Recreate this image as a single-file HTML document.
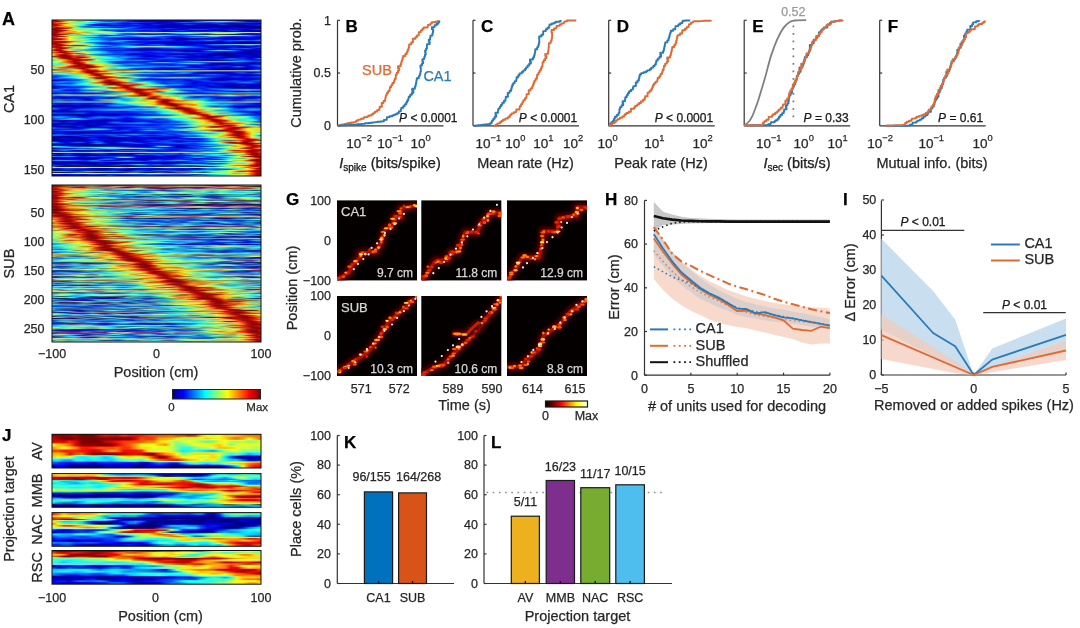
<!DOCTYPE html>
<html><head><meta charset="utf-8"><style>
html,body{margin:0;padding:0;background:#fff;width:1080px;height:628px;overflow:hidden}
body{filter:blur(0.4px)}
svg{position:absolute;left:0;top:0;font-family:"Liberation Sans",sans-serif}
text{stroke:currentColor;stroke-width:0.25px}
.hm{position:absolute;display:flex;flex-direction:column;overflow:hidden}
.hm i{display:block;flex:1 1 0;min-height:0}
</style></head><body>
<div class="hm" style="left:52px;top:20px;width:209px;height:156px"><i style="background:linear-gradient(90deg,#af0000,#d30f0f,#ff9e45,#ffd52b,#daf82b,#bce651,#9dd57b,#79bc7b,#4da65f,#129095,#008fcf,#007de8,#107afb,#106efb,#0466ee,#076ff2,#146ffe,#114afc,#051df0,#060cee,#0506e1,#0303d6,#0101d3,#0101d0,#0303c4,#0303c3,#0101c6,#0202e9,#0202d7,#0303c1,#0404db,#0610f1,#001be3,#0032d9,#003cc8,#002da8,#002f8a,#002e8c,#003d99,#00319c,#002a86,#001e87,#001396,#0008a7,#0000c7,#0303d6,#0811f2,#164cff)"></i><i style="background:linear-gradient(90deg,#bd0b0b,#be0000,#b52a00,#dd9c00,#e3ff34,#bae44f,#8cc46a,#8bcf8d,#a8ffba,#6fecf1,#31dcff,#1494ff,#0069ea,#005ce9,#0b6df6,#0871f3,#0056e5,#0032e4,#021aed,#0004e6,#0001dc,#0202d5,#0303d5,#0303d2,#0101c2,#0101c0,#0303c7,#0202e9,#0202d8,#0101be,#0000d7,#000aea,#1032fa,#1d62ff,#318fff,#4bb4ff,#5dcbff,#69ccff,#64ceff,#5dc9ff,#50baff,#4092fb,#2e65e8,#1b37d6,#090dd4,#0101d4,#0007e8,#002adf)"></i><i style="background:linear-gradient(90deg,#bd0707,#ff4514,#ff7e2d,#ffd74b,#b9e752,#86f77f,#85fe8e,#6bfea6,#32f9d5,#06d9ef,#17bbff,#2ea7ff,#369eff,#2890ff,#1976ff,#1956ff,#1735f8,#142ef3,#1b43ff,#193bff,#1225e8,#1020e3,#1123ea,#0b16e8,#0202d7,#0101d9,#0002dc,#0406eb,#1226ee,#2350f6,#275cfd,#214aef,#224ce7,#285aea,#295dec,#224ef8,#1549ff,#1b64ff,#3072ff,#285af2,#1b3be7,#1f45e8,#2451ed,#1d40ec,#1833de,#172fd3,#1222cf,#152ad2)"></i><i style="background:linear-gradient(90deg,#b90303,#e72d00,#d23700,#bb7300,#b9e752,#8dfe86,#7df686,#64f69f,#33fad6,#16e9ff,#00a3e9,#005bcd,#0041c4,#004fd2,#0053e0,#002fdd,#000ed1,#000cd1,#0015d8,#0011d7,#0008cb,#0006c9,#0008cf,#0005d7,#0202d7,#0404dc,#0608e3,#0103e8,#000ad2,#0013b9,#0016b8,#0010b5,#000fab,#0013a2,#0014a2,#0013bd,#002ae0,#003bdc,#001db9,#0014ab,#000cb8,#000eb2,#0011ad,#000eba,#0009b4,#0006aa,#0003b0,#0005ad)"></i><i style="background:linear-gradient(90deg,#a10000,#b50b0a,#ff5915,#fad80f,#ddeb2a,#bdff69,#7bffa2,#25fbec,#088cf2,#002ae5,#000bea,#0304e8,#0c1aed,#142deb,#1b3ce4,#1732e4,#0d1cf2,#0317ee,#0d26f8,#1634fc,#0620f0,#0003e1,#0303d6,#1023e9,#0e1de5,#0404d3,#0101c4,#0000c3,#0303ba,#0404cb,#142bdf,#1a3bf1,#0c18e7,#0303ca,#0404b2,#0404af,#0404aa,#0606ba,#1831d8,#1730d3,#0707b4,#030390,#03038e,#0606a8,#0a11dd,#0306ed,#020deb,#0424ed)"></i><i style="background:linear-gradient(90deg,#c21515,#a90000,#e84100,#fcda12,#e2f02f,#a3eb4f,#69f18f,#1bf2e2,#0b8ff5,#0f40fa,#0712f1,#0202e7,#0007db,#000bc9,#000db5,#000bbc,#0009de,#0317ee,#0013e5,#000fd7,#011beb,#0609e8,#0101d4,#0008cf,#0006cf,#0000d0,#0303c6,#0404c6,#0101b8,#0000c6,#0008bc,#000fc5,#0006d4,#0101c7,#0000ad,#0000ab,#0000a6,#0000b3,#0008af,#0007aa,#0000aa,#00008d,#00008c,#0000a0,#0003ce,#0104eb,#040eed,#0424ed)"></i><i style="background:linear-gradient(90deg,#900000,#e83d22,#ff8436,#ff821f,#ffb939,#b6e25e,#1dc8bc,#0083e1,#0059de,#0374ed,#118bfc,#1478ff,#085af2,#0544ee,#1036f9,#1532fc,#072cf1,#002add,#0033dc,#0032ea,#081bf3,#070be2,#090ed6,#0a11d1,#0404b0,#0303a2,#0101a9,#0101a8,#0000ae,#0000bd,#0000b6,#00009e,#01019c,#0303b0,#0303b6,#0000b3,#0000b3,#0000aa,#020299,#020296,#00009d,#0000ac,#0000a0,#02028b,#02028b,#02028b,#02038a,#03038a)"></i><i style="background:linear-gradient(90deg,#dc4c2c,#b20700,#c92d00,#e25b00,#cb6400,#abd753,#4af5e9,#1ca9ff,#1c81ff,#0e7ff8,#0079ea,#005fe5,#0558f0,#0646f0,#001ee2,#0010da,#0126ec,#1850ff,#1a5bff,#0a3df5,#0011e9,#0002d9,#0001c9,#0001c1,#0000ac,#00009f,#0202ab,#0202aa,#0303b1,#0606c6,#0606bf,#0303a1,#02029d,#0000ac,#0000b3,#0505ba,#0505b9,#0404ae,#010198,#010195,#0404a2,#0505b3,#0404a5,#01018a,#01018a,#010189,#000188,#000187)"></i><i style="background:linear-gradient(90deg,#870705,#8a0000,#a60000,#a92200,#a98010,#aaff7b,#68faa1,#65f49b,#7af488,#6ff697,#2bf7de,#2ce4ff,#42daff,#38ddff,#23cdff,#24b2ff,#229bff,#1570ff,#0543ef,#0027e4,#001ddd,#001ee3,#0020e8,#001de5,#0011e4,#0a18f2,#1633ec,#132be2,#080fdd,#0303e1,#0202e8,#0009df,#000dd1,#000dcf,#000dcf,#000ada,#050def,#0c1aea,#0406e4,#0002e3,#0006e8,#080ee8,#0a13de,#080fdf,#0404cc,#0001c1,#0008af,#0008a8)"></i><i style="background:linear-gradient(90deg,#830302,#950909,#d1251b,#ff8e40,#f5cd5c,#91ed61,#69fba2,#6ffea5,#82fc90,#73f99b,#2af5dd,#00b6d7,#0088bf,#009aca,#009cdd,#007dda,#0067d9,#0054e4,#0644f1,#103dfb,#1742ff,#0f35f9,#092af2,#0b2cf4,#0b21f4,#0009e3,#000ec7,#000ac2,#0003d1,#0202e0,#0202e7,#0f21f7,#1734f9,#1734f6,#1835f7,#1124f4,#0109eb,#0008d8,#0102e1,#0507e8,#070ff0,#0005de,#0004cf,#0004d4,#0000c9,#0b12d2,#1831d8,#1a35d5)"></i><i style="background:linear-gradient(90deg,#b50606,#870000,#a30000,#aa2000,#eb9c06,#ffe639,#d9f62b,#90ff87,#6dfda2,#6ef18a,#58e78d,#38a47c,#0b7089,#005fb3,#004ed5,#0135eb,#012eec,#003ee7,#0047e9,#0030e8,#0014e4,#000fe4,#001ceb,#0527f0,#051cf0,#0303e8,#0609e0,#0d1be3,#122aec,#1738f9,#122dfc,#0006dd,#0009ca,#0009d0,#0006d0,#0007d1,#000ad1,#000ab3,#0005c3,#0303ca,#1023e4,#1b3fe8,#1329dc,#0303cf,#0000be,#0001ae,#0305a2,#0305a2)"></i><i style="background:linear-gradient(90deg,#b30303,#930909,#c21514,#ff7a35,#ffb31c,#d0ad00,#e3ff34,#84f57b,#68f89d,#80ff9d,#7dffb2,#8af6cd,#78ddf6,#4bccff,#2589ff,#093df4,#0835f3,#0e50f9,#0d55f8,#0d40f7,#0e29f9,#0d23f8,#0724f2,#0325ee,#0118ec,#0202e7,#0002d9,#0007cf,#000cce,#0012d2,#0010df,#0810e7,#0e20e0,#0c1ce3,#0913dd,#0c19e3,#132af0,#1a38e1,#0f1edc,#0101c8,#0009c9,#0011ba,#0009bc,#0101cc,#0404c2,#0303b0,#00029f,#00029f)"></i><i style="background:linear-gradient(90deg,#9d0505,#a60000,#f15107,#ff861d,#ff7e24,#ffa827,#ffc11f,#d9b601,#9bbb53,#91dc83,#a2ff86,#abff81,#b1ff6f,#9cff83,#7fffa4,#83f1be,#7ddfe4,#71d9f9,#80e0e6,#a1e4cd,#bddad3,#c3dbcf,#bad7b9,#afc8ae,#b9d3b8,#c0d5d4,#abd7d7,#8fdfd2,#6de6d2,#5cedca,#6bf6b5,#91fe99,#90da8e,#9fe19e,#afe9b6,#b5e3b4,#95ed93,#a7fb72,#a7f15f,#a6ed5b,#9ff46f,#90fd94,#abe9b1,#b7d5d5,#d1d4c4,#cdc0bb,#d4d5bd,#c4d3c2)"></i><i style="background:linear-gradient(90deg,#9b0303,#b50c0c,#f8570d,#e56400,#dc4a00,#de7500,#e9a000,#ffe631,#b4d46c,#84cf77,#84e268,#8aeb61,#9df25b,#88f170,#66eb8b,#48b783,#1f8085,#086f8f,#1c7c82,#367862,#2d4a44,#324a3e,#496648,#546c52,#4a6348,#2b4040,#285354,#2f7f72,#31aa96,#3ccca9,#54de9d,#70dc78,#78c277,#68a966,#4f8955,#507e4f,#75cc73,#99ed64,#acf664,#aff664,#9aef6a,#73e177,#518f57,#2a4847,#292c1c,#322521,#2b2c14,#1d2d1c)"></i><i style="background:linear-gradient(90deg,#850000,#9a0000,#8a1000,#963a00,#86b870,#95dc7a,#8dbc69,#96ce80,#a0ffaf,#63f5dd,#3beaff,#31aeff,#46acff,#6cd2ff,#50d6ff,#1a89ff,#0058e3,#005fd5,#0042bb,#004eac,#004898,#003586,#002c7d,#003585,#004a97,#004da8,#0048ba,#0042c8,#0042d8,#0042e9,#004bdc,#0048c7,#0048ae,#00488d,#05406c,#163750,#2b4b45,#3c5a4c,#3c5046,#303f3a,#1a2f41,#013049,#002c58,#002a76,#002492,#0019aa,#0011cf,#0935f1)"></i><i style="background:linear-gradient(90deg,#8e0808,#b21010,#e46b35,#ffb663,#96c87f,#8ed673,#9dcb79,#86be70,#59ba68,#29bca3,#00acc8,#0063cc,#0038ae,#004290,#005eae,#0065e1,#1676ff,#269bff,#40b2ff,#51c3ff,#65c6ff,#76c2ff,#7dc0ff,#77c2ff,#66c7ff,#55c4ff,#41baff,#3196ff,#1f73ff,#0e52f8,#1c75ff,#339fff,#4ebfff,#70c8ff,#92cdf9,#afd0e9,#bcdbd5,#b5d4c5,#bacfc5,#c6d5d0,#b7cddf,#9bcbe3,#7fc4f0,#5fbcff,#449fff,#306fff,#1d42ff,#002ce8)"></i><i style="background:linear-gradient(90deg,#d52216,#a80200,#802a00,#c95200,#ddec26,#b6ff60,#75f992,#3afadf,#58ebe9,#55dfff,#31bdff,#1271fc,#1892ff,#2fbcff,#3dc6ff,#36b9ff,#248dff,#1767ff,#1a66ff,#2b82ff,#42a8ff,#3bbbff,#2da4ff,#2984ff,#1e6aff,#0853ef,#0032e9,#0921f3,#122af3,#1432f6,#1244fc,#0451ef,#0056e4,#0057df,#085ee3,#2181f7,#45b2ff,#4fb1ff,#3a73ff,#2b48ee,#2235ef,#182bf3,#122ff3,#1631f8,#1b41f5,#1638fe,#0b1af5,#1126dc)"></i><i style="background:linear-gradient(90deg,#b30000,#db3520,#ffb650,#ffa83a,#e7f630,#acf656,#78fc96,#29e9ce,#1baeac,#018bad,#006dcc,#005ce7,#0073e2,#0071ce,#0068c1,#005ec6,#0056d7,#0045e0,#003fde,#003ccd,#003ab5,#0060c2,#0066cf,#0049d0,#0041d9,#0853ef,#0b3ff6,#0016e9,#000dd6,#0011d5,#002be3,#0855f3,#1570fd,#1a74fc,#166df2,#0363da,#0052b7,#003ba9,#0023b1,#0013b8,#000ec8,#0013da,#001ce0,#000fd6,#0014c8,#0014da,#000ae6,#0009bf)"></i><i style="background:linear-gradient(90deg,#9f0000,#b91411,#e22216,#fc7111,#e4ff30,#a6f050,#8be571,#68ec87,#2bf3db,#1cd8ff,#089af3,#0374ee,#0957f4,#0341ed,#002dea,#0015eb,#000ae8,#0009e2,#0305de,#0203de,#0202e2,#0306db,#0408ca,#0305ce,#091bf3,#0a3df5,#0011e0,#0007b1,#0000ae,#0000ac,#0304ad,#060aaa,#060dac,#000ebe,#0011bc,#000ccb,#000ad6,#000cd5,#0009da,#0304e6,#0303d6,#0101be,#0001b6,#0101d2,#0408eb,#0205ed,#0005db,#000db5)"></i><i style="background:linear-gradient(90deg,#b00c0c,#a00000,#c20300,#ef6405,#def92a,#bcff66,#99f37f,#83ffa2,#2df5dd,#00b8e6,#0c9df6,#0d7df7,#0452ee,#0847f3,#0a38f5,#071cf2,#0611ee,#0711e9,#0204dd,#0203dd,#0303e2,#0104d8,#0004c6,#0104cd,#0011e9,#0033ea,#0f28f6,#1225cf,#0606b7,#0404b1,#0103ab,#0003a2,#0005a4,#0717c7,#0e28d3,#0a1ad9,#0c1be8,#152ff8,#1022f3,#0102e4,#0101d3,#0304c0,#0405ba,#0303d3,#0104e8,#0205ed,#0a13e9,#1d3fe7)"></i><i style="background:linear-gradient(90deg,#bb0a0a,#dd5c2c,#ea7836,#ffa545,#ffd358,#ded968,#b2dd69,#8dee64,#45f1b3,#19eee4,#0be3f5,#0bb7f6,#0784f1,#0062e6,#0074e1,#0599ef,#1ea5ff,#2d8dff,#2565ff,#1a44f7,#112cf5,#0826f2,#0d33f5,#173ef6,#1535eb,#132eea,#122bef,#0b1af2,#0004e1,#0002d9,#060ee7,#112ef4,#103af7,#1032fb,#1841fc,#286cff,#2769fd,#1839e7,#0d1ee6,#0c37f6,#0e51f6,#1a4dff,#2460f2,#2868ea,#1f4de3,#1d48e6,#2868f2,#2f79ee)"></i><i style="background:linear-gradient(90deg,#af0000,#931300,#8e1c00,#902f00,#ad5e00,#9f9928,#a0cb56,#a8ff7e,#56ffc5,#23f9ee,#10e8fb,#0bb7f6,#0b88f5,#147bfe,#1b99ff,#0fa3fa,#007cdf,#0042cc,#0027c9,#0019cc,#0011db,#001eea,#0021e4,#0018d0,#0012c8,#000fcc,#000fd2,#000ae2,#070dea,#0608e0,#0006e0,#0013da,#0022df,#001ae3,#0018d3,#0028bf,#0026ba,#0012c0,#0009d1,#0028e6,#0041e6,#0023d9,#0022b4,#0023a6,#0018af,#0017b5,#0024ae,#00279c)"></i><i style="background:linear-gradient(90deg,#b30e0e,#ab0505,#ba0400,#a21e00,#d47d00,#dbea24,#92eb64,#4df3af,#14b8c5,#0089d8,#0066eb,#1252fd,#183ffd,#1636f1,#1a40f6,#1c4fff,#1158fb,#0041eb,#0024d9,#001cd8,#001de7,#0410ef,#0304e2,#0001d4,#0002cd,#0000d0,#0000c8,#0101c3,#0102c1,#0202c9,#0101c8,#0000b9,#0001bd,#0304d4,#0303cc,#00009f,#00009c,#00009a,#00009a,#0305b7,#070ace,#0404c0,#010198,#010190,#000091,#000098,#0000a6,#0000a8)"></i><i style="background:linear-gradient(90deg,#9f0000,#a90303,#e32c1a,#ff8d41,#ffc532,#e9f832,#a7ff79,#5affbc,#3fe2f0,#27beff,#0f74fa,#0038e4,#0017d5,#0012cd,#0015cb,#0021d9,#0042e6,#0b4cf6,#1a4eff,#1945ff,#0b2bf5,#020dec,#0203e2,#0507da,#080ed9,#0506d6,#0404cb,#0303c5,#0304c3,#0203c9,#0202c9,#0404be,#0405c0,#0101d2,#0101ca,#0303a2,#03039f,#04049e,#04049f,#0002b4,#0001c5,#0000bc,#02029a,#020291,#030393,#04049d,#0505ae,#0d17bf)"></i><i style="background:linear-gradient(90deg,#c00500,#a00000,#ae0f0c,#fe5626,#ffdb5d,#a8cdae,#bfce9e,#dbcf8a,#cfdc68,#65f094,#05cbe0,#008cdb,#0067d7,#0048d9,#0031de,#0049e6,#006de9,#0064e4,#0046df,#0028de,#0018df,#001de2,#0740f1,#125efd,#0354ee,#0030dd,#000cdd,#000ad5,#0007cf,#0003c8,#0004c3,#0006c2,#0007e6,#0b1cef,#0a19e7,#1642fc,#176dfd,#1983ff,#238aff,#38acff,#52b4ff,#69b9fb,#7bbbed,#81bfe0,#77c8d4,#70c7db,#70baf9,#60bbfd)"></i><i style="background:linear-gradient(90deg,#e62c1a,#b60f0f,#9e0000,#c31b00,#824b00,#335839,#485827,#645813,#9fac38,#76ffa6,#24eaff,#24bfff,#249eff,#1c73ff,#154ffd,#115ffc,#117ffc,#167fff,#196aff,#174cff,#1337fe,#1136fb,#043dee,#0047e5,#0a5af4,#1957ff,#132bfc,#1226f2,#0f1ee6,#0a12d7,#0c17d6,#0f1fdb,#0913f2,#000ddf,#000ad9,#001fd9,#004bdc,#0060dc,#0054d3,#004dbf,#0049a4,#004d8f,#0a4a7d,#185777,#267783,#20778c,#024d8b,#004687)"></i><i style="background:linear-gradient(90deg,#cc0f00,#a30000,#d01a12,#ffb944,#caaf66,#abc843,#b4cf32,#99d140,#5cda86,#2fa599,#0089bd,#0059d3,#0046df,#0057e7,#0671f1,#1b90ff,#25bcff,#27e1fa,#3be8dc,#5be1d0,#7cd7cc,#92d4c7,#9dd1c3,#99d4bd,#90dcbf,#7fe0c6,#65d9cf,#4ad6df,#2dd1f3,#15c0ff,#0c99f6,#0474ef,#0050e9,#003ce8,#001ee4,#0006da,#0207d2,#0409c2,#0306b6,#0303bc,#060ff0,#001aea,#0005e6,#0406d0,#050bd8,#0012d3,#000dde,#0040e5)"></i><i style="background:linear-gradient(90deg,#ea2d16,#ab0808,#b70100,#a44a00,#957a31,#bfdc57,#d2ed51,#c6fd6d,#83ffad,#6be1d5,#43ceff,#289aff,#1869ff,#126dfd,#0973f4,#006ae0,#0086da,#0ac4dd,#2ad7cb,#35bba9,#379287,#3b7c70,#3f7365,#45806a,#449174,#3e9f85,#35a89f,#24b0b9,#10b3d5,#01adec,#0795f2,#0c7bf6,#0e60f9,#0c4af6,#0c2ef5,#0b16e9,#0308d3,#0106c0,#0104b4,#0101ba,#0007e8,#0722f2,#060bec,#0103cd,#0006d3,#0c23e5,#122bfb,#0d4ff4)"></i><i style="background:linear-gradient(90deg,#ffc328,#d71a12,#a90000,#a82500,#abb946,#a4ee78,#aae67e,#a3ff9f,#54f2ea,#24b1f8,#117af2,#0a53f4,#073ff2,#0032ea,#0030e8,#0037ea,#053aef,#0a2bf4,#0f21ec,#0d1cd6,#0a13c4,#0810d0,#080ed4,#0911d0,#0b15de,#132ce8,#1533eb,#183cec,#1a43f1,#1635eb,#0e1eee,#041bef,#081cf3,#0e1ee0,#1124d3,#1127d4,#0a19e8,#000be2,#000ddc,#0815ec,#112ce3,#183ee1,#1942dd,#1e51da,#1f55e2,#112ceb,#020ad3,#0012ab)"></i><i style="background:linear-gradient(90deg,#df9000,#bf0100,#b90c0c,#ff9b45,#c2d05d,#91db65,#8ac55e,#6acb66,#1bb9b1,#0795db,#0871ea,#034ced,#033bee,#0a3cf5,#0d40f8,#0b42f5,#053af0,#0020e9,#0009d5,#0007c0,#0005b5,#0003c3,#0003c9,#0004c3,#0003cd,#000dca,#0010c8,#0013c3,#0017c5,#0010c6,#0009d9,#0319ed,#0013e9,#0008ca,#0008b7,#000bb8,#000ad9,#0d1ff6,#122af9,#000ce3,#0010c8,#0016b9,#0018b3,#001ea8,#0020ae,#0011cf,#030ad4,#0f2ac4)"></i><i style="background:linear-gradient(90deg,#a53f00,#8c0600,#ab0404,#ef6a32,#f9d370,#9ec6af,#70c79f,#4ac484,#24b0a6,#10a5b8,#0095c3,#0074ce,#0048d5,#0020dc,#001ad2,#001ad4,#001bdf,#001cdc,#0012d4,#000ecc,#000bc7,#0008c8,#0009cf,#000ed1,#0014d6,#0011dc,#0009d7,#000abf,#000ab8,#0004c4,#0000c4,#0306b2,#0304ba,#0404cc,#0f2adf,#1f61f7,#309aff,#4cb5ff,#5bbaff,#4eafff,#32a3ff,#216bff,#1032f0,#0202d9,#0101b8,#0000af,#0203bf,#070cbb)"></i><i style="background:linear-gradient(90deg,#ffa357,#d6512b,#ac0505,#9c1700,#855f00,#537b64,#65bc94,#83fdbd,#5feae0,#4be0f3,#3fd5ff,#30c1ff,#2482ff,#1846ff,#153bf3,#153df7,#143bff,#1843ff,#1d43ff,#1a3af7,#152eeb,#1124e5,#1125ec,#1836f9,#183cfd,#112cf7,#1024f1,#1630e4,#1731df,#0d19d8,#0404c8,#0003af,#0102b7,#0000c8,#0013c9,#002ec4,#0049c3,#0052b0,#0052a2,#004fad,#004ec1,#0034cd,#001ad7,#0202da,#0303ba,#0404b3,#0202bf,#0001b0)"></i><i style="background:linear-gradient(90deg,#d46b00,#d83100,#990e00,#b90101,#f45b23,#e6af5c,#f4c069,#ffde50,#c2f441,#5ffaaa,#2ef8ec,#1ce6ff,#10affb,#006beb,#0044e8,#003fea,#084cf2,#124efd,#1740ff,#163dfc,#1132fb,#0513f0,#000fe5,#091cf4,#1435f5,#1334f3,#1332ed,#173eed,#1a4bf7,#1b4cec,#153ce7,#1745e2,#163ddc,#0b1fe5,#0c21ea,#102ce7,#0b1adf,#0505c9,#0506b7,#0505b8,#080bcb,#0d1cd4,#0202ca,#0000aa,#0000a5,#0000b1,#0303cd,#0101cd)"></i><i style="background:linear-gradient(90deg,#ffa32f,#ff6925,#e95e2f,#c00909,#bf2600,#a66f1c,#915d07,#b79103,#ccfe4b,#60fbab,#1be5d9,#00c8e8,#05a3ef,#107bfa,#0e55f9,#0b4bf6,#0448ee,#0034e3,#001cdb,#001bda,#0019e2,#010eeb,#0717ed,#0010e8,#0016d6,#0016d4,#0014ce,#0018c8,#0020cc,#0020c0,#001ac4,#001ebc,#001ab9,#000fd5,#0010d9,#0014cf,#000acf,#0000c3,#0000b0,#0000b1,#0000bf,#0008c0,#0101c9,#0404ae,#0404aa,#0303b4,#0101cb,#0303d0)"></i><i style="background:linear-gradient(90deg,#c4fd54,#f6540b,#b22215,#a50c0c,#e63d19,#ffb344,#a8a384,#888e89,#679b68,#199eb5,#0094e5,#0073e9,#0056e2,#0046da,#0030d3,#0042df,#003ae7,#0011e1,#0009cd,#0008c3,#0006ca,#0203df,#0509eb,#070fed,#0421ec,#0325ea,#000ee2,#0008c7,#000bba,#000cb1,#0006ba,#0101ca,#0710da,#091bf0,#0406e8,#0202b4,#0101ac,#0000b6,#0000aa,#000092,#010191,#0202b2,#0404d5,#0101d7,#0000ba,#0101a4,#0404ae,#0003de)"></i><i style="background:linear-gradient(90deg,#b9f248,#f35209,#930200,#960000,#c11800,#c06f00,#7b7657,#767c78,#9cd09e,#4dd2e9,#1ab4ff,#1286fc,#1775ff,#1e75ff,#246bff,#1866ff,#0e4cf9,#102bfb,#1226ea,#1124df,#0c18dc,#0305e1,#0003e5,#0008e5,#0320eb,#0528ed,#0a1bf0,#1125e4,#1732e1,#1b3be0,#1021d5,#0303cb,#0008d2,#000fe5,#0104e6,#0101b3,#0202ae,#0505bd,#0505b0,#030394,#020292,#0101b1,#0101d2,#0303d9,#0709c3,#0202a5,#0000aa,#0509e4)"></i><i style="background:linear-gradient(90deg,#794900,#b32500,#c10000,#830000,#a00404,#f42609,#d62018,#e04122,#ff8823,#e0dc1a,#9ef76d,#6cea93,#44e2ac,#11c4cf,#009ae4,#007eea,#0087e9,#0076e9,#015fec,#014aec,#001fe6,#0007d1,#0005cd,#0006d6,#0009d8,#000ee8,#0027e4,#002ee4,#0019e8,#0612e0,#070ce3,#0507da,#0404da,#0303d3,#0101c0,#0000c7,#0202e4,#0a1ae9,#0811de,#0404c4,#0202ae,#0000b3,#0002c2,#0007c8,#0103de,#0202c6,#0101b1,#0304af)"></i><i style="background:linear-gradient(90deg,#deae4b,#f76a2b,#cf0c0c,#880606,#a00404,#f02306,#b10000,#a90b00,#de5800,#f2ef2c,#9ef76d,#77f59d,#5cfac4,#36e9f4,#1cbcff,#1291fd,#149dff,#138bfd,#0d6cf8,#0b53f5,#0c30f7,#0c19e3,#0c17df,#0c18e8,#0711e0,#0919f3,#103dfa,#1044fb,#0a25f5,#000bd9,#0003da,#0002d5,#0101d7,#0101d2,#0202c1,#0404cc,#0303e5,#000ddc,#0007d3,#0000c0,#0101ad,#0303b6,#090fcf,#0f1edf,#0406e1,#0202c6,#0202b2,#0102ad)"></i><i style="background:linear-gradient(90deg,#79ffa6,#bcd548,#b04d00,#9e1400,#a60000,#b21310,#c72e17,#e29132,#c2b875,#accbac,#73e886,#30f7d3,#2af6f4,#2defff,#18ddff,#03b6ee,#048def,#0554f0,#002de9,#0022e2,#0019dc,#0010e8,#0215ed,#021bec,#0d3ff7,#1341fd,#184afc,#1b52f8,#194df7,#1542f4,#0e29e6,#060dd9,#0712dd,#0a1de5,#0918e3,#0812df,#0710e9,#0317eb,#0018e4,#002de2,#0556e7,#0854ee,#0031e7,#0020e1,#0009dd,#0002dc,#1340e9,#2a8feb)"></i><i style="background:linear-gradient(90deg,#64ef91,#c1da4d,#ffa650,#f86e35,#b60c0c,#9b0000,#a50c00,#924100,#5e5411,#517051,#84f997,#36fcd8,#12dfdd,#05c7d8,#01c6eb,#14c7ff,#0f97f9,#0756f2,#0b3af5,#123cfc,#1134f7,#091cf4,#0417ef,#051ef0,#0030e8,#0026e1,#0023d5,#0025cc,#0025ce,#0022d3,#0015d2,#0005d2,#0008d4,#000fd7,#000cd7,#0007d5,#0008e1,#0316eb,#071fec,#0a37ec,#0858e9,#0551eb,#0d42f8,#133cfd,#0d1df1,#0609e2,#0022cb,#0048a5)"></i><i style="background:linear-gradient(90deg,#4dcc8c,#95f66c,#d2e838,#f57d0a,#f13413,#9c0202,#a50000,#bd2800,#936714,#a2a741,#aaff71,#5dfdb2,#34f0e0,#3cd6fd,#3acbff,#34adff,#2786ff,#1e6eff,#206cff,#2578ff,#2476fd,#1d5ff5,#1747ef,#1132ec,#0b1de9,#0813e7,#0818ea,#0623ec,#0029e4,#002cda,#0035cf,#003fc4,#002ab2,#002190,#001f8b,#002182,#001c70,#001e62,#00236e,#002a8b,#0038a9,#0054c2,#006ed7,#0072e5,#0055e8,#013aec,#0134e7,#002ed3)"></i><i style="background:linear-gradient(90deg,#7bfabb,#a0ff77,#d4ea39,#f8800d,#da1c00,#a00606,#bc1010,#ff7631,#dfb35f,#c3c862,#9bf061,#57f7ad,#26e2d2,#049ec5,#0074c5,#0055c7,#0046d2,#003ed9,#0038d5,#003bc6,#003ac1,#002fc6,#0023cb,#0018d1,#000dd8,#0009dd,#000de0,#011ee7,#0b36f1,#174ffd,#226dff,#2e8eff,#4198ff,#5699ff,#669cff,#71a0ff,#799ff4,#78a1e5,#72a0ec,#649fff,#51a0ff,#3aabff,#25a6ff,#168dff,#1066fa,#0942f4,#083bee,#1651f5)"></i><i style="background:linear-gradient(90deg,#69ffae,#a9ff78,#a2d269,#c3840e,#e34200,#b20404,#9b0909,#fa2f18,#f3d82a,#6cf492,#88f579,#86f57a,#42eeb7,#00b5e7,#0061e8,#0030e4,#0037e8,#002bdd,#0043e0,#003ade,#002bd9,#002adc,#1261f6,#299cff,#4ca4ed,#55a4ea,#3ba3ff,#1f87ff,#025cec,#0070db,#0077c3,#087ab4,#077dbb,#0079ce,#085bdb,#1d44df,#2d3be0,#2f3dca,#2d3cbb,#283bb7,#2139c5,#123bd6,#0d34dc,#0f24cf,#0d1cb8,#0a12ad,#0a11b7,#0f1cd6)"></i><i style="background:linear-gradient(90deg,#5cf3a0,#94f163,#9fcf66,#f6b742,#fe5d17,#b20505,#900000,#d80d00,#e0c517,#79ff9e,#93ff83,#91ff85,#51fdc7,#1bd3ff,#1276fc,#1047fb,#0e48f8,#1850ff,#1662ff,#1456fa,#154bf9,#1143f5,#004ade,#005bc8,#025aa3,#0a5a9f,#0061be,#0058da,#0c67f7,#21a1ff,#3bbaff,#4bbdf8,#44baf8,#2fafff,#1e71f1,#0c33ce,#000cb1,#000a97,#000a89,#000b87,#000e9b,#0023be,#0022ca,#000bb6,#0006a2,#00029d,#0002a7,#0003bd)"></i><i style="background:linear-gradient(90deg,#49f8d9,#46f9c2,#49f0ac,#83ee79,#f3c043,#e03c16,#950606,#a30000,#c83019,#fd6231,#fac922,#daf334,#ade25e,#8be78a,#6bdcb2,#1dc8f5,#0c8af7,#1470ff,#217aff,#2380ff,#186eff,#0b52f6,#003ae6,#002ee3,#002ce3,#0029e1,#001fe7,#011fec,#0238ed,#013fe6,#1144d4,#263cdd,#263dea,#1f49ff,#1329e5,#0912c6,#0202b0,#0001c0,#0005b8,#0007bc,#0004d6,#060ad7,#070bbd,#0303c0,#0001dc,#001ed5,#0027cf,#0014c2)"></i><i style="background:linear-gradient(90deg,#2eddbe,#47fac3,#5effc0,#92fd88,#c28f13,#c11d00,#900202,#ab0808,#a20900,#c42900,#e6b60f,#d9f233,#abe05c,#7fdb7d,#53c59b,#0db8e5,#0582f0,#0056e5,#0046d8,#0048d6,#004ce0,#0148ec,#104ffb,#1044f9,#0e3ef5,#1142fa,#0c2ff7,#0724f1,#083ef2,#0a48ef,#0538c8,#000fb0,#000dba,#0017d0,#0009c6,#0004b8,#0202b0,#080ccb,#101fd2,#1225da,#0911e3,#0003d0,#0002b3,#0101be,#0506e1,#0f34eb,#184df4,#2454ff)"></i><i style="background:linear-gradient(90deg,#c3b61e,#f1cf3a,#ffc03b,#ff8123,#de1b00,#ab0100,#b10000,#c60c0c,#8a0505,#9f0000,#c43400,#d47a00,#dad420,#a4e26d,#6acd99,#46c08d,#1eacad,#03a4c7,#009bd7,#0092e3,#0696f1,#0b92f6,#108dfb,#1380fd,#166cff,#1d63ff,#2178ff,#2280ff,#2482ff,#2174ff,#134ffe,#061af0,#0202da,#0202d3,#081eea,#0829e9,#061be9,#0a20f0,#0d24ec,#0a15e6,#0915e5,#1242e8,#1a64e5,#113cd9,#0606d3,#0912e2,#112df8,#2168fb)"></i><i style="background:linear-gradient(90deg,#eadc45,#ceac17,#ca7b00,#de5200,#ed290e,#cc2216,#c71310,#b80000,#870202,#a70808,#dc4d14,#ffab30,#ebe531,#9cda65,#6dd19c,#7af4c1,#57e5e6,#3bdcff,#2ad4ff,#1cb6ff,#0d9df8,#078ef2,#017eec,#006ae8,#004ce2,#0036d7,#0043cc,#0049cc,#0049ce,#003fd7,#0034e2,#0115eb,#0202da,#0202d3,#0014e0,#0021e2,#0116e4,#0012e2,#0010d8,#0006d7,#0009d9,#0027cd,#003cbd,#0022be,#0000cc,#0005d6,#0013de,#0031c4)"></i><i style="background:linear-gradient(90deg,#72e0ff,#bdd297,#af8c65,#a5855b,#9ca450,#b4801c,#a82900,#9e0000,#cd3012,#ff9a26,#ffbc37,#e1f52e,#96ff84,#65e8c0,#41d0e3,#4ddeef,#3fd6ff,#29acff,#1064f9,#033edd,#022fde,#002ee3,#0024e3,#0814e5,#050ae7,#0005e2,#0101d9,#0303be,#0404d7,#0b22e3,#1443e6,#1753ea,#1756e5,#154cde,#0e33ee,#051aef,#0405da,#0404b2,#0303a8,#0303b1,#0303a7,#0202a9,#0000b2,#0000a7,#0000b8,#0007dc,#0017dd,#0026df)"></i><i style="background:linear-gradient(90deg,#02708e,#6c8147,#9c7952,#a6865c,#b5bd69,#e8b550,#ff8d46,#c12217,#b51900,#d46500,#cf8100,#dff32c,#87f175,#46c8a1,#1fadc1,#14a6b6,#0097c2,#007ed5,#0053e8,#0743e1,#0734e4,#0f42f7,#0a2fed,#000bdb,#0005e1,#0810ed,#0303db,#0101bb,#0000d3,#0013d3,#0024c8,#0030c7,#0032c1,#002bbe,#001fda,#0217ed,#0001d6,#0000ae,#0000a4,#0000ae,#0000a4,#0202a9,#0404b6,#0404ab,#0303bb,#0c18ed,#1437fd,#0d37f0)"></i><i style="background:linear-gradient(90deg,#9d831e,#b89419,#ca992c,#d08d31,#da983a,#efc22b,#ffdb25,#fb3613,#a90909,#ab0d0d,#d31b15,#ff9435,#e88438,#c49c25,#b4a21d,#b38a14,#b67917,#b28713,#9e9b32,#88b75e,#7fcf7e,#82d591,#84cc82,#79a878,#7fab7d,#7dc088,#69ba8e,#5eb78f,#5db29c,#71af98,#8daa80,#8ba07e,#86ac8a,#7da69c,#96a4a0,#a1a69f,#90a2a6,#85a0a0,#8fa28a,#94a28d,#8ca09a,#89a19d,#85a1ab,#80a0ae,#84a1aa,#92acac,#95b7b8,#8ab0c1)"></i><i style="background:linear-gradient(90deg,#e7cd68,#edc84e,#d9a83a,#d28f33,#c98629,#ddb019,#e4b803,#e52100,#a00000,#9a0000,#b30000,#b43e00,#c96619,#e1ba42,#ead753,#f2c853,#edb04e,#f2c753,#d4d168,#a9d87f,#89d888,#75c884,#84cc83,#8cbb8b,#86b184,#7dbf88,#76c79b,#6ac39c,#5db29c,#619f88,#769369,#788d6c,#6b916f,#567f75,#5b6865,#61655f,#536569,#456060,#4b5d45,#4f5d48,#4b5f59,#465e5a,#425e68,#3e5f6c,#415e67,#466060,#416464,#3d6375)"></i><i style="background:linear-gradient(90deg,#53a68d,#6dbf76,#70c372,#7ecc74,#bbc44f,#ffd41c,#f7a40c,#e06100,#a40700,#a20000,#c53914,#e39b2a,#d6b557,#e0cb73,#9ee589,#78ba7a,#618369,#67916c,#56927b,#348c9a,#137db4,#0065c1,#006ad2,#006fe0,#004ddc,#0048d8,#004ad5,#0047e3,#0068eb,#0581f0,#0a89f4,#0d6ef8,#0827f3,#0512d2,#0009ca,#0009c9,#0007c3,#0002d0,#0102d8,#0303d3,#0303db,#0718e2,#0c3ff0,#0741ec,#0016e1,#000ad6,#0023d3,#0043d2)"></i><i style="background:linear-gradient(90deg,#76cab1,#90e299,#96e897,#94e28a,#b8c04c,#eebd05,#faa70f,#ff8b21,#da3d21,#b10c0c,#a91e00,#a35b00,#836205,#8f7922,#7ec56a,#8cce8d,#99baa1,#97c19c,#88c4ac,#68bfcd,#4bb5ec,#3ca3ff,#2aa0ff,#1c96ff,#1c78ff,#176af9,#1364ee,#125ffb,#0f78fa,#0c88f7,#0887f3,#0263ec,#001fea,#010ece,#0712d3,#0916d6,#0811cd,#0508d6,#0303d9,#0102d1,#0101d9,#0012db,#0032e2,#033de8,#0922ed,#1226f3,#1e55ff,#2782ff)"></i><i style="background:linear-gradient(90deg,#388ae7,#4ca1e9,#56c8ef,#5be4e5,#61dec0,#68e79f,#87ea7f,#b1e54b,#f3b109,#d11000,#950000,#c80c06,#de9d07,#cfb506,#adde4a,#71f9a2,#4efddb,#40dadb,#38a8d7,#2c77db,#2259e2,#1f52ee,#1e4fff,#1d47ff,#1747ff,#0c46f7,#0b3df6,#0f30f9,#122cf2,#102ae2,#0d25de,#0c19e8,#0b1be4,#0d2fe9,#1349f0,#165af6,#165bf3,#124ef4,#093af0,#0322e5,#0306e2,#0202d3,#0204cd,#050ac3,#060cb7,#0a15b3,#1128c7,#1636da)"></i><i style="background:linear-gradient(90deg,#1466c3,#1469b1,#1284ab,#1fa8a8,#46c3a5,#69e8a1,#8bee83,#c0f45a,#ffbc14,#fd3c1d,#9c0808,#c60a04,#e9a813,#ffe939,#c0f15e,#68f099,#2ddcba,#29c3c4,#2999c7,#206bcf,#1249d1,#0133d0,#0025d7,#0016d7,#0023dd,#0038e9,#0030e9,#001ae2,#0010d5,#0011ca,#0011ca,#0007d6,#000cd4,#001dd7,#002ed5,#0039d5,#003ad2,#0034da,#0031e7,#0523e7,#0205e1,#0202d4,#0204cd,#0006be,#0005b1,#0006a4,#000baa,#0012b5)"></i><i style="background:linear-gradient(90deg,#1144fc,#0040ea,#0071e5,#00a3e8,#07d8f1,#1df6e4,#65f59a,#b6f951,#d0de3a,#feb242,#d24918,#ba0606,#b32714,#eb4920,#ff7c30,#e2dd69,#c5d373,#cbc877,#7cce8c,#3ab692,#1f93a1,#0086bf,#0062db,#0045d0,#0042be,#004aac,#084799,#11538c,#134f84,#125789,#0a5594,#0053a0,#005cb0,#0054c5,#0048d2,#0045e0,#053ee8,#0a2eec,#091be8,#060ae3,#0616e5,#0c36f0,#0b30f4,#0512ee,#0011e4,#0628e6,#0e3de3,#1148e5)"></i><i style="background:linear-gradient(90deg,#002ce3,#0b4bf6,#178eff,#18bdff,#13e4fe,#24fceb,#70ffa5,#bbfe57,#d1df3a,#c27606,#b02800,#b70303,#950800,#ba1800,#d04c01,#827d0a,#6b7818,#878333,#7bcd8b,#74f0cc,#61d5e3,#41c7ff,#2092ff,#2989ff,#3b97ff,#4f9eff,#63a3f4,#72b3ed,#79b5eb,#75baec,#6ab5f3,#59b0fd,#43b1ff,#2d9eff,#1f78ff,#115af5,#053de8,#0022e0,#000fdc,#0002db,#000fdf,#0027e1,#0023e7,#010eea,#071aec,#0225e3,#002bd1,#002fcc)"></i><i style="background:linear-gradient(90deg,#1352ea,#1b62f4,#2167ff,#2163ff,#247fff,#34a1ff,#51e2ff,#86f5c4,#96f48e,#adb93a,#823914,#682100,#d20a00,#ef7e21,#ec9e3f,#90a236,#60a642,#4ab080,#3bb5b1,#3898cb,#3368e0,#2c52f5,#183bf7,#1a41f8,#284ef5,#3754f3,#4462f9,#4760ef,#435ce6,#3e5ce2,#3f59f0,#3761fa,#2166fa,#125afd,#0d36e7,#0a1fd7,#050cd1,#0101c4,#0101b0,#0404c5,#0404c5,#0303cc,#0202d4,#0202da,#070cda,#070ace,#0814c8,#0e40cc)"></i><i style="background:linear-gradient(90deg,#0036ce,#0037c9,#0032cb,#002dd5,#0045d4,#005ec8,#008fb1,#42b180,#7bd973,#ceda5b,#d38b65,#c78058,#f42c18,#c15100,#c07213,#c1d367,#aef390,#82e8b9,#52cdc8,#3394c7,#194ec6,#001fc1,#0012cf,#0015cc,#0012b9,#0011b1,#001bb2,#0720af,#1029b3,#1331b6,#0620b7,#0027bf,#0042d6,#0041e4,#0024d4,#0011ca,#0006cb,#0303c5,#0202b1,#0000c1,#0000c1,#0101ca,#0202d5,#0202da,#0003d1,#0000c3,#000abe,#002cb9)"></i><i style="background:linear-gradient(90deg,#000da6,#000ebd,#001dc8,#0029ce,#0041de,#0059dc,#0075e3,#0cc5f7,#49eccc,#95fe7c,#ccd22b,#f49b32,#d41d11,#9f0303,#e74916,#ff862b,#ffd725,#99f86d,#22e3dc,#0094e7,#006ad3,#006ccd,#006bdb,#0053e4,#0036de,#002bdf,#002de8,#0039eb,#043eef,#0736f1,#0017ea,#000edd,#0a1ae8,#0e27f9,#0d41f7,#0335ed,#000cd4,#000bba,#000bc6,#0011ce,#002cd7,#0244e4,#0031e4,#0017dc,#0021d7,#0140d8,#0e53db,#0e4dd3)"></i><i style="background:linear-gradient(90deg,#1b3bd4,#1b3ceb,#2760ff,#296fff,#1967ff,#1e85ff,#1996ff,#0cc5f6,#3bdebe,#90f877,#dfe63f,#d1790f,#bd0700,#a20505,#cb2d00,#cd4500,#e5b000,#9ffe73,#2aebe4,#17afff,#29a1ff,#30b2ff,#219cff,#156eff,#124ef6,#0d3bf0,#0c3bf6,#0a43f5,#063ff1,#0332ed,#0820f3,#0717e6,#000cdb,#0012e4,#0032e8,#073af2,#1228f1,#152edd,#152fea,#1431ee,#0e3ee9,#094cec,#0f45f7,#1539fe,#133ff5,#0a49e0,#0043cb,#003cc1)"></i><i style="background:linear-gradient(90deg,#124bfc,#1570ff,#1c76ff,#1962ff,#0f57f9,#0b83f5,#02b5ed,#20ddd0,#77eb85,#acc952,#d18924,#b23e00,#960700,#900202,#860505,#b30303,#c03a00,#a67223,#8e9679,#98d396,#93f899,#5ffdb2,#14e6e4,#009ee8,#0065ea,#0334ee,#0948f4,#0856f2,#0551f0,#0549f0,#0e3cf9,#0a1ded,#0305db,#0007d2,#000cea,#0814f3,#0d1ce8,#0f20ef,#1232ef,#1231e9,#0e1fe1,#0f2ce1,#1754ed,#1b70fe,#1c7aff,#1765f0,#0b31db,#0413dc)"></i><i style="background:linear-gradient(90deg,#0033e4,#0054e4,#004bdc,#003cde,#0046e8,#067ef1,#14c7ff,#36f4e7,#85f893,#b6d35c,#e09933,#f58135,#c0311b,#940606,#820202,#b60606,#d65013,#c18d3e,#899173,#6faa6d,#70d576,#57f6ab,#23f4f2,#17b8ff,#1075fa,#0637f1,#0241ed,#0553f0,#0753f2,#074bf1,#0029e6,#000fdf,#0203da,#0b17e3,#0613f1,#0009e8,#0008d4,#0008d8,#0016d3,#0015cd,#0009cb,#0014c9,#0031ca,#0046d4,#0050d6,#0044cf,#0024ce,#0211da)"></i><i style="background:linear-gradient(90deg,#0523f0,#0e5ff9,#1289fd,#0f8efa,#0786f2,#0faef9,#1ee1ff,#34eff8,#32fcdf,#5afbb1,#97fd78,#d5e43c,#b3501b,#762205,#9e1500,#a40400,#cd341a,#e55a3c,#cf434a,#b53d2b,#9d7031,#9fd35d,#7afa8f,#54e9a4,#2ed0b4,#00aadb,#007dea,#1186fc,#1a8dff,#146fff,#0931f1,#0518e3,#010ceb,#0215e7,#040ee1,#040deb,#0727e6,#000de2,#0004c6,#0000cb,#0101c1,#0101b9,#0000c5,#0005d2,#0002d8,#0202cc,#0303c4,#0404c1)"></i><i style="background:linear-gradient(90deg,#0321ed,#0050e9,#0075e9,#0281ed,#0b8af5,#06a5f1,#00bde5,#0dc8d1,#29f3d6,#59f9b0,#94f975,#cfdf36,#e4804c,#ca7658,#f76e35,#bf1f12,#a50c00,#a11600,#ab1f26,#d15947,#d0a364,#acdf69,#7cfc91,#65fab5,#53f5d9,#27dcff,#128ffc,#0075ea,#006ae1,#0055e5,#0027e7,#0113de,#0510ef,#0416e9,#020bdf,#010ae8,#0020df,#0919ee,#0912d4,#0404ce,#0202c2,#0202b9,#0404c8,#0a14e1,#0406dc,#0202cc,#0101c2,#0000bd)"></i><i style="background:linear-gradient(90deg,#050ac8,#000ecf,#0013d5,#001ce5,#0b36f6,#0f46f9,#0740f2,#0047e2,#0379e2,#2aa3c7,#3ec5bc,#4ddcaf,#6aeb9f,#9bdba8,#c0db7e,#ff6115,#b80404,#a30707,#ef470f,#b4c64e,#6bf89a,#5fda95,#51b999,#48909a,#2d71ad,#0171dd,#0040db,#002be9,#0121ec,#0113ec,#0006e1,#0005d4,#000adc,#0428ef,#0027eb,#000de4,#0003d2,#060dd6,#050cd2,#0101c9,#0101ba,#0101b9,#0202ba,#080fbc,#0305b6,#0101c2,#0000cf,#0101bc)"></i><i style="background:linear-gradient(90deg,#0004c3,#0614d6,#0b23e4,#0723eb,#0028e8,#0033e6,#033cee,#125ef9,#1a91f9,#39b2d7,#48cfc7,#58e8ba,#6aeb9e,#4e8e5a,#647e22,#ea4c00,#b90505,#9e0101,#e23a02,#b9cb53,#71fd9f,#73eea9,#6cd4b4,#67afb9,#468ac6,#1383ef,#0f53ee,#0b38f6,#0727f1,#0618f0,#0a14ef,#0912e1,#0610e2,#0429ef,#082ff3,#0a1bf2,#070cdb,#0006cf,#0007cd,#0303cb,#0202bc,#0303bc,#0202b9,#0004b1,#0002b3,#0303c4,#0404d3,#0303bf)"></i><i style="background:linear-gradient(90deg,#0018be,#0029c7,#004ee4,#125bfc,#104ef4,#1049f6,#1269fd,#1dbcff,#52eee1,#85f7aa,#94fb96,#79ffab,#75ee93,#a9a20e,#b25c00,#d36f00,#cc5d00,#ce0000,#ad0c0c,#bc4523,#e6643b,#ff8036,#f36432,#da592c,#a36d1a,#946c3c,#957d3d,#72c26b,#16a5d3,#0581ef,#097ff4,#0780f1,#006de9,#0038e4,#0022ea,#0b39f5,#0752f2,#0052e7,#004ede,#0048d2,#003ebc,#0031ac,#002d9d,#002a93,#002691,#001b99,#0018a2,#0019a6)"></i><i style="background:linear-gradient(90deg,#275dff,#2b73ff,#1469ff,#0044e5,#0039df,#0033e1,#0052e6,#0097e3,#24c0b4,#5ed083,#73db76,#5fe490,#76ef94,#efe955,#ffb136,#ffb631,#ff9a2a,#e2130f,#9f0000,#800900,#941200,#a62700,#9f0f00,#9e1d00,#be8835,#b78f5f,#c6ae6d,#9ded96,#2ebdea,#0d89f7,#077df2,#0a84f5,#1180fc,#1251fc,#092cf4,#002de9,#054fef,#1166fb,#1b77ff,#2788ff,#3690ff,#478aff,#558bfb,#5d8bf4,#5f88f4,#5a7dfa,#4f76ff,#4174ff)"></i><i style="background:linear-gradient(90deg,#0c5aee,#136cfe,#0452ef,#0016d9,#0019d6,#0017dd,#0033e1,#0065de,#0181ce,#1787bb,#2f99a5,#48aab4,#73a4c2,#88cbb5,#d6e172,#ffbf32,#ff891e,#ef4704,#c61d04,#960202,#a50000,#c93500,#d47a04,#f5560f,#ff7e2e,#ffc134,#b3f853,#5ff39e,#34c9a0,#177ea5,#0048c9,#0032d6,#003cea,#065af1,#003de3,#0031d7,#002adb,#0032d2,#0246df,#1159f8,#2562ff,#3b60ff,#4663f1,#4e77f7,#4d8cf9,#456cf7,#3d62ed,#2f61f6)"></i><i style="background:linear-gradient(90deg,#014fe4,#0054e5,#0856f3,#1b43ff,#1841fd,#1233f9,#1451ff,#1d8fff,#30b1fe,#44b4e8,#5dc7d3,#4eafb9,#356685,#2b6f59,#7d8819,#d37700,#e46500,#fa520f,#cb2209,#990505,#af0909,#e85418,#e38813,#eb4c05,#ca3700,#d28e01,#baff5a,#6cffab,#67fcd3,#5bc2e9,#3089ff,#1959fd,#0b47f6,#075bf2,#1458fe,#2065ff,#1a54ff,#124cec,#094ee6,#0042e2,#002cd0,#0015b4,#0012a1,#0024a4,#0141ad,#0028b2,#001da8,#0024b9)"></i><i style="background:linear-gradient(90deg,#1836f1,#1335e1,#0c3edc,#0941dd,#0f32f1,#0f22e9,#1530dc,#224ff2,#3862f8,#4967f0,#5a71e0,#5567d2,#3d56c0,#1b77b4,#2394b3,#3ea7ae,#3bc0ab,#5aba81,#c39900,#cb0f00,#9a0505,#c21d11,#ef3812,#cf9116,#41a07c,#36aeb3,#55eed9,#4cdce7,#65b7e2,#5592ef,#2f75ff,#1c53ff,#103bfa,#0c30f1,#163bfe,#1e53ff,#1e62ff,#1f76ff,#208cff,#1d95fb,#1697f2,#2185d4,#2d84c1,#3785c0,#4091be,#3e94c0,#338ec8,#2691dc)"></i><i style="background:linear-gradient(90deg,#000dc9,#0016c2,#0030ce,#0138d5,#001cdb,#000ad0,#000cb8,#0014b6,#0016ac,#001ca5,#182f9d,#2639a4,#324bb6,#2c87c5,#3aacca,#54bdc4,#5adfca,#86e5ac,#ffe539,#ed3118,#970202,#ab0600,#db2400,#ecae33,#82e2be,#50c8cd,#2dc6b1,#1cacb8,#1d6f9a,#0b48a6,#0033c8,#0026d9,#0024e4,#0020e1,#0018db,#0020d5,#0032d4,#0046d3,#005bd0,#006dd2,#007cd7,#1378c7,#2279b6,#2a79b3,#2879a6,#2479a6,#1d78b3,#0f7ac5)"></i><i style="background:linear-gradient(90deg,#3487b2,#458dbb,#5fa7ad,#6eb29a,#5e9d91,#458ca3,#3b8ca1,#538f85,#718f6c,#6f9680,#59aba1,#4ba8a1,#40a991,#4cba84,#6bc16d,#95c676,#c7dd69,#fdd648,#ffc53a,#ef711d,#ad0505,#9d0707,#d91800,#ffa61c,#f4bd3a,#b4c83a,#7fdf71,#57d197,#4bb29e,#47ab8f,#4e9f8a,#5d988e,#6f9e89,#6ba08c,#4b93a7,#4588ae,#768781,#776770,#6e7d64,#5a9665,#5e9b51,#5f7a49,#636056,#6f6161,#6c8a69,#3d849e,#3b84a2,#368c9a)"></i><i style="background:linear-gradient(90deg,#4295c1,#438bba,#549ba2,#69ad95,#71afa3,#5ca3ba,#57a9bd,#75b1a7,#90af8c,#81a893,#62b5aa,#61beb8,#73dcc5,#83f0bb,#9bf09c,#90c271,#9fb541,#bf980a,#bf7300,#ca4b00,#ad0404,#980101,#f33214,#e98800,#cc9512,#cfe355,#99f98b,#70eab1,#66cdb9,#75d9bd,#79cbb6,#74afa5,#79a893,#76ab97,#59a1b6,#5093b8,#7b8c86,#877780,#94a28a,#93ce9d,#a7e49a,#abc695,#9d9a8f,#908283,#83a180,#4a90aa,#4791ae,#56acba)"></i><i style="background:linear-gradient(90deg,#104aee,#091aeb,#0d1be5,#1329f2,#1630ef,#1228e6,#152de9,#1837fa,#143dff,#0d3df7,#0e52f9,#166aff,#2786ff,#4788ff,#6586dd,#4f7ac6,#40b0b7,#87ab52,#9a8e24,#8a8f21,#989316,#c57c00,#f33d15,#c6130d,#dd3400,#f6c612,#c6bf36,#b1df41,#79d76a,#42ebba,#21d2fd,#1075fb,#0d3df7,#0635f0,#003fe9,#0043e9,#0534ef,#0e33f6,#1a4af9,#245fff,#2b6cff,#2e65ff,#214eff,#1631f2,#1125ed,#0b17e9,#0a19ef,#1530fe)"></i><i style="background:linear-gradient(90deg,#0035d9,#000ede,#0006d0,#000ad3,#000ccb,#000ac8,#000bc6,#0010d2,#001ddf,#002de8,#0042e8,#004be2,#0045d2,#003bb2,#1d3e95,#3560ad,#4bbbc2,#b4d87f,#d5c960,#cdd264,#ddd85a,#feb529,#d92300,#b60300,#f14812,#f7c713,#d2cb42,#caf95a,#a0fe91,#4ef8c7,#05b5e1,#0063e9,#002de8,#0434ef,#0d4ef8,#0d51f8,#0534ef,#001ee2,#001fcf,#0022c5,#0021c2,#001ac4,#0014cb,#000ccd,#0008d0,#0007da,#000ae0,#000edd)"></i><i style="background:linear-gradient(90deg,#0019c7,#0027ca,#001dc4,#0010ca,#001bd1,#0024d6,#0010d3,#0008c4,#0407d5,#0519e6,#003fe3,#004dc7,#023da2,#0c3b98,#0a5fab,#0088d0,#0ca7f7,#12c7fd,#17ecf1,#39fad0,#84fe8d,#c1a13b,#821e04,#731b00,#bd4a0e,#e96c34,#ff7b3d,#ffb635,#edf330,#85f780,#47b3a8,#10a6d1,#008ee1,#009ce8,#02a4ed,#0285ec,#004dea,#0025de,#0013cf,#0018ce,#001bda,#0013e6,#0008e2,#000ed3,#001dc7,#001bc8,#002ad2,#005cdb)"></i><i style="background:linear-gradient(90deg,#2050ff,#2362ff,#2257fe,#1d41fc,#1843fa,#1443f5,#122def,#0e1fdb,#0104d2,#0115e1,#135afe,#338eff,#5893f9,#6291ee,#52a7f3,#2fbbff,#08a3f3,#05baf0,#15eaef,#38f9d0,#7ef887,#caab44,#c76349,#bd653e,#b13e02,#971a00,#aa2600,#cd6c00,#dde31f,#8bfe86,#5bc7bc,#31c6f1,#1db5ff,#17b5ff,#13b5fd,#1093fb,#0d5bf8,#1342fb,#193cf8,#1a42f8,#1033f2,#071bee,#0a17f0,#132ef3,#1e50f9,#2052ff,#1d59ff,#1e89ff)"></i><i style="background:linear-gradient(90deg,#0f5fcf,#1c7dc7,#237bbb,#1d5ab6,#1453b8,#0b5eb9,#0755bb,#0341ba,#002bb2,#0035b5,#1b5eb9,#428cb3,#679c99,#73b293,#60d7a6,#36f0ca,#14beca,#21b3c8,#36dbc1,#8cf16a,#b1cd42,#b8c43f,#d8e42f,#f6e331,#ff3c19,#a10707,#a40000,#dd2000,#f06606,#d69133,#a59133,#97b546,#a2c53a,#7cd362,#28d8bc,#1993bf,#075dba,#0964bc,#1166be,#1458ba,#163c9e,#1b1f95,#21279b,#2547a0,#2a66a5,#286caf,#2a5fa4,#335bad)"></i><i style="background:linear-gradient(90deg,#2877e8,#3797e1,#439bdb,#4581de,#4281e7,#4296f1,#408ef4,#3f7df6,#467cff,#437cfc,#4284e0,#4c97bd,#699e9a,#71b090,#60d7a6,#3ef8d2,#3ae5f1,#3acce2,#46ecd1,#a1ff7f,#c7e358,#c9d651,#dce834,#dac815,#e11a00,#9a0101,#ac0808,#ff491d,#fb7110,#d08b2d,#d1be60,#c2e071,#cff368,#a8fe8d,#4bfce0,#42bce8,#4297f4,#409af3,#3e93eb,#4084e7,#5b81e4,#6265dc,#5c63d7,#5a7cd5,#5894d3,#4e92d5,#588ed3,#4e75c8)"></i><i style="background:linear-gradient(90deg,#3a7acb,#5078d7,#5f79d5,#6078d3,#5877dc,#4f77f3,#4c7cfa,#4c73fa,#4873e8,#4876e2,#567ce0,#6480dc,#6e7ddc,#6e8de5,#5fc2ea,#4df4ed,#5af9cb,#6cffab,#9aff7f,#b6ff66,#c2ff5b,#ddfa3b,#efdd19,#f0c10f,#ed2f03,#af0101,#a40707,#de4624,#ff9231,#ffa623,#ffc123,#f4d52d,#e2f736,#9dfd72,#6bffac,#4affd5,#38e3e4,#37c4e4,#41b0e7,#41a9e1,#59a7d6,#5f8bce,#6185cf,#698fd7,#7496e2,#6e8aea,#777ae6,#6a58cd)"></i><i style="background:linear-gradient(90deg,#004091,#032b8a,#09227e,#07207b,#022186,#0128a5,#002eac,#001fa6,#002095,#002a96,#0d3397,#1a3692,#172684,#15338c,#1679a0,#19c0b9,#3ddcae,#5ff49e,#8df572,#a6f456,#b2f44b,#d1ee30,#f2df1c,#fbcc1a,#f8390d,#b70808,#9f0202,#a40b00,#c44500,#e17900,#e49800,#dcbe15,#d7ec2b,#9af96e,#5ef49f,#33e8be,#21cdcd,#1eabcb,#1886be,#1e86be,#2876a6,#2e5a9d,#2c519b,#244b93,#193b87,#102c8c,#121480,#1d0b80)"></i><i style="background:linear-gradient(90deg,#1733d9,#0f1ecf,#0b16c2,#0a13ba,#0a13c7,#0c19e0,#0b17e1,#070dcb,#080ebf,#0c1aca,#1126d8,#102fe7,#0730f1,#0052e6,#0075e4,#008be8,#0aa1f5,#1cc3ff,#34e2ff,#4bf5db,#69fca4,#9bf96d,#d1fc3d,#e1c510,#c96b00,#c43c00,#b60700,#860404,#980808,#ea2e00,#da8d01,#ea7b02,#f38a0e,#dcea35,#66fba6,#3ee3dc,#31ddf8,#1ed1ff,#0fadfa,#18b9ff,#1b96ff,#1862ff,#134bf7,#1142ed,#0c30e2,#0820de,#0511e1,#050be8)"></i><i style="background:linear-gradient(90deg,#000bb0,#0006b6,#0003b0,#0003aa,#0004b7,#0006cd,#0006d0,#0003c1,#0003b5,#0007b6,#000bbc,#0016ce,#022ced,#1268fc,#1793ff,#15a3ff,#0aa1f5,#00a4e4,#05b2cf,#2bd5bc,#66f9a1,#9ffd71,#d0fc3d,#fadf29,#ffa83a,#ff8831,#d72816,#850303,#900000,#fc3f11,#ffb72c,#ff9219,#f68d11,#d7e430,#64f9a4,#2acfc7,#0bb7d2,#00ade4,#05a3f0,#009fe8,#0071e1,#003fdf,#0030db,#002ad5,#0020d2,#0016d4,#000cdc,#0107e4)"></i><i style="background:linear-gradient(90deg,#000bb3,#0005b5,#0003b6,#0004bb,#0002c2,#0002c0,#0002c0,#0002b6,#0004b9,#0007c8,#0009d3,#0015d4,#001ed7,#0b3ae6,#1651f4,#1c5efe,#195fff,#0d55f6,#0043dd,#0b5ada,#2f82d5,#5589ba,#658bb1,#64a5b2,#76fb94,#fff022,#fe7c13,#bd5102,#bf0a06,#ce3b20,#ff9240,#ffbe2f,#f1f337,#a7f760,#5cf29e,#1eb7b1,#1a6a9e,#1b59a3,#176fbd,#035ed1,#002adb,#000cc8,#0005c4,#0001c8,#0004b9,#0007a8,#0008ae,#0009bd)"></i><i style="background:linear-gradient(90deg,#1631d9,#0e1dcd,#0b14c6,#0a13ca,#070ccc,#0508c6,#0406c5,#0509bd,#080fc4,#0b17d8,#0d1de7,#0a22e1,#0726de,#002cd8,#002ed1,#0031d1,#0039db,#0046e8,#125cf5,#1e6ded,#2779cc,#4477a9,#4b7198,#4f909c,#76fb94,#ebd608,#ee6c04,#cb5e10,#be0905,#9a0700,#b03e00,#d67d00,#d5d71a,#abfb65,#6cffae,#54ede7,#60b0e4,#5997e1,#4098e6,#2984f7,#174eff,#1025e1,#0811d0,#0507cf,#0d19ce,#1226c7,#1022c9,#0f22d6)"></i><i style="background:linear-gradient(90deg,#1672ff,#0c58f7,#0b21f3,#0b16db,#040fde,#0011da,#0024dd,#003be1,#0040e6,#0045e9,#0050e7,#0055e4,#005ae0,#0062da,#0063d4,#0067d1,#0078d5,#0391e1,#0eabf5,#29b0f1,#44b5e7,#45c3da,#4ac9cc,#52d6bf,#6ef5a9,#86d16c,#b38f06,#ac3a00,#7a0c00,#8a0200,#920404,#ce160f,#ff731e,#ffe73e,#a4f181,#93fc7a,#a5ff76,#afff7f,#80fcab,#2de9f4,#10adfb,#0062eb,#0043e0,#004bdd,#0072e2,#007fe3,#0071e2,#006ee9)"></i><i style="background:linear-gradient(90deg,#0053e2,#004beb,#0012e4,#0006cb,#010ddc,#0d23ed,#1748ff,#165bff,#1055fb,#0e55f8,#1164fb,#1571ff,#197eff,#208cff,#2893ff,#2b9aff,#28a5ff,#1eacfc,#0aa8f2,#0e95d7,#198abb,#28a6bd,#37b6b9,#46cab3,#5fe79b,#9de883,#ffdd54,#ff9135,#bd4e27,#a51d12,#910303,#bb0300,#e14b00,#ccb30a,#88d565,#91fa78,#96f367,#8cdd5b,#5ed989,#11cdd8,#04a0ef,#0e6ff9,#1765ff,#1b73ff,#1a95ff,#1aa0ff,#1992ff,#1282fc)"></i><i style="background:linear-gradient(90deg,#070acb,#0607c5,#0404b8,#0404c3,#0910bf,#1630cb,#1d45e9,#173beb,#1631ee,#1939f0,#1f4ef0,#2561ff,#2a76ff,#317aff,#3683ff,#3c80ff,#4078ff,#387aff,#2b86ff,#208cff,#1b86ff,#29a2ff,#42acff,#4bbff0,#46dce3,#3dfddd,#68ffb2,#b2fd65,#ead117,#e85000,#bc0100,#a60404,#e30b0b,#f07709,#d2bb3c,#b5f574,#58f1af,#29beba,#1eb2c3,#11b3da,#0799f2,#126bfd,#1b5bff,#194bff,#2062ff,#2a74ff,#2b64ff,#184ff1)"></i><i style="background:linear-gradient(90deg,#0001c3,#0000be,#0000b3,#0000be,#0002b1,#000aa5,#0012b7,#0015c5,#000dca,#000fc6,#0019bb,#0022c3,#002ecd,#002fc5,#0037c2,#002dbc,#001cb3,#0027bf,#0043ce,#005bda,#0060df,#0060d2,#0063bb,#1084b5,#21b7bd,#2bebcb,#58f2a2,#a7f25a,#f4db21,#ff6a17,#c90e0c,#a80505,#d80000,#f67d0f,#cab335,#96d655,#59f2b1,#4adfdb,#40d4e5,#28caf1,#0c9ef7,#0055e6,#0030db,#0022d9,#002ccb,#002bc0,#0019c0,#0029cb)"></i><i style="background:linear-gradient(90deg,#0048c8,#0031c6,#0027c5,#0028c5,#0027c5,#002ec9,#003fe0,#033ee5,#0217e5,#0303e3,#060bec,#0813f0,#0a15ed,#0d1bf0,#0e1ef2,#091ceb,#0118df,#081af0,#0e27ec,#1231fb,#0a4bf5,#0159eb,#0054e7,#096df3,#11aefc,#17f1f2,#4af8bc,#69faa1,#8aff89,#ddcf0f,#de3a00,#cc0503,#9e0404,#d90c0b,#f07412,#d4bd3c,#b7ed5a,#88f793,#79c8a3,#54c7b4,#26c0cf,#049bce,#007cd7,#0053d5,#0031cd,#0014d0,#0004d4,#0f23e4)"></i><i style="background:linear-gradient(90deg,#115fdf,#0d42d7,#0b36d3,#0c37d3,#0b34d3,#0b3cd6,#0b4aeb,#0843eb,#051be8,#0101e1,#0004e5,#0009e6,#0006de,#0008dc,#000ade,#0010df,#051ce3,#0011e6,#0012d6,#0015df,#0142ec,#0d65f7,#1169fc,#066bf1,#04a1ee,#14eff0,#4efbbf,#69faa1,#82f781,#fdef2e,#ff6620,#d10a08,#9e0404,#ce0100,#e26604,#cbb433,#b1e753,#76e682,#62b18b,#50c3b1,#35cedd,#32c8fc,#27b6ff,#2288ff,#1a59f6,#1231ec,#0911e1,#000bcc)"></i><i style="background:linear-gradient(90deg,#0009a5,#0005ce,#0015d7,#000bd8,#0006af,#00059d,#0002a8,#0202ae,#0202af,#0202b6,#0005c6,#0006bf,#0004c2,#0303c5,#0202c1,#0002d0,#0008d8,#0006df,#0014da,#0015da,#001cd8,#032ad8,#083de2,#0847f0,#0d5ff7,#1a87ff,#279fff,#2cbcef,#4ce3c8,#79ff9a,#a1db57,#a38f18,#977e00,#ae2300,#ac0202,#e82b18,#ffce27,#b9dd7c,#95d8a2,#9bc9a2,#6abdb4,#39b3e5,#188ff0,#0f53da,#0349cd,#003ace,#001fdd,#000cde)"></i><i style="background:linear-gradient(90deg,#0d1eba,#0b16df,#0d28ea,#0b1ae8,#0b17c0,#0b16ae,#0508ad,#0101ad,#0101ad,#0101b6,#060ccd,#0710c9,#0407c6,#0101c4,#0101c1,#060ad7,#0a17e7,#0a14ed,#081de3,#0920e5,#0824e0,#052cda,#0238dc,#0342ec,#0053eb,#0063e1,#0076d6,#12a2d5,#3ed4ba,#71f692,#b3ec68,#eeda63,#fbe353,#f1672a,#b00606,#c40700,#d89d00,#7fa342,#569964,#618f68,#4ea198,#1b95c7,#0c83e4,#1e62e9,#175de1,#0a45d9,#0a2ce9,#0c1def)"></i><i style="background:linear-gradient(90deg,#086ef3,#0082e7,#0086e4,#006aea,#014eec,#0037e5,#0019e1,#000ae0,#0014d9,#0028d9,#0047e3,#005be6,#004be3,#003ad6,#0036d0,#003ae6,#0536f0,#0b31f5,#0d53f8,#0376ed,#0096e7,#0aaddd,#29bac2,#49c5ac,#60c497,#72c988,#7cd97e,#86f57d,#a2fc6b,#b6ff5f,#acfc61,#94f17c,#bce874,#ffb619,#e81e01,#a40303,#a70606,#b00c00,#bd3000,#cdb40a,#95fd7b,#82f378,#93f368,#7ef989,#2efadc,#0bb4f6,#0969f4,#0558f0)"></i><i style="background:linear-gradient(90deg,#076df1,#169dff,#19a6ff,#107bfb,#0b58f6,#104dfb,#1233fc,#0917ed,#0c25ea,#1548f9,#1564ff,#1372fd,#1567ff,#1b63ff,#1c62fd,#104ffb,#0435ef,#0024e8,#0044e9,#0e80f8,#18b1ff,#25c9f8,#41d1da,#59d5bc,#6fd2a5,#7fd594,#8ae88c,#8dfd85,#a1fb6a,#adf757,#abfb60,#8eea76,#94c04c,#eda003,#f42a0d,#a60505,#a40303,#d8341a,#ff792e,#ffe63c,#90f976,#93ff89,#a4ff78,#82fd8d,#2cf9db,#0bb3f5,#0565f0,#085bf2)"></i><i style="background:linear-gradient(90deg,#073bf2,#0a63f3,#0377e4,#0378d1,#2099d5,#35cae8,#1fb3e8,#0073e5,#0153e7,#1051f5,#184efa,#143df2,#1226ed,#1937f2,#1a4efc,#0f33f7,#080fe4,#0205e8,#0209ec,#1136fb,#1c55ff,#196bff,#187dff,#1966ff,#1655ff,#1467fe,#1996ff,#17dbff,#17f9f3,#2efbdd,#6affaa,#b0dc49,#cd8f00,#bd5e00,#c83700,#aa0800,#b70909,#f9562a,#ffa832,#e4e74e,#96f377,#85ff90,#5effc3,#38ffdd,#2cf6d5,#1dcccd,#008ce6,#0f45f9)"></i><i style="background:linear-gradient(90deg,#0337ed,#045ded,#0e82ef,#2195ef,#27a0db,#17acc9,#10a4da,#1287f8,#0c5ef2,#003bdf,#0027d3,#001ed3,#0009cf,#000dc8,#0023d1,#001de1,#0004da,#0205e8,#040bee,#001de2,#0028d9,#0045de,#005ce2,#0042de,#0035e0,#004de4,#0076e3,#02c6ed,#15f6f0,#2bf8da,#60f5a0,#c1ee5b,#ffdb3b,#ffa843,#ff7036,#d5331c,#ae0000,#b41100,#c05b00,#bbbd25,#94f174,#7af586,#46ecab,#2cf3d1,#33fddd,#38e7e8,#17a7ff,#0032e6)"></i><i style="background:linear-gradient(90deg,#0013bc,#0009b8,#0003b0,#0002b4,#0005d7,#0005e1,#0102db,#0202d9,#0202d3,#0202c6,#0202ba,#0101ad,#0000b5,#0003c0,#0009ca,#0009dc,#0003e0,#0202c4,#0408cb,#0921d4,#0013e3,#0010e7,#0816f0,#0c2cf5,#0c43f2,#0b48f2,#0d4bf8,#1b78ff,#2dadff,#2cd6ff,#38f6f0,#5effc8,#87ff98,#c0fa4a,#e0dc2c,#f48709,#b50700,#9a0101,#c10300,#db1800,#fba315,#b8f64a,#47ecac,#2eefce,#55f0c1,#55e9d7,#25c1ff,#0536f0)"></i><i style="background:linear-gradient(90deg,#071cc5,#0a18c8,#060bb8,#0507ba,#0912e4,#0911ed,#0405de,#0202d9,#0202d3,#0202c6,#0202ba,#0202ae,#0404ba,#0d17d4,#1329e9,#0f21f4,#0508e4,#0101c3,#0104c7,#0015c8,#081ceb,#0a1ef5,#000ce5,#001ce4,#0036e5,#003de7,#003be8,#004fdd,#0065cd,#009fd5,#16d5ce,#41e6ab,#72f184,#c3fe4d,#dfdc2b,#fa8e10,#da2b18,#a00707,#ce100c,#f02d12,#f1990b,#c3ff54,#5dffc2,#3afad9,#46e1b2,#2ec3b1,#008cda,#0535ef)"></i><i style="background:linear-gradient(90deg,#1733f3,#1832d0,#0c16bd,#090ec7,#1122d3,#101fcd,#0303c7,#0101bb,#0101c1,#0103c7,#0202c3,#0202c1,#0203dc,#0f35ef,#1b67fa,#1369f4,#0045e2,#0044d8,#0050e2,#0066e8,#0374ee,#0369ed,#003ee5,#0024e0,#001edc,#0026da,#0040ea,#015fec,#0055d7,#0080dc,#24b1cd,#43e2bb,#65f599,#a3f65f,#ffec16,#f8ba0e,#e79e00,#c82300,#b10404,#d45920,#fd9137,#f99c3e,#f6a531,#e4d041,#aef86b,#6edb9f,#679473,#53675d)"></i><i style="background:linear-gradient(90deg,#000dcd,#0009a7,#0002aa,#0001bb,#0006b7,#0005b3,#0101c4,#0303bd,#0303c3,#0304c8,#0202c3,#0202c2,#0203db,#001fd9,#003ed0,#0050dc,#0f58f5,#1765f9,#176fff,#127afc,#0d7ef8,#0c72f7,#1155fc,#0f3af6,#0f34f2,#1343f6,#0c4df7,#0d6bf8,#1e83ff,#22a5ff,#35c2de,#4ceac4,#71ffa5,#adff69,#f7e30c,#fbbc10,#ffc220,#e94519,#b20505,#a22800,#ac3f00,#c4680a,#d3820e,#c6b324,#a1ea5d,#68d499,#90bd9c,#a3b7ae)"></i><i style="background:linear-gradient(90deg,#0404db,#0000bc,#000bbe,#0015bc,#000fbd,#0003c5,#0005d3,#0006c6,#0404bd,#0608c8,#0303ce,#0001ce,#0006cf,#0005c8,#0003c4,#0009d2,#0012db,#0017e1,#001ae3,#001ce8,#0323e9,#0527e4,#041de1,#0015e6,#0124eb,#003fea,#0049e8,#0046e4,#0041db,#0045c5,#0972c0,#18ccd1,#67f496,#b5f368,#c7f15d,#b6e361,#cfe25e,#c86a04,#c32200,#dc3b20,#d44523,#fb5b1e,#ffd320,#a7f35e,#44d3a1,#05a6ba,#0081c7,#0070e6)"></i><i style="background:linear-gradient(90deg,#0000d7,#0505c2,#0918cb,#0c27ce,#0b1ecc,#070ccf,#0810de,#0409c9,#0000b8,#0000c0,#0202cd,#080cd9,#0d1be3,#0e1bde,#0a11d3,#0b1ae3,#0d25ee,#0f2cf6,#0f31fa,#0b29f5,#0525ea,#0223e0,#031bdf,#071ded,#072bf2,#0c4cf7,#0f5af9,#135ffd,#1d6eff,#3484ff,#3ea7f5,#34e8ed,#74ffa3,#a3e156,#add743,#a8d554,#abbd39,#f89a33,#dc3c14,#a80800,#9a0b00,#d03000,#e9bd0a,#aefa65,#66f5c4,#49e9fe,#39c4ff,#158aff)"></i><i style="background:linear-gradient(90deg,#0021b6,#0009c9,#0007b9,#0008aa,#0006ac,#0105bd,#0e1fd5,#0a17d9,#0003c1,#0005bb,#0007ca,#0416e2,#132ddb,#1733dc,#0e1edf,#0d1ceb,#0d1df0,#1024f3,#1537f6,#1440ff,#114afc,#0c4bf7,#0444ef,#0943f4,#0940f3,#0d57f8,#084df3,#094df3,#1d80ff,#51a5ff,#6da5eb,#64ace1,#86c7b9,#6ec387,#c4bf1b,#f67a0c,#b52e00,#951800,#bd0b00,#ba1d00,#d70b04,#d74324,#f39248,#b38b67,#b38669,#c5bd4e,#c7ca47,#9e8953)"></i><i style="background:linear-gradient(90deg,#1f55ea,#1125e5,#0c1bcc,#0c1abc,#0812b8,#0307be,#0009be,#0007c9,#060bc9,#0b16cc,#0c1add,#0214e0,#000fbd,#000cb4,#0007c8,#0008d6,#0008db,#000cda,#0016d4,#0021e0,#0032e4,#003de9,#0746f1,#013bec,#0139ec,#0049e9,#0348ee,#0347ed,#0054dc,#004cab,#11488f,#1d659a,#4a8a7c,#7fd498,#eee946,#f77a0c,#c33c0e,#bb3d1e,#f64524,#e94c1f,#da0e08,#9b0700,#802000,#714925,#96694c,#b9b141,#c1c441,#ae9a64)"></i><i style="background:linear-gradient(90deg,#235ff2,#1544dd,#1040d8,#0e41d9,#072fd2,#0019ce,#0011d6,#0022de,#0056db,#0090dc,#1397c3,#0f84bd,#006dd3,#003ed3,#0018db,#0103e3,#0009e6,#0013e5,#0320ee,#0f2cf9,#1041f9,#0d5cf8,#106bf7,#0e59f5,#0b3ee5,#0b32f5,#025bed,#007de1,#0086d8,#008ac6,#17afbd,#35f0d0,#8af484,#daf23a,#faf028,#edee45,#d6e861,#e0f054,#ffcd2c,#eb3111,#ad0303,#9e0000,#cc0b00,#e87d08,#ece712,#cbea3a,#e5ea2a,#f8c90d)"></i><i style="background:linear-gradient(90deg,#0024b7,#0022bb,#0029c1,#002ec6,#012acd,#0a27dc,#0e26ec,#1646ff,#1f84ff,#23c2ff,#3ec2ed,#43b8f1,#2aa9ff,#1c69fe,#0e2cef,#0407e6,#0a17f5,#0c24f7,#0422ef,#0016e3,#002be3,#004eea,#025de9,#0049e4,#0033d9,#0025e9,#0b64f6,#1ca2ff,#26bfff,#3ac9ff,#46deec,#38f3d3,#87f080,#d2ea32,#e4da12,#c5c71e,#a7ba32,#afbe23,#c89000,#d61d00,#b10606,#ae0d0c,#ec2b17,#fb901b,#fbf621,#d1f141,#e2e727,#fdcf12)"></i><i style="background:linear-gradient(90deg,#0d25ec,#1333fc,#1c48f8,#2351ef,#2453f0,#2657fd,#2658fe,#2656f0,#2450e9,#1f46ed,#1939f5,#122ff7,#0b24f0,#031de6,#002de6,#0028e5,#0e43f4,#1048f6,#0c18f2,#0715f2,#1849ff,#2e7eff,#3b99ff,#3092ff,#1e74ff,#0e57f9,#0e4ff8,#1962ff,#2e9cff,#5fb8fd,#8fc7d6,#7cc3c0,#6edab2,#74d28c,#95b348,#bd8900,#c04a00,#b41f01,#860b00,#990400,#cc0000,#bd1311,#dd6231,#ff9249,#ffde22,#e0fb31,#d7de25,#c7d43a)"></i><i style="background:linear-gradient(90deg,#0011d8,#0015df,#0018c8,#0013b1,#0013b1,#0015bb,#0015bb,#0014ae,#0011aa,#0010b7,#000eca,#0013db,#0016e2,#041fe8,#0936ef,#0931ee,#0032e3,#0031e0,#0007e0,#000de9,#0022dc,#002fc9,#0039be,#0041ca,#0046da,#0047e8,#003fe8,#003cde,#004fcc,#01599e,#2a6371,#418886,#54c098,#7bda93,#bfdd72,#ffdc4a,#ff953e,#ea5537,#bf4436,#d03b21,#df100f,#a40000,#890d00,#b42d00,#e9bf02,#dcf72d,#e7ee35,#d0dd43)"></i><i style="background:linear-gradient(90deg,#0918d4,#061bd8,#0417e5,#0103e6,#0202d3,#0202b9,#0103aa,#0005a0,#0004a6,#0004b5,#0004c5,#0005ce,#0006c2,#0007a9,#0007b0,#0006b3,#0008bd,#000bbe,#000dc1,#0019cb,#0429d5,#0829de,#051de3,#0011e6,#0018e9,#0630f0,#0b46f6,#0447ef,#0034df,#003de1,#0453ef,#137bfd,#189dff,#1db8ff,#33cdf1,#52d5dd,#5ae0d5,#45f7d0,#76f991,#cddc36,#df4000,#b20000,#8e0101,#d40909,#ff8c1b,#d8f42f,#aae54d,#7fcd55)"></i><i style="background:linear-gradient(90deg,#000cc8,#0014d1,#0215e2,#0406e9,#0303d4,#0202b9,#0305ac,#0811ac,#0c18ba,#0c17c8,#0b14d5,#0a13dd,#0a15d1,#0915b7,#0711ba,#0812bf,#0b19ce,#1025d8,#132ce0,#0e2ddf,#0429d5,#0020d5,#0219df,#0718ee,#0922f4,#032eee,#003aea,#084af2,#1756ff,#165cff,#0857f3,#0066e7,#007ee4,#019ce3,#11abcf,#26aab1,#30b6ab,#37e9c3,#7afd95,#d4e33d,#ff6c20,#c20c0c,#920606,#cc0202,#e76d00,#defb36,#bef961,#b5ff8b)"></i><i style="background:linear-gradient(90deg,#0048e3,#0260e4,#045be3,#0036da,#0026cf,#0028d3,#002be5,#0d33f8,#143dec,#1437f9,#0e3bf9,#0f38fa,#133efe,#0c54f6,#0452ef,#0a3ef5,#134bf0,#2267ff,#2a88ff,#278bff,#2067ff,#1745ef,#1338ed,#153bfd,#1547ff,#0e5cf9,#0648f0,#002be8,#0632f1,#1b6aff,#209eff,#158fff,#24afff,#30dcff,#48f8d5,#5cf9af,#67f69b,#83f682,#d2f848,#ffa817,#d7420c,#a60e03,#950707,#db0803,#ec7102,#dbec28,#78ffb1,#84c8d5)"></i><i style="background:linear-gradient(90deg,#1564ff,#0c6aee,#0961e9,#104cef,#1241ea,#1448f3,#0f3ff9,#0022e6,#001ecd,#0017d9,#0027e5,#0023e4,#0021e1,#0048eb,#0855f3,#0034eb,#002ed3,#002ed0,#0043cf,#004dd3,#0032d6,#0021ca,#001ace,#001adc,#0026df,#004ce9,#0648f0,#0c3af7,#032fee,#0041dc,#0070dc,#0076e6,#007ada,#00abd2,#32e2bf,#5af8ad,#6ffea3,#88fc87,#c4ea3a,#ee9404,#cf3a04,#aa1207,#900101,#e00e09,#ff8516,#e4f531,#58e692,#2c707d)"></i><i style="background:linear-gradient(90deg,#0b12c5,#0202a5,#0000a0,#00019a,#00009d,#0303bb,#080ccf,#162ccc,#1732d8,#0a22d1,#0816d1,#0910cc,#080bcb,#0c16d0,#1732d6,#224ce0,#2758ea,#1d40e5,#0912e7,#070ce8,#1228f0,#1734f4,#1227f4,#1123e8,#1328e5,#0e1ee5,#0a14dc,#0c18dc,#0b15eb,#0027e2,#0047dc,#0065cf,#0064b8,#108bc1,#32b2b5,#66e59b,#aef75e,#e7f52d,#dbc01a,#dfc121,#ffaa39,#e24816,#b00505,#c40202,#f6600b,#eefb2d,#66f79e,#2fddbd)"></i><i style="background:linear-gradient(90deg,#0001b4,#0101a5,#0404a4,#04059e,#0303a0,#0101b9,#0001c3,#0007a7,#000ab0,#0014c2,#000bc6,#0002be,#0000c0,#0003bc,#0009ae,#0010a5,#0013a5,#000eb3,#0005da,#0004e0,#000ad2,#000ece,#000ad8,#0008ce,#0009c6,#0007cd,#0004cc,#0005c9,#0005db,#0931ec,#1c72ff,#2da9ff,#45afff,#3fbaf0,#4ecfd1,#6eeda3,#aef75e,#e0ee26,#efd42e,#e8ca2a,#ca6e00,#c62c00,#b00404,#ca0808,#f45e0a,#e0ed1f,#6cfda4,#4bf9d9)"></i><i style="background:linear-gradient(90deg,#000094,#0303aa,#070abf,#070cda,#0404d3,#0202a6,#000097,#0000a7,#0204e4,#132ffd,#0b1bef,#0000cd,#0007b6,#0000b8,#0000a4,#0000b5,#0101c3,#0101c7,#0202ca,#0303cf,#0303dd,#0105eb,#000bd8,#0005cc,#0002c6,#0003ca,#0004d1,#0012c3,#0017c3,#0015c7,#000fe3,#000de3,#0517d9,#0618ea,#0846f3,#0d83f8,#0ecaf8,#35f8cf,#79f093,#97e77d,#cbe950,#f6b20b,#c94e00,#c01500,#cf0d0d,#f37b3b,#e7966e,#acd369)"></i><i style="background:linear-gradient(90deg,#030397,#0000a8,#0000b5,#0002d0,#0000cf,#0101a4,#030399,#0303aa,#0306e6,#0011df,#000bdf,#0506d4,#0b18c7,#0606c0,#0404a8,#0303b7,#0303c6,#0304ca,#0202ca,#0202ce,#0101db,#0408ef,#0c1dea,#0b15dd,#060ace,#0509d0,#0a13e0,#1330e1,#1438e3,#1334e5,#0d22f6,#0613e9,#0113d5,#0012e3,#0341ee,#0379ee,#0ac7f5,#39fbd3,#77ee91,#8cdd72,#bad940,#fcb912,#ff9b32,#ea3f1c,#c00000,#8d1600,#8c3a12,#8fb64c)"></i><i style="background:linear-gradient(90deg,#000b87,#00089e,#0002bf,#0101be,#0002b7,#0003b9,#0005b2,#0004b4,#0101db,#001ae1,#0031df,#0012df,#0001c5,#0000ba,#0101c2,#0003c6,#0009d6,#000dd4,#0007ba,#0303c5,#0404d2,#0c17dc,#0e27df,#0b2aec,#0223ed,#0030e8,#0441ef,#0a2cf5,#0916e0,#0c1ae7,#0e2cf6,#113cf6,#1135f2,#092ff0,#0e41f9,#1876ff,#29bcff,#6ee5c6,#81bb82,#69766b,#64696e,#787f61,#d76700,#eb0d0a,#a20606,#be0200,#ac4900,#2c5d2c)"></i><i style="background:linear-gradient(90deg,#172ea9,#0d1db3,#0508c4,#0303c0,#0406bb,#0911c7,#0b17c3,#0810bf,#0404dd,#1031f9,#1754ff,#102af7,#0404c9,#0404bd,#0303c5,#0508cb,#0915e3,#0b1ce3,#0813c6,#0101c4,#0000ce,#0005ca,#0012ca,#001bdd,#0628f1,#0d40f8,#0744f1,#0020e9,#000bd4,#0008d5,#0018e1,#0023dd,#001cd8,#0025e7,#002ee6,#0053e0,#0083d6,#40b798,#83be84,#96a297,#878c91,#9da487,#ffa62c,#e30502,#9e0202,#d61b12,#ffaf45,#a6d8a7)"></i><i style="background:linear-gradient(90deg,#48b2ff,#2473ff,#0325e6,#0205e4,#0910eb,#1438f6,#224cf4,#1935d8,#0505d0,#0017d8,#005ee0,#0365e5,#0014e1,#0202bd,#0303c9,#0a1af0,#204bff,#2a63ff,#1353fb,#0027d8,#001dd4,#000be0,#0f25f8,#1a41ff,#1541ff,#0b42f6,#0d53f8,#0a57f4,#0038e5,#002bdf,#044def,#1561ff,#0c4cf6,#187fff,#1198fb,#0fc4fa,#23f4f7,#78ffa9,#cce133,#c85600,#ac1100,#ab1501,#be2e0f,#910503,#960909,#d14627,#deaa5d,#d4aa5d)"></i><i style="background:linear-gradient(90deg,#0048aa,#0038ca,#0527e7,#0306e4,#0005df,#0018d6,#0011b9,#000aad,#0000cb,#0e2bec,#1171f3,#0c6eef,#0a21ee,#0101bc,#0101c8,#000de3,#0013cc,#0019c3,#0037e0,#174cfd,#143cf3,#0815eb,#000fe1,#0016d9,#0020df,#0035ea,#0045e9,#0350ed,#114efb,#164eff,#0850f2,#0043e2,#0040ea,#005ee2,#0289ec,#08bcf2,#0fdfe3,#61e791,#d8ed3f,#ff9439,#e74b2d,#bd2712,#ad1d00,#930604,#8c0000,#8f0400,#653000,#7e5407)"></i><i style="background:linear-gradient(90deg,#000991,#000a91,#000996,#0005b1,#0001ba,#0000b6,#0000ad,#0000a6,#000099,#010198,#0101a4,#0101ab,#0101b4,#0101c1,#0202bb,#0202bb,#0303cb,#0303d4,#0202d3,#0101cb,#0202d7,#0303d1,#0b15e4,#021ded,#001bd7,#0617d0,#0018d2,#0310dd,#0a12d6,#0d18cf,#0e1fd5,#102be6,#1036fb,#0441ee,#0055e0,#006cd9,#0083e4,#0fabf9,#23e0ff,#46ede2,#6fefbd,#94ff99,#d7d325,#cc4600,#c10100,#b20606,#e23c21,#ffa54a)"></i><i style="background:linear-gradient(90deg,#142ab1,#1229b0,#0f22af,#0d19c5,#090ec7,#0505bc,#0404b3,#0404ab,#03039c,#020299,#0202a5,#0303ad,#0202b5,#0303c3,#0101ba,#0101ba,#0101c9,#0101d3,#0202d3,#0303cd,#0303d8,#0101d0,#0005d4,#0621f0,#1d42fe,#1e2fe7,#112be4,#0310dd,#0003c7,#0003bb,#0008be,#0012cd,#001ee3,#0745f2,#1978ff,#23a1ff,#1aa3ff,#06a2f0,#00bde0,#24cbc0,#4aca98,#71de76,#e6e133,#ff8d34,#e52518,#af0303,#ad0800,#b63300)"></i><i style="background:linear-gradient(90deg,#34cbff,#29d7ff,#18c4fe,#019eea,#0071d5,#004bc2,#0047ac,#004b8d,#004878,#00496a,#004a63,#004e6b,#005072,#00517f,#004e8b,#003f90,#002f96,#00209f,#0012af,#000db9,#0009bd,#0008b7,#0009bc,#1146f5,#54afff,#84baf9,#55aaff,#193deb,#0104af,#0304bb,#070ce2,#0d2df8,#083ef3,#0037e5,#002ed3,#0046c6,#007ab2,#38a490,#56c788,#73f289,#d4ff3f,#d8a902,#ecbc01,#face45,#ff642e,#b90707,#bd0800,#d72f00)"></i><i style="background:linear-gradient(90deg,#007ec3,#009ad3,#00abe5,#13b1fc,#28afff,#36a6ff,#38a9ff,#4cbcfe,#5ebceb,#6dc4e5,#74cce5,#74d3f1,#6cdafb,#60d8ff,#53ceff,#4caeff,#448bf3,#3a69e9,#2f49e5,#283ae6,#2130e3,#1a29d9,#1328da,#002edd,#003fa7,#043a79,#0030a5,#0013c1,#0205b0,#0102b9,#0003d9,#001be6,#0238ed,#104cfb,#2368ff,#349eff,#4ecdff,#74e0cc,#7ff0b1,#81ff97,#cef93a,#ffd831,#ffd91e,#c0950b,#c41900,#b50303,#d11b0f,#ff5c26)"></i><i style="background:linear-gradient(90deg,#0017b3,#001ac2,#001ec4,#0022cb,#0030d6,#0045d5,#005ed1,#006ad6,#0057d5,#0074e3,#0c91f3,#26a5ff,#3ac3ff,#51ceff,#68cffa,#80c6f4,#93baf4,#99bae8,#97b9e7,#8bb6fa,#71c0ff,#58c0ff,#3ebeff,#26a8ff,#187eff,#0f51f9,#042def,#091ef4,#0a1af5,#001ce4,#001dda,#001fda,#002dde,#0044e2,#005de4,#0171ec,#0681f0,#0388ed,#06aadc,#2be7cc,#77f098,#adef6c,#ddbd1e,#a75200,#a12600,#cf0606,#f66a34,#ffad60)"></i><i style="background:linear-gradient(90deg,#1942dd,#1a45ed,#1e50f6,#2059ff,#2065ff,#227cff,#269aff,#24a1ff,#2591ff,#1994ff,#078cef,#006acf,#0068bc,#0074a9,#066d98,#0a507e,#093069,#092a58,#062856,#002a6e,#004c8d,#0058a5,#005fbf,#006dd6,#005ce1,#0040e8,#052eef,#0012e8,#000ce7,#0e30f9,#1844ff,#1a49ff,#1751ff,#1561ff,#1579ff,#0f7ef9,#0b87f6,#1095fa,#26cafc,#3cf7dc,#72eb92,#9ddf5c,#e9ca2a,#ffbf52,#f47832,#ce0505,#9f1300,#964100)"></i><i style="background:linear-gradient(90deg,#0606af,#1321b1,#2555c3,#2d6dd4,#1e44cb,#0309b1,#0008a0,#000ba5,#0813aa,#090db9,#0109bc,#000ba8,#00049f,#0005a6,#0621d5,#1740e1,#2248d1,#254dcf,#2141de,#1942e0,#194adf,#1030d6,#050ac8,#040dc8,#0b20d5,#112ad6,#0d1fd7,#0210cc,#0525cc,#0931d0,#1341da,#1c4fe3,#245fea,#2268e9,#136bd9,#046fcc,#0f88db,#26c4f0,#5effbc,#cde43a,#e08300,#d22e00,#d02500,#fa4e10,#cb0909,#990404,#b90505,#a20500)"></i><i style="background:linear-gradient(90deg,#2525ce,#1827b6,#01319f,#00389f,#092fb7,#1c22ca,#1722ba,#131fb8,#1521b7,#1f23cf,#2831e4,#293bd8,#2127c2,#2025c6,#1f3bee,#153edf,#0c32bc,#0a32b3,#0e2ecb,#163fdc,#1849de,#1f40e5,#1f24e2,#1a23de,#1428dd,#122bd7,#172ae1,#2634f1,#2949f0,#264eec,#1d4ae3,#1447db,#0e49d4,#1056d7,#227ae8,#319bf8,#239bee,#11afdb,#4dedab,#d1e73e,#ffb426,#ff6d29,#ff5d24,#ee4103,#c40101,#990404,#b90404,#de4124)"></i><i style="background:linear-gradient(90deg,#c1c7b0,#c0c4b8,#a5bedc,#9abef7,#a2c5ec,#9abaf9,#7eb6fd,#76b5fb,#91b9f8,#adcbe2,#aad1de,#95ccec,#93c3f6,#9bbbf2,#a7bed6,#b7c1d2,#c0c3d1,#bfb9cf,#b9acca,#b4aac2,#b4b0b7,#bbbfd5,#9cd0e4,#8ac7f4,#8cc3f7,#90ceec,#97d0e6,#a2d6da,#afd1d1,#b4b8d7,#a3d2c6,#94c5b7,#83aca6,#85b0a4,#95d4b8,#9ceac7,#8befc9,#91ecc8,#a0d8be,#92beac,#7ac88a,#989027,#b77600,#cf8700,#df1600,#a90404,#b60b0b,#f84623)"></i><i style="background:linear-gradient(90deg,#181e07,#12160a,#021b3a,#062a63,#11355c,#001f5d,#002168,#002268,#001f5e,#1b3850,#214955,#134a6a,#08376a,#001e55,#021a32,#0f192a,#171a28,#1a152b,#1f1230,#241a32,#252228,#1f243a,#1c5064,#0a4774,#073e71,#13506f,#1a5369,#265b5f,#2f5252,#262b49,#3c6b5f,#4b7c6e,#5b837e,#5d887c,#4b8a6e,#3d8c68,#3ca07a,#3d9774,#447c62,#56816f,#7cca8c,#dfd66e,#ffd54f,#ffd438,#fb3316,#aa0505,#a80000,#c10f00)"></i><i style="background:linear-gradient(90deg,#1543eb,#030fcf,#0009bd,#0e2fcf,#0c2de8,#0003c7,#00039e,#02039b,#0306ae,#0208b0,#0308ba,#0f22ca,#0e20c9,#0308be,#0206be,#030ad2,#0816db,#0206d4,#0305cf,#1e41e1,#306ef4,#2553ef,#1c3dec,#204dff,#0d58f6,#063cf1,#204afb,#2149e7,#1834e4,#142ee4,#1d4bff,#1f69ff,#3bb9ff,#4fb8ff,#23b1ff,#0cbbf7,#09dcf3,#17f6fb,#2de9fb,#4fd4ff,#71e0e0,#99f3b7,#8ef991,#acb748,#b04e00,#b50100,#960404,#e40806)"></i><i style="background:linear-gradient(90deg,#0022c9,#020ece,#040dc1,#001aba,#001cd7,#080fd4,#0306a1,#01029a,#0003ab,#0207b0,#0105b7,#0009b1,#000ab3,#0106bc,#0206bd,#0108d0,#000cd1,#0307d6,#0205ce,#000dae,#00189e,#0012ae,#000ebd,#0016d2,#004be9,#0439ee,#0012c3,#000fad,#000bbb,#000ec4,#001ace,#0037d7,#0055c1,#0042ad,#007eda,#0ab9f5,#11e4fc,#0cebf0,#09c5d7,#0186b1,#229292,#4fa96d,#79e37b,#bfca5a,#ffb649,#d11c13,#960404,#e50906)"></i><i style="background:linear-gradient(90deg,#3d8cf3,#2c61e0,#316de5,#3b88f4,#377ffa,#2555fc,#1022e7,#080ee2,#1126f2,#1e43f8,#1938ea,#1023ee,#1430fa,#193be2,#093df4,#0079d0,#247580,#166f8c,#0057d4,#0207eb,#0002dc,#0202d3,#0404c3,#0303ca,#0303d1,#0406e2,#0405cc,#0202cc,#0002e2,#0c1ef7,#1537ff,#0c56f7,#0072e6,#006dd6,#006ce3,#0e65f9,#1b65ff,#287dff,#32b5ff,#39d3ff,#3cf5e8,#76fe9c,#d3ff4b,#b86a00,#752e00,#8c1900,#950000,#820000)"></i><i style="background:linear-gradient(90deg,#001d84,#001392,#00168e,#001d89,#001c96,#0014bb,#0007cd,#0003d7,#000ad6,#0010c5,#000cbe,#0009d4,#0010da,#0011b8,#0135eb,#2ec2ff,#81d2dd,#74ceeb,#2795ff,#0409ed,#0406e0,#0202d2,#0000be,#0101c8,#0101d0,#0002de,#0001c9,#0202cc,#0406e6,#000ce5,#0016de,#004aea,#168cff,#25a5ff,#178aff,#0056ea,#003bdc,#003ad0,#0062ca,#008bc7,#1ed7ca,#6ef795,#c2f23a,#ffcf4d,#fbb456,#f3803c,#b11813,#8a0707)"></i><i style="background:linear-gradient(90deg,#00049c,#0002bc,#0003b9,#0005cf,#0006e2,#0004d3,#0000b8,#0000ae,#0001a6,#0003ad,#0004c1,#001bc8,#003fda,#004ae5,#002cea,#070bdb,#060bc3,#050dc7,#0509cd,#0303cb,#0202ba,#0202b9,#0001bf,#0003cd,#000bd3,#0008e3,#0614e8,#0009e5,#0018e1,#0025e7,#0c38f6,#0b3ff6,#0219ec,#000ed4,#0015d0,#002ae5,#1847f4,#2664fd,#2a92ff,#19cbf6,#36e9bc,#6de982,#6ad26f,#62bd67,#b9db5b,#ff9f43,#de5a31,#b60a0a)"></i><i style="background:linear-gradient(90deg,#060ca4,#0e19d3,#0f1cd2,#0912dc,#0710eb,#0a13e2,#0c13cb,#080bbb,#0609ae,#0910ba,#0e1cd8,#1f50fc,#1c6bff,#1261fc,#0934f2,#0002d1,#0003bb,#0007c2,#0004c8,#0202ca,#0101b9,#0202b9,#0609c7,#0b14de,#1025ed,#0a17f2,#000de2,#0b19f5,#1234fd,#0d36f8,#0029e8,#0033e9,#051cf0,#112af0,#193ffa,#0f3ffa,#0026d2,#002dc7,#0057d1,#0cbfea,#4dffd3,#88ff9e,#9affa0,#a1fda6,#aed050,#b82e00,#8a0600,#aa0000)"></i><i style="background:linear-gradient(90deg,#2b64ff,#377df6,#3d8bf5,#3d8cf4,#3982f0,#2f6bfc,#204fff,#1034f7,#0e38f5,#1d7dff,#1375fa,#003ce4,#0014d6,#0013d5,#001aca,#001fc6,#0047e2,#0b64f2,#0049e7,#0029d5,#001bcf,#0011cb,#0b3ff4,#227fff,#1561fe,#0c3bf5,#1856ff,#1e72ff,#338dff,#3e96ff,#2e86ff,#1265fc,#003fe2,#003be0,#0867f3,#26b0ff,#53ccff,#67d6fe,#65dafa,#73e3e9,#9bffb1,#9ed55f,#d1d120,#edb607,#d34f00,#990e00,#900000,#8f0000)"></i><i style="background:linear-gradient(90deg,#0018b9,#001b93,#001d87,#001d85,#001b89,#0018a9,#0019d0,#001cdf,#0026e2,#0052d9,#005de3,#0e4ef5,#1537f8,#1434f6,#1d4afa,#2258ff,#115df8,#035deb,#0d56f5,#1e59ff,#1d4cff,#1533ed,#0033e8,#0049d5,#0043e1,#002de6,#0031db,#0042d5,#0035c3,#0029b9,#0037ca,#004fe6,#155dff,#165cff,#0665f1,#0077d7,#0065ac,#037199,#077d9c,#1a8a90,#57bd6d,#aae06b,#ebec3a,#ffcb1c,#ff8e2e,#eb6030,#a10c0c,#9e0b0b)"></i><i style="background:linear-gradient(90deg,#0204ae,#0101a6,#0000b3,#0000bf,#0000bd,#0000ae,#00009c,#01019a,#0101a0,#01019f,#0101a0,#0004be,#0000ca,#0303a7,#02039f,#000297,#0002a5,#0001c3,#0004b5,#0005ad,#0004b1,#0003c1,#0005d8,#0003d3,#0105c4,#0103be,#0002b0,#0000ae,#0002c3,#000ed1,#0019e9,#1033ed,#1948f3,#1543ff,#1249fc,#2771ff,#3eacff,#4bc5ff,#40caff,#2fddff,#2cfde3,#70fc9d,#7fff9e,#7affb1,#99ff7f,#ffba1b,#e20c0c,#a10606)"></i><i style="background:linear-gradient(90deg,#0103ad,#0202a7,#0606bc,#0707c9,#0708c7,#0708b8,#0405a2,#02029b,#0202a1,#0202a0,#0202a1,#0d18d3,#0606d2,#0101a5,#01029f,#03059a,#0509ac,#070acd,#060cbd,#0810b9,#0810bd,#070cc9,#0a13e5,#0508d8,#0307c6,#0305bf,#0406b4,#070ab7,#0c15d6,#1430f3,#0923f3,#001bd6,#0020cb,#0022df,#0030e3,#0030d0,#003fbc,#0051b2,#0066bd,#009ed2,#25f6dc,#6df99a,#6df18b,#59e790,#8df473,#eca102,#d60000,#9c0202)"></i><i style="background:linear-gradient(90deg,#0728f1,#0011db,#0008d1,#0303dc,#0911e2,#0f1fee,#0918f1,#0007db,#0003da,#0303dc,#0202cf,#0202ca,#0202e0,#050cec,#031eeb,#0d38f6,#204cff,#2049ff,#347aff,#40b1ff,#37b6ff,#2183ff,#0835f1,#1551ff,#1960ff,#0736f2,#0b38f5,#1249fd,#1f7bff,#2ba9ff,#3ac8ff,#4bc8ff,#43cfff,#2bd2ff,#12bdfc,#009edf,#0085c4,#05a9c4,#26c3b0,#59e28a,#b8e355,#ffdb3b,#ffd036,#ffc954,#ffb64b,#f1381e,#af0606,#920202)"></i><i style="background:linear-gradient(90deg,#0122ec,#1431fb,#0c1ae3,#0101da,#0003d5,#0008d7,#000be4,#0a15e9,#060ae1,#0202db,#0202cf,#0202cb,#0303e1,#0108e8,#041fec,#0026e4,#0015d2,#0012c9,#001fbe,#0041b8,#0059c2,#0050d6,#022feb,#0031df,#003bdd,#0230ec,#002ce9,#0030e3,#004ad9,#0064d1,#0068c4,#0054b2,#006bbc,#0092d5,#05b0ef,#21caff,#3cd4ff,#3fe3fe,#56f3e0,#7fffb1,#b6e153,#cc9700,#d08000,#b16d00,#b33800,#c20900,#ac0303,#960606)"></i><i style="background:linear-gradient(90deg,#33977c,#0c2d40,#032815,#062813,#142605,#252100,#2a1d00,#232400,#10281c,#092d47,#042d3f,#002b31,#052921,#10260a,#172503,#242300,#321813,#351618,#202508,#002d3c,#00315b,#003369,#00336b,#002f51,#202927,#2b2527,#213539,#12445a,#194956,#294641,#234345,#184655,#244748,#313330,#2b2525,#092f4b,#004c79,#277a6d,#52b46c,#77eb76,#b8ee49,#ddeb3e,#ecf824,#ffd523,#ff9128,#c91f00,#a61400,#da1813)"></i><i style="background:linear-gradient(90deg,#89ecd1,#b3d4e7,#b3d8c6,#b8dac5,#cbddbc,#dad5ae,#d5c7aa,#dddeb5,#c0d9cc,#add2eb,#a9d2e4,#a8d3d9,#b2d5cd,#c4d9bd,#cddcba,#dbdab5,#ccb2ad,#c8aaac,#d5dbbd,#9ad1e1,#7ccdf6,#74cbff,#7acbff,#9dd0f2,#cfd7d6,#d4ced0,#c6dade,#a6d8ed,#aadae7,#bfddd8,#bbdbdd,#abd8e7,#b8dbdc,#cfd1ce,#d5cfcf,#b1d7f2,#86d7ff,#95e9dc,#9bfeb5,#95ff94,#c3f954,#cddc2e,#e9f521,#e6b403,#da5b00,#ff652c,#f76530,#bf0000)"></i><i style="background:linear-gradient(90deg,#1a35d0,#0d18e0,#091df2,#0d41f6,#0e41f8,#0c32f7,#1530fc,#1731e5,#101fe0,#0303d9,#0000b4,#0000af,#0000b6,#0203d1,#0c1bea,#132bf7,#1226e8,#090fd3,#0404cb,#0405d1,#0004e9,#0008de,#0202db,#0405c3,#0406ce,#0d1bdd,#1229eb,#1025f0,#0b17ec,#0a14ec,#0c1af0,#0710e6,#0204ce,#0104db,#0c43f6,#157fff,#1d83ff,#1d7eff,#259eff,#34adff,#35c4ff,#29ecfd,#46f7c0,#83f783,#d1fb41,#dc7900,#c60500,#840606)"></i><i style="background:linear-gradient(90deg,#0007a2,#0004cc,#0011e6,#0031e6,#002ee5,#0021e7,#000dd9,#000bbf,#0006c6,#0101d6,#0404b9,#0404b4,#0303b9,#0202d0,#0008d7,#000bd7,#0008ca,#0000c4,#0000c6,#0002cd,#060aef,#0c19f0,#0202db,#0001bf,#0002ca,#0008ca,#000ccd,#000bd6,#0007dd,#0006df,#0008de,#0006dc,#0305ce,#0306dd,#0036e9,#0065e5,#0058dd,#0053dc,#0064d6,#0059c8,#0074c9,#07cbdc,#48fac3,#88fc88,#ccf73c,#ffaf28,#e82717,#7f0101)"></i><i style="background:linear-gradient(90deg,#002286,#00248b,#00258f,#002295,#001dad,#0017cd,#001ddb,#0038d7,#002ebb,#002a96,#002495,#00249e,#0023ac,#0031cc,#004ddc,#001bcc,#000fba,#0009bd,#0013d4,#0050e6,#004ae7,#001dda,#001fde,#0a42f5,#1f61ff,#215fff,#124efc,#004aea,#0040d9,#002bd3,#0039d6,#005fea,#0091e7,#00a5ea,#12b6fc,#16d3ff,#04cee0,#1db7ab,#36e3b4,#78f587,#d2f630,#ffe82c,#ffa83b,#ff8c39,#ff6216,#eb321c,#a00808,#9b0c0c)"></i><i style="background:linear-gradient(90deg,#3f94f8,#3f96fe,#3f96ff,#3b8cfe,#3072ff,#2251ff,#1945ff,#206cff,#3e9cff,#44a5ff,#3e93ff,#3b8eff,#3786ff,#2b7aff,#1c77ff,#275eff,#1d42ed,#162ee2,#1c42ff,#1266fc,#105dfa,#1947ff,#1641ff,#0039eb,#002ed7,#0028d5,#0036e4,#0d57f7,#1e6fff,#2365ff,#216eff,#0f6ef9,#17acff,#16bdff,#04a8ee,#02bfed,#25f0ff,#5bf4e8,#54ffd2,#84ff93,#deff3c,#deb200,#c74d00,#c63200,#e84900,#c00700,#970000,#8b0000)"></i><i style="background:linear-gradient(90deg,#191f0f,#201e0e,#0f221f,#00263a,#00284e,#195054,#336b4d,#396440,#365737,#243932,#122431,#0e253b,#082431,#002743,#002a58,#00284e,#123140,#2c523e,#477245,#447242,#1a4649,#002744,#012532,#1b2f32,#40563f,#4a4848,#3b1a3a,#391437,#4d394c,#584e57,#51554f,#4b7049,#45864e,#376b47,#2b5541,#3c784c,#67bf66,#97e75c,#a9f455,#9efb6c,#b8f343,#c8db5f,#bfd768,#bce157,#ffda24,#f74f0d,#c50909,#9c0707)"></i><i style="background:linear-gradient(90deg,#dbe1d0,#e0dece,#ccdedc,#abd9ed,#a8d7fd,#ade4e8,#b6eed0,#c3efca,#cbedcd,#cee4dd,#cbddea,#c4dbf1,#bfdbe9,#afd8f5,#a2d6ff,#aed8fd,#bfdeed,#c4ead6,#bee9bd,#c1f0c0,#b7e3e6,#add9f5,#b8dce9,#cde1e4,#c2d8c1,#b6b5b5,#c2a1c0,#c49fc2,#b29db0,#a79da6,#b0b4af,#bae0b8,#b7f7c0,#bcf0cc,#c0ead7,#b8f4c8,#a2faa1,#afff74,#b7ff63,#a0fc6d,#caff55,#a9bc40,#a0b848,#b2d74d,#e6b100,#f14906,#bd0101,#960101)"></i><i style="background:linear-gradient(90deg,#0707bf,#0b10ce,#090ed7,#0404d6,#070be2,#1022f2,#0a14ef,#0709d9,#0f1dda,#1832e4,#1832e3,#1223dd,#001de9,#0037d0,#002ce8,#1329ef,#142cf8,#152ff7,#183aff,#0a36f5,#0039eb,#0d57f8,#1c6dff,#1b5eff,#1f54ff,#2251ff,#1b56ff,#0a53f5,#034aed,#1151fb,#1757ff,#0049e9,#0042cb,#0053c4,#0075d9,#059ef0,#03c7ee,#08e6ef,#1df6f9,#3ef8c7,#82f074,#aff24a,#bcf747,#c4ef3d,#ffbe1d,#e33b00,#b90101,#910202)"></i><i style="background:linear-gradient(90deg,#0000b5,#0000be,#0001ca,#0000d2,#0002d9,#0009d9,#0006e1,#0000d0,#0004c1,#0009bb,#0009bb,#0005bf,#0a29f4,#2778ff,#0c3bf7,#0009cf,#000bd8,#000cd4,#0012db,#002bea,#0a43f5,#0048e9,#0041db,#0033db,#0020d6,#0016d2,#002bda,#024bec,#0950f4,#003be5,#0034df,#0d57f8,#2e90ff,#38b2ff,#24aaff,#0fa9fa,#16daff,#17f5fe,#0de7ea,#41fbca,#97ff89,#c3ff5e,#c6ff51,#d0fb49,#eba100,#ff5d1a,#c00808,#940505)"></i></div><div class="hm" style="left:52px;top:185px;width:209px;height:157px"><i style="background:linear-gradient(90deg,#8b0505,#a20808,#ac3315,#af6320,#975638,#925c4d,#bf7b61,#c27f66,#bba96c,#c4bb74,#c3a673,#b56e65,#963b4f,#7d363c,#7d4430,#894730,#853f33,#8d3540,#a44553,#b87a69,#bd966f,#b87868,#b8725a,#b96953,#b55a4a,#ac5b47,#a96a4f,#a46049,#a66f48,#a98f4a,#9b9059,#9a9457,#936e46,#8a5f3c,#835442,#792a22,#701018,#8f0a29,#9f2238,#8a2c28,#792f19,#782d12,#8e3b20,#b56c67,#bd978b,#bd9383,#a47075,#a77d7a)"></i><i style="background:linear-gradient(90deg,#8f0909,#a30909,#992002,#984c09,#a16042,#935d4e,#8e4a30,#88452c,#8d7b3e,#8a8039,#856835,#8b443a,#903549,#a0595f,#c08672,#ce8c74,#c07a6e,#a74f5b,#8f313e,#884b39,#855d37,#8a4a3a,#9a533b,#9b4b35,#9c4031,#a85743,#af6f55,#b47059,#b37c55,#b59b56,#a49962,#a09a5d,#ac865f,#b78b69,#ba8a78,#d4847c,#c3636b,#b73251,#a72a40,#b65854,#cd836e,#d58a6f,#be6a50,#853c36,#5b3429,#572d1c,#541f24,#4e2421)"></i><i style="background:linear-gradient(90deg,#ae0706,#d0110d,#e65a15,#de6d0b,#bd5812,#9c2f00,#942100,#a11c00,#b96817,#9d9a55,#6f917f,#698e86,#729483,#889884,#81a391,#5a6469,#362f50,#3a2136,#4f4f36,#518c4f,#438d62,#504e6c,#4c1f71,#462074,#5c398b,#70599f,#745096,#683280,#58316f,#593768,#4c2f5e,#413263,#4f2271,#4d1d73,#581c68,#554a64,#646d74,#848594,#95898e,#a98b7b,#d99070,#d48a64,#c17154,#b3624d,#b66b54,#b48d57,#98a651,#89a045)"></i><i style="background:linear-gradient(90deg,#b30c0b,#cc0d09,#e0530f,#fa8826,#f08b45,#fb8e57,#fd8a4c,#fb7643,#dc8b3a,#a4a05c,#759785,#6d928a,#749785,#7d8d79,#739482,#969fa5,#9e96b7,#af95aa,#b7b79d,#abe5a9,#95dfb4,#7f7d9b,#66398b,#563083,#411e70,#2f195e,#472369,#67317f,#7b5392,#8e6b9d,#9578a7,#7f70a1,#6a3c8c,#623188,#894d98,#968ba5,#8b949a,#696a79,#5f5358,#6a4c3c,#894020,#9b522b,#a25234,#92402b,#8d412a,#966f39,#a4b25e,#b2c96e)"></i><i style="background:linear-gradient(90deg,#990303,#961000,#c7220e,#d6711e,#d9a72e,#dcd339,#dfd62a,#b2c744,#99f694,#7ae3a8,#6bedb8,#5abda9,#4c819d,#5085a9,#68bbc2,#4ebfe5,#40bdf6,#63c4eb,#71c3ea,#57c0ff,#3cc0ff,#40b3ff,#4ca9f0,#63a6db,#6579bf,#5a4cac,#6b7cc3,#559fdd,#41afdd,#44b7cd,#5ecab9,#7bdda4,#73d49e,#60cea1,#71da93,#8ad585,#87c489,#6dd29c,#76f09a,#88f492,#61e0b2,#3fb1c9,#58a9c5,#629ab5,#77b9c7,#60b7ed,#5dbbfe,#55ccfb)"></i><i style="background:linear-gradient(90deg,#a20d0d,#c43f23,#c31e0a,#c05b08,#d7a52d,#dbd137,#ebe337,#cfe360,#7fdb7a,#66cf94,#58daa5,#60c3af,#6297b3,#548aae,#42959c,#1d8eb4,#0b88c1,#16779d,#15668e,#0066a7,#006ec1,#0068bc,#0c69b0,#22669a,#384c91,#3c2e8e,#314289,#1f6aa7,#2492bf,#37aac0,#50bdab,#6acc93,#6fd09a,#6cdbad,#7de69f,#8ad585,#82bf84,#71d7a1,#79f39d,#82ee8c,#5cdbad,#3aadc5,#3c8da9,#48809b,#397c8a,#11699e,#005b9f,#067dac)"></i><i style="background:linear-gradient(90deg,#810000,#9b0303,#e93710,#ebb313,#c3da41,#9ee876,#83f398,#79fdaa,#65fbb8,#45f6db,#50e7d8,#7cf6c6,#7afebb,#7de3a2,#62c7a1,#42d5c4,#47f6d9,#5df6b6,#47e4b8,#1bbfdd,#149bed,#1789f0,#21b5fa,#49e5d0,#60e99a,#4eca8d,#2aa897,#0f90a1,#1d8f90,#44bb8b,#56d094,#52cba0,#54cba5,#68d698,#61f9b9,#24e2f8,#1fbaf8,#2cdddb,#4ff2bc,#3cedcf,#2ad7e3,#15d9ed,#28f0f4,#4af5e4,#59fecd,#65f2c3,#61ebdb,#49e5ff)"></i><i style="background:linear-gradient(90deg,#900e0e,#a50d0d,#e7360f,#fec625,#d4eb53,#9ee876,#7beb90,#6aef9b,#5bf1ad,#34e5ca,#34cbbc,#48c392,#56da98,#6dd393,#6acfa9,#47daca,#36e4c8,#5df6b6,#58f4c9,#2aceec,#1097e9,#097ae2,#069adf,#3ed9c4,#7affb3,#83fec2,#74f2e0,#64e6f7,#77e9ea,#84fbca,#7cf7ba,#6de6bb,#67ddb8,#77e5a7,#5af2b1,#12cfe5,#0aa5e3,#30e1df,#56f9c3,#40f1d4,#26d4e0,#1de1f5,#19e2e5,#2ad5c4,#45eab9,#4ddaaa,#2fbaaa,#04a0ba)"></i><i style="background:linear-gradient(90deg,#a30707,#c30909,#bf0d00,#c74000,#cf7e11,#d1ca2e,#c9df48,#b8ff6e,#9bff8f,#8dffa6,#86feb8,#95f4c6,#6fc6ae,#4993a2,#3d8197,#4eb0a8,#6de9dc,#53d0ff,#73d2f7,#79bccf,#70bcb6,#83d1a2,#8cc9a3,#9fd1c2,#a7e8ce,#96efd5,#83d0cf,#7fa7cc,#90afcc,#acccd3,#9dc8db,#7bd4e4,#52e0c8,#5ec7ab,#53c6c8,#6bcde3,#8dc7c4,#98cdbb,#97eddc,#80ebdd,#76eee2,#74e6d7,#64e7cf,#51f3e0,#64d4e6,#82c3dc,#628abb,#4b64a3)"></i><i style="background:linear-gradient(90deg,#a50909,#c60c0b,#d52317,#f16926,#f7a639,#e6df43,#cde34c,#aaf160,#87ee7b,#6ee086,#58d08b,#46a577,#5ab199,#60aaba,#6aaec4,#5fc0b8,#2da99c,#006dac,#026186,#327588,#4f9b95,#68b688,#65a37d,#407363,#35765b,#348e73,#368381,#30587d,#2a4a67,#224248,#164154,#207888,#44d1ba,#5fc8ac,#3fb1b4,#218398,#306a67,#376d5a,#2c8271,#2b9688,#279f93,#32a495,#3dbfa7,#2dcfbc,#1e8ea0,#25667f,#406899,#536cab)"></i><i style="background:linear-gradient(90deg,#7d0404,#a20303,#c42d00,#c5ae2d,#cce053,#c3e76e,#b7dd71,#99f39a,#6de8cb,#6bcdc9,#62b9cf,#3fbbd1,#1ab8ed,#148bed,#107fe9,#1b8ff4,#1e84f7,#2196f4,#2e9cf4,#4c98f5,#649aef,#5fa1f4,#4ea5f9,#22a9f2,#0e90e6,#319fff,#5199fa,#4581e6,#3780ee,#3b80e8,#4b7dd9,#587dd4,#4b8cc5,#3592c1,#2983f3,#2362e6,#194dd3,#1f5dd8,#317bf4,#3e95d7,#45a2d0,#4ab0dd,#36aee1,#16a7dd,#16b9e2,#26d0f9,#2fb7fd,#2b8dff)"></i><i style="background:linear-gradient(90deg,#830909,#ad0e0e,#ff7c3a,#e2ca4a,#c0d447,#a4c84f,#9fc559,#78d279,#41bd9f,#3da09c,#338aa1,#34b0c6,#16b4e9,#0d83e6,#0f7ee8,#067adf,#0066d9,#067bda,#0774cc,#024eab,#063b91,#054799,#0158ac,#0c93dd,#179aef,#0061c8,#0042a3,#0340a5,#0042b0,#003ca4,#00328e,#082d84,#2b6ca5,#3390bf,#035dcd,#0030b4,#002eb4,#0033ae,#0046bf,#257dbf,#2f8cbb,#2389b6,#1f98cb,#25b6eb,#23c6ef,#0cb7e0,#038bd1,#0055cb)"></i><i style="background:linear-gradient(90deg,#860606,#8c0707,#cd130b,#d34909,#cb4200,#b81e00,#b21b00,#d53c03,#f1a721,#efef54,#cdf262,#b7f26c,#a5e56f,#81d681,#55d4a7,#4299a9,#446baa,#4169a8,#357c9c,#24548a,#28658d,#3b8aa1,#4589a8,#558496,#4b8e87,#26958c,#24808e,#2a6991,#305197,#4382a9,#59bb99,#5ec578,#5acf89,#3dcea6,#187e83,#15446d,#2f3388,#302ea5,#3d61b2,#4fa0b6,#63cfbf,#8cdbb1,#b9e07d,#c1ec53,#a2f36a,#78f293,#61e699,#5dc276)"></i><i style="background:linear-gradient(90deg,#880808,#8d0707,#cc130b,#e45b1a,#f16724,#f1572c,#ed552c,#f1581f,#eba11b,#c0c126,#b4d949,#aae55f,#a5e56f,#8fe58f,#68e8ba,#5ab1c1,#4f76b6,#5179b8,#64abcb,#70a1d7,#6fabd4,#60afc7,#589cbb,#6a99ab,#7ec1ba,#7cebe3,#75d1e0,#6dadd4,#6182c8,#5594bb,#72d4b2,#99ffb3,#88fdb7,#68f9d2,#82e8ee,#7eadd6,#5c5fb5,#3533aa,#3357a8,#4b9bb2,#4ab6a6,#59a87e,#93b956,#c4ef56,#adfd75,#82fb9c,#7affb2,#9bffb3)"></i><i style="background:linear-gradient(90deg,#950606,#c40b07,#dc550a,#ba6300,#9b4b0b,#9d682f,#b4b95d,#9fc46f,#a3bb6a,#93ac6c,#74a585,#628d8d,#476980,#306c78,#3a7d6f,#45725d,#595848,#5b5755,#44646d,#436287,#5d6b9a,#7482ab,#878495,#91878c,#868c97,#8392a3,#9d979e,#ba9f91,#b3ac8e,#b1b49b,#a99b9d,#789595,#619d8d,#4aa18c,#4a9d90,#5991a2,#688ba7,#60839f,#597698,#6888a2,#798e91,#758f8c,#7686a3,#9f9397,#b7c098,#b3b996,#9f93a6,#6b9ca3)"></i><i style="background:linear-gradient(90deg,#990909,#cc130e,#ed661b,#ffb54d,#f7a667,#d39f65,#afb457,#9ec36e,#a1b969,#97b070,#7cac8d,#6f9a9a,#688aa1,#67a3b0,#71b4a7,#88b59f,#b1b1a1,#aaa7a4,#8babb4,#6887ac,#556393,#3c4a72,#3b3848,#463c41,#393f49,#304050,#49444b,#6e5345,#746d4f,#686b52,#615255,#466364,#538f7f,#57ae99,#51a497,#397182,#40627e,#527590,#516e90,#40607a,#4c6163,#506a67,#344461,#4b3f43,#555d35,#535936,#4d4255,#47787f)"></i><i style="background:linear-gradient(90deg,#9a0505,#ad0200,#b93d00,#bba71e,#a9e76f,#a9fc9a,#73f7b8,#68fbb6,#57fbc6,#57f8c8,#53ebc5,#4cdac9,#58e1d3,#52d7e0,#46aee8,#4b9fec,#5bb0de,#4d9ebb,#5595ac,#4378b5,#3f72b9,#5183c8,#465bc2,#4673c1,#4d91c9,#3fb3df,#26c4cb,#38b0a1,#218195,#2e5c9a,#393b8d,#504e8e,#6fa0a7,#89dcb6,#a1fdbf,#ace2ca,#aed3d2,#b9e6de,#92e9de,#79dde5,#64a0c1,#5473af,#4069a9,#306daf,#2d759a,#337c70,#397662,#3d6989)"></i><i style="background:linear-gradient(90deg,#9f0b0b,#d0241c,#ff933f,#f2df56,#a4e36b,#78cb69,#5ade9e,#5df0ab,#4cf0bb,#49ebba,#4ae2bc,#42d0bf,#37c0b3,#28adb6,#177fb9,#0e62b0,#2175a4,#4697b4,#5494ac,#457ab7,#3769b0,#25579c,#293ea5,#2e5ba9,#2a6ea6,#2297c3,#3edce4,#69e1d2,#6dcee2,#507ebc,#5658aa,#6462a2,#5a8a92,#54a882,#4fab6d,#3c725a,#305453,#235149,#1f766a,#20838b,#3e7a9b,#4968a4,#3f68a7,#3673b5,#4e96bb,#7cc5b9,#89c5b1,#6894b3)"></i><i style="background:linear-gradient(90deg,#910202,#980a0a,#c72218,#f14424,#ed781f,#d8a212,#bba528,#ab9023,#94862a,#889b4d,#81b165,#859758,#806946,#68554a,#595768,#5d7688,#68999c,#69acaa,#708ba4,#7263a4,#726fad,#6f7ab8,#706abb,#7570bd,#8585c1,#949cd6,#95afdb,#91bad5,#849ac8,#695caa,#6451a0,#8a84ba,#a7a7d9,#95a5d2,#929bd0,#7459b3,#632998,#5a2793,#624a93,#7b54a0,#835e9e,#8e71a9,#8766a3,#764b98,#7b519c,#9577aa,#a9a3c3,#8291d3)"></i><i style="background:linear-gradient(90deg,#9d0d0d,#920505,#ac0700,#cc1f00,#e16d13,#f7c132,#e1cb4e,#e4c95c,#dbcd71,#b9cd7e,#a3d386,#acbe7f,#bca582,#b09e92,#9592a3,#7790a2,#66989a,#5a9d9b,#59758e,#514383,#4a4684,#3d4987,#342f7f,#2c2775,#282965,#1d255f,#1f3965,#29516d,#334876,#453786,#53408f,#3d376d,#19194b,#0a1a47,#121a4f,#290d68,#37006c,#400e7a,#432b74,#2f0854,#2d0847,#280b44,#2b0a47,#310754,#310752,#2a0c3f,#1d1737,#0e1d5f)"></i><i style="background:linear-gradient(90deg,#890707,#a30c0c,#da3819,#ea731e,#bb7b1e,#a87719,#a27b13,#957b34,#8a794b,#6b7d50,#586f60,#684a6c,#81527a,#8a6085,#946081,#91677d,#895b7e,#795c78,#845d70,#6f565c,#674653,#602656,#53135b,#45064e,#380e35,#451045,#6e225e,#782a61,#7a425f,#6e4153,#613238,#601e25,#521d15,#391b06,#3f1410,#440f22,#5b1544,#50255f,#4e175e,#550e4e,#4a1a41,#583949,#6f4a5b,#6a3657,#602f44,#5e3347,#692a56,#790e5a)"></i><i style="background:linear-gradient(90deg,#880606,#9b0404,#c32102,#d65f09,#d7973a,#cf9d40,#d7af48,#b39952,#99885a,#96a77b,#839a8b,#705174,#6e4067,#61375c,#764162,#7c5369,#6f4264,#6b4e6a,#896376,#a1888d,#a78794,#935989,#76367e,#7e3f86,#956a91,#956095,#914580,#8c3e75,#8f5774,#9e7184,#b88990,#ca898f,#d39e97,#d6b7a2,#c79d98,#b37f91,#9c5584,#6c417b,#632b73,#873f80,#a7779e,#ac8d9d,#9f7a8b,#a06c8d,#ab7a8f,#aa7e92,#945682,#861b66)"></i><i style="background:linear-gradient(90deg,#9b0202,#880808,#cc120d,#f15518,#ffac2d,#ffb92c,#ffc92c,#d9dd4c,#99e86d,#51eabb,#31d6ec,#36b7f8,#50d2e1,#34c8ea,#279bd6,#2b94c1,#2b99ad,#3bb8b2,#44c7ba,#3bb4b9,#2794b7,#169fbe,#1cc1c1,#2ad7cc,#19c1e0,#0c9ee5,#1dbbf6,#34c1ff,#51abff,#60aeff,#70bbfe,#89b9f6,#98b9e0,#95bde0,#82c5d7,#72c4dd,#62bdf3,#53b2ff,#479aff,#4495ff,#63abef,#6da7bc,#5e96c5,#4584f7,#2e68fa,#1953d7,#1e68dd,#538af1)"></i><i style="background:linear-gradient(90deg,#a70e0e,#850505,#c60d08,#e5490c,#dd8404,#e19508,#e5a90c,#c7cc3a,#a8f87d,#55efc0,#1cc1d7,#0787c9,#25a6b6,#1bafd1,#299ed8,#40a9d5,#57c6da,#56d4ce,#50d3c6,#4dc7cc,#4bb8db,#47d0ef,#49eeee,#40ede3,#27cfee,#1bacf4,#0ca9e5,#0086cb,#0046a7,#003e91,#00488c,#002c69,#001d44,#052d50,#135669,#0f627a,#00598e,#004199,#00259a,#0026a3,#01498d,#316b80,#2c6494,#003bae,#0021b3,#0034b8,#0043b7,#01389f)"></i><i style="background:linear-gradient(90deg,#760404,#730505,#880808,#b01c0b,#bb4110,#c15d17,#b66413,#b45f15,#c38330,#c5df6b,#a3ca78,#9fdf7c,#7abd78,#5ba990,#52a398,#46a6aa,#30aac6,#16b1dd,#1dbef6,#34d9ff,#42d9ff,#30ccf8,#12a4ea,#1696ed,#339cfe,#349aff,#2484fd,#2991ff,#40aeff,#44a8ff,#2e81ff,#036ed5,#0a72d3,#22aafa,#3bd5ff,#3bc8ee,#279efa,#1f80f7,#2483fd,#3bbdff,#67c5e0,#6fa2c6,#5691d4,#1a71eb,#0047d2,#0d63df,#356ae1,#5460b1)"></i><i style="background:linear-gradient(90deg,#7a0808,#750606,#860606,#b01b0a,#b73d0c,#b5500a,#b56312,#c77228,#d69643,#a5bf4b,#94bb69,#95d572,#96d993,#78c6ad,#6fc0b4,#5bbbbf,#3eb8d4,#27c2ee,#0daee6,#009cd0,#0198c2,#0ca8d4,#16a8ee,#0f90e6,#0065c7,#0051c3,#0057d1,#005ece,#0055b9,#004ab4,#003fc4,#1c87ee,#248bed,#038bdc,#039cc8,#14a1c7,#0178d4,#0060d7,#0057d1,#006bc1,#22809a,#35688c,#1a5597,#0158d2,#1a63ee,#0d63df,#073cb4,#2b3888)"></i><i style="background:linear-gradient(90deg,#8d0a0a,#920d0d,#c7301d,#ff7337,#ff9e2c,#e5a210,#d9b11d,#dff237,#9fec69,#8ce67f,#8af285,#7ef089,#5af0ae,#5bd2b7,#54daa8,#6dcd7b,#54bf90,#37cdc3,#4ec7e9,#6ed0de,#79d6dd,#68d4e7,#3ad7f6,#21c7f4,#18b0de,#19b3e2,#37b2e6,#59a8e0,#57abd4,#3dabcf,#12a1db,#0098d0,#008bc1,#00a1d8,#1aa1dc,#2c9dd6,#359bd2,#43a2d0,#34a3d7,#1e96de,#1487d7,#2e97c4,#3997cb,#598ccd,#708acb,#6a8ec1,#4f93bf,#4692c7)"></i><i style="background:linear-gradient(90deg,#860404,#850101,#a30b00,#be2700,#db7503,#febb29,#f3cc37,#e3f63b,#adfb78,#94ee87,#90f78b,#8cfe97,#65fbb9,#54cab0,#67edbb,#96f5a3,#7de7b8,#49ded4,#1a93b5,#268896,#28858b,#1d899c,#10aecc,#11b7e4,#25bdeb,#22bbea,#1a95c9,#1d6ca4,#2c80a8,#33a1c4,#25b4ef,#2cc7ff,#3ecdff,#2bcdff,#24aae6,#2697d1,#2d93ca,#3090bd,#2998cc,#1e97df,#2497e7,#38a1ce,#2b88bd,#154889,#173172,#214577,#256895,#2975aa)"></i><i style="background:linear-gradient(90deg,#ac0f00,#a70202,#9f0808,#c31111,#ec331f,#ff8633,#ffcb4e,#fce352,#ece741,#d4f245,#9fe672,#89f18c,#62f2b5,#43f3d7,#39d9e4,#30bae9,#16a3d8,#1376b4,#0d60cb,#2c65ea,#3c7efa,#408eea,#4cafd9,#5bc9d9,#66d1dc,#6bbadb,#64a2e1,#5394eb,#4d99fe,#4998ff,#4297fb,#509afb,#5792fa,#4688f8,#3259e3,#1d38d5,#0b4cbb,#1f85d0,#74b9e0,#96c4cb,#98cfcf,#76c5e2,#4abafe,#398cf7,#306ded,#3360e1,#3661da,#4079f1)"></i><i style="background:linear-gradient(90deg,#d0331e,#b51010,#a00808,#b30202,#c91000,#ce4900,#be7f02,#bfa615,#d5d02a,#d4f245,#a1e975,#88f08b,#5cedb0,#38e8cc,#25c5d0,#19a2d2,#2ab6eb,#4aadea,#2b7ee9,#073fc5,#003bb7,#0e5cb8,#288bb4,#2c9aaa,#29949f,#257495,#1a5997,#084aa1,#0044a9,#0044ad,#0051b5,#0046a7,#003198,#00309f,#0025ae,#0f2ac7,#2a6ad9,#2288d3,#1f638a,#2c5b62,#255d5d,#10607d,#0066aa,#0053bd,#0442c2,#0029aa,#00239c,#00279f)"></i><i style="background:linear-gradient(90deg,#9f1400,#9d0a06,#8e0000,#940909,#bf2a1c,#ff7138,#e58251,#ea924b,#f9a64c,#eab851,#daab59,#d2ac59,#c7b36a,#bdbc7a,#ad9569,#b18262,#b17675,#ae6f79,#b15b64,#a6885e,#afc187,#d3d37b,#d7cf76,#a79b54,#977b3d,#a6854c,#996a40,#844e26,#824d28,#84472e,#873a2f,#893338,#8a3e40,#913c34,#734b19,#5a5c28,#5b6535,#756635,#8d6028,#965e36,#8f672b,#837129,#7a7338,#7b8547,#738446,#767645,#73523a,#501d1a)"></i><i style="background:linear-gradient(90deg,#b72b16,#a20f0b,#9d0f0f,#910606,#9c0700,#b12300,#ae4b1a,#b86119,#b9670d,#b88720,#ae7e2d,#af8935,#9e8a41,#888745,#927a4e,#926343,#723736,#692934,#862f38,#8f7147,#6d7f44,#85852d,#948c34,#b4a861,#c8ac6e,#b9985f,#c29268,#d6a078,#d49f7a,#d0927a,#cc7f74,#b76166,#a65a5c,#c26d65,#dab280,#d1d4a0,#cbd4a5,#cabb8a,#cea068,#c48d64,#cda568,#c6b46c,#beb77c,#c1cb8d,#c2d395,#c0c08f,#c6a58d,#d5a3a0)"></i><i style="background:linear-gradient(90deg,#df6b07,#d53f00,#c8220d,#990707,#9f0201,#a33004,#c6460f,#e68f25,#c9c73a,#b0ea5e,#77d87f,#77df8c,#85e498,#7edeb1,#6ed9c9,#64c3d2,#4e95e7,#375ee4,#4d80f6,#66b0f9,#5cbbff,#6ebaff,#6ea9ff,#598cfd,#5d91ff,#7a98ee,#7099f6,#4a84f3,#2f6bdb,#3373df,#3770e2,#2c60c7,#2365c5,#2a83d3,#298cda,#2b94e5,#3980f9,#364edf,#404cc9,#475bce,#4765de,#3874ed,#2e86ed,#2871e8,#1f52da,#1d5eca,#2b7fd2,#40b0e5)"></i><i style="background:linear-gradient(90deg,#fd8925,#ff6b28,#c7210c,#990808,#ad100f,#b44115,#c84810,#e28b21,#d8d649,#b8f266,#93f59b,#85ed9b,#78d78b,#5bbc8e,#40aa9a,#3291a0,#1259ab,#092fb5,#002fa5,#004790,#005ba0,#00448c,#002484,#001f91,#00208e,#001b72,#00207c,#013aaa,#1955c5,#1655c1,#124bbc,#1c50b7,#296bca,#2882d1,#2285d3,#167fd0,#0043bb,#000fa1,#000c8a,#001083,#001b94,#0542bb,#0b63ca,#0c55cc,#0b3fc7,#1354c0,#0f63b6,#0272a7)"></i><i style="background:linear-gradient(90deg,#c08400,#df5806,#d52c0e,#ac0808,#a40a0a,#d61a0e,#9f1f00,#972500,#be5900,#e0cc28,#c7f251,#c5fa63,#bef86c,#92ff9c,#57f6d7,#49e5f7,#46c8ff,#31a3fb,#227df3,#1879f0,#248efd,#2691ff,#218bf9,#207ff9,#247cfc,#198cf1,#0f87d8,#2465dd,#2a72e0,#226ddf,#195dd9,#1141cb,#1441c9,#1c72e6,#34a5f7,#3ea2f0,#2d82dc,#217ed9,#1d6dd6,#115bdd,#1861ea,#277deb,#2f8cf3,#339ef4,#38bcff,#55daf7,#70e1db,#82e0c9)"></i><i style="background:linear-gradient(90deg,#ffcd47,#fb7422,#d52b0d,#ad0909,#9f0606,#d1160a,#fd7e40,#ff9953,#ffa447,#ebd734,#c7f251,#b4e952,#abe558,#7aeb83,#37d6b8,#10acbe,#007fba,#006bc4,#035ed4,#0668de,#0065d3,#0062d1,#0069d7,#005bd5,#0050d0,#087be1,#259cee,#1455ce,#1159c8,#0c57c9,#0c51cd,#1a4ad3,#1e4bd3,#065cd0,#005daf,#005aa7,#0a5fb9,#0e6bc6,#0f5fc8,#0750d3,#0048d2,#004ab8,#0049b0,#0057ac,#0075c3,#007e9c,#0b7c77,#1f7d66)"></i><i style="background:linear-gradient(90deg,#f1cc4d,#da5d08,#b31300,#920200,#9c0404,#cf1e0e,#fd743b,#f9ab52,#c6bc62,#abca5f,#aaed56,#9ee66e,#83e595,#68deb7,#5acac3,#55b2ae,#429ab5,#4790b6,#4fb0bf,#3b98b4,#1d6b9f,#175ea7,#0d47b1,#0248bd,#004acb,#024dd9,#1952d8,#195ccb,#195cc1,#1d50d4,#1752db,#2d9eec,#48dbfb,#3ed4ff,#33a4ff,#3f9eff,#54abff,#48c0ff,#26b2ce,#0f83a7,#0367c2,#0a6acb,#044fb7,#0f5eb5,#2c9acb,#2eaae9,#3181fa,#2e56d7)"></i><i style="background:linear-gradient(90deg,#ab8606,#f27621,#ee4d2b,#b22319,#a30c0c,#ca190a,#a81f00,#a45600,#a99f45,#b1d065,#c2ff6e,#a7ef77,#7cde8e,#55cba4,#45b5ae,#58b6b2,#4da5c0,#448db4,#45a6b5,#4eabc7,#5eace0,#539ae3,#447de7,#377df2,#287bfc,#1660ec,#114acf,#2668d7,#276ad0,#1144c8,#0f49d2,#1182cf,#0a9dbd,#0090c4,#005ec6,#003ea9,#002e93,#0061b4,#37c3df,#5bcef3,#389cf7,#1777d9,#2873da,#2878ce,#1684b5,#007bba,#004bc4,#1037b8)"></i><i style="background:linear-gradient(90deg,#967e30,#cc8911,#cb2a00,#ac0700,#8c0300,#960707,#cf1110,#f66c24,#ffd939,#d1e25b,#c5e670,#cce663,#c7ec59,#b0ec75,#90e98e,#6ee7a7,#47d2bd,#36aeb4,#25aec4,#288fcf,#2772cf,#1b56c5,#224bcf,#2e6ddf,#33a6e7,#31ade6,#2691db,#217ed6,#1a70c4,#2c96cf,#1dc6d8,#20acd5,#2386d9,#1d76d2,#0555ba,#00209c,#001d8c,#002099,#1244bb,#4171eb,#457eed,#3258dc,#2542d7,#2671d7,#2c9bdd,#268edb,#125ec8,#0343b9)"></i><i style="background:linear-gradient(90deg,#cab264,#eeab33,#f65425,#cb261a,#9d1410,#970808,#c30504,#d44901,#d9ab0b,#b7c741,#a2c34d,#b0ca47,#bde24f,#9fdb64,#81da7f,#65dd9e,#4dd8c3,#52cad1,#41cae1,#2f95d5,#2974d1,#2f6ad9,#214bce,#1553c5,#1789cb,#1a97d0,#218dd7,#2481d9,#368ce0,#309ad3,#31daeb,#2fbbe4,#2284d7,#277fdc,#3d8ef2,#5084ff,#5285f4,#4979f1,#2e60d7,#0536af,#0036a4,#082db2,#1532c8,#206bd1,#2190d2,#2189d6,#2e79e3,#3b7af0)"></i><i style="background:linear-gradient(90deg,#c57a23,#ca8127,#eb7c2e,#ea451f,#be1911,#940c0c,#b71311,#e3531f,#f05530,#ff773f,#f7812d,#d49b43,#9da96b,#90846b,#867e65,#7f8a6f,#739089,#7b9c98,#788e96,#777e95,#8692a4,#a99da0,#c7a88f,#b7bb92,#9ea9a3,#7f6d9d,#855590,#9b959a,#89b09f,#81aaa0,#a3baaf,#bfafb4,#aa8b9f,#936894,#884489,#824881,#8f598e,#9b699a,#9a789c,#9b8b9c,#9a9098,#8c7390,#7a5186,#744e7e,#76457d,#905b91,#94a292,#6eb269)"></i><i style="background:linear-gradient(90deg,#bc721a,#c57b22,#b34400,#c92400,#b10c03,#8a0202,#a80401,#c53400,#ac1100,#a11900,#c44f00,#c48b33,#9da96b,#968a71,#7c745c,#657155,#4e6a64,#456662,#445a62,#424a60,#344052,#4b3e42,#64452c,#4e5229,#39443d,#352353,#562660,#645e63,#658c7b,#638c82,#536a5f,#46363b,#432338,#471c48,#662266,#733971,#663065,#5b295a,#573559,#5d4d5e,#655b63,#624966,#60366b,#6b4575,#6d3c74,#5f2a60,#707e6e,#a5e9a0)"></i><i style="background:linear-gradient(90deg,#d88a16,#bf880d,#e97710,#f54a20,#c91411,#970807,#9d0706,#d5150f,#db3907,#f3661c,#fab84b,#fadb67,#e2d676,#e1e26a,#ddea67,#b6ca5d,#8bd56f,#80d88a,#68b77d,#518d75,#4ba194,#5cc7b1,#64cbad,#5fcaa7,#56b5af,#4f92a9,#5a8991,#719483,#84a178,#7a9576,#638a8c,#5990b1,#6b96c0,#6196b5,#65a09b,#74cd8e,#91da7a,#73d391,#78bc96,#86bb8d,#87be89,#84cb8c,#84d585,#88da8c,#75c59e,#438a9c,#2e6779,#51824c)"></i><i style="background:linear-gradient(90deg,#f3a531,#fec74d,#f5831c,#d52900,#bb0503,#980908,#a10b0a,#cd0d07,#ef4c1a,#e05309,#b16f02,#9e7e0b,#958929,#a5a72f,#abb835,#b3c75a,#a3ee88,#86de90,#90dea4,#92ceb6,#73cabc,#59c4ae,#5ec5a7,#65d0ac,#57b7b1,#589bb2,#709fa7,#81a493,#8eac83,#8faa8b,#769e9f,#4c83a4,#37638c,#437998,#67a29d,#80d899,#96df80,#7cdd9b,#73b791,#7cb183,#81b883,#80c789,#8bdb8b,#83d587,#6cbc95,#66adbe,#80b8cb,#aedfa9)"></i><i style="background:linear-gradient(90deg,#8bd0a1,#cfda80,#b68f40,#82732a,#b36b34,#ef5e21,#cf1f17,#940707,#b10909,#f0572a,#ff8239,#f7841e,#b78237,#afb05d,#8cdc83,#4cc691,#3fbd9a,#3ec9a7,#17d2dd,#1bb3f3,#1098e4,#088dd3,#1294ca,#1ba1d5,#0bace1,#06b5d5,#36e7cb,#45dfb2,#1d9899,#056086,#00588f,#003990,#004093,#0058a9,#0061a6,#0060a9,#006499,#006888,#0a738f,#28b9ab,#44daae,#3db492,#2d9284,#0f8a9c,#007bb3,#03a3dc,#37e3f6,#54f2e7)"></i><i style="background:linear-gradient(90deg,#69ae7f,#8c983e,#c7a051,#c0b168,#b76f38,#cf3e01,#b70700,#960808,#af0808,#ba2100,#b43600,#e6730e,#ce994e,#adaf5c,#8ddd85,#7ef8c3,#73f1cd,#67f2cf,#2ee9f4,#0ea6e7,#1aa2ee,#2cb1f7,#37b9ef,#2cb3e7,#22c4f9,#33e2ff,#44f5da,#5ef8cb,#6febeb,#7ad5fb,#6fcbff,#69bdff,#5ec0ff,#49b4ff,#48bfff,#54ccff,#62d2ff,#70d9f9,#74def9,#61f1e3,#61f7cb,#7bf2cf,#84e9db,#6ae5f6,#4bd7ff,#27c6ff,#13bed1,#24c2b8)"></i><i style="background:linear-gradient(90deg,#a8e064,#d3f53f,#d0fd52,#b8e754,#d6c228,#dc5e03,#d61d08,#ca2512,#a20707,#840000,#9b0a00,#d3550c,#c5a13f,#b6b770,#cbcc8a,#adeb8c,#87f58b,#67f4a9,#55f4be,#46e8c6,#38d3c9,#34c6d4,#28bde6,#159fe6,#0870d8,#0b64cc,#1d67be,#206bcf,#0c90dd,#0da2cf,#199fcb,#178cde,#0f75e8,#0060d1,#006bb0,#06a1bd,#2eaea0,#52b481,#6cc474,#60a064,#417d51,#33816f,#2d7a96,#2379c5,#1a70e4,#135bec,#013acf,#014ec9)"></i><i style="background:linear-gradient(90deg,#b0e86c,#dbfe48,#c8f549,#c2f15f,#ead63c,#ff8227,#e02712,#bd1805,#a50909,#930e0e,#b42316,#df6018,#ad8926,#888942,#7e7e3d,#84c364,#8bf98e,#6af8ac,#53f3bd,#49ebc9,#42ddd3,#34c6d4,#1eb2db,#19a3ea,#2089f0,#1d76de,#2872c8,#2773d7,#21a5f2,#34c9f7,#38bfea,#1e93e5,#0f75e8,#268eff,#4cbfff,#49e3ff,#6aeadc,#8cefbb,#9cf3a4,#a8e9ac,#a3e0b3,#84d2c1,#61adca,#368cd8,#1166db,#054dde,#134be1,#1765df)"></i><i style="background:linear-gradient(90deg,#9de46d,#acee58,#dae148,#ecb84c,#ff894d,#fa834a,#ff8339,#e62413,#9a0808,#9d0a0a,#cf2510,#eb5b1e,#ffe04f,#fdbe60,#ffb451,#ffda33,#cef46b,#84f0ad,#60d8c8,#63bdc1,#88ccc3,#b6c9bc,#bebcb4,#adb9b8,#8cacba,#7ba1a8,#66c1b1,#5ee3c5,#5fe4d8,#5fc8ed,#65d3fd,#78d0f0,#65cff5,#57c3ff,#60b9ff,#4faaf4,#389be2,#24a5cc,#0874b0,#0c49a8,#233ecb,#356fd6,#4d75cb,#4672cb,#328bc4,#3aa8d6,#56b3ef,#6fbad4)"></i><i style="background:linear-gradient(90deg,#a7ee77,#c0ff6c,#ccd33a,#be8a1e,#ad3300,#951f00,#c43700,#d91706,#9a0808,#9a0606,#c81d08,#d24205,#b98100,#a8690b,#b66200,#e0b70f,#a9cf46,#62ce8b,#42baa9,#439da1,#3b7f77,#435549,#4c4a41,#485553,#466673,#597f86,#56b1a1,#47ccae,#33b8ab,#157da2,#016f99,#116a89,#0c769c,#0067a7,#00559b,#0762ac,#1b7dc4,#37b8df,#4eb9f6,#3f7cdb,#203cc9,#124cb3,#224ba1,#2a56af,#3790c9,#2493c1,#0764a0,#06506a)"></i><i style="background:linear-gradient(90deg,#87e37d,#9ff87b,#ccde49,#e37f13,#d23f06,#d44300,#f1781a,#e31c14,#930909,#7d0707,#ab0b0b,#e2501e,#ca8544,#e4a646,#ff943f,#ff8f40,#f49833,#cbae3a,#92ba58,#61a969,#388365,#22757b,#2085a6,#2d75b4,#2a52b0,#365fbd,#4c8bd2,#4b7ed1,#4460ca,#3648b9,#2a37b6,#3536bb,#344dba,#1f44a4,#1c3999,#2959ae,#2c6eb2,#4273c8,#5575d1,#5582d0,#5b84db,#6887e6,#6991dd,#6790da,#668ada,#6880dd,#5a7ddb,#4766cf)"></i><i style="background:linear-gradient(90deg,#96f38c,#9cf578,#cbdc48,#f38f24,#e8541c,#fa6925,#e66e10,#d20b03,#8f0505,#7c0606,#a60606,#c53401,#a05b1a,#a56707,#a83d00,#a53400,#c46703,#d3b642,#b8e07d,#a2eaaa,#96e2c4,#83d6dc,#5cc1e2,#488fce,#456dcb,#3861bf,#2867ae,#2659ac,#2844af,#3446b7,#323fbe,#3233b8,#3851be,#4f74d4,#5b78d8,#4979ce,#498bcf,#2f60b5,#183894,#1b4997,#143d93,#042282,#103884,#1d4590,#163a8a,#001774,#001876,#00167f)"></i><i style="background:linear-gradient(90deg,#99ee85,#a2ef7a,#c2da6d,#a9ac4f,#9fa233,#b3680f,#a95908,#aa4509,#9b1006,#890909,#8b0404,#c40d03,#c74b15,#c39252,#c2bf79,#a48b68,#a78268,#ba9777,#bda779,#a9c37b,#7fc593,#74c097,#56ba9f,#3ab3ba,#3ab1bb,#3499ac,#3f7e99,#4c7aa5,#45639f,#3c4690,#3c3b8c,#41349b,#3f2c99,#2c3a7a,#145599,#11589e,#11478a,#031f78,#0f2b77,#24376d,#284780,#24557b,#224879,#234b7d,#1b5486,#0b4377,#0c3b5f,#0f2257)"></i><i style="background:linear-gradient(90deg,#8ee47b,#9ae772,#a2bb4e,#bdc063,#d7da6b,#f7ac53,#d78736,#b65115,#a1150c,#850505,#900a0a,#d31c13,#c44912,#a27131,#87853e,#917855,#936d54,#8a6847,#8a7547,#8fa961,#78be8c,#73bf96,#6acfb4,#4dc6cd,#4bc1cc,#58bdd0,#67a6c1,#5785b1,#5a78b4,#5f69b3,#5d5dae,#5547ae,#5643b0,#6f7ebd,#5293d7,#4d94da,#5b91d4,#6784dd,#6a87d2,#798dc2,#7796cf,#7fb0d6,#7fa4d6,#7ea6d8,#77afe1,#83bbef,#93c3e6,#92a6db)"></i><i style="background:linear-gradient(90deg,#58d2a9,#83e495,#d4e556,#ffc944,#ff9236,#ffa02f,#ffb22f,#e13a08,#aa0f00,#970705,#aa1111,#dc4b2e,#f39359,#ddbb76,#c8c95b,#bad95b,#a5e359,#7ee17a,#57dba2,#47c8a8,#26b2ab,#27a4a9,#2fb8b4,#33c5bb,#24cbcb,#1bcbcd,#14c4cd,#098ebb,#0976b8,#0160b4,#004eb3,#005dc3,#0050c5,#004ccc,#0457dc,#0d54e6,#0b33e3,#001bc4,#0015ba,#0028cd,#0751e0,#1555ee,#2367f2,#2057f0,#1545ee,#005ed4,#1278ba,#2879ac)"></i><i style="background:linear-gradient(90deg,#65dfb6,#7cdd8e,#becf3f,#c87a00,#cd5000,#d76f00,#db8503,#f14a19,#c82d1a,#9c0c0a,#980000,#990800,#852500,#85641e,#b3b446,#b7d758,#bdfb71,#9afe96,#6ef1b9,#65e5c5,#5eebe4,#5edbe0,#56dfda,#4fe1d7,#40e7e7,#3eeef0,#3decf6,#47cdfa,#46b3f5,#46a4f9,#449dff,#369fff,#3196ff,#2880ff,#166aef,#0a50e3,#062edf,#1f48f1,#2854f8,#2054f9,#115bea,#0140d9,#0037c1,#002bc3,#002dd6,#2081f7,#3ba1e3,#4697c9)"></i><i style="background:linear-gradient(90deg,#5eedb7,#61de9f,#8bd86d,#b9c44c,#ccc044,#dfdd3d,#ecea2e,#e4b617,#e57a0c,#ea3711,#b20707,#890404,#8b0707,#be110f,#e34622,#ff7835,#fa622a,#db5715,#d2a20f,#d5e93a,#c7fe5d,#acf26c,#a4ed68,#98f173,#61e098,#21b8b7,#0099cc,#0ca1e5,#16a0ee,#0f96e7,#14a3ed,#32b8e8,#4cafe2,#489ee5,#2d8df4,#0b57da,#0940de,#2770fe,#369bff,#3ca9ff,#3ba7ff,#3290ff,#2a70fc,#1e44ed,#0914e0,#0428d8,#0e44e0,#2152f3)"></i><i style="background:linear-gradient(90deg,#59e8b3,#71eeb0,#a6f388,#c4cf57,#cbbe43,#d8d636,#ebe82c,#facc2d,#fa8f22,#e6330d,#b50b0b,#8f0a0a,#8a0707,#b30704,#bc1f00,#be3300,#cb3300,#e96523,#ffd13e,#def244,#bbf252,#abf16b,#aef772,#a4fe7f,#7af9b1,#53eae9,#37d3ff,#1bb0f4,#109ae8,#169eef,#12a1eb,#1aa0d0,#1d7fb3,#095fa6,#004fb6,#0d59dd,#0b42e0,#0039c7,#004dbd,#0051b5,#0054bd,#0048c2,#0033bf,#0019c1,#020dd9,#0c30e0,#063cd8,#0022c4)"></i><i style="background:linear-gradient(90deg,#1b8ce8,#14b1ec,#15c7e0,#35d2bb,#70f5a0,#a4fb7a,#c5ff60,#b9e24f,#cbcd3a,#ff9e33,#e02c1d,#950a0a,#850000,#9b0800,#962000,#ca6900,#dbdb33,#bfff66,#95fd8d,#64fdbc,#4df0e3,#3cd1f7,#26aefe,#1a8df3,#106de9,#0f5ce8,#1a61f3,#256cfa,#3aa3ff,#49aaff,#3270fc,#101edc,#050bd5,#081cd4,#1645e6,#0e36da,#0012cf,#000ac4,#040cc8,#2350df,#2f7aff,#2890ff,#3175fd,#2b5dec,#2d5eea,#407be1,#4c7dde,#2581e1)"></i><i style="background:linear-gradient(90deg,#1385e0,#16b3ee,#29dbf3,#52efd8,#74f8a3,#9df473,#b9f354,#c7f15d,#d9db48,#d36600,#bf0b00,#900404,#960f0f,#d23f27,#fd8746,#ffa73c,#e3e33b,#b2f259,#89f181,#56efae,#2acdbf,#0da2c9,#0088d8,#0679df,#0c68e4,#0955e2,#0044d6,#003ac8,#004eb3,#003c9e,#0021ad,#0008c6,#050cd5,#0419d0,#002ccd,#032bcf,#1228e5,#1325df,#050dc9,#001caa,#0034c2,#005ecf,#002bb3,#0019a8,#0015a2,#00248a,#002788,#0057b7)"></i><i style="background:linear-gradient(90deg,#30d9e0,#56f0d1,#65efbb,#58f1b2,#79f395,#a2f269,#c7ea5f,#e9e063,#f1d34f,#fca62a,#ec8217,#d61d0e,#9a0c0c,#a60a0a,#c53105,#fa822a,#f97e26,#da7815,#b8a04c,#b0d96a,#a7f870,#a8f36d,#99f77d,#6af5ab,#42eddb,#3edde0,#2fdfd2,#37d0ba,#3ec1c9,#42a5da,#41a6e0,#40a1de,#40b1cf,#48b799,#5aa49d,#75acab,#8ad197,#83dd83,#85aa4e,#93b144,#87d16d,#69d491,#57c198,#55b298,#56a6a6,#3bafcb,#11abde,#009bd6)"></i><i style="background:linear-gradient(90deg,#2ad3da,#3ed8b8,#55e0ab,#61faba,#7ffa9c,#affe75,#b5d84e,#aca326,#b1930f,#d98306,#ea8015,#d1190a,#910303,#a20606,#da4619,#cf5600,#dc6009,#f18f2c,#bda651,#a7d061,#a7f870,#a9f46e,#99f67d,#68f3a9,#33dfcc,#2ac8cc,#3bebde,#52ebd6,#3ec2ca,#2486bc,#1c81bc,#1d7fbb,#34a5c3,#72e2c3,#68b1ab,#58908f,#76bd82,#8fea8f,#c0e589,#ccea7d,#a5ef8b,#7feaa7,#74deb5,#6ecbb1,#5dadad,#39adc8,#25c0f2,#2ccaff)"></i><i style="background:linear-gradient(90deg,#369cbd,#28b2da,#3fcbd6,#50f4cd,#71fcb1,#a3f679,#cbdb46,#c7d43f,#c2d133,#fba024,#c02807,#a00200,#8c0202,#a91411,#dc6834,#d96f22,#ce4a07,#c56000,#aa8e45,#b1a967,#a9bb69,#a1b765,#a3be66,#aae078,#b3fe98,#99f1c1,#6ee8ec,#4ee4fb,#3dd6ed,#30aed7,#118de0,#1b81e6,#32a2f6,#42b6fb,#4fbbfa,#53caf9,#4ed8ef,#4be2e3,#4dddd6,#44cada,#24b3f1,#23a7fa,#30a6ff,#4face8,#4bbfd5,#3edbd9,#44e7e4,#4de3f0)"></i><i style="background:linear-gradient(90deg,#45abcc,#2ab4dc,#32bdc8,#43e6bf,#62eea3,#9df073,#cfdf4a,#d6e24d,#e0ef51,#e58a0d,#cd3514,#b31412,#980d0d,#960200,#8f1c00,#b94f01,#e25e1b,#ffad41,#c2a65d,#a19957,#a3b462,#a7be6b,#a7c16a,#99d067,#7bc65f,#4ba373,#1c9699,#0ba1b9,#1ab3ca,#2baad3,#1c97ea,#1278dd,#0676ca,#0277bc,#0470af,#087fae,#16a0b7,#27bebe,#34c4bd,#2db3c2,#109fdd,#0387da,#006fca,#1572af,#2fa2b9,#31cfcd,#27cbc7,#18aebb)"></i><i style="background:linear-gradient(90deg,#2798b2,#0094c4,#0087bf,#15b9c4,#43dcab,#88e0a4,#a6e19e,#baeb74,#f4e63d,#f68e1e,#bc5710,#9a1b01,#8b0202,#780303,#920909,#b8180e,#f2651b,#f7bd36,#eee476,#c1e490,#bcd78d,#a3e07a,#71f096,#3be8cb,#1accd4,#0898cd,#077acc,#0e8bd4,#18a9e0,#25a2de,#2c9adc,#3cb6df,#47c9e1,#43c7e9,#2493de,#2273d1,#3478e0,#4798ee,#4597ea,#3a6fea,#2465e3,#0f64e6,#0e60e1,#1861e7,#3484fa,#4397ff,#458dff,#3a79ee)"></i><i style="background:linear-gradient(90deg,#52c3dd,#3fd3ff,#43d8ff,#45eaf4,#65fecd,#69c185,#6eaa67,#9fcf58,#d8cb21,#e98111,#bd5811,#ae2f15,#950c0c,#7e0909,#8e0505,#b01006,#e2550b,#d79d16,#8b8112,#5a7d28,#728c42,#97d46e,#7ffda4,#45f2d5,#37e9f1,#35c5fa,#30a3f5,#2aa6ef,#22b2e9,#229edb,#2190d2,#239dc6,#24a7be,#1b9ec1,#1e8dd8,#2173d0,#1559c1,#0b5db2,#0f61b4,#083db8,#0344c2,#0b60e2,#1062e3,#0049cf,#0035ac,#00339b,#002196,#001a8e)"></i><i style="background:linear-gradient(90deg,#3cb9ff,#34a9f8,#29abe4,#36bbd9,#4cd5df,#70e2d1,#91eda2,#ade486,#b6c386,#9ab59e,#8fb59e,#9bae79,#e19d25,#be5900,#ab0b00,#8c0707,#a71910,#f1431b,#c05a04,#af8319,#c9e545,#a3fb80,#81fca7,#59f9cc,#3aecea,#3adbff,#39e9f8,#1ecfdb,#0cc0d8,#0fb4de,#0ea1d9,#007fbf,#0093c8,#149bc3,#1484bf,#0056cb,#003fcc,#0d57df,#1342e3,#072bd0,#0040cd,#015dd2,#0057cc,#004fb9,#0041aa,#002da4,#003ec2,#105ed8)"></i><i style="background:linear-gradient(90deg,#0072b9,#0072c1,#1c9dd7,#2cb1ce,#29b1bb,#38aa9a,#6dc97f,#89c062,#808d50,#536e57,#5e846d,#8a9d68,#e6a22a,#f59031,#c42417,#8c0707,#980901,#da2c04,#fc9640,#f2c65b,#d2ee4e,#96ee73,#6ce692,#45e4b8,#21d4d2,#02a3cb,#11c1d1,#2fe0ec,#30e4fc,#28cdf7,#29bcf4,#41cbff,#3bd7ff,#40c7ef,#40b0eb,#2881f6,#2162ef,#125de5,#0938d8,#1438dc,#2162ef,#237ff5,#2680f5,#3293fd,#43a4ff,#458eff,#307cff,#1260da)"></i><i style="background:linear-gradient(90deg,#c39729,#d6a43b,#d3be50,#d3db64,#b9e98b,#9adf9f,#9cc479,#97ae51,#aab737,#d0d32a,#ffda26,#da9e1b,#d09109,#c67005,#d62004,#9e0707,#850707,#910303,#b80a00,#f2681a,#ffb04a,#ff9a3b,#e47d11,#d39317,#c5e346,#81f793,#89f08b,#c3f26f,#c8bd55,#b1c361,#9def87,#8cd79b,#a0c79f,#b4b899,#b2ba96,#abc597,#9ed09d,#89e193,#86eca8,#80d1aa,#7dd2ac,#6cdcc5,#52ccd2,#51e4e4,#53e1dc,#5baaa3,#659d8d,#73b69c)"></i><i style="background:linear-gradient(90deg,#e2b648,#cf9d34,#b9a336,#a3ab35,#7faf51,#6db273,#93bb70,#bcd376,#dbe868,#ecef46,#efca16,#f2b533,#f2b22a,#e79226,#eb3418,#a00909,#840606,#9b0c0c,#d82a1c,#e65c0d,#ae4600,#c05b00,#f68f22,#f4b438,#d1ef51,#81f794,#89f18b,#a5d451,#b7ac45,#adc05d,#8cdd76,#71bd81,#699068,#6a6e50,#6e7653,#718a5c,#6c9e6b,#7dd587,#68ce8a,#5dae88,#56ab85,#3ead96,#33adb2,#23b6b6,#2ebcb7,#63b3ab,#78b1a0,#6bae94)"></i><i style="background:linear-gradient(90deg,#8bbf65,#97a380,#769d8c,#639d8f,#6684a3,#5982b3,#668fbb,#7bb3bb,#89c6b6,#91dd9d,#b9d46b,#deab27,#e09808,#e0ba11,#dc9719,#bc2100,#a10101,#900909,#b42617,#e1240b,#ed6614,#ffb235,#ffa031,#e09f25,#cac850,#9ad89a,#7bc6a7,#7eb79c,#88a388,#7daf91,#70b3ac,#6095ba,#446b9e,#30798a,#34726f,#40606a,#45637d,#4e7f99,#4f8ca9,#46799a,#577b7f,#6a9178,#759f83,#83a17e,#8db466,#96ca51,#9ec84b,#acb343)"></i><i style="background:linear-gradient(90deg,#aade84,#85906d,#749b8a,#6ea899,#547392,#386092,#345d89,#3c757c,#4f8c7c,#70bc7c,#a4bf56,#e6b32f,#ffbd2d,#ffdc33,#f2ad2f,#f2572a,#af0f0f,#8b0505,#9b0d00,#e82b11,#ed6714,#d57900,#d67203,#e6a52b,#bfbd45,#72af72,#61ad8d,#6ba489,#7c987d,#75a88a,#599c95,#44799e,#5d83b7,#78c1d2,#94d2d0,#96b6c0,#819fb9,#6697b1,#5693b0,#6195b5,#799ea2,#85ac93,#80ab8f,#86a581,#a6cd80,#c2f67d,#c8f275,#cbd363)"></i><i style="background:linear-gradient(90deg,#006bce,#0d7be6,#2196fa,#26c2ff,#23ccfb,#1dc9f0,#30b0c4,#48bea3,#52b1ac,#88b2ac,#9ba76c,#ab9143,#c0cb4b,#c2e557,#cc9708,#c62b00,#ae0200,#920505,#a91010,#cb1915,#f13d1a,#ffbd2e,#e9dd38,#bfde5f,#b0ec6c,#a7f974,#7af99f,#5af5c6,#39f0e3,#1dceea,#0da7dd,#048ed4,#0182da,#137ee5,#1985e3,#217dd4,#137eb6,#1780b4,#1a86d8,#126aeb,#1448e7,#1058dd,#1570e6,#1972f2,#1d5af1,#102ede,#051fbe,#0313af)"></i><i style="background:linear-gradient(90deg,#2ba0ff,#1381eb,#0074d8,#039edb,#09b3e2,#16c2e9,#41c2d5,#68dec3,#5ab9b4,#57807a,#8c975c,#c3a95b,#c6d152,#bde153,#ffd142,#ff672f,#c71b17,#970a0a,#980000,#b50300,#da2704,#df9506,#dcd02b,#b3d153,#a9e564,#a3f670,#75f49a,#4be6b7,#2be1d5,#1ecfeb,#25bff5,#2bb5fb,#22a3fb,#147fe6,#1782e1,#2682d9,#49b5ec,#4cb5e9,#2491e2,#0961e2,#0438d7,#0d55da,#0f6ae0,#025bdb,#0039d1,#0a29d8,#1631d0,#1626c3)"></i><i style="background:linear-gradient(90deg,#51a4aa,#4baaa1,#5dbf84,#84d671,#9cec6f,#9bf87c,#93f681,#92f17d,#8eeb7b,#98ec72,#b3eb6f,#e7ee4b,#cda427,#9a6b2a,#b86b28,#e56511,#c81f04,#9a0303,#830606,#8a0808,#ac100a,#c43308,#b62b00,#bb7011,#e8b71f,#ffec36,#cceb51,#b0eb69,#aaf363,#9ceb74,#6fbb7c,#65c290,#69e5aa,#60ce9b,#6cdb9a,#88cc72,#9fd75f,#a1eb6c,#8ad973,#6da362,#697d66,#776974,#7d5b79,#835d7d,#8d5d89,#956e90,#959391,#73a98f)"></i><i style="background:linear-gradient(90deg,#57aab0,#66c5bc,#8aecb1,#a1f38e,#a7f77a,#9af77c,#95f883,#98f784,#9af787,#a4f87d,#a5dc60,#cbd22f,#e7bd40,#cd9f5e,#ce803d,#e96916,#db3317,#a40d0d,#840707,#880606,#aa0e08,#d03f15,#ff8741,#f6ab4c,#f2c028,#e0c913,#c5e34a,#abe665,#b5fe6e,#a1f079,#91dd9e,#7ddba8,#66e2a7,#73e0ad,#75e5a4,#9ee388,#b5ec74,#a9f274,#a0ee88,#aae09f,#9eb19a,#897b85,#7f5e7c,#785172,#6c3d69,#653e61,#6e6c6a,#78ae94)"></i><i style="background:linear-gradient(90deg,#49b1f9,#58c5ff,#6dbeff,#64bbff,#51b4ff,#4fc8ff,#71d7f3,#93dbdb,#94d5cc,#9cd3bc,#a6d7b7,#89e2d1,#8feac7,#78ca99,#99d871,#bcfb6d,#afcd4f,#b36c01,#aa2800,#9d0a00,#9a0404,#a90c0c,#d01307,#ca5400,#c1a824,#bce555,#9df179,#85ee88,#8efc91,#96ff9b,#8beaa2,#86e8b7,#83f2ce,#94edc9,#7beecc,#43ebeb,#39e1fb,#49c7ff,#317af3,#2059dc,#2261d8,#53bafe,#7bbae4,#57a4f8,#3458e0,#3a65d7,#62a0ed,#6fb5f2)"></i><i style="background:linear-gradient(90deg,#0068af,#00569f,#004588,#004696,#0054aa,#006baf,#107591,#297171,#397971,#4a826a,#508160,#368f7e,#439e7b,#73c594,#a0df79,#aae85b,#c3e163,#ffbf54,#ff8741,#d9462a,#a10c0c,#a10404,#d91d10,#ff9d3a,#ecd24e,#c0e959,#9df178,#8cf58f,#84f288,#7ae67f,#6dcc84,#56b887,#3ead88,#419a76,#40b391,#20c8c8,#0cb3ce,#0076b7,#0049c3,#164fd1,#1b5ad2,#0065a9,#1a5883,#014ea2,#0227af,#00299b,#002c78,#003674)"></i><i style="background:linear-gradient(90deg,#4b444f,#354383,#3f3d92,#3c4696,#42639c,#3f8599,#416f92,#252f88,#0b2a85,#023c7c,#154886,#22537d,#306052,#5a6925,#747b2e,#88843b,#8d822c,#cc7d22,#ff7132,#bb2118,#8d0d0d,#960a0a,#af1a08,#bd7804,#978804,#918317,#8f7d1f,#858118,#638934,#388e6b,#539884,#5eb184,#56ae8c,#4c96a0,#5379ad,#5460ad,#5155b1,#2f5296,#0b556c,#184e4e,#0d3850,#131b65,#151989,#3b41a2,#5a73be,#4774b8,#2f53a8,#0c1e86)"></i><i style="background:linear-gradient(90deg,#97909b,#6774b4,#5957ac,#5f68b8,#5d7eb7,#68aec2,#6b9abd,#606ac3,#4b6ac4,#5a94d3,#578ac8,#6a9ac4,#99c9ba,#bece8a,#b7be71,#b2ae65,#baaf59,#dc8d32,#c23100,#9f0400,#810101,#900404,#b5200e,#e19c28,#e7d854,#d1c356,#c6b456,#cfcb63,#b3d985,#79d0ad,#83c8b4,#86d9ad,#7ed7b4,#63adb7,#4e74a8,#4854a2,#3b3f9b,#5376ba,#75bfd6,#90c5c6,#89b4cc,#6870ba,#464aba,#4147a8,#2c4490,#1c4a8d,#284ca2,#4759c0)"></i><i style="background:linear-gradient(90deg,#2bb7e8,#3a99ff,#4594ff,#48a0ff,#2faaff,#22bbfb,#14baed,#0aa7e3,#14b0ed,#38dff1,#54f1d4,#51f8c6,#5cf6b8,#88ee88,#e4df2c,#ea8c11,#df5d07,#e16508,#ef7216,#df471b,#a30d0d,#810808,#8a0707,#ce240c,#f29f1a,#f3dd2c,#ece23a,#d4dc47,#bee057,#97e970,#67f3a6,#50f8c7,#44f0e3,#2be0ff,#1dbdf5,#14a3ed,#1ba4f4,#3dc2ff,#5cdbff,#79d1f3,#7acdfa,#5acfff,#30a6ff,#1f71f8,#1d6ef6,#3882ff,#467cff,#3379ff)"></i><i style="background:linear-gradient(90deg,#1aa7d7,#004cbd,#0037ab,#004aaf,#0073cc,#069fdf,#17bef0,#1fbcf8,#15b0ed,#17bed0,#3ad7ba,#4bf3c1,#5af5b7,#8cf28c,#ebe633,#f89a1f,#fb7822,#fb7f22,#ec6f14,#c62e02,#990303,#7f0505,#890707,#cf250d,#f19e19,#ead322,#dbd029,#cdd43f,#bddf56,#a6f87f,#6df9ac,#4af2c2,#2ad5c8,#09bedd,#0daee6,#12a0eb,#0a93e3,#0084c3,#00769d,#005678,#00507d,#006aa5,#0066c9,#004dd4,#004ed6,#003bba,#001da5,#002abd)"></i><i style="background:linear-gradient(90deg,#074f8a,#324d7e,#45558e,#56608b,#56707f,#619389,#7db199,#7ba3a3,#76a9a0,#6bbe9d,#79d09d,#9ece9f,#c0d58b,#e7e165,#f2d346,#f1cc26,#dbb107,#d3af21,#d79005,#c94100,#ad0b00,#990202,#a10d0d,#d62f1d,#ff702d,#e87110,#cd8d12,#c8881c,#cf7d1b,#d99729,#d8db56,#9ed784,#78bb8b,#65a48d,#5a8283,#52757a,#517480,#546f79,#506277,#4f4c77,#554984,#3e5490,#476599,#454f92,#3a207c,#36045c,#470464,#5e3f7e)"></i><i style="background:linear-gradient(90deg,#72b9f5,#7c97c8,#51619a,#606b95,#809aa9,#7aaca3,#6da089,#5f8787,#63968d,#6dbf9e,#6fc793,#699a6b,#7f944a,#aaa428,#caab1e,#edc822,#ffe339,#efcc3d,#ffc236,#ff7c30,#de3c25,#a60e0e,#980303,#b20c00,#c83a00,#f47d1b,#faba3f,#edae42,#ec9a37,#e09f31,#bcbf3a,#8ac370,#7fc292,#79b8a2,#7fa6a7,#87aaaf,#7ea1ad,#829da7,#8496ab,#817ea9,#6d629c,#5066a2,#5573a7,#6069ac,#654aa7,#69378f,#763393,#6d4e8c)"></i><i style="background:linear-gradient(90deg,#82dff4,#79d1ff,#87d5fd,#8fd6ef,#84d1e5,#72cfd7,#84ccc2,#a5dcae,#bdfba8,#9dedae,#a8efb4,#8dcdb9,#74d9b4,#95f18c,#baeb7d,#e1e46e,#e7dd5a,#cac844,#c37b31,#c95211,#c22804,#ae0d07,#950000,#990200,#ba2000,#ea8a1e,#e4d95d,#e8e357,#fccf50,#ffcf28,#e7c10f,#c9b51a,#cdd02f,#d0d745,#d4df5d,#ddef74,#dad673,#d1b35e,#c6aa53,#d2d95f,#c0f495,#8eebcc,#67e8f2,#7ce0f0,#b8e2d9,#aaa6b6,#967ea2,#925d9e)"></i><i style="background:linear-gradient(90deg,#0f6b80,#004e85,#004d74,#0d546d,#166376,#25818a,#3e867c,#5b9164,#66a451,#5fb071,#589f64,#4d8e7a,#57bd98,#88e47f,#95c657,#a2a62f,#b6ab29,#cdcb47,#d28a41,#e26b2a,#d63c18,#b4130d,#a71111,#ad1613,#d9401d,#e98a1d,#a1961a,#9c960b,#b58809,#eab812,#ffdf2d,#f9e54a,#e6e948,#cfd644,#b4bf3d,#9daf34,#999532,#aa8c37,#b69a43,#b2b93f,#7baf4f,#3e9b7c,#10919a,#086c7c,#224d43,#464252,#563f63,#541f60)"></i><i style="background:linear-gradient(90deg,#001ab4,#0244bb,#0054b8,#0048b1,#0035af,#002bb7,#093cc5,#1866d5,#2288e4,#1085d1,#006abe,#1799d5,#27c0cc,#31c7b5,#3bbd9f,#3cbf99,#69d891,#9feb71,#bff55e,#c0de4c,#d2cb2c,#f17818,#c90b0b,#8e0808,#8c0202,#ae1309,#d5511b,#f27e28,#fd9c27,#fcca25,#d1e83e,#8ef17b,#59d89a,#34c8b1,#1ac2c6,#10b6c9,#0cafdc,#26a6d8,#2695da,#1367e0,#0b34d1,#0924cc,#0e3dd0,#0b3fd1,#0022c7,#004ac7,#0069c4,#0c61d3)"></i><i style="background:linear-gradient(90deg,#2e49e4,#3476ed,#3a8ef2,#3f8ef6,#3e7df7,#3665f2,#2a5de6,#206edd,#157bd8,#2ca0ec,#3da7fb,#2bade9,#3cd5e1,#57eddb,#6defd2,#75f7d1,#80efa8,#a4f076,#b9ef59,#c9e655,#e8e142,#ec7413,#c70909,#8b0606,#960d0d,#af140a,#bf3b04,#c95500,#df7e09,#edbc16,#daf046,#9bfe88,#76f5b8,#5befd8,#44ecf0,#40e5f8,#28cbf8,#29a9db,#2392d8,#1568e1,#1b45e2,#1e39e1,#1d4cdf,#1b4fe1,#224aef,#2d83ff,#37aeff,#2278ea)"></i><i style="background:linear-gradient(90deg,#456a9a,#59719b,#63769b,#6499b1,#5ea2ab,#649c8f,#75b29a,#8addaf,#83c6bb,#7fa0b0,#7fbba5,#65ce90,#4cc7a0,#44dbb7,#63f3ab,#9afa82,#bbe855,#e6dc1f,#f8ce43,#edc43b,#c1a013,#be920a,#b82a00,#ad0700,#a60808,#a80e0e,#d82816,#ed5b14,#ff9a28,#edb315,#f1c528,#e8e948,#a8de65,#97d67d,#a0ec7c,#97f77f,#6ff3a2,#3fe2c0,#38b3b3,#458ea6,#508fa6,#5a969f,#567c8f,#507598,#4778ac,#4974b9,#5089bb,#4890b1)"></i><i style="background:linear-gradient(90deg,#486d9d,#4f6691,#5a6d92,#4f859c,#589ba4,#76ada0,#6daa92,#5cae81,#4a8c82,#4f7080,#629d87,#7fe7aa,#6de8c1,#58eeca,#69f9b0,#94f57d,#c1ee5b,#faef32,#cca217,#d3ab22,#fddc4f,#ffd951,#ff8741,#db3523,#a70909,#9d0303,#c51503,#eb5912,#e07907,#fcc223,#eabe21,#cdce2d,#aee56b,#93d278,#98e474,#97f87f,#72f6a4,#50f3d1,#55d0cf,#5ba4bc,#5b99b0,#639fa8,#6f95a8,#6084a7,#5081b5,#406bb0,#417aac,#4f96b7)"></i><i style="background:linear-gradient(90deg,#81aed4,#96c0e9,#7ec4de,#86c3dd,#91c9dc,#a1e4d2,#8ffbb4,#89f1a6,#7dbbae,#7fb3b0,#79a7a4,#92ddc2,#75c7db,#6ccfd7,#6dd4cc,#79e8b5,#7bf2a9,#7ef59f,#93fc8c,#91c962,#989228,#c39315,#e5b021,#ea9511,#c11a00,#9b0202,#b00e0c,#e5381b,#ca3512,#dd7826,#fbe660,#bad88c,#90db80,#76db85,#6ce7a9,#6fe9c0,#62decd,#5dd2d9,#75d4d9,#97e1cc,#94dec7,#97c8c9,#97a2c2,#99a3c4,#8fb3d4,#87b4d2,#94cdc1,#ace89f)"></i><i style="background:linear-gradient(90deg,#29577c,#143e66,#236982,#23607a,#255d6f,#347765,#5cc881,#6ad287,#579588,#538784,#5f8e8a,#469176,#27798d,#2e9199,#3ba29a,#59c995,#69df96,#74eb96,#8af382,#afe680,#e5df75,#f8c74a,#edb729,#faa521,#e64020,#a70e0e,#aa0906,#c91d00,#c22c0a,#b75200,#947f00,#809f52,#91dc81,#8cf19c,#67e2a4,#4ec89e,#3db9a8,#2ea2a9,#2c8c90,#3b8570,#408a73,#3a6c6c,#3a4565,#384263,#294d6e,#2c5a77,#447d70,#6fab62)"></i><i style="background:linear-gradient(90deg,#263453,#103d61,#1a637c,#31817f,#428475,#487767,#3b655a,#28545e,#1f5567,#24555d,#408368,#44a178,#48a778,#52a87b,#58c585,#6de3a6,#86e59d,#98e48a,#b1e376,#cfe062,#ffdb57,#ffb636,#f4951c,#ea7111,#c51e03,#900d00,#9b0c0c,#cf3c20,#db8232,#daa332,#e2cd4f,#ceda6a,#abe462,#9bd160,#79c764,#3aa887,#15939e,#1c9eb0,#49b687,#62aa66,#63a374,#6cc47e,#51be7e,#1d6d73,#04486c,#012e63,#0a3d6e,#0066a0)"></i><i style="background:linear-gradient(90deg,#a5b3d2,#9ccaed,#85cee7,#86d5d3,#90d3c4,#9dccbd,#a9d3c9,#a3cfd9,#99cfe1,#a4d5dd,#9fe3c8,#93f0c7,#94f2c4,#91e7ba,#8bf8b8,#6ae0a2,#73d28a,#87d378,#9bcd61,#b0c142,#b68804,#d57c00,#ed8d14,#f27819,#da3318,#a72515,#930303,#a71400,#bf6716,#d8a130,#c0ab2c,#a5b141,#b3ec6a,#b2e877,#aefc99,#85f3d2,#68e5f1,#55d7e9,#86f4c4,#a8f0ab,#96d6a7,#91e9a3,#92ffbf,#90e0e7,#8acef2,#94c1f6,#8cc0f0,#5ac0fb)"></i><i style="background:linear-gradient(90deg,#75606f,#c0c279,#d2de7f,#d3f19b,#b7e9b5,#a4eaab,#b0ee9d,#d5eb8d,#cfca81,#c2ba84,#b3ac82,#baaa77,#c49c61,#c39c65,#aeba84,#acc17f,#a8be77,#9dba71,#83a063,#75824d,#86904d,#b9cf4f,#b9ce60,#d9d150,#eaa516,#ff742a,#c72219,#8a0c0c,#8a0909,#b72613,#c64c0d,#c6983d,#b49853,#e5c353,#bef275,#b2ec8a,#c4e98d,#c2ea90,#b8ee95,#c6e88a,#b2e695,#9ce6b8,#b1e6ad,#949d8a,#95a695,#aae3ba,#a7e9c0,#ace4ad)"></i><i style="background:linear-gradient(90deg,#6e5a69,#75772e,#778223,#64822d,#51824f,#61a768,#72af5e,#819739,#87823a,#807842,#797248,#847441,#9b7338,#9e7841,#838e59,#8ba05d,#94aa63,#9ab76e,#a7c587,#bbc892,#bcc683,#c3d859,#afc456,#c0b938,#f8b324,#d54600,#aa0400,#800202,#860505,#a61502,#cd5214,#a6781d,#8e732d,#b99727,#9ed356,#87c15f,#81a64a,#7ea54c,#7ab157,#84a649,#79ad5c,#529c6e,#5e9359,#78816f,#6e7f6e,#4e885f,#498a62,#589058)"></i><i style="background:linear-gradient(90deg,#26498b,#1a5586,#0e4d7c,#1f4589,#4e66a7,#6aaec4,#7dd0d7,#79c4d2,#70adca,#6fbac8,#73dcd0,#77e4d1,#7cc9c7,#69a2c3,#649abd,#62a5bc,#73a79d,#7e9b74,#6f9259,#959b3b,#d7cd24,#ffc936,#ff9535,#ef6920,#d24308,#b50c00,#990100,#870000,#800303,#910707,#b5190a,#d44f0e,#d4771f,#dc7c1f,#e58b20,#eea225,#e8b02f,#e5b93c,#d3c145,#a8da56,#7fec97,#63e6b3,#65bba2,#639a95,#457f93,#3d739b,#5676b0,#7b8794)"></i><i style="background:linear-gradient(90deg,#597cbe,#5a96c6,#5d9ccb,#597fc3,#5068a9,#3d8196,#2d8087,#307b8a,#36738f,#3a8694,#369f93,#37a490,#3d8a88,#3c7495,#41779a,#45889f,#679a91,#92af88,#accf96,#d1d778,#f2e93f,#d9a411,#cf6304,#df5910,#e4561a,#d72e1d,#c32b1f,#9f1714,#880b0b,#910808,#b5190b,#e35e1d,#e3862e,#df7e22,#e2881d,#e5991d,#dea524,#d2a628,#c9b73b,#bef06c,#7be893,#5cdeac,#67bda4,#6fa5a0,#6ea8bb,#5e93bb,#4a69a3,#697582)"></i><i style="background:linear-gradient(90deg,#16b1e9,#0960c3,#185eac,#2995cf,#42aed5,#59c7d4,#72d4be,#8dc6b2,#93b4a5,#6faf9b,#339ec7,#1970bd,#2780bb,#247cb2,#44adbe,#3ebfd7,#24aad9,#31b6ce,#3fc7c8,#45e2d3,#71fcae,#b0d853,#ccc223,#cbcd27,#aec735,#f1a11f,#eb441c,#c6231b,#a81211,#aa0a0a,#bd2705,#df760e,#de890c,#de891f,#cd872c,#bca63c,#a0e06c,#97e49c,#8ab99d,#74aea1,#69caab,#5cddd3,#52c7c4,#55abae,#4a97a4,#33879b,#2397c6,#24bbf2)"></i><i style="background:linear-gradient(90deg,#19b3ec,#3389ed,#488edc,#2d99d2,#2996bd,#309eab,#48aa95,#508975,#5f8070,#6cad98,#3aa6ce,#3e95e2,#429ad6,#4ca3da,#46aec0,#2eafc7,#29afde,#37bdd5,#40c8c9,#39d7c8,#66f0a2,#c1e964,#f1e748,#eef14b,#dff866,#ec9c1a,#d22b03,#a20000,#960000,#a70707,#cd3715,#f0861e,#f7a225,#d78218,#cd872c,#d0ba50,#a7e774,#72c077,#6a997c,#649e91,#5fc0a1,#37b8ad,#44b9b6,#56adb0,#5facb9,#67bbcf,#3bafde,#10a7de)"></i><i style="background:linear-gradient(90deg,#054799,#005c89,#186778,#1f747a,#193f72,#193672,#0a3e6c,#004074,#00438c,#005fa9,#0374a6,#228487,#409b78,#3ca687,#1d98a1,#0079b4,#0075c1,#007dc3,#1d89ba,#38a5a8,#56dda5,#a0e783,#e4eb59,#cfb635,#b8a629,#9b9f3f,#a6922a,#c47320,#bf2a04,#a50707,#aa2016,#e4532e,#fa6924,#eab117,#e7db27,#edf046,#bfeb62,#86e77b,#4fdea2,#2baca9,#1fb0c3,#20c1d1,#33cbb7,#55cd99,#60c3a8,#4ab4a3,#329a8e,#366f67)"></i><i style="background:linear-gradient(90deg,#5fa1f4,#76d2fe,#88d7e8,#89dfe4,#87ade0,#86a3e0,#8cc1ef,#7cbcf1,#6bb4fd,#52b6ff,#5acafd,#7fe1e3,#92edca,#84edce,#65e1ea,#4dcfff,#3dc5ff,#3bb8fe,#46b2e3,#5fccce,#6bf1ba,#8fd672,#bac12f,#dac240,#e6d557,#cdd171,#ddc961,#db8a37,#d33e18,#a70909,#8f0600,#a41300,#d84601,#f9c026,#f0e430,#d0d32a,#b3df56,#9afa8e,#6ffec2,#60e1dd,#44d5e8,#37d8e8,#55edd9,#76eeb9,#62c4aa,#65d0bf,#7ae2d6,#9dd6ce)"></i><i style="background:linear-gradient(90deg,#47d4a9,#41b396,#14a3b3,#0080af,#0b84a1,#2db6a9,#56c58f,#55a27d,#38876c,#2e8877,#40847a,#5ba688,#57c08d,#4fc08a,#33b49b,#0c92ab,#0087b0,#1d9fa9,#53cfa8,#71f2b2,#6af5b6,#92fa9c,#c6fc72,#d4d042,#ba8b24,#aa640f,#895b00,#955a00,#bb7a08,#c12f04,#a10505,#830505,#930505,#b30500,#ab2000,#b03915,#d06637,#dac143,#cbf555,#b4fa68,#a6ef73,#99e591,#81dfa6,#61c9ba,#59aaa6,#5b9584,#718d6e,#5e7271)"></i><i style="background:linear-gradient(90deg,#66f3c8,#75e6ca,#54e3f3,#53d6ff,#63dcf8,#62ebdd,#7feeb8,#8ddab5,#9ae9ce,#8ae4d3,#8acfc4,#81ccae,#81eab7,#84f5c0,#71f2d8,#5adff9,#52d9ff,#5ee0ea,#65e2ba,#5fe0a0,#5be6a7,#77df81,#a3da50,#d0cb3e,#e5b650,#efa853,#ffd163,#ebb052,#e1a02e,#d54319,#a80c0c,#860808,#980a0a,#d02219,#e55a2c,#be4623,#bc5224,#ccb234,#c3ed4d,#b0f664,#a2ea6f,#7fcc77,#67c58c,#4fb7a8,#5fb1ad,#81bbaa,#97b495,#90a3a2)"></i><i style="background:linear-gradient(90deg,#8ea145,#7c7d4f,#9f816d,#bfbe89,#b1db94,#7fbc95,#609d7f,#6d905a,#83795d,#8e7069,#876e62,#797054,#7c9c72,#95b66d,#908148,#725f3f,#5f734a,#597b5e,#627659,#706150,#705353,#776150,#7a9148,#87b054,#99c453,#99c356,#92a646,#917c19,#b86300,#cc2b07,#b80c0c,#910606,#a41111,#cd3624,#cb321d,#ca5a29,#b66226,#b36d26,#bd752e,#caa73b,#cad650,#b6ec70,#a2e487,#a0aa68,#544b3d,#443e3f,#50361d,#953209)"></i><i style="background:linear-gradient(90deg,#c8da7f,#b4b588,#927461,#7d7c47,#78a25b,#73b08a,#88c4a7,#afd29c,#a59a7f,#957770,#9d8477,#aea589,#95b58b,#9fc077,#beb076,#b29f7f,#a8bc93,#94b699,#9fb497,#ab9c8b,#a08383,#b09988,#c3da90,#bae387,#bee978,#bbe578,#c7db7b,#e3ce6c,#fba73b,#db3a16,#b30606,#940909,#910000,#9c0500,#a70e00,#af3f0e,#c16d31,#d18b44,#d58e47,#d1ae41,#c3cf48,#a4d95d,#89cb6e,#a0ab69,#a09789,#9b9495,#bea48c,#f39067)"></i><i style="background:linear-gradient(90deg,#aad7c1,#b1d7c3,#ade4ba,#a4e7c2,#a2dbdb,#9dddcf,#9bdddd,#89e3db,#68e2e6,#51b2cf,#5082ac,#4e76a8,#69bbc3,#85e6d6,#8ce9d7,#7ee7dc,#80e5c9,#68c8b7,#55c7af,#60f1c2,#56eac5,#64e8ad,#8fe891,#b7eb7d,#cde970,#dfeb60,#cfdc56,#d1c35a,#c6b055,#c08b43,#e26419,#b91f07,#a20808,#b2120f,#e35222,#f7a43a,#ffd645,#ffcb46,#ffcf52,#fdd651,#cedb45,#aee667,#91cc79,#78c06d,#62cd87,#5ff3b3,#68e5bd,#619fb5)"></i><i style="background:linear-gradient(90deg,#416e58,#3f6550,#4f865c,#478a65,#286161,#1f5f50,#236566,#2b857e,#219b9f,#3394b1,#5082ac,#537aac,#41929b,#329383,#318e7c,#2c968a,#41a68a,#51b1a0,#5bcdb5,#4ddfb0,#4adeb9,#63e7ac,#80d982,#95c95b,#a2be45,#b2bf34,#bcc943,#b2a43b,#b59f44,#c28d45,#e4661a,#c32a11,#a20808,#a70603,#be2d00,#ce7b10,#cba311,#c78c06,#b97600,#be9611,#cfdd47,#aee666,#95d07d,#a2ea97,#89f4ae,#5ff3b3,#51cea5,#4c8a9f)"></i><i style="background:linear-gradient(90deg,#4b8997,#4b8c71,#52af6f,#4fc084,#3ebf98,#12a1ae,#007bb8,#0087bf,#1bb2b3,#2db5a1,#208887,#1d5e75,#1f5869,#1b505b,#185967,#24707d,#2f8589,#36997f,#44ce9e,#38c9aa,#32b5bd,#30a8b2,#3d8e96,#4baaa5,#71b88f,#91e385,#abe874,#b9e76a,#c3dd6c,#dad36a,#f8cf55,#d97f20,#cb1207,#980202,#830707,#a50e0a,#cf3c24,#e85833,#ff6a2c,#f0a930,#dbde5d,#b7d473,#98d477,#76c970,#50c488,#2cb0ae,#1187a4,#0e798b)"></i><i style="background:linear-gradient(90deg,#64a2b0,#91d2b7,#a0febd,#8bfcc0,#76f7d0,#5ae9f5,#47c3ff,#43cfff,#56edef,#6af3de,#80e8e6,#8acbe2,#98d1e2,#a6dbe6,#9bdcea,#85d2df,#7cd2d5,#8beed4,#72fccb,#63f5d6,#4acdd5,#54ccd6,#6dbfc7,#62c1bc,#7ac299,#8ddf81,#9fdc68,#a9d75a,#a5be4d,#8a8319,#936a00,#c06607,#d31b10,#a30e0e,#830707,#a20a07,#9e0b00,#9e0e00,#d03500,#db951b,#b3b635,#9cb957,#99d477,#a1f39b,#87fbbf,#5bdfdd,#5fd5f2,#79e3f6)"></i><i style="background:linear-gradient(90deg,#1bc6f2,#76dcef,#a1e3d7,#89dde5,#40d0fa,#18b1ed,#17c5f0,#37e5f5,#6ae4f1,#8ae2f0,#8ae4eb,#85e8dc,#95eadb,#a0e4d6,#9fcfcb,#91bfd1,#80aad6,#6ea7c3,#6ac6bc,#6ed7cd,#65ccdb,#68bde7,#64b5e2,#63e3db,#6cffbe,#81f997,#b0f066,#d7b440,#ca6d1a,#c15d00,#cb5a00,#e48411,#e1400f,#ca0c09,#9d0707,#950808,#be0b09,#dd590f,#f7ac1e,#fad129,#e5d229,#d8f85a,#bffd78,#96f78d,#64f3a9,#41e7ce,#4be0e3,#6ce7ec)"></i><i style="background:linear-gradient(90deg,#13bfeb,#147a8d,#296a5f,#1f737b,#099ac4,#14aeea,#15c3ee,#14c2d2,#158f9c,#106876,#1a747b,#2b8e82,#2c8172,#307465,#376863,#2f5d6e,#214a76,#3c7591,#4ba79d,#3ba499,#2a909f,#186d98,#1c6d9a,#2eaea6,#55eaa7,#7df594,#b0f067,#cca935,#de812e,#f38e2d,#ff9537,#f1911e,#e24111,#cd0f0c,#9f0909,#930606,#c10e0b,#e56117,#efa416,#eac019,#ecd82f,#bbdb3d,#9cd954,#88e87e,#6af9af,#40e6ce,#26bbbe,#1b969b)"></i><i style="background:linear-gradient(90deg,#5d99d3,#7fb2da,#74ccf3,#79b9e6,#91cbe9,#67c6f8,#3354d2,#2328bb,#202db0,#1817b0,#2314b5,#211bb3,#2019b9,#1a0cb3,#1d02a9,#2f2db5,#3c61c8,#51b3de,#47a1d4,#3980c6,#4384d0,#4f6ddc,#3f63d6,#4286d9,#4592cc,#44abcf,#68e8c9,#bfec7b,#d1b140,#cf7f2c,#d58c0b,#d37210,#c14501,#ab0606,#8d0606,#910c0c,#9d1111,#ea3d24,#ff822e,#f5b71c,#d4c450,#718f73,#5e8278,#76ac96,#91dac4,#80d6e8,#6cb2f4,#6da7e4)"></i><i style="background:linear-gradient(90deg,#134f89,#003058,#003b62,#003664,#154f6e,#016093,#092aa8,#1d23b5,#2d3abc,#2928c1,#1c0cad,#110ca4,#110aab,#1608ae,#260ab2,#2f2eb6,#2b50b8,#2385af,#2a84b7,#347bc1,#296ab6,#1634a3,#1135a7,#0d50a3,#1d6aa4,#1d84a7,#2dad8e,#80ad3d,#bf9f2e,#d38430,#f5ac2b,#f69532,#e16521,#b10b0b,#8e0808,#870202,#8a0000,#bd1100,#d34f00,#f3b61b,#beae39,#8aa88c,#81a59b,#70a58f,#3e8671,#045b6c,#003477,#0f4885)"></i><i style="background:linear-gradient(90deg,#53adde,#2684d6,#135bb7,#053da6,#1726ac,#2419ba,#1927b9,#1c22bc,#2229bd,#315fd0,#2e9fdb,#1aabbc,#29a0b9,#3496c3,#4694d4,#3c9ae2,#2a94cf,#2982be,#2c85d2,#4c9eef,#498cef,#1e66c4,#2371a0,#3f9baa,#43a5ba,#3facc4,#3cbabf,#31c9b5,#5ecb8a,#97d062,#a7c54d,#8d731c,#804906,#853e01,#8f4300,#ae1300,#910000,#8c0707,#c91010,#e1561a,#aa4007,#9d4809,#a64a14,#ba5e2d,#c19354,#b5a771,#af9563,#a8b86e)"></i><i style="background:linear-gradient(90deg,#217cac,#1977c9,#2169c5,#2c63cd,#2f3ec3,#160bac,#101eb0,#1319b3,#141bb0,#0735a6,#1a8bc7,#3dcede,#3cb3cc,#2c8ebb,#216faf,#1a78c0,#309ad5,#3f98d4,#2982cf,#0b5dae,#074aad,#347cd9,#56a5d4,#4da9b8,#3c9fb3,#319eb6,#39b7bc,#48e0cc,#7de9a9,#b0e97b,#c4e26a,#edd37c,#e2ab68,#db9456,#ffb54f,#e34828,#a21111,#8c0707,#bc0403,#cf4408,#ba4f16,#b45f20,#b65a24,#b95c2b,#986a2b,#7c6d37,#927846,#9dad63)"></i><i style="background:linear-gradient(90deg,#3a5270,#7294b1,#9b87b2,#8185b2,#978ab1,#bca8bb,#b3c1c2,#8acfb6,#74bda7,#6497ac,#608ea4,#7e8ca2,#8788bc,#77acd0,#79cbca,#81b6b9,#7985bc,#567dc5,#347dae,#25789e,#2f6ba8,#3760b1,#425eb2,#4d6dad,#3c899d,#3c9c9b,#609a8d,#8bb075,#a6c962,#afc453,#bebc3e,#d2ae23,#d7a917,#d6aa1b,#efa01b,#cf4703,#a50300,#810303,#890808,#c5160e,#af1800,#8e2200,#9d3100,#b46900,#adb64c,#90c87a,#7ac48f,#88c587)"></i><i style="background:linear-gradient(90deg,#859cba,#4c6e8b,#331f4b,#272a57,#3b2f56,#3f2b3e,#3e4c4d,#52977d,#60a993,#508398,#366379,#36445a,#353569,#2e6487,#3b8e8d,#497f82,#28346c,#0d347d,#2b73a4,#3c8fb5,#2d6aa7,#214a9a,#2b479a,#4464a4,#5daabe,#57b7b6,#659e91,#95bb7f,#aed16a,#bdd361,#d2d052,#edc83d,#f9cb39,#f4c739,#f0a21d,#ee6621,#b91713,#890a0a,#870606,#be0f07,#de4624,#e57a3b,#dd712f,#f9ae3b,#c3cb61,#93cc7e,#7dc792,#85c184)"></i><i style="background:linear-gradient(90deg,#089fd5,#117bb8,#1f5ba0,#31598f,#194ca4,#003fc3,#0d5cbe,#3d779d,#43659c,#2e4a88,#1d2d7f,#1d3383,#2a3b84,#515aab,#667cc0,#5482ae,#366e90,#20568b,#234a84,#376d91,#4ca2a6,#539ead,#4f82a9,#577eb1,#64b3be,#6fdcb3,#81df9f,#90e384,#9ded65,#bff24f,#dbf639,#f4ec38,#ffe63b,#ffd444,#ff9647,#e05120,#bf0e0a,#9b0606,#9a0402,#af2702,#ce4111,#e1511b,#d3600a,#f28f19,#e9d247,#bdd168,#b6cf69,#98c170)"></i><i style="background:linear-gradient(90deg,#2dc4fb,#46b0ed,#5490d5,#5880b6,#4779d2,#2e73f7,#3987ea,#609ac1,#5e80b7,#718cca,#7585d7,#7389d9,#7283cc,#4a53a4,#374d91,#4e7ca8,#6ea6c8,#71a7db,#759cd7,#6da3c7,#5fb5b8,#56a1b0,#5588af,#4970a3,#45949f,#59c79e,#6fce8e,#8ee081,#b2ff7b,#cafd5a,#e2fd40,#dfd723,#d9c015,#cb9e0e,#ba5001,#bd2e00,#be0d09,#9f0a0a,#a8110f,#c53d18,#cb3e0d,#cc3c05,#e5721d,#ef8c16,#cab328,#a6bb52,#a5be58,#9dc675)"></i><i style="background:linear-gradient(90deg,#286cdb,#256ced,#1166e8,#1c70eb,#3084f4,#3782ef,#368bea,#3391fd,#1e79f7,#0446dd,#0034d8,#0a4bda,#1262e2,#0f6cde,#136ede,#2374f1,#298fff,#38abff,#52b4e9,#59b0e4,#4da5ea,#49abf1,#33abeb,#0b79ca,#005fc4,#0065ba,#005b98,#1c6b85,#3b8e7e,#419880,#6fc181,#a4e176,#c3df64,#cddd57,#d9d949,#fd9229,#d01108,#900302,#930504,#b30b06,#bc3500,#d37c07,#add059,#adea73,#a0ec80,#77edad,#48dcd9,#3caae0)"></i><i style="background:linear-gradient(90deg,#0145b4,#0041c3,#0b61e3,#075bd6,#0050c1,#004bb8,#065aba,#0059c4,#0058d6,#1254eb,#1449ec,#1455e4,#1161e1,#1976e7,#1973e3,#0253d0,#005acd,#0070c4,#1678ad,#1a72a5,#116aaf,#0b6db3,#148ccc,#32a0f1,#35a6ff,#42beff,#65c1fe,#7ccbe5,#89ddcc,#88dfc7,#8cde9e,#9cd96e,#adc94e,#bbcc46,#c9ca39,#d96f05,#d7180f,#9c0f0e,#9a0b0b,#bb130e,#db551f,#ffab36,#b8dc65,#a1de67,#93df72,#63d999,#31c5c2,#1f8ec4)"></i><i style="background:linear-gradient(90deg,#61c0d3,#4eaadc,#4792c7,#5886c2,#6281b0,#456c9c,#235196,#1e388b,#293f93,#305193,#3665a2,#416aa9,#5187b0,#62a3ba,#60adc6,#3a9ab8,#2485a8,#448ec0,#82afd3,#89a9c3,#82a2a7,#79889e,#6f8696,#66979d,#3f9abb,#4bb1c6,#51c6d0,#33dccb,#46e2cf,#51e4e8,#57e9d8,#80f1a6,#93e57b,#a2b03d,#af9a24,#c8b53d,#e6690d,#d30d0a,#9a0700,#a00202,#b61600,#c0691c,#d5a848,#c1a840,#9fab3f,#81ae5f,#79c883,#91eea5)"></i><i style="background:linear-gradient(90deg,#3090a2,#1d79ab,#2e79ae,#34629e,#41608f,#416898,#3765ab,#4862b5,#4459ae,#3f60a2,#3d6ca9,#426ba9,#3c729b,#36778e,#3b88a1,#4aa9c7,#59bbdd,#3e87b9,#2a577b,#3b5a75,#5a7b7f,#5f6e84,#687f8f,#64959b,#47a1c2,#3ea3b8,#36aab4,#42ebda,#3edbc7,#21b5b8,#33c5b4,#6bdc91,#98ea80,#d3e06d,#e9d45e,#d1bf47,#f5781c,#d6100c,#ad1a12,#ad0f0f,#df3f21,#da8437,#c19434,#cbb24a,#cdda6d,#add98b,#8bda95,#6ac77e)"></i><i style="background:linear-gradient(90deg,#45cbf0,#2270d8,#2455bc,#1f3fbc,#223ac0,#2f35d5,#333fd6,#436de1,#3e7de2,#2b6bcf,#3175d5,#2a78d1,#137eb8,#147d97,#0f8098,#0775a5,#1272b5,#346ab7,#4c67ad,#2d7cc1,#3ea4e2,#68ddf2,#6ae9e6,#4cd6db,#2aafc2,#16a0c0,#14a8c7,#34c8cc,#52e5d1,#4af2cc,#66f0aa,#a6f26f,#c3ea57,#cbe95f,#d2de60,#c7bf54,#bca244,#d69723,#c06300,#b31700,#9e0100,#990c0c,#bd3222,#e58f4c,#e0aa61,#d4a969,#f4a354,#d2cb3d)"></i><i style="background:linear-gradient(90deg,#1499be,#1f6dd5,#2757bf,#294ac6,#273fc5,#1319ba,#0713aa,#0630a3,#1453b8,#2766cb,#2166c6,#2775ce,#46b1eb,#69d3ec,#65d5ed,#54c2f2,#44a4e7,#4177c4,#4a65ac,#3b8ace,#1b81bf,#13889d,#23a19e,#2db8bc,#44c8dc,#43cded,#3bcfee,#3aced2,#39ccb8,#44ecc6,#68f1ab,#a7f370,#bde551,#b3d046,#b1bc3e,#b9b046,#c6ac4e,#e5a633,#ffb245,#ea4e29,#ad1010,#8f0303,#8c0100,#6c1600,#592300,#512500,#8d3c00,#d5ce40)"></i><i style="background:linear-gradient(90deg,#584bbc,#6d82d0,#85a8ea,#729fe8,#6a9ac9,#456199,#302976,#2e2d70,#3a5c86,#537377,#644e52,#6a3437,#7d4353,#8d646e,#8a6a6c,#734e53,#5b4c56,#515b7e,#4472a9,#5e84c2,#7088d4,#6b7fd0,#5f7ec3,#4e68b2,#3d50a1,#255295,#0c5d8e,#117293,#228999,#369299,#3c949b,#319795,#499063,#768d2a,#a79115,#baa02a,#b99326,#bf8606,#b84c00,#c41200,#c3100b,#ac1010,#970d0d,#ce1414,#fb652b,#fd9e24,#d2a431,#c2a84a)"></i><i style="background:linear-gradient(90deg,#322596,#243987,#0f3273,#06337c,#2b5b8a,#607cb5,#7a73c0,#6f6eb2,#6182ad,#7b9a9e,#998388,#a77073,#945a6a,#875d68,#8c6c6e,#a37e83,#9b8c96,#7a84a7,#5280b6,#375d9c,#223a86,#26398a,#345399,#455fa9,#5468b9,#5582c6,#4e9ecf,#4dadce,#55bbcc,#61bec4,#64bcc3,#6cd1d0,#95dcaf,#cbe27f,#f1db5f,#e3c953,#e5be52,#f8be3f,#f88d34,#e02e1a,#c10f09,#9d0101,#8c0202,#b90000,#c83200,#e4850c,#daad3a,#c0a648)"></i><i style="background:linear-gradient(90deg,#82ca69,#79db87,#36c7ba,#05aed2,#055c92,#013376,#003a95,#003ba9,#045ba9,#0b85a2,#036693,#003991,#00329b,#1067c0,#1c8ab0,#176477,#0c2a6a,#173c79,#215e87,#1d6082,#085681,#0064a1,#0f81a5,#2f9983,#5b9a5f,#54a565,#29b4a5,#1ac8cb,#33e2cb,#5fe8ab,#88e884,#8ec674,#88ce6d,#88e687,#92ff95,#8ee989,#7fab5c,#a2870a,#c76700,#cb5207,#b41c01,#9a0505,#970503,#a62300,#c03500,#974e00,#916c00,#b09514)"></i><i style="background:linear-gradient(90deg,#a8f08f,#8aec98,#51e2d5,#29d3f6,#63bbf0,#84b6f8,#62a3ff,#488bf9,#51a9f7,#62dcf8,#6cd0fd,#5f9af2,#4477e0,#2b81da,#4dbbe1,#85d2e5,#86a4e4,#7da1df,#77b4dc,#7dc0e2,#7eccf7,#5dc5ff,#5dcef3,#87f1db,#adecb1,#a8f9b9,#66f1e2,#40eff1,#44f2db,#66f0b2,#8fef8b,#9ad280,#a4ea89,#8cea8b,#80ef84,#89e484,#b1dd8e,#fbe063,#ffaa40,#f27a2f,#ca3217,#a00b0b,#a2100e,#ca471f,#ff7733,#ffca5d,#ffe35c,#fadf5e)"></i><i style="background:linear-gradient(90deg,#7575b7,#6a7fbd,#4f7496,#44628d,#516c92,#6a9da4,#67a1b4,#6490a1,#466a85,#486e8c,#5d90a4,#60a4b6,#4994cf,#408cd9,#498ddf,#5e90dc,#7da0dc,#8098cf,#8491d3,#7f9ad8,#78a89c,#9e9768,#979769,#6cb6a3,#66bbac,#61bdb1,#4cb7be,#4cbac6,#63b3bc,#5ab5b0,#5fc3a9,#5e9796,#547a7d,#61988b,#7ddeaf,#97e296,#a9dc79,#daef57,#e6df3e,#d7b042,#dd742a,#d13112,#ae0808,#980c0c,#c01212,#e12f0e,#f88320,#ffc12d)"></i><i style="background:linear-gradient(90deg,#2b2b6d,#384d8b,#587c9f,#5b79a4,#546f94,#44777e,#316a7d,#426e7f,#5f839f,#6087a4,#4e8295,#3a7e90,#145f99,#004390,#003f91,#093b86,#1d407c,#2a4279,#243073,#213b79,#619286,#8f885a,#99996b,#64ae9b,#5bb0a1,#57b2a6,#48b3b9,#3facb9,#4897a0,#56b1ac,#61c5aa,#6da6a6,#85aaad,#7ab1a4,#5dbe8f,#77c276,#90c360,#b9ce36,#d4cc2b,#c59e30,#cb6319,#c72808,#af0909,#8f0303,#af0201,#e2300f,#e46f0c,#e2a10d)"></i><i style="background:linear-gradient(90deg,#91c1f8,#9eb9e7,#8794cd,#6a67c3,#6045ba,#6a51be,#6972c2,#4666a5,#1c4b88,#22538e,#5d73b7,#85a3d0,#91c5d8,#85c0d8,#6099ba,#3a798a,#186d6d,#014e73,#122b85,#2b2b8f,#393497,#36499a,#3b6389,#4d6e8d,#4a6daa,#3c65aa,#2d60a0,#36689e,#4475a1,#4d82a6,#5799a2,#6a977d,#789057,#6f8045,#5c6130,#393a15,#3a3400,#5d2f00,#871d00,#a50100,#8f0101,#b91710,#a10601,#930101,#830101,#bb0505,#e62c0f,#d76a00)"></i><i style="background:linear-gradient(90deg,#002158,#001c4a,#1f2c65,#2d2b87,#280e82,#260d79,#323b8c,#4e6ead,#5b8ac8,#5788c3,#41569a,#294774,#25596c,#28637b,#447d9e,#6aa9ba,#72c7c8,#67b5d9,#526bc5,#5656ba,#5550b3,#4f62b3,#658db3,#6a8aaa,#486ba8,#3760a5,#3c6faf,#4d7fb5,#588ab5,#588db1,#60a2ab,#89b69c,#a7be86,#b5c68c,#c3c897,#c6c8a2,#d5ce98,#ffd67b,#ff9a50,#d33022,#9c0e0e,#ac0a03,#b11611,#a00e0e,#8f0d0d,#c30e0e,#e42b0e,#ff9a2f)"></i><i style="background:linear-gradient(90deg,#3381ee,#3f94de,#42a8c8,#47b1c4,#45aecd,#34a4df,#239ce8,#1d87e3,#1161d9,#003dc7,#003fc8,#005ad1,#0a80e3,#1c9ef4,#1a9bf2,#0879e0,#0053d6,#0a42e2,#2260fb,#238dfc,#288be9,#1582d7,#0165d9,#0e57e7,#197df2,#19aff2,#20c5f3,#24c2fd,#1db9f6,#1cb7f5,#179ff0,#18aff1,#3ce4f2,#4bebe3,#51eed6,#6cf4a5,#6fde99,#89c773,#bbce49,#e3cb2e,#cfad12,#c65b00,#c81300,#a70a08,#9f0b0b,#cf100e,#d73b02,#ba630d)"></i><i style="background:linear-gradient(90deg,#0047b4,#196db7,#359cbc,#40aabd,#369fbd,#2090cb,#158eda,#1780dc,#1b6be3,#2567f1,#2877ff,#2587fe,#178df0,#088ae0,#0a8be3,#198af1,#1e74f7,#0b44e4,#0031cc,#0065d4,#1073d1,#2492e6,#1d81f6,#0952e2,#0468dd,#0fa5e8,#11b6e5,#05a4de,#0ca8e4,#0da8e6,#0e96e7,#10a8e9,#17bfcd,#28c9c1,#37d5bd,#6ef6a7,#77e6a1,#9cda86,#cadd58,#e4cb2f,#f6d439,#ff9934,#df2b18,#a80b09,#980404,#c70807,#f55920,#f7a049)"></i><i style="background:linear-gradient(90deg,#0234d8,#2c7efc,#46b1ff,#4bafde,#6fa9a1,#618591,#3a69a7,#4c6db7,#3d90b6,#32859f,#30728a,#35528f,#3a4694,#2f4c86,#24739d,#0f91c2,#24a7af,#42a999,#479c9b,#4e92a7,#568aaf,#579cb1,#58acb2,#5eb0b7,#63aca9,#6ea291,#77b59a,#6bd6b6,#55ebd4,#49ead4,#3fdec9,#36d4c6,#2dcfcb,#2ee3d2,#54f7c1,#83eb8a,#a3c546,#dec914,#dcaa05,#853800,#542b00,#8d2d00,#d75a00,#cf2705,#a90606,#910606,#b00808,#e03511)"></i><i style="background:linear-gradient(90deg,#1143e7,#0040be,#004ba8,#1a7eac,#5b958d,#698d98,#5382c0,#3e60aa,#489ac1,#5baec8,#77b9d1,#6a87c4,#616ebb,#6f8cc6,#61b0db,#3fc2f3,#58dbe3,#6fd7c7,#6abfbe,#5a9fb4,#4e82a8,#5096aa,#53a7ac,#4d9fa6,#5ca6a2,#74a897,#6ead91,#55c0a0,#39cfb8,#39dbc4,#44e3ce,#46e4d6,#40e3de,#3cf1e0,#51f4be,#8af291,#cdef6f,#ffed38,#ffdb36,#ffbb6c,#dbb27e,#ff9f62,#ff882c,#e23a18,#af0c0c,#950909,#b10909,#dc310d)"></i><i style="background:linear-gradient(90deg,#0029b5,#0034aa,#193392,#32337b,#362577,#302179,#30328a,#354c8c,#234eaa,#064ec5,#043ed2,#0927d6,#081ad9,#0329dc,#0e4fe7,#1c84ea,#2395f3,#1f81f4,#0d55e5,#0035d6,#0026cb,#001fd2,#0725e0,#0a31e3,#0b34e4,#0b44e4,#001bd3,#0830e1,#0b4ae4,#0961d8,#176dd3,#0f85e8,#0a9ee2,#16cbd2,#3bddc4,#47ddc3,#4ce1ba,#59e2aa,#67da8c,#87c468,#b0cc5f,#dcc94a,#fcc123,#e2600f,#c90a09,#900808,#8f0909,#b11e14)"></i><i style="background:linear-gradient(90deg,#1848d4,#2a60d6,#4963c2,#6566ae,#5f4da0,#6556ae,#696cc3,#687fbf,#4672cd,#2871e8,#114bdf,#0624d3,#0517d5,#0e34e6,#084ae1,#076fd5,#0173d1,#005fd2,#0b54e4,#1348e9,#1138dc,#1031e3,#0825e0,#072ee0,#062ede,#0a43e2,#1536ed,#0830e1,#0b4ae4,#1d74ec,#247ae0,#1289eb,#1eb2f6,#39edf4,#4aecd3,#4ae0c6,#55eac3,#66f0b8,#86f9ab,#a8e589,#b1cd60,#c4b133,#eeb415,#eb6a18,#cb0c0b,#8e0606,#8b0505,#9a0700)"></i><i style="background:linear-gradient(90deg,#1eb0e0,#24c0d4,#30ebe4,#42efd7,#3fedca,#53dfa7,#6cdf90,#69eb9f,#6ae8a5,#74cc8a,#649d72,#4f8f70,#259298,#16b1cd,#3adaf0,#6ee7e4,#7de4e2,#60ddf9,#4ddcff,#4be2fe,#65eae7,#79f1d1,#61ece0,#4ccdda,#6cdfd6,#72d5e7,#52b2ff,#3999ff,#40acff,#7fcbdc,#6fc7c9,#5ae2c3,#6ff0b0,#93f195,#a2f58f,#9ff88c,#b0f96f,#c3f55e,#d6ed6a,#c8c45d,#b77e24,#9e7816,#b94300,#d82d0a,#b21b0d,#990b0b,#b00b0a,#c40704)"></i><i style="background:linear-gradient(90deg,#23b6e5,#33cfe3,#29e4dd,#37e4cd,#45f3d0,#69f5bd,#81f4a6,#73f4a9,#6ceaa7,#85dc9a,#97d0a4,#97d7b8,#6edbe1,#39d3f0,#18b7cd,#249d99,#248b89,#0b88a4,#008db6,#089fbb,#22a7a4,#3ab293,#2ab5a9,#2daebb,#33a69c,#197c8e,#004ca2,#0044bb,#0065bb,#267283,#3c9496,#4ad2b3,#61e2a2,#7ddb7f,#84d771,#88e075,#a7f067,#b9eb54,#a9c13d,#afac45,#e0a74d,#dbb553,#f7823b,#e03613,#ab1407,#910404,#ae0908,#d11411)"></i><i style="background:linear-gradient(90deg,#b8dd70,#a9f198,#6ee0af,#69e29d,#82f497,#7eeb95,#77d68a,#74cc97,#63baad,#62acab,#79be98,#86ea93,#58eeb2,#40dcc4,#61b6a3,#4d7d88,#498387,#59c5b2,#94edd2,#90eedd,#8bd7e5,#6ccedf,#53c0ec,#47b3e5,#4eacc8,#62abb8,#58a6c0,#539aab,#4685a0,#4e87a4,#7395a4,#84b2ae,#82cfb7,#71c9be,#6ba18c,#7aa36d,#95be70,#a9dd84,#8ade87,#9feb6e,#89aa49,#6d7034,#946508,#bc4a03,#b82e0a,#a30303,#8b0707,#a71010)"></i><i style="background:linear-gradient(90deg,#a1c659,#78c067,#5ed0a0,#74eda8,#7def92,#7eeb95,#86e699,#75cd99,#5ab2a4,#5aa4a2,#71b690,#7ee38c,#5ff6ba,#4ae6ce,#64baa7,#79a8b4,#7bb6ba,#57c4b1,#368f75,#278675,#1e6a77,#258697,#1582ae,#1b86b8,#3997b4,#448d9a,#3c8ba4,#549aac,#609eb9,#5b94b1,#597b8a,#55837f,#519d85,#48a096,#7ab09b,#9dc68f,#9dc678,#8abe65,#8adf87,#a8f476,#c5e686,#babd81,#dbac4f,#d8661f,#bd330f,#ae0e0e,#8b0707,#960000)"></i><i style="background:linear-gradient(90deg,#3593f1,#234ce7,#1f3ecd,#2447d4,#223dde,#121cd4,#0f1ad8,#0819dc,#0215d7,#0013c4,#0020ca,#0042d2,#0c4bda,#0c3cd6,#0641d9,#003cd1,#0133d4,#0423dd,#0d24e4,#1839ec,#1e5ef7,#2175fa,#1153ea,#0146d9,#0d51e6,#2782ff,#259cfe,#0663df,#0341d9,#1056e9,#166dee,#1572ee,#1b7af3,#29a7ff,#48e5ea,#7bfaa6,#aaf670,#c8f54f,#d0e648,#d6d23a,#e2d730,#f7ee33,#ffc72d,#ee4e15,#c10f0c,#9b0c0c,#9c0b0b,#cd0d0c)"></i><i style="background:linear-gradient(90deg,#0056b3,#0017b2,#000e9d,#00109d,#000eaf,#0007bf,#0009c7,#0415d8,#0a1ddf,#1129d9,#1a43ed,#185beb,#0e4edc,#0d3cd7,#1651e9,#1d59ee,#194beb,#0b2ae4,#0017d8,#0017cb,#0037d0,#004dd2,#0648de,#165bee,#094de2,#0050ce,#0073d5,#1673ef,#1351e9,#074de0,#055cdd,#0765e0,#0261da,#0078d2,#1fbcc1,#6dec98,#a7f26c,#caf751,#cee346,#d9d63e,#e5da33,#e5dc21,#e3aa10,#e6470e,#be0c08,#930404,#960404,#ca0a09)"></i><i style="background:linear-gradient(90deg,#7c868a,#865788,#76436f,#6d2b69,#681865,#651164,#641567,#694c6f,#75627c,#743d7b,#7d3c86,#815291,#81338a,#4f4c58,#605e30,#633124,#572801,#323220,#5d4366,#733772,#713170,#753f7e,#7e5387,#703679,#54265d,#4b4e64,#609382,#77a881,#809489,#76757f,#6e6a77,#7a8e83,#88aa91,#8ab393,#93db94,#a7e974,#b6c335,#cd9a08,#d47c00,#f1af18,#f8d53a,#edb632,#cb3300,#cd2e00,#c70908,#8f0505,#860606,#b00c0c)"></i><i style="background:linear-gradient(90deg,#5c6569,#653666,#74416c,#7a3876,#7b2b79,#7a2679,#803082,#85688b,#7c6982,#763f7d,#6a2873,#592a69,#64156c,#a6a3af,#d5d3a5,#c8978a,#dbab84,#bdbdab,#92779b,#753975,#773776,#743e7d,#6d4276,#794082,#986aa0,#989cb2,#83b5a5,#87b890,#798d82,#7e7d87,#86838f,#7e9287,#73957c,#749d7d,#79c17a,#a0e26c,#deeb5d,#ffd542,#ffb937,#f7b51e,#d8b519,#dba420,#ff6e2f,#ee4e20,#cc0e0d,#930909,#870707,#aa0505)"></i><i style="background:linear-gradient(90deg,#00459d,#216a74,#4a7350,#22747b,#0062a3,#0254a3,#0649ae,#1b3fc5,#2736d0,#3562e0,#3c7ee5,#3474e0,#2261cc,#1084b9,#179fb2,#1bc8de,#4fcefa,#53acfe,#3b7fe6,#1f77ca,#386c8f,#2c7884,#1586a5,#095eb2,#1d3fc4,#3161e2,#2b85e2,#2ea6d9,#1d6ec7,#1a73c5,#2f84bc,#2e84ba,#239dca,#34abde,#3ec3e2,#55cbc9,#58dbd1,#67e2d4,#7ff9bd,#9cd485,#b0b363,#b1a55d,#b1c857,#ccd44c,#d17a1f,#c12b03,#a80808,#950605)"></i><i style="background:linear-gradient(90deg,#51a3fc,#8ad3dd,#b4ddba,#86d8df,#57b8f9,#54a5f5,#488cf0,#2a4fd5,#1a29c4,#113ebc,#1152b9,#1051bc,#2968d3,#47bbf0,#54dcef,#2bd8ed,#0887b3,#0055a7,#1054bb,#3088db,#6fa4c6,#7fcad6,#5ecfee,#489df0,#2c4dd2,#0f3fbf,#1771ce,#28a1d3,#3183dc,#368ee0,#4196cf,#4399cf,#37b2df,#229acd,#23a7c6,#3fb5b3,#39bcb2,#35b1a2,#53cd91,#89c172,#a7aa5a,#aa9f57,#b9d15f,#c6cf47,#e68f34,#d74119,#a90909,#990a0a)"></i><i style="background:linear-gradient(90deg,#737ece,#6687bf,#4b8fc9,#1aa4df,#11bedb,#0a75a9,#09327f,#1c2271,#333d84,#5174a6,#6d8b9d,#688c8d,#4f8a8f,#2f8997,#0e719c,#0586b8,#028ed7,#026fda,#025cdb,#186df1,#3591ff,#39a1ff,#3aa7ff,#4693ee,#5b9cec,#6bb3f5,#5aa8ff,#3a8fff,#33a0ff,#3ccbff,#4fd2ff,#39d4ff,#17a5ef,#0a6fd8,#1789f0,#2db1e5,#51d9c0,#7cf0b7,#8cd9a8,#82bd9b,#76b398,#76cc95,#b4f065,#d0b320,#b53e00,#a70d00,#a80606,#c8231c)"></i><i style="background:linear-gradient(90deg,#202b7b,#33548c,#2a6ea9,#22ace7,#2cd8f6,#56c1f6,#78a1ee,#7e84d3,#6872ba,#5073a4,#617f92,#749899,#74b0b4,#6dc7d5,#62c4ef,#41c3f5,#24b0f9,#1e8bf6,#1973f2,#0257db,#0043ba,#004eb7,#005db6,#004da7,#0a4a9a,#044c8e,#003494,#0036b3,#005ac5,#0082c4,#0081b2,#0092c9,#109ee8,#2084ee,#097be2,#1da1d4,#4dd5bb,#58cc93,#63af7f,#6ca886,#6fac91,#77cd96,#b1ee63,#f1d441,#ffaa4b,#e04529,#ad0b0b,#a40000)"></i><i style="background:linear-gradient(90deg,#165e53,#355627,#516420,#687f42,#66945e,#5ea377,#3e7c7e,#034473,#04335c,#133341,#1d4c44,#5d885a,#6aa26a,#3c6c59,#257469,#17777b,#137981,#197972,#2b8582,#296d8d,#284889,#4b7296,#5ca3a8,#5fa7b9,#6aa7c4,#5b8bb5,#3a4991,#304a8c,#386492,#43869d,#478fa1,#446d9d,#3b6aa8,#4c63ab,#3758a9,#325aa4,#36669b,#378b7a,#557e2f,#6b7723,#958c22,#9fac42,#b4b330,#bca11f,#c38319,#c23c00,#a40b00,#990000)"></i><i style="background:linear-gradient(90deg,#8ed6ca,#bcddad,#cde09c,#c3da9c,#abd9a3,#93d9ac,#86c3c5,#6fb0df,#75a4cd,#92b2c0,#9ecdc6,#aed9ab,#a0d8a1,#98c8b6,#77c6bb,#65c6c9,#63cad1,#73d3cc,#77d1ce,#67abca,#6687c7,#678eb2,#5ca2a7,#4992a3,#3c7996,#4878a2,#6574bc,#6a84c6,#6a96c4,#64a7be,#61a9ba,#5e87b8,#3969a7,#384f97,#3151a2,#2e57a1,#3b6ba0,#79cdbd,#bbe395,#c3cf7b,#e3da70,#cdd970,#e0e05d,#f0d553,#f0af46,#f8722f,#c12719,#b41a16)"></i><i style="background:linear-gradient(90deg,#97d2cd,#69deb1,#77c68d,#5eaf9a,#5eaaaa,#72c9aa,#5dbfab,#57b7a8,#5cb39f,#53bcae,#4cc8d2,#76c4de,#91bbd5,#78b1dc,#5793e1,#618de1,#70b2d8,#80dbd3,#8fd2d2,#87d1cf,#7ae0bd,#73ccaa,#59bfb9,#2edcdb,#41e3e3,#78b6c0,#759aab,#68a1d3,#6ed0d0,#78f4bc,#80f99c,#93ed7a,#a1e469,#aae365,#a0ea77,#83f396,#8df4a7,#a1e389,#add26a,#b4d068,#b8ce62,#abcd60,#c9f15d,#deb927,#cb5800,#b72100,#9f0905,#9e0707)"></i><i style="background:linear-gradient(90deg,#37736d,#5dd1a4,#7fcd95,#6dbea9,#5ba7a6,#60b798,#5dc0ac,#60c1b1,#69c0ac,#5ac3b5,#34b1bb,#23708b,#254f69,#215a85,#1753a1,#123d92,#26688f,#338e87,#327675,#36807d,#4eb391,#60b997,#4eb3ae,#30dedd,#27c9c9,#42818b,#496e7f,#296294,#369898,#54d098,#79f294,#9cf682,#acef74,#afe86a,#9de774,#7eed90,#6ad184,#87c96f,#a6ca62,#a7c35b,#adc357,#b0d265,#b8e04d,#e9c432,#ff8f34,#dd4721,#a60f0c,#a10909)"></i><i style="background:linear-gradient(90deg,#75f69f,#a8f86f,#64f6af,#18d4f1,#31c1d5,#6ce7a5,#82dc8e,#83e28e,#88f78e,#88f78d,#86f790,#7cf798,#7bf799,#8af78b,#a3f874,#ade767,#d0ea47,#d8ec40,#cdea4a,#cbe44b,#cfeb48,#d8fa42,#d7f643,#d2e444,#d6e841,#d3f947,#bdf95b,#a0f877,#84f791,#5bf6b8,#66b5a1,#70a995,#7dd391,#9ebe6e,#87c485,#c3ee54,#c9f950,#acf86c,#aaf86e,#cdf04b,#f8e520,#f9ea20,#dfd936,#e6d82f,#f6ce1e,#ee7415,#d2120b,#910707)"></i></div><div class="hm" style="left:52px;top:434.3px;width:209px;height:33.7px"><i style="background:linear-gradient(90deg,#970404,#940404,#820303,#970404,#aa0404,#7a0303,#780303,#780303,#c60505,#f10c06,#de0606,#e10606,#f32d08,#f10f07,#f10f07,#f21e07,#f33909,#f44d0a,#f4510a,#f5540a,#f5610b,#f34009,#f33809,#f11207,#f22808,#f9b40f,#d5fc38,#c0fc4d,#f3fd1b,#fac910,#facc10,#f9b80f,#f8970d,#f6790c,#f6760c,#f6750b)"></i><i style="background:linear-gradient(90deg,#970404,#940404,#820303,#970404,#aa0404,#7a0303,#780303,#780303,#c60505,#f10c06,#de0606,#e10606,#f32d08,#f10f07,#f10f07,#f21e07,#f33909,#f44d0a,#f4510a,#f5540a,#f5610b,#f34009,#f33809,#f11207,#f22808,#f9b40f,#d5fc38,#c0fc4d,#f3fd1b,#fac910,#facc10,#f9b80f,#f8970d,#f6790c,#f6760c,#f6750b)"></i><i style="background:linear-gradient(90deg,#ac0000,#990303,#7e0404,#8c0606,#a20606,#7a0303,#780303,#780303,#ad0a0a,#cb0e0e,#b80d0d,#ba0d0d,#da1713,#ca0f0f,#eb0a09,#ec2b01,#f4370a,#f6490c,#ea6800,#e96d00,#ea7900,#dd7000,#d28200,#c96b00,#ce7800,#ecd101,#f7f522,#e2f824,#fbfb16,#f8cd0e,#ffb918,#ffa319,#f69a0c,#e69d00,#ee8803,#f8710d)"></i><i style="background:linear-gradient(90deg,#b50909,#9b0505,#7d0202,#870101,#9f0202,#790303,#780303,#780303,#a20000,#b80000,#a80000,#a90000,#bd0000,#b40000,#e40303,#fa390f,#f23507,#f14407,#ff8018,#ff8819,#ff9319,#ffa426,#ffd035,#ffc93c,#ffcc38,#fff020,#ebea16,#eaff2c,#f9f914,#fdd212,#efa504,#ec8b02,#fa9e0f,#ffc321,#ff9b16,#f36c09)"></i><i style="background:linear-gradient(90deg,#cf0505,#a40303,#7d0101,#800000,#980202,#790303,#780303,#780303,#810303,#850202,#7d0101,#7f0000,#810000,#820000,#d90303,#f44a09,#f03405,#f14006,#f6a00b,#f5ab0b,#f3b809,#f6e70c,#cafc43,#c1fb4a,#c6fc46,#defe32,#f1cf06,#f4e90b,#faf30f,#f9d90e,#f09105,#ec7601,#f1a707,#f6f413,#f1b707,#ee6c03)"></i><i style="background:linear-gradient(90deg,#cf0505,#a80606,#820505,#870707,#9c0606,#790303,#780303,#780303,#810303,#880505,#820505,#860606,#890707,#8a0808,#dd0808,#f44b0a,#f63b0c,#f7460c,#fba510,#fcb212,#ffc415,#fff217,#cbfc43,#c3fd4c,#c7fc47,#dcfb2f,#ffe31a,#fff819,#fff915,#fddd13,#ffa215,#ff8c17,#ffb516,#fbfa18,#ffc817,#fe7c14)"></i><i style="background:linear-gradient(90deg,#cb0505,#d90202,#c20000,#db0900,#d00101,#800303,#780303,#780303,#7a0404,#b20101,#c40000,#d80400,#de0f00,#df1400,#e92f00,#f35109,#ee6904,#ef7005,#f5c70a,#f4e209,#d8ff3f,#b5ff5f,#cffc3e,#ebfb20,#ccfc41,#9bfe77,#81ff98,#8dff8a,#d7fe3b,#f6fb18,#dbff3e,#caff53,#d4ff44,#9fff76,#b6ff63,#e6eb1e)"></i><i style="background:linear-gradient(90deg,#cb0505,#e10909,#cc0a0a,#f52314,#d80909,#810404,#780303,#780303,#790303,#b90808,#ce0a0a,#ec1710,#ff3118,#ff3a1b,#fd4212,#f5540b,#fd7813,#fd7e12,#ffd215,#fff219,#cff836,#adf757,#d0fc3e,#eefe24,#cdfc41,#95f871,#73f38a,#81f57e,#d3fa37,#f6fb18,#d0f632,#baf443,#c9f73a,#96f76d,#aaf657,#eef427)"></i><i style="background:linear-gradient(90deg,#bd2700,#d42600,#d31600,#eb3200,#de0606,#860202,#7c0202,#800101,#780303,#ac0a0a,#c20c0c,#f3110b,#f43909,#f14a07,#e85a00,#de7500,#e29a00,#e59c00,#ffd014,#ffe41f,#c6fa44,#91fd7e,#b7ff5e,#e4ff2f,#d8fa32,#b0f550,#86f374,#9ff35c,#e7f625,#edfd23,#a8fe69,#abf95c,#c5f942,#a2f660,#abf759,#dcfc31)"></i><i style="background:linear-gradient(90deg,#ff913f,#ff6529,#ff4d24,#fc4311,#dd0505,#890505,#7f0404,#840505,#780303,#a00000,#b50000,#ea0802,#f33808,#f7500c,#ff7619,#ffa926,#ffc825,#ffc523,#f6c70b,#ecc702,#c9fd47,#8df97a,#aef756,#dff929,#dcfe35,#bdff5d,#97ff85,#b0ff6d,#e9f826,#ecfc22,#a3f964,#b1fe61,#ccff48,#acff6a,#b3ff62,#ddfd32)"></i><i style="background:linear-gradient(90deg,#cbfb41,#fac60f,#f7a40c,#f35f09,#dc0404,#940303,#8a0202,#950303,#7c0202,#7c0202,#890202,#e10505,#f33608,#f5580a,#f8a10e,#fdf712,#ecfc22,#f6fd18,#f8ba0d,#f69c0b,#dafc34,#77fb94,#7bfb90,#bafc54,#eefd21,#fbf210,#f4fd1b,#fbe511,#facb10,#e7fc26,#89fa80,#d1fc3c,#eefd21,#e6fc28,#e2fd2c,#e2fc2c)"></i><i style="background:linear-gradient(90deg,#ccfd42,#fac60f,#faa70f,#f7630c,#de0707,#960505,#8c0505,#980505,#7f0505,#7f0505,#8c0505,#e30707,#f33608,#f4570a,#f8a10d,#fcf711,#edfd22,#f6fd18,#fbbe11,#faa010,#dafc34,#77fb94,#7afa8f,#b9fb53,#edfc20,#fef513,#f4fc1a,#fce611,#facb10,#e8fd27,#8bfc82,#d1fc3c,#eefc20,#e6fc28,#e2fc2b,#e2fc2b)"></i><i style="background:linear-gradient(90deg,#ffc424,#fac90f,#f0de06,#eaaa00,#e15500,#d80800,#d50400,#da0c00,#d51400,#d51200,#d91300,#e63d00,#f33608,#f7490c,#f99b0e,#fee914,#fff217,#f6fd19,#ecf923,#e9ec1b,#d1fd3d,#77fb94,#49fdc6,#52ffc3,#a9ff6b,#ccff48,#d6fe3b,#faf30f,#fbc710,#ffe01b,#f6f228,#e4fb28,#d5fe3c,#e7fc27,#bffe51,#cffd40)"></i><i style="background:linear-gradient(90deg,#e39800,#fbca10,#fff51d,#ffc71e,#ff7d1f,#f22113,#ec1c12,#fa2d17,#ff4521,#ff421f,#ff401e,#ff5918,#f33608,#f14306,#f7990c,#f9e30e,#f6e60c,#f5fd19,#ebf722,#f2f524,#d0fb3c,#77fb94,#43f7c0,#46f4b7,#a1f763,#c5f841,#d3fa37,#fff814,#f9c50f,#f0ca06,#e4e017,#e6fd2a,#d2fb39,#e7fc27,#bbfa4d,#cdfb3e)"></i><i style="background:linear-gradient(90deg,#ff8217,#ffbc22,#ffe632,#ffbf29,#ff801a,#f42209,#f41909,#ff2a15,#ff4a16,#f35008,#e85700,#f36508,#f9320e,#fb3b10,#ff8a21,#ffce2a,#fbe311,#edfe26,#ddfc2f,#e6fb24,#cffc3e,#76fb96,#2cfce1,#2bfade,#7dff97,#91ff8c,#9cff86,#bdff6e,#c5da37,#e1d20d,#efde07,#eafc24,#c2fe4f,#d5ff41,#adfd63,#c2fd4e)"></i><i style="background:linear-gradient(90deg,#eb6c01,#e49400,#d79f00,#dd8900,#e76300,#f01e05,#ef1404,#e40f00,#e62f00,#f6530c,#ff7218,#f86a0d,#ec2501,#eb2c00,#e16000,#dd9600,#fce311,#e8fa22,#dffd30,#eafe28,#d0fc3e,#75fa95,#27f7dc,#2af9dd,#73f68e,#7ff27a,#85ef6f,#9eec4f,#d3e845,#ffef2a,#fff51e,#eafc24,#bef94b,#ccf838,#a9fa60,#bffa4b)"></i><i style="background:linear-gradient(90deg,#f44409,#f44a09,#f21e07,#f22608,#f32d08,#f21707,#f10b06,#c90505,#e90606,#f55a0a,#f8a30e,#f6740b,#f10d06,#f10f07,#f11207,#f32f08,#fbe411,#ccfc41,#e7fc27,#fcf812,#d3fc3a,#71fa9a,#0eeff8,#22f9e6,#33f9d6,#0ef1f9,#0dd5f7,#0bb4f6,#18f9ef,#9ffb6d,#d5fc39,#e9fc25,#9ffb6d,#92fb7a,#95fb77,#abfb61)"></i><i style="background:linear-gradient(90deg,#f44409,#f44a09,#f21e07,#f22608,#f32d08,#f21707,#f10b06,#c90505,#e90606,#f55a0a,#f8a30e,#f6740b,#f10d06,#f10f07,#f11207,#f32f08,#fbe411,#ccfc41,#e7fc27,#fcf812,#d3fc3a,#71fa9a,#0eeff8,#22f9e6,#33f9d6,#0ef1f9,#0dd5f7,#0bb4f6,#18f9ef,#9ffb6d,#d5fc39,#e9fc25,#9ffb6d,#92fb7a,#95fb77,#abfb61)"></i><i style="background:linear-gradient(90deg,#e87c00,#e68d00,#e55b00,#f5190a,#f03b05,#e93f00,#eb0707,#aa0808,#ab0c0c,#be1515,#d02a1f,#d81f17,#dc0909,#f00908,#f20e08,#ec120d,#db462a,#e86537,#ff932e,#ffc01d,#ffe722,#d0f52f,#55f4a9,#7ff47f,#ceed3e,#c1ea47,#bae94c,#ade852,#bdee41,#86fd89,#6fffaa,#98ff80,#42ffd5,#37f1fb,#38fbe8,#3fffdc)"></i><i style="background:linear-gradient(90deg,#ff9a1c,#ffb120,#ff7c1c,#ee1303,#f7430d,#ff5514,#e80505,#a20000,#9b0000,#9d0000,#9c0000,#b40000,#d60202,#ed0605,#f00c05,#df0400,#930000,#880500,#d34e00,#eaa200,#e9c400,#deff3e,#60ffb5,#8cff8c,#ceee3e,#c5ee4a,#bfee52,#b9f45e,#cbfc50,#82f985,#60f39b,#8bf574,#34f3c7,#0ac4cd,#1fe1cf,#2ceec9)"></i><i style="background:linear-gradient(90deg,#f6a60b,#f3c308,#ed8e02,#d22600,#c76500,#c07e00,#b12c00,#931000,#821200,#741200,#790e00,#9b0b00,#c21100,#d41700,#d32000,#c91300,#a00000,#900000,#fa3019,#ff8627,#ffaf1b,#fff819,#8df674,#b5f951,#f6e20b,#f0e30b,#f2e107,#fcde12,#f3f215,#64ffb0,#37f6f1,#5df6e5,#3edcff,#2aa5ff,#30c8ff,#35d8ff)"></i><i style="background:linear-gradient(90deg,#fcac11,#ffd217,#ffa418,#ff6a2b,#ffc63e,#ffdb46,#ffaa4a,#fd7a3d,#ff8f47,#fd9b4d,#f78b47,#f46434,#ff5027,#ff5025,#ff6129,#ff5026,#c91b19,#a60f0f,#d60c00,#da4f00,#eb9400,#f4e90a,#97ff7e,#bbff57,#ffee17,#fff61d,#fff51b,#fadc0f,#f9f81b,#59f5a6,#15d4cf,#20baa9,#007dc2,#0062d2,#007dcf,#0083cb)"></i><i style="background:linear-gradient(90deg,#f9bb0f,#fbf511,#fad70f,#eefe23,#50fcbd,#17f7fa,#25fce7,#67fda9,#20fced,#17e1ff,#20fbf0,#a3fd6d,#f8f00d,#f7d80d,#f8f814,#f8e70d,#f4a609,#f02905,#8a0505,#b80606,#f6550c,#fbc510,#ebfc22,#edfc20,#effd1f,#c8fc46,#d6fc38,#fbd510,#cdfc41,#10e9fa,#0a60f5,#0303cb,#020281,#0303ae,#0303b5,#0303a6)"></i><i style="background:linear-gradient(90deg,#fabc0f,#fdf713,#fcda12,#ecfb20,#4df8b9,#0dedf0,#20f7e2,#61f8a3,#1af6e7,#02cbec,#17f2e8,#9ef969,#fff916,#ffdf14,#fbfb16,#ffef15,#fdb013,#f52e0b,#880202,#b40303,#f35208,#f9c30e,#ecfd24,#eefd21,#effc1f,#c8fb45,#d5fc38,#fbd510,#ccfc40,#0be5f6,#0359ee,#0101c9,#00007f,#0101ad,#0101b4,#0101a4)"></i><i style="background:linear-gradient(90deg,#76ffb8,#6affba,#6dffcf,#5bf9e0,#29fce4,#16f7ee,#12f3fd,#2afde5,#0ff6f9,#08d3f2,#12e3fd,#5bffb9,#a7ff74,#c6ff55,#bdff59,#a0ff7e,#e3ee24,#e07700,#c71200,#d80e00,#fa3a10,#ff7124,#ffbc28,#ffe51c,#fff11a,#e7fa22,#fdf61f,#f6e50c,#aafe67,#10f2f0,#0091e2,#004acc,#000ec3,#0000c7,#0101bb,#0000d3)"></i><i style="background:linear-gradient(90deg,#52e794,#50eda0,#38ca9a,#26c5ac,#24f7df,#1afbf1,#09e9f4,#23f5de,#0ef5f8,#12ddfc,#08d8f2,#51f5af,#98f465,#b8f547,#b3f74f,#8ef26c,#e9f329,#ffa624,#ff4e26,#fd3219,#ec2c01,#da3c00,#de8800,#efcd04,#f3e008,#edff27,#efe810,#fff017,#a5f962,#17f9f7,#1db7ff,#2e96ff,#1c3ef3,#0404ca,#0303bc,#0506da)"></i><i style="background:linear-gradient(90deg,#18caff,#1fdeff,#18a1ff,#199aff,#28ebff,#2eeeff,#23d4ff,#29e3ff,#24e5ff,#20d6ff,#1ec5ff,#33f2fa,#4bffda,#5bffc7,#65ffbd,#4af6ec,#83ffa7,#bdd941,#bf9000,#b76d00,#ac5000,#ad4800,#c48600,#dacd11,#e5df14,#e1ff3a,#d8e62b,#e4fd31,#8bfd84,#30f5cf,#1cd1c3,#18cbc3,#007dc5,#0027ad,#00269f,#003aae)"></i><i style="background:linear-gradient(90deg,#00b1e9,#00b7e3,#0084e6,#007be4,#00bbdc,#02c2d6,#00a4de,#00aada,#00b5df,#00ace2,#00a0e3,#0bcad2,#2de2bd,#42eeae,#4deea5,#1ac6bc,#63eb87,#c9e54d,#ffdd48,#ffd64f,#ffcf58,#ffcf57,#ffdd43,#faed31,#f9f227,#d4f52d,#e1ef34,#dcf629,#87f980,#3afed8,#43f8ea,#43f6ed,#3bdbff,#43a0ff,#45a1ff,#4dc4ff)"></i><i style="background:linear-gradient(90deg,#0c65f7,#0e42f8,#0a2ef5,#0a1bf5,#0f24f9,#0f26fa,#0b17f1,#0506dd,#0e27f9,#0d30f8,#0c2ef7,#102dfb,#132dfd,#132af9,#1538ff,#0505cb,#090dd5,#1d60ff,#21a1ff,#2381ff,#224fff,#2557ff,#21caff,#38fed9,#74fd9c,#41fdce,#23f8f4,#5afdb5,#5afbb1,#a2f966,#fff320,#fff120,#ffef25,#ffcc2b,#ffa32c,#ff8829)"></i><i style="background:linear-gradient(90deg,#015aec,#0031e7,#0021e8,#000de7,#000ee3,#000fe2,#0007e1,#0000d7,#0012e4,#001ee6,#001de6,#0015e2,#000edf,#000bdb,#0016de,#0000c4,#0000c8,#0032d9,#0071db,#004ad6,#0014cc,#0017cf,#009ddf,#30f5d1,#6ef896,#3bf7c8,#13e9e4,#54f7b0,#58f9af,#a6fd6a,#ecd602,#ecd201,#e6c700,#dd9400,#d76400,#d74c00)"></i><i style="background:linear-gradient(90deg,#0f1ad2,#0a1cf4,#0810f2,#0505c0,#0606b2,#0606b2,#0505ae,#04049e,#0606b7,#0404dc,#0505db,#0505cd,#0303e0,#0303dc,#0606b7,#030396,#0101bd,#0911ee,#1632fe,#0c17e9,#0505aa,#0505af,#1b3ae3,#3780ff,#47a7ff,#3a88ff,#2f6cff,#4198ff,#44a1ff,#58ddff,#82f9d5,#89ffa4,#f0d606,#fd6e12,#fc3712,#f9280e)"></i><i style="background:linear-gradient(90deg,#0002b9,#000fe7,#0006e8,#0000b9,#0000aa,#0000aa,#0000a8,#000098,#0000af,#0000d7,#0000d6,#0000c8,#0101df,#0202db,#0000b0,#000093,#0303bf,#0005e2,#000ed9,#0005d7,#0000a4,#0000a8,#000ab4,#001eaa,#0028a2,#0020a7,#0018ac,#0024a4,#0027a7,#006fa8,#31a883,#67e981,#ffec1c,#ee5f03,#e92300,#eb1a01)"></i><i style="background:linear-gradient(90deg,#010176,#0203ed,#0202e8,#01018f,#010176,#010176,#01017c,#010176,#01017d,#0202b8,#0202b7,#0202a6,#0202d3,#0202d3,#01017d,#010181,#0202ca,#0202d9,#0202cf,#0202bf,#010176,#010176,#010176,#01017a,#010176,#010176,#010176,#010176,#010181,#0202ec,#064bf0,#0cc9f7,#f9fd16,#f4500a,#f11107,#f10d06)"></i><i style="background:linear-gradient(90deg,#010176,#0203ed,#0202e8,#01018f,#010176,#010176,#01017c,#010176,#01017d,#0202b8,#0202b7,#0202a6,#0202d3,#0202d3,#01017d,#010181,#0202ca,#0202d9,#0202cf,#0202bf,#010176,#010176,#010176,#01017a,#010176,#010176,#010176,#010176,#010181,#0202ec,#064bf0,#0cc9f7,#f9fd16,#f4500a,#f11107,#f10d06)"></i></div><div class="hm" style="left:52px;top:473.6px;width:209px;height:33.7px"><i style="background:linear-gradient(90deg,#ffbb1a,#ffe81c,#fbf324,#ffda1d,#ffd81c,#ffeb22,#ffd721,#ffdd20,#ccf736,#37f2c3,#00b8db,#008ddb,#0087de,#0095de,#00aee3,#00a5e1,#0080de,#003dd5,#0006cc,#0000b2,#0000bf,#0004dc,#0000c1,#000091,#000090,#000099,#000bd4,#009be0,#24f5db,#35f8d0,#0dd4d9,#1cdecf,#4bf7b9,#3ef7c6,#25f2d6,#0ccdd3)"></i><i style="background:linear-gradient(90deg,#eea503,#efd105,#e9e112,#edc003,#eec004,#e9c700,#e8b300,#eabd00,#d7ff41,#45ffd2,#29eaff,#24c1ff,#20b4ff,#22c4ff,#1fd5ff,#21cfff,#20adff,#2376ff,#0f1de4,#0505b8,#0505c4,#0911e9,#0505c8,#050598,#050597,#0606a3,#152ef6,#20c5ff,#2dfee4,#39fbd3,#2cf4f9,#37faeb,#50fdbe,#43fccb,#32ffe3,#32f3f9)"></i><i style="background:linear-gradient(90deg,#ff612e,#ff8842,#fd8743,#f7793e,#f97e40,#ff6430,#fa582d,#f16d39,#ffb154,#ffc873,#f2bf89,#d3bc9d,#bebaaa,#c7bda3,#d0b99f,#c1c68b,#98d47d,#78dc78,#34835e,#1a3234,#243a2f,#22554a,#0c5566,#003da3,#0034b5,#0059c6,#00a0d9,#2ffcdf,#54ffd6,#4ef1f3,#58ffc6,#c2f63f,#a6f152,#6afba1,#72ffa9,#73ffaa)"></i><i style="background:linear-gradient(90deg,#be1600,#971700,#871100,#8b0d00,#890f00,#b71400,#af0d00,#8e0a00,#7a1c00,#863a00,#78450e,#5b4425,#484433,#4c4227,#5e472d,#787c42,#89c56e,#91f591,#a7f5d0,#cce4e6,#d1e7dd,#b8eadf,#9be4f5,#5acdff,#45afff,#36b3ff,#28d9ff,#29f6d9,#32deb4,#11b5b7,#43efb1,#cfff4b,#baff66,#69faa0,#61f299,#60f197)"></i><i style="background:linear-gradient(90deg,#c90404,#ba0000,#a90000,#ad0000,#900000,#a90707,#d00500,#bb0900,#a70000,#be0606,#df1900,#d32200,#d11200,#ce1600,#d72500,#e25a00,#eaad00,#eae716,#e5fd2b,#e3ff32,#daff40,#c4ff53,#7cff9c,#23e7ff,#2995ff,#2595ff,#1ec4ff,#24c7ff,#1da9ff,#108efb,#25b8ff,#68fbda,#88ff97,#3afed7,#23efff,#1cf9f5)"></i><i style="background:linear-gradient(90deg,#cb0606,#c70b0b,#ba0d0d,#bf0e0e,#980808,#a20101,#ec2114,#f24022,#b80d0d,#bb0404,#ff3f1b,#ff6229,#ff4622,#ff5427,#ff5f26,#ff811f,#ffcd1f,#f7f423,#e3fb29,#dcf92b,#cef634,#baf749,#6ef48f,#00b9e0,#0053d1,#005cd6,#009ee2,#0095dc,#0083e1,#017fec,#0082da,#2dc09f,#73f083,#31f5ce,#00cde2,#12efeb)"></i><i style="background:linear-gradient(90deg,#2cfcea,#45ffd3,#5affc4,#42fde2,#3cf7ed,#2ff4f8,#3dffd8,#8dff8c,#deff3a,#f1aa07,#fb4210,#eb0909,#cb0606,#bf0505,#ef0908,#fa3b0f,#ff6b1a,#ffbd1c,#ffe718,#ffec17,#ffd818,#ff9e1b,#ff6f1f,#ffea31,#2ee7c1,#00c0e9,#0dd5f7,#0bbdf6,#079cf2,#08a8f2,#0cf1f6,#0fd4f9,#1092fb,#0e80f9,#0c7cf6,#0d59f8)"></i><i style="background:linear-gradient(90deg,#1eeddb,#36f2c4,#45efaf,#25e0c6,#19d4ca,#0ed2d6,#31f3cc,#7ff47e,#d3f42f,#ffba16,#ec3301,#e60303,#c90404,#be0404,#eb0504,#ec2d01,#e54c00,#eba101,#f4d90a,#f6e00b,#f2c708,#e98200,#e04500,#dabd03,#47ffda,#1adbff,#0dd5f7,#0cbef6,#0da1f7,#0daef8,#10f5fb,#0ad0f5,#0283ec,#0274ed,#0474ef,#004bea)"></i><i style="background:linear-gradient(90deg,#51ffd2,#26fde9,#00c2ea,#0fc8f9,#1cd9ff,#2cfbec,#31fee4,#31f8ef,#54ffc7,#9daf43,#823700,#a83700,#b23a00,#c13a00,#e02d00,#f2130c,#dc0200,#f6460c,#ff972f,#ffab38,#ff9933,#ff501b,#f9250f,#fe3514,#ffbd38,#9fd776,#47ab6b,#2ca486,#37a97d,#40af78,#3bbf8c,#16b4b1,#00a5e3,#1082fb,#0d73f8,#0062e6)"></i><i style="background:linear-gradient(90deg,#36e7b7,#1ff6e2,#19dbff,#09c2f3,#00b8e6,#1beadb,#24f1d7,#18dfd6,#42f1b5,#c4d76a,#ffca72,#ffcb5b,#ffc451,#ffa33f,#ff551d,#e60700,#e80e0c,#f14107,#d24f00,#cb5300,#ce4a00,#e22c00,#ea1500,#e71d00,#cd6800,#92c968,#9cffc0,#7ff7d9,#89fbcf,#8ffec7,#7bffcc,#54f3ef,#1ecbff,#0072eb,#0268ed,#147afe)"></i><i style="background:linear-gradient(90deg,#0fd7d9,#1df4e2,#0ef2f9,#01ccec,#00b5e3,#08ddf3,#2eecc6,#0fd7d8,#0aedf3,#24f6dc,#49fac2,#85fe8d,#d0f837,#ffe427,#ff651a,#de0606,#e6120e,#f72b17,#e00c0c,#dc0a0a,#ed0704,#ec1401,#f00905,#e90909,#db1311,#e52c1b,#ff8039,#ffd035,#ffd91d,#ffd514,#ffe228,#d8ed3b,#27f4d5,#0080de,#0079df,#0399ee)"></i><i style="background:linear-gradient(90deg,#2df5f7,#26fdeb,#0df1f8,#18e2ff,#20dcff,#12e7fd,#43ffda,#2df5f7,#14f6fc,#2cfde4,#47f9c0,#7ef786,#d7ff3e,#e3b500,#e54600,#de0606,#d50100,#d60a00,#d20000,#d30000,#f20b08,#f8200d,#f20c08,#e30303,#c30000,#ba0100,#bc2100,#d18200,#edbd02,#f6cc0c,#e1b000,#d1e633,#33ffe1,#20adff,#1ea3ff,#10a6fb)"></i><i style="background:linear-gradient(90deg,#32fad7,#53f9b4,#3cf7c8,#39f7cb,#3ef7c6,#38f7cc,#55fbb6,#21fae8,#10eefa,#1ffaea,#50f8b6,#9df869,#e7fc26,#f3e609,#e99a00,#e09000,#dcab00,#ddb700,#de9f00,#e27b00,#ec5601,#f23707,#f21707,#e90505,#b70303,#ac0404,#ce0707,#f62012,#ff4819,#ff391c,#f62916,#ff391c,#ffa333,#f6e540,#f6e442,#eae641)"></i><i style="background:linear-gradient(90deg,#32f9d7,#55fbb6,#41fccd,#3efccf,#43fccb,#3cfcd1,#53f9b5,#20f8e7,#0ceaf6,#1ef9e8,#53fcb9,#a3fe6f,#e8fd27,#fff71a,#ffb81d,#ffc026,#ffe72e,#ffeb2d,#ffd72b,#ffa723,#fe6914,#f4390a,#f11707,#ea0606,#ba0606,#ad0505,#cb0303,#e00a00,#e32700,#d91100,#d70a00,#d91000,#cf5500,#c9b914,#c7b513,#c8c420)"></i><i style="background:linear-gradient(90deg,#41eeb0,#51f2a9,#5af4a4,#3bf5c4,#22ebd4,#34f2c5,#5bf3a0,#3df2bc,#25e9ce,#84f881,#e6fa2c,#cbce25,#c2dc3d,#bde249,#bcfb61,#c3ec4a,#c6e641,#bdc42e,#b89609,#b76c00,#c33300,#c41400,#b90500,#bf1300,#da2700,#d10f00,#b40000,#b40300,#d63500,#d83000,#e31c00,#f9850f,#ffa615,#f5680a,#fc4e11,#ff7b21)"></i><i style="background:linear-gradient(90deg,#59ffc8,#61ffb8,#66ffb0,#45ffce,#34fde5,#43ffd5,#6affaf,#4dffcc,#3afee2,#8afe87,#e2f628,#e5e83f,#cee748,#c1e74e,#aae950,#c1ea48,#caea45,#dbe34d,#fedc4f,#ffd64f,#ff983d,#ff5529,#eb3720,#ff572a,#ff5a23,#fe3b1e,#e32f1d,#e83720,#ff7128,#ff6926,#ff3c18,#f48009,#f19706,#f6690c,#ec3f02,#df4f00)"></i><i style="background:linear-gradient(90deg,#d9ff3f,#bcfd54,#affb5c,#97f669,#9ff45e,#b0f855,#c4fd4b,#bdf94b,#9ff866,#b2fa57,#abf85a,#6af290,#39f1bf,#35deaf,#21cdba,#1ff5e2,#25f8df,#29f4d4,#2ff6d3,#45f8bf,#bdfb4f,#f3ce09,#f19c06,#ffbb2d,#ff9c2c,#ff8219,#f88b0e,#f69c0b,#ffc42d,#ffa347,#fa6734,#ff6630,#ff6c26,#ff611a,#e72c00,#d71800)"></i><i style="background:linear-gradient(90deg,#cef735,#b8fa51,#b0fc5d,#a2ff74,#aeff6d,#b7ff5c,#c2fb49,#c1fe50,#a6ff6d,#b5fd5a,#b2ff62,#7affa1,#4affd0,#59ffd3,#4df9e6,#26fde9,#29fbe3,#34ffdf,#36fdd9,#4afcc4,#befc50,#ffdd18,#ffac16,#d87c00,#d65c00,#e86600,#f6880b,#faa010,#d98500,#b62b00,#a20e00,#bb1600,#d83300,#e44000,#ff4414,#ff4f24)"></i><i style="background:linear-gradient(90deg,#48eaff,#46deff,#46e4ff,#48e6ff,#4fe0ff,#4de3ff,#4bdbff,#50d0ff,#49cdff,#4bcfff,#4dcbff,#46bbff,#3bafff,#3fb6ff,#3e95ff,#357dff,#3276ff,#3799ff,#30a9ff,#34adff,#4cd7ff,#67e7fe,#76fad7,#8cffac,#acff82,#b6ff73,#bdff6b,#ceff54,#cbed41,#d18500,#cd4500,#ce6f00,#d98c00,#e96100,#fc2b11,#e52116)"></i><i style="background:linear-gradient(90deg,#00a1bb,#007eba,#0090bc,#0097ba,#007eb1,#0088b4,#0072b5,#004ead,#004eb4,#004cb2,#0042af,#0040b5,#004ac0,#0048bc,#0027ba,#001fbc,#001db8,#003ac3,#0059cb,#0056c8,#0065b3,#04849b,#2fb490,#5fe07e,#8ae660,#99e956,#a1ed4f,#b8f13f,#cbec40,#ffd536,#ff9734,#ffc237,#ffcc2e,#ff7b18,#e81800,#c50100)"></i><i style="background:linear-gradient(90deg,#0505c5,#0404be,#03039b,#0404ba,#0404c6,#0404c8,#0b15e5,#0404af,#02028d,#0303a6,#0404d1,#0404ca,#070ade,#0a13e5,#0404ca,#0303a2,#0404bc,#080de0,#0202c2,#0000bf,#0005e2,#0058e9,#08b9f3,#10dbfb,#12cbfd,#19ecff,#12e4fd,#05dcf0,#81f885,#fff717,#fff225,#ffef27,#ffbb20,#ffb321,#ffad23,#ff981c)"></i><i style="background:linear-gradient(90deg,#0000c0,#0000b9,#000097,#0000b5,#0000c3,#0000c4,#0004d5,#0000ac,#00008b,#0000a3,#0000cc,#0000c5,#0001d5,#0004d6,#0000c5,#00009f,#0000b8,#0002d5,#0202c3,#0404c3,#080fed,#106afa,#0fc0f9,#09d4f4,#05bdf0,#02d5ec,#08daf3,#15ecff,#86fd8a,#f7eb0c,#e7d60a,#e5c500,#e79700,#e58c00,#e28200,#e87a00)"></i><i style="background:linear-gradient(90deg,#0000aa,#00009a,#00008e,#010177,#03038b,#030387,#010176,#010176,#000085,#000088,#000084,#000087,#00007c,#010178,#00007e,#010176,#010176,#00007c,#000ad7,#003ae8,#0059e1,#09a8f4,#1fc9ff,#1ab8ff,#07a1f2,#00a2e2,#19cdc3,#6df28d,#b8fe59,#dfd310,#e85500,#ee2e1b,#de2d1d,#d01515,#b00e0e,#cb1010)"></i><i style="background:linear-gradient(90deg,#0909b8,#0707a4,#050595,#010177,#000087,#000085,#010176,#010176,#030389,#04048c,#030387,#04048c,#02027d,#010178,#020280,#010176,#010176,#02027d,#1227f4,#0d4af8,#197cff,#0cabf6,#00a1e2,#0098e5,#0da7f8,#1ec9ff,#43f7ed,#7eff9e,#b4f954,#fbef2c,#ff7118,#c50600,#af0000,#b00000,#9c0000,#b60000)"></i><i style="background:linear-gradient(90deg,#0053d3,#004ac0,#001dc5,#0014ad,#0013ae,#001da7,#0025a2,#0022a4,#0028b1,#002cb3,#002dad,#003bab,#002ba5,#001ca9,#0015b5,#0016ab,#0022a4,#00319e,#159796,#14a4a4,#00bede,#00c9e8,#00b6db,#0096ea,#06b5f1,#0be7f6,#3af6f0,#57ffce,#89ff8a,#cafd44,#e0b300,#c11f00,#b20d00,#af0a00,#ae0a00,#b41a00)"></i><i style="background:linear-gradient(90deg,#2791ff,#3bb0ff,#2f70ff,#2a5ef7,#2758f4,#377fff,#429cff,#3f93ff,#43a1ff,#47aaff,#4bb4ff,#51caff,#49aeff,#357cff,#295efe,#2d67fc,#3f93ff,#58caff,#6eefee,#60f0f0,#26ebff,#1ce8ff,#28e9ff,#14abff,#11bffb,#10ecfb,#16d2cc,#3be8b2,#81f782,#c9fb43,#ffe72a,#ff7836,#f8532a,#f44f2a,#f34f2a,#ff7637)"></i><i style="background:linear-gradient(90deg,#04daee,#2bf8da,#51f7b2,#3ef6c3,#13f3ed,#0df0f3,#20f7e3,#27f6db,#1df7e6,#11f5f2,#31f8d5,#41fac8,#10f4fb,#0bdff5,#06d5f0,#15f2eb,#17f9ef,#24fce8,#88fe88,#c8fc45,#b2f855,#a5f861,#73f995,#3ef7c5,#69f698,#6bf798,#66f59b,#b9f649,#fff21c,#ffc117,#fe7e14,#f42f0a,#e20606,#e40606,#e10707,#f9200e)"></i><i style="background:linear-gradient(90deg,#17edff,#2efbdd,#57fdb9,#46feca,#1afaf4,#14f7fa,#25fbe8,#2dfce1,#21fbeb,#15f9f6,#34fbd7,#41fac7,#0ceff6,#10e4fa,#14e4ff,#1dfaf2,#18f9f0,#20f7e3,#83f883,#c8fc45,#b8ff5b,#abfe67,#76fc97,#44fdcb,#72ffa1,#72fe9f,#70ffa4,#c4ff53,#f1dd06,#f1b006,#ee6e03,#f12b06,#e20505,#e30505,#de0404,#eb1200)"></i><i style="background:linear-gradient(90deg,#37ffe1,#21dfff,#25d3ff,#23ccff,#0b87f6,#08b4f2,#1efbf0,#2dfee4,#2ff8f0,#26f0ff,#26e9ff,#1cbeff,#0997f3,#0892f2,#15afff,#18bbff,#138efd,#005ce9,#07a9f2,#28f9f1,#43ffd3,#42fbca,#29f6d9,#30f7d4,#65ffb2,#58ffc6,#80ffa6,#98ff90,#b6ff63,#f8e90e,#f1ba07,#ecc201,#e5a800,#df9400,#d58000,#d56600)"></i><i style="background:linear-gradient(90deg,#27eed1,#00b5e2,#009fdc,#009dde,#0682f1,#0ebaf9,#18f5ea,#24f5db,#16e0d8,#02ccdf,#00b6dd,#009ae3,#0b99f5,#0b95f6,#0099ea,#00a1e8,#0079e9,#106ffb,#0eb0f9,#16e7df,#35f3c6,#3ff8c7,#2ffcdf,#35fcd8,#58f4a5,#43f0b1,#64ec8a,#7bed73,#a9f556,#fff115,#ffcb18,#ffe01f,#ffd224,#ffc728,#ffc832,#ffaa2f)"></i><i style="background:linear-gradient(90deg,#4296f6,#2c5fe2,#2247d2,#2349d3,#295cf2,#3e91ff,#49acff,#49a6f9,#3d88ed,#3374fb,#2758f7,#2651d6,#3473e4,#3472e4,#2b5ddb,#2c5fdc,#2247d2,#2e63de,#3d89ed,#4195fa,#40a8ff,#44deff,#4ae9ff,#53e2ff,#40d0ff,#2ba8ff,#18b8ff,#18d0ff,#52f3ee,#b3f5cd,#c2f7c4,#a3fec2,#93ffaf,#94ffb1,#9df3d8,#bee9df)"></i><i style="background:linear-gradient(90deg,#001e7e,#001194,#000a95,#000a94,#0013a9,#0022a5,#00299c,#002174,#001a7e,#00199f,#0013b1,#000c91,#001486,#001486,#000f8d,#000f8d,#000a95,#00108b,#001a7e,#001e83,#0039ba,#0081bd,#009eb9,#0081ae,#0064be,#0064d1,#009ee8,#00b8ea,#17b9b3,#377951,#407543,#449f63,#5ad176,#58cd75,#2c8367,#224e44)"></i><i style="background:linear-gradient(90deg,#010188,#01017e,#010176,#010176,#030383,#0303ac,#0202bc,#000091,#010182,#0101b8,#0101cb,#010187,#010180,#010189,#000097,#000094,#010183,#010177,#01017e,#010182,#0505a9,#080bd1,#1632fd,#0b50f6,#006ce9,#008ce7,#0997f4,#0e9ff8,#0bb2f5,#0297ed,#038cee,#0d90f7,#1898ff,#12b9fd,#00b5e9,#0097e1)"></i><i style="background:linear-gradient(90deg,#020289,#01017e,#010176,#010176,#000080,#0101ab,#0202bb,#020293,#020283,#0202b9,#0303cd,#020288,#020281,#02028b,#030399,#030396,#020284,#010177,#02027f,#010182,#0000a3,#0000c5,#000dd8,#0146eb,#117ffc,#17a7ff,#0a97f4,#0697f0,#0bb3f6,#12a7fd,#0f99fa,#0588f0,#0079e4,#04abee,#18ceff,#1ebfff)"></i></div><div class="hm" style="left:52px;top:512.6px;width:209px;height:33.7px"><i style="background:linear-gradient(90deg,#f11f06,#f56c0a,#face0f,#f68f0b,#f4810a,#f7ac0d,#f7a70d,#f8bf0e,#edfd22,#94fc79,#41fac8,#1ef9ea,#1df9eb,#3bface,#3cfacd,#10f1fa,#0976f3,#053af0,#0532f0,#0859f2,#085ff3,#085bf2,#0749f2,#0636f0,#0973f4,#0a80f5,#0408ee,#0202c1,#0536f0,#0eeff9,#56fab4,#73fb98,#6cfb9f,#54fab6,#46fac4,#35fad4)"></i><i style="background:linear-gradient(90deg,#f32209,#f76e0c,#fbcf10,#f9920f,#f9850e,#faaf10,#faa90f,#fbc211,#ecfc21,#92fa78,#40f9c8,#1df9ea,#1cf9ea,#3bf9cd,#3cf9cc,#0cedf7,#0774f2,#053af0,#0431ef,#0556f0,#055cf0,#0559f0,#0547ef,#0433ee,#0670f1,#077df1,#0206ec,#0202c1,#0435ef,#0deef8,#56fab3,#72fa97,#6bfa9e,#53fab5,#45f9c3,#35f9d3)"></i><i style="background:linear-gradient(90deg,#ee9c04,#f3d008,#f9f610,#c2ff53,#9eff78,#b7ff5d,#d9ff3a,#a6ff6d,#34fedd,#1bc1ff,#13d9fe,#11d5fb,#12a1fd,#14bcfe,#14b7fe,#1257fd,#0a34f4,#053bf0,#0405e9,#0404b9,#0404b2,#0404cb,#0404c3,#0303b8,#0404ca,#0404cb,#03038f,#020286,#060cf1,#10b2fa,#14ecff,#19f6fb,#17d5ff,#16b6ff,#14c5ff,#13c1fe)"></i><i style="background:linear-gradient(90deg,#ffb018,#ffe018,#fefb15,#baf84b,#94f66d,#aff856,#d3f934,#9ef866,#2bf5d4,#00a2e6,#06ccf0,#08cdf3,#0190ec,#02abed,#01a4ec,#003ee4,#002aea,#053bf0,#0102e7,#0000b4,#0000ad,#0000c8,#0000bf,#0000b5,#0000c6,#0000c6,#00008c,#000084,#0005ea,#06a9f0,#06ddf1,#0ceaee,#01bfec,#009fea,#02b3ed,#03b2ee)"></i><i style="background:linear-gradient(90deg,#ff4517,#ff671a,#ff651d,#ff8925,#ffcd25,#eafa1f,#a3fd6c,#75fc97,#4df8b8,#08b3f2,#1225ef,#0808ad,#0606a2,#0707a7,#0707a5,#050594,#040491,#050595,#030389,#02027f,#02027d,#030382,#020281,#02027f,#020282,#020282,#010178,#010180,#0303a9,#0707a7,#0808af,#0808b2,#0707aa,#0707a4,#0707a8,#0707a8)"></i><i style="background:linear-gradient(90deg,#e52900,#e54700,#e13e00,#dc5600,#e3a000,#efff24,#a0fa69,#73fa95,#51fcbc,#0ebaf9,#0009d2,#0000a1,#000099,#00009c,#00009b,#00008d,#00008b,#00008e,#000085,#00007d,#00007c,#000080,#00007f,#00007e,#00007f,#00007f,#010178,#010180,#0000a6,#00009c,#0000a3,#0000a5,#00009f,#00009a,#00009d,#00009d)"></i><i style="background:linear-gradient(90deg,#f21e08,#f81b0d,#b90d0d,#a91010,#cf1414,#ff5e26,#ffd828,#f9f02b,#ffec30,#cceb43,#20c4b2,#000dd4,#01018d,#010176,#010182,#0000a5,#0000c9,#0000cc,#0000a8,#0000aa,#0000bc,#0003d3,#0000c6,#0000aa,#010187,#010185,#00009c,#0101a2,#0101a0,#010185,#00009c,#0000aa,#0000cb,#0000c1,#0000b0,#010178)"></i><i style="background:linear-gradient(90deg,#f21d07,#eb0f01,#a80000,#920000,#b20000,#d62300,#e0a500,#e1d813,#dbc80b,#c9e73f,#54f8e6,#1733fa,#02028e,#010176,#020283,#0303a8,#0505cf,#0505d2,#0303ac,#0303ae,#0404c0,#0a11e1,#0505cb,#0303ad,#020288,#020286,#03039e,#0303a4,#0202a1,#020286,#03039e,#0303ad,#0505d1,#0404c6,#0404b4,#010178)"></i><i style="background:linear-gradient(90deg,#cfb60a,#a7ff7f,#a3f7a3,#99e899,#92ee92,#9affae,#72e5ff,#51bcff,#51b9ff,#4cadfc,#2d60dc,#0607d6,#000cd3,#0019cb,#0035c9,#0028d7,#0303d0,#050596,#030395,#030398,#040496,#0404be,#0404a1,#030389,#02027d,#02027c,#0202a8,#0202a6,#030383,#02027c,#030386,#0303a3,#0303d1,#0303c2,#0303a3,#000098)"></i><i style="background:linear-gradient(90deg,#ffe73b,#8ce463,#65b965,#6ebe6e,#76d276,#5bcb6f,#02748f,#00297c,#00266d,#002371,#00108c,#0000ce,#1630f7,#2961ff,#2f85ff,#1e5aff,#0101ce,#00008f,#000092,#000095,#000091,#0000b9,#00009c,#000085,#01017b,#01017b,#0202a8,#0101a5,#000080,#01017b,#000083,#0101a1,#0101cf,#0101c0,#0000a1,#03039b)"></i><i style="background:linear-gradient(90deg,#ffc32f,#b7f03f,#22efd8,#11ecea,#27f6da,#0cdbf7,#0467ef,#0000cc,#010178,#01017e,#00008a,#0202af,#0c17ec,#0975f3,#108bfa,#152df4,#040492,#01017f,#0000ad,#0000a4,#000091,#02029f,#0000a6,#00009f,#00008d,#010185,#0101bd,#0000bc,#000097,#0000bf,#0000af,#030382,#040492,#0303a1,#0101a2,#03038b)"></i><i style="background:linear-gradient(90deg,#d78000,#cdff55,#30fde6,#1df8f6,#2efde1,#0eddf8,#0a6df5,#0505d3,#010178,#02027f,#02028c,#0101ae,#0006db,#0774f2,#027cec,#000bd1,#00008c,#020280,#0404b1,#0303a7,#020293,#01019e,#0303a9,#0404a3,#030390,#020287,#0303bf,#0303bf,#03039a,#0606c7,#0505b5,#000080,#00008c,#00009f,#0202a3,#000088)"></i><i style="background:linear-gradient(90deg,#dca900,#ffdd1e,#ffd161,#fbcd6c,#e2db58,#a8e061,#70d670,#3d905f,#305438,#2f593e,#16595d,#004ea7,#0009e1,#172cd0,#172cc8,#06069b,#010176,#02027c,#050593,#000ccf,#0027b8,#002bb7,#0033bf,#001ec7,#0018bf,#000ac1,#0101d8,#0006dc,#0000d1,#0404bf,#0404aa,#00008b,#000085,#0101a2,#0000bd,#000dba)"></i><i style="background:linear-gradient(90deg,#ffe52d,#edc202,#a36e00,#986a09,#afa825,#a9e161,#99ff99,#a7fac8,#caeed2,#c4eed4,#a4e7eb,#56d2ff,#0f20f8,#0005a9,#0003a0,#000093,#010176,#01017a,#00008d,#1631f5,#4099ff,#42a1ff,#3a98ff,#2f70ff,#2a62ff,#1834ea,#0303da,#0c18ee,#0608da,#0000ba,#0000a5,#03038e,#020287,#0202a4,#0303c0,#1d40ed)"></i><i style="background:linear-gradient(90deg,#e3ff33,#dce020,#c78f00,#cd8100,#e6a700,#ffbe15,#ffc027,#ffe831,#fff11e,#b9ff62,#74e2ff,#46a5ff,#0a0cc3,#02027f,#01017b,#010176,#010176,#010176,#0001b6,#0241ec,#1d9dff,#17b3ff,#07c0f2,#00b3dd,#00a2dc,#0045eb,#0006e5,#0912f0,#0404d7,#030393,#030384,#01019a,#0000c1,#0016be,#0032be,#0084d2)"></i><i style="background:linear-gradient(90deg,#dbf82b,#ecef30,#ffdf41,#ffd93a,#ffcd22,#f4b209,#e08f00,#d9a900,#efd804,#aaf453,#006a8c,#00279e,#0000b3,#00007d,#01017b,#010176,#010176,#010176,#0f1acf,#0948f4,#0074df,#009ae8,#10c9fb,#26e7ff,#26d7ff,#0b50f6,#0811f1,#0006e4,#0000d3,#000090,#000081,#02029a,#0b11d2,#285cff,#3b9aff,#2dc9ff)"></i><i style="background:linear-gradient(90deg,#87efe6,#94e3f9,#a4e0f8,#b0e6ea,#b4f4ce,#bfecbf,#b7c8b7,#bbd7bb,#bdf4cc,#63edf4,#007dc7,#002d82,#002755,#1f180f,#4f004c,#4c0046,#51004c,#550051,#7b587b,#817881,#549754,#00acdf,#2f9fff,#3fbbff,#39b2ff,#1939fa,#080bd1,#0303d8,#0004d4,#0007ae,#00159b,#001da7,#004cc2,#009dd4,#0ad4dd,#2dedc8)"></i><i style="background:linear-gradient(90deg,#1d847c,#07566d,#08445b,#164c50,#36764f,#447144,#4a5c4a,#476347,#376e46,#0f99a1,#39d9ff,#79cfff,#92d6ff,#dfd7ce,#a853a5,#aa59a5,#a54ba0,#a0419d,#805d80,#7d747d,#b2f5b2,#23dbff,#0052cc,#004ebd,#0050c2,#000ecf,#0000c5,#0101d6,#0a13e4,#1933da,#2f69ef,#3780ff,#39adff,#2de1ff,#28f3fc,#40ffdc)"></i><i style="background:linear-gradient(90deg,#1c3ce3,#0507e5,#0202dd,#0003e6,#0a2ff4,#022fed,#0019e7,#002bdd,#0055ac,#158486,#5fed91,#c3e64d,#ffcf61,#ff7736,#c70505,#d30303,#ce0000,#c30000,#ad2100,#604b33,#b3cab3,#46c8ff,#0d1cf6,#080cdd,#0a12de,#0606ad,#03038f,#0202cd,#002edb,#005fdf,#1099fb,#11b7fc,#12e3fd,#19f9f5,#27f9f2,#45ffd7)"></i><i style="background:linear-gradient(90deg,#000bb1,#0002e0,#0303de,#0406ea,#0024e9,#0734f2,#0b28f6,#1851ff,#52d3ff,#7decee,#79ffab,#bde148,#a36600,#ba1c00,#c80505,#d80808,#de0e0e,#de1813,#ff8f41,#cdb8a0,#4f674f,#004fb7,#0008e2,#0001d3,#0003ce,#0000a5,#00008c,#0303ce,#1b59ff,#1b86ff,#028bed,#04aaef,#08d9f3,#12f3ee,#15e7e0,#32eec3)"></i><i style="background:linear-gradient(90deg,#000f90,#001cb6,#001ac7,#0023cc,#003bc1,#005abf,#0052c4,#0080db,#46fce1,#8dffb7,#91ffb8,#9ebc4e,#9c3300,#8a2100,#9c2800,#a83000,#bb3b00,#d93900,#ffd02d,#599f59,#00223d,#00319a,#001ebd,#001aa6,#001f99,#002174,#00266d,#002d7e,#068c9f,#00b3d0,#0095d6,#00ace2,#0bd3f5,#12eafd,#10d5fb,#16d3ff)"></i><i style="background:linear-gradient(90deg,#2b5cdd,#3376ff,#2a64ff,#2a6cff,#389dff,#3ec4ff,#37b0ff,#23b2ff,#26dcc1,#52cd7c,#50c678,#bad96a,#ffd05b,#ffb052,#ffb451,#ffbd52,#ffb147,#ff7025,#da9200,#aef4ae,#b6dbf5,#57caff,#3277ff,#3374ff,#3e8eff,#49a6f9,#52bbff,#71cfff,#64e9fc,#34ebff,#2bd4ff,#1fd4ff,#0ed6f9,#08e0f3,#08cdf3,#02beec)"></i><i style="background:linear-gradient(90deg,#23c0ff,#1bd4ff,#10b2fb,#16b3ff,#2deaff,#47f0f8,#34ecff,#1cddff,#0faafa,#076ef1,#095ef3,#35baff,#7aecf0,#7fffc7,#93ff88,#adfa5d,#cafc44,#e9b600,#dc6100,#e35b00,#fa820f,#c4e84a,#4dd085,#10e7e6,#34eeff,#51fae3,#6dffad,#b1ff68,#a9ff6e,#57fab1,#3cf6c5,#27f5d7,#08ddf3,#1dc9ff,#1eb7ff,#189fff)"></i><i style="background:linear-gradient(90deg,#008fdd,#00b6e7,#05a6ef,#009be9,#00b4d6,#0cb4bd,#00b6d0,#00bce6,#05a0f0,#0971f3,#055bef,#0062c8,#128488,#40c288,#83f378,#b0fd5f,#c9fc43,#ffd720,#ff9626,#ff801e,#f37b08,#c1e446,#83ffbc,#20f7f6,#03bcd0,#24ccb6,#5df29d,#a4f55b,#9ef663,#58fab2,#44fecd,#31fee1,#12e7fd,#00a5e3,#0090e1,#0081e5)"></i><i style="background:linear-gradient(90deg,#0e43f9,#1481fe,#188cff,#1370fd,#0a5ff5,#064af1,#0c5cf7,#1684ff,#1888ff,#0e70f8,#0755f1,#0006d4,#000bba,#004cca,#3cf6c5,#b6fd5a,#b1ff66,#ceff50,#d0ef3d,#cfc91b,#d18a00,#d97700,#eeaa04,#6eef85,#00809b,#068094,#4fe293,#96ed5a,#9aed56,#92ee60,#9af15d,#95f05f,#5ae589,#247b6b,#15686c,#0c6a79)"></i><i style="background:linear-gradient(90deg,#0031e7,#006ae7,#006de4,#0059e6,#0358ed,#054af0,#0150eb,#0069e5,#0068e3,#0162eb,#0654f0,#0d1be9,#1b39e9,#309dff,#44fecd,#b3fa57,#a6f65b,#bdf33f,#cfee3c,#efe93c,#ffda36,#ffb42b,#ffc019,#86ff9c,#66e6ff,#6ee8fc,#76ffba,#b2ff76,#b6ff72,#acff7a,#afff72,#acff77,#81ffb1,#98f0e0,#96e9ed,#88e6f6)"></i><i style="background:linear-gradient(90deg,#060cec,#0d36f8,#0d2bf7,#1023f3,#173dff,#1041fa,#0e33f8,#0f2dfa,#0925f4,#0946f3,#0b4ef6,#055def,#0ac0f4,#42fdcd,#69ffab,#7fff9a,#42ffd2,#30fde1,#2afbe1,#3cfdd3,#76ff9d,#c8fe49,#ffe815,#fbcc10,#f2c407,#e8b100,#e39a00,#e98800,#ee7e03,#f29508,#ffac14,#fda312,#ec6e02,#e01f00,#ea2000,#f7460d)"></i><i style="background:linear-gradient(90deg,#0004e4,#0025e6,#0019e5,#0009d9,#0018dd,#002be4,#0020e5,#0016e3,#001ae9,#0240ed,#0043eb,#0960f3,#0ec5f8,#3bf6c7,#5ff5a1,#71f38c,#37f4c7,#27f5d8,#27f8de,#36f7cd,#6df694,#c4fa45,#f8e00d,#facb0f,#ffd618,#ffd521,#ffc725,#ffa51b,#ff9116,#fd9f13,#f2a008,#f39909,#ff8216,#ff441b,#fb3111,#f03f05)"></i><i style="background:linear-gradient(90deg,#0003d2,#0007de,#0005d9,#0000a9,#0000b5,#0003e0,#0003dc,#0000d6,#0004e7,#062cf1,#0525f0,#1065fb,#21c2ff,#25d7ff,#23deff,#1ec7ff,#15b2ff,#0ac3f5,#11f1ee,#11e9e7,#1ff8e7,#8bff8a,#dcd91b,#ddd617,#dbff40,#acff6b,#a6ff71,#ecf823,#f9c30f,#ffb816,#fc7912,#ff7718,#ffac23,#ff9f1d,#fd5c13,#f9270e)"></i><i style="background:linear-gradient(90deg,#0a11e0,#0c18f0,#0b15e9,#0606b1,#0505bb,#060be8,#080ee7,#0404db,#060aed,#0227ed,#0322ed,#0051e7,#0096df,#00a3dc,#00b0e0,#00a0e2,#009dea,#0dc6f8,#19f9f6,#20f8f6,#21fae9,#81f680,#f1ee30,#f5ef2f,#cef533,#a1f660,#9bf666,#eaf722,#fac410,#f2aa07,#f06c05,#e95d00,#e28100,#e77e00,#ec4a01,#eb1901)"></i><i style="background:linear-gradient(90deg,#108cfa,#0c70f7,#0b7ff6,#0a75f5,#0947f4,#0c47f7,#115afc,#0f53fa,#0a2bf5,#0714f1,#0616f1,#0303ec,#0202d6,#0101c8,#0202e8,#0405ec,#0c43f7,#15caff,#3cfdd4,#68fea9,#32fbda,#12e1fd,#15f1ff,#14faf5,#20f9e8,#10f1fb,#10f3fb,#6ffda0,#e4d40c,#e57d00,#ed3e03,#e80404,#c50404,#e30707,#ee0804,#d70202)"></i><i style="background:linear-gradient(90deg,#027eec,#0266ed,#0579f0,#0570f0,#023fec,#003ae9,#0044e6,#003fe7,#001ee8,#000dea,#000feb,#0202eb,#0202d7,#0303ca,#0202e8,#0103e9,#0035e9,#02b6ec,#35f6cc,#61f7a2,#2ef8d6,#08d7f2,#07e3f1,#12f8f3,#1ff9e8,#0bebf6,#0beef6,#6af89b,#fff028,#ffa11f,#fa4b0f,#ed0808,#c80606,#e00505,#f30d09,#de0909)"></i><i style="background:linear-gradient(90deg,#052af0,#052af0,#0754f1,#0650f1,#0310ee,#0202d2,#0202ab,#0202b6,#0202c0,#0202ce,#0202d4,#0202de,#0204ed,#0316ed,#0308ed,#0202ca,#0202cd,#0741f1,#0a8bf5,#0dbcf7,#0dd1f8,#0a98f5,#0a8ef5,#0dd6f8,#19f9ee,#0ccbf7,#0dcff7,#0ff7fa,#10defa,#82fb8a,#f7960c,#f23408,#e60606,#c40505,#f22f08,#f34d09)"></i><i style="background:linear-gradient(90deg,#0328ee,#0429ee,#0653f0,#064ff0,#020eed,#0202d1,#0101aa,#0202b5,#0202c0,#0202ce,#0202d4,#0202de,#0304ed,#0417ee,#0308ed,#0202c9,#0202cd,#043eef,#0788f2,#0ab9f4,#0cd0f6,#0997f3,#088cf3,#0cd5f7,#19f9ee,#0ccbf6,#0ccff7,#0df5f8,#0ad8f4,#81fa89,#f9980e,#f43509,#e60606,#c40505,#f33008,#f54f0b)"></i></div><div class="hm" style="left:52px;top:550.5px;width:209px;height:33.7px"><i style="background:linear-gradient(90deg,#ed0903,#950202,#830101,#8c0101,#a00101,#be0404,#9d0303,#7a0202,#7b0202,#7d0101,#800000,#a90000,#e50502,#ef1c05,#ea0504,#cf0202,#ca0000,#c40000,#dd0b00,#e92200,#e81500,#e83800,#ee6803,#ed6003,#e62e00,#de1c00,#e77b00,#f3d109,#f5ec0c,#daff3a,#e6ff2e,#f3df08,#f3dd09,#f6ed0c,#d8fe39,#66faa3)"></i><i style="background:linear-gradient(90deg,#f5100a,#9a0606,#870505,#920707,#a60707,#c10606,#9f0505,#7c0404,#7d0404,#820606,#870707,#b20909,#ee0e0b,#f4210a,#ef0a08,#d60909,#d50b0b,#d30d0d,#f72514,#fd3712,#fc2912,#ff4e14,#fe7813,#fe7013,#ff4715,#ff461d,#ff9c1d,#ffe118,#fff818,#d4f934,#e0fa28,#fff11a,#ffed19,#fff918,#d4fa36,#67fba4)"></i><i style="background:linear-gradient(90deg,#ed5202,#dd0d00,#d40100,#ed0908,#f51e11,#e20a0a,#be0808,#990404,#a90202,#d10404,#f5110a,#fc5711,#f47909,#ea5400,#eb4900,#f26f07,#f7a00d,#fae410,#dafc33,#f9e00f,#fbd511,#f4fb18,#f5fe1d,#e8fd2c,#c9ff4f,#5cfbaf,#5df8a8,#a1fa67,#9cf96c,#51f5af,#64f69c,#8ef674,#a3f55e,#b6f64c,#89f77a,#87fa83)"></i><i style="background:linear-gradient(90deg,#fd6312,#fb2b16,#e5120e,#e90504,#e10900,#d80101,#b80202,#9a0404,#ad0606,#d30606,#ee0a03,#ec4702,#f97e0e,#ff6a15,#fe5d14,#fa770f,#f9a20e,#fde712,#dbfc33,#fee413,#fad410,#f6fe1a,#f1fb1a,#e1f626,#bdf644,#5bf9ad,#62fdad,#a5fd6a,#a0fd70,#5bffb8,#6effa6,#97ff7d,#afff6a,#c1ff56,#91ff83,#88fb84)"></i><i style="background:linear-gradient(90deg,#ffad18,#ffc021,#ff8326,#b70909,#820000,#850000,#820000,#9c0404,#c70a0a,#db0b0b,#da0202,#e20900,#fe9313,#ffca20,#ffb41c,#ff9a14,#f9a90e,#fff015,#e7fa23,#fff718,#f4d20a,#e2e922,#a2ff76,#34fbd7,#13f6f1,#51f7b2,#c7f83e,#e9f625,#edfa1d,#f1fd1f,#f2f417,#f0d005,#ed8c02,#f18f07,#fbda10,#a9f759)"></i><i style="background:linear-gradient(90deg,#ee9904,#e69b00,#db4d00,#af0000,#8b0808,#910909,#8b0808,#9b0404,#bd0000,#cf0000,#e10909,#f51c10,#f08606,#e8a700,#ea9800,#f08c06,#f8a80e,#f8e80d,#ebfe27,#f6ea0b,#ffdf17,#ebf22b,#96f56a,#32f8d4,#16faf5,#58fdb8,#cfff46,#e9f524,#f2ff21,#effc1d,#f7f81c,#ffe71c,#ffa118,#fe9d14,#fbda10,#b3ff63)"></i><i style="background:linear-gradient(90deg,#c87600,#c64200,#900900,#850500,#ac1d00,#b92300,#b11a00,#9c0900,#8a0200,#8e0300,#d83500,#f06505,#f25b08,#ea3c00,#fa360f,#ff4f1d,#ff912d,#ffb239,#ffc13c,#ffa436,#ffdc44,#a9dd68,#76db76,#7ddd75,#93dd6f,#dce34c,#ffb731,#ff7c27,#ffc133,#ffe936,#ddf033,#e2f529,#ffe416,#f7ca0c,#fbda11,#fbdb11)"></i><i style="background:linear-gradient(90deg,#ffd63e,#ffa33c,#f06837,#e96939,#ff853d,#ff8c3e,#ff7838,#f15e31,#e35c33,#e45832,#ff6f27,#fb7010,#f7600d,#fe5013,#eb2701,#df2700,#d44e00,#ca5900,#c96300,#cc4f00,#c37e00,#a1d460,#93f993,#94f48c,#9ae476,#bdc32d,#d46f00,#d94300,#d37700,#d4bc0a,#d9ec2f,#e4f72b,#f6d90b,#fed013,#fbd910,#fbda10)"></i><i style="background:linear-gradient(90deg,#53f8b2,#6afea8,#75ffa4,#67ffb1,#63ffb3,#70fda0,#92fd7e,#a9ff6b,#9ffd70,#b8fb53,#f9f610,#e59600,#db7e00,#e48d00,#dd1300,#c50000,#b30000,#900000,#8d0000,#930000,#940000,#880000,#850000,#860000,#8d0000,#c90400,#b80900,#af0900,#b10f00,#c83800,#d28500,#dbb500,#eccb02,#f0e60d,#dde322,#e3e31a)"></i><i style="background:linear-gradient(90deg,#58fcb6,#62f6a0,#66f395,#59f3a3,#57f4a7,#6af89a,#8df979,#a1f763,#9cf96c,#bafd55,#fefb15,#ffbd22,#ffb82a,#ffb722,#ff3c1c,#e41f15,#c80f0f,#a50f0f,#a00d0d,#ac1111,#ae1111,#970b0b,#920a0a,#920a0a,#a10e0e,#eb2617,#f24224,#f24c28,#fc592d,#ff9238,#ffd335,#ffea30,#ffe81f,#fff61d,#eaf02f,#f2f22a)"></i><i style="background:linear-gradient(90deg,#69fda7,#26fbe6,#15efff,#0deff8,#15f7f0,#3dfcd0,#59ffbc,#61fdae,#75ff9e,#96ff8d,#b6ff74,#c2ff67,#b6ff6b,#dbff43,#c89c00,#cc7a00,#cc4500,#d41e00,#e20a00,#f61c0b,#f81e10,#cd0606,#bd0606,#c10404,#da1100,#ea6f00,#faac0f,#ffbf1c,#ffcb30,#ffd555,#f4d55e,#e8da59,#ffe041,#ffde46,#dfd467,#f7cf68)"></i><i style="background:linear-gradient(90deg,#63f7a1,#22f7e2,#06e0f1,#0ff1f9,#18fbf3,#38f7cb,#4df4b1,#5bf8a9,#6cf696,#7eef75,#98ec56,#a6ed4b,#a1f156,#caf433,#ffe140,#ffd33a,#ff9935,#ff5e28,#f71f11,#ed1403,#e40a00,#cb0404,#bb0404,#c30606,#ff3a1c,#ff8818,#f7a90d,#eca501,#d78700,#b17000,#a78912,#aea01f,#c79700,#c19300,#9e9327,#9d750d)"></i><i style="background:linear-gradient(90deg,#48fac0,#1cf6e5,#0ed4d8,#1bf1e1,#2bf8db,#2ff6d2,#2af4d3,#3ffaca,#3cfcd1,#22f2da,#27ecce,#25f7df,#32fcdb,#61ffb4,#70ffa9,#83ffa3,#ccff55,#e7b900,#d25100,#d11f00,#c81200,#c90700,#c60000,#cb0700,#ff621a,#ff922b,#ffa214,#f28807,#da4300,#b60b00,#c60900,#d81500,#eb2800,#ed1703,#c70600,#aa0200)"></i><i style="background:linear-gradient(90deg,#49fac1,#23fcec,#2ef4f8,#26fcec,#2dfadd,#36fdd9,#35ffdf,#3ef9c9,#37f7cd,#2efee6,#3affe1,#29fbe3,#2df7d6,#56f4a8,#62f39a,#68ed87,#b7f141,#ffe023,#ff982f,#ff642b,#ff4d25,#ef2d1a,#e21a13,#f02c19,#e44200,#d65200,#f19407,#fd9312,#ff7925,#f54a27,#f3351d,#ff4520,#fb3810,#f61f0b,#ee2e1a,#e53d24)"></i><i style="background:linear-gradient(90deg,#79d1ff,#6fceff,#6bd7ff,#66d7ff,#55dcff,#60e2ff,#78daff,#6fceff,#64cdff,#76d5ff,#79e1ff,#5bd8ff,#4dd3ff,#4edbff,#38ebff,#1be0ff,#54f7e7,#aaffb0,#94f594,#adc03e,#b7a013,#b57300,#be5400,#d16300,#d63700,#c83500,#dd9a00,#f1a206,#faaa0f,#f7800c,#ff501a,#f37308,#b96c00,#b35200,#c86e00,#df7d00)"></i><i style="background:linear-gradient(90deg,#002a6b,#002e89,#005093,#005298,#006dab,#007aa1,#004e87,#002d82,#002f89,#004288,#006387,#005fa4,#0059b1,#006fb2,#00b1cb,#00c2e8,#1ec1b2,#58b55e,#75d575,#cade5c,#f4dd50,#ffd751,#ffc846,#ffaf33,#ff7428,#ff8f38,#ffd22b,#ffb216,#f7a80d,#f67f0b,#e32f00,#f97a0f,#ffd74d,#ffd251,#ffcf3e,#ffaf26)"></i><i style="background:linear-gradient(90deg,#0008a1,#0000c9,#0006e2,#000eda,#0325ee,#0e2cf8,#0006e0,#0001bd,#0000bd,#0006d6,#0021de,#0025d8,#000ee7,#0229ed,#0094ea,#00bce8,#00b4e0,#00a0cc,#1cc5b7,#78f384,#9ff867,#9ffe73,#d9ff3a,#fbe210,#deb700,#e4dd13,#fff415,#ffb516,#fca311,#f77d0c,#f3140d,#ff5e2a,#fde441,#e8f32b,#fff027,#fcce12)"></i><i style="background:linear-gradient(90deg,#1d3cd5,#0606d0,#0a15f1,#1735ff,#0527f0,#0018e5,#0a14ef,#0d17d2,#0707c6,#0d1aea,#1644ff,#1d54ff,#0a1bf4,#072ef1,#14a9ff,#1ad8ff,#23e2ff,#36e5ff,#4ef7e9,#86ff93,#a5ff6d,#99f86c,#d3f935,#fce411,#ffeb2d,#f9f228,#f9ee0e,#f1a607,#f59c0a,#f67c0b,#e60800,#d21c00,#c8af0c,#e2ed25,#e5cf06,#f8ca0e)"></i><i style="background:linear-gradient(90deg,#0076d9,#004abf,#0059c5,#007fcb,#006ebd,#005eb0,#0062be,#004dd0,#002cd4,#0053cf,#0083d2,#008fd9,#005bc8,#0059d4,#13a8fd,#23c5ff,#28d1ff,#3bd4ff,#66d0ff,#86d5ff,#6cfbd8,#b5f549,#f9ed31,#ffd918,#ffde30,#ffe03c,#ffc22c,#ff8221,#ff6830,#f7552c,#d50a0a,#df0808,#f95e30,#ff9648,#ff803d,#ff9e2c)"></i><i style="background:linear-gradient(90deg,#24abff,#3db3ff,#37b6ff,#35d4ff,#42d8ff,#4ed5ff,#3fcdff,#2a92ff,#2265ff,#2c9cff,#2ec9ff,#27c7ff,#34b0ff,#2796ff,#0197ec,#0093dc,#0097d9,#0072c4,#003f97,#003677,#2fbd9a,#c4ff57,#dacf13,#f3c908,#d89c00,#cc8700,#da8600,#e05700,#bd1800,#af0c00,#cc0101,#da0303,#a80d00,#8c1800,#a11700,#d65e00)"></i><i style="background:linear-gradient(90deg,#08c2f3,#07e0f2,#0be5ea,#0df0f8,#18eaff,#19f4ff,#18f7eb,#0ccdd4,#00abda,#02c7ec,#0ae7f4,#09e2f3,#13bdfe,#0fa0fa,#049cef,#048def,#0887f2,#0061e9,#0033e0,#0025e4,#1f94ff,#75f8db,#d0f745,#e8e213,#e1b400,#e68b00,#e59600,#d78600,#c54200,#c71700,#d90200,#c90808,#ab0404,#bc0000,#d10000,#ff2d16)"></i><i style="background:linear-gradient(90deg,#0fc9fa,#13ecfe,#1cf5fb,#0ef1f9,#02d4ec,#07e2ec,#1dfcef,#31f3fa,#28e3ff,#17dcff,#11eefc,#12ebfd,#03adee,#0495ef,#10a9fb,#0f98f9,#0a89f5,#1072fa,#1553ff,#0f3afa,#0066dc,#2bae91,#c8ef3d,#faf324,#ffe629,#ffb020,#ffbc21,#ffc930,#ffa33c,#ff5d2b,#e9120e,#c30202,#ab0404,#c90c0c,#de0c0c,#e10f00)"></i><i style="background:linear-gradient(90deg,#11bdfc,#21b6ff,#28bbff,#21b8ff,#1ba1ff,#1ab4ff,#27ccff,#31bbff,#28a7ff,#1db2ff,#13e2fd,#0eeef8,#05b9ef,#00b8e7,#01c9ec,#10d1d3,#14ccc8,#0ac0c9,#0cb4be,#009fc8,#01aec4,#1adcd0,#66ffae,#caff49,#ffe518,#f2d307,#f5d90a,#ffc719,#fcbc11,#e5a100,#d75c00,#d51d00,#d10d00,#e50800,#db0909,#aa1010)"></i><i style="background:linear-gradient(90deg,#05b1f0,#0088dd,#0080d7,#008ade,#007ee2,#0094e5,#0093d9,#006dcd,#0069d4,#008be1,#07d7f2,#0eeef8,#12c7fd,#1bd7ff,#18dfff,#33f4f6,#3ef5f1,#3bf1fa,#47f0f9,#3ae6ff,#3fecff,#37f9ed,#5bf5a3,#c4f943,#f4d70a,#ffe51a,#ffe617,#f0b305,#f7b70c,#ffca23,#ff9b2b,#ff5927,#fb381d,#f3160d,#d40202,#920000)"></i><i style="background:linear-gradient(90deg,#167dff,#0d64f8,#1241fc,#1631f7,#153bff,#1555ff,#105efb,#0c3cf6,#0d38f8,#1255fd,#1e87ff,#2880ff,#1f7cff,#15beff,#10dafb,#1cf5fb,#21f9f3,#2bfbe0,#42fac8,#16f9f6,#1cf4fd,#20f7f7,#20f9f3,#46ffd5,#b4ff6a,#efff24,#faf30f,#ebe10f,#e5f327,#ecff29,#f4c20a,#f47509,#eb6401,#e25900,#da3d00,#c71c00)"></i><i style="background:linear-gradient(90deg,#0061e4,#0057eb,#0028e3,#000cd2,#001adf,#0036e1,#004ae7,#002ee8,#0026e6,#003ce4,#0059dc,#003ed1,#004dda,#01a9eb,#09d2f3,#0be4ea,#14ece6,#28f8dd,#41f9c7,#11f5f1,#09e1ea,#0fe6e7,#14ece7,#34f0c2,#a2f258,#eafa1f,#fff714,#fdf422,#e6f429,#e5f822,#ffcd15,#f97b0e,#ff7916,#ff801f,#ff7225,#ff6b30)"></i><i style="background:linear-gradient(90deg,#0707ab,#0707a8,#06069c,#0303ac,#0404c8,#0606ab,#0606aa,#0606aa,#06069c,#0606a1,#0606b4,#0505ab,#0606ba,#0b0fbe,#111dc1,#1424c4,#162aca,#1b34cb,#2146da,#1a35d7,#172fd7,#2352ff,#245cff,#275eff,#32a9ff,#42e1ff,#4ef8e8,#5affc1,#42fde1,#41ecff,#63ffbe,#dfe824,#f0aa05,#f1b606,#f0b205,#f39b08)"></i><i style="background:linear-gradient(90deg,#0000a0,#00009d,#000094,#0000a8,#0000c5,#0000a3,#0000a0,#0000a2,#000094,#000097,#0000aa,#0000a3,#0000b2,#0000ab,#0000a3,#0001a1,#0003a2,#00059b,#000b9f,#0007a9,#0006ae,#0015cd,#001ed1,#001bce,#0054c9,#008abf,#1ec8b8,#48f1af,#27e2c6,#03afc3,#4beea6,#e9f12d,#ffbc18,#ffc818,#ffc619,#fea713)"></i><i style="background:linear-gradient(90deg,#0000cd,#0000c1,#0000ae,#0101a4,#0202b3,#0101b4,#0005d8,#0009db,#010192,#010176,#010180,#0000b8,#0000da,#0000c7,#010191,#010191,#0000b3,#0000b5,#0006da,#000cde,#001ddd,#003fe6,#0045e8,#0036e8,#0349ee,#02abed,#11f1ed,#36f9d1,#38f7cb,#12eae6,#44f8c2,#e0fb2c,#fcaa12,#ff9216,#ff9615,#ff6815)"></i><i style="background:linear-gradient(90deg,#0404d2,#0404c5,#0303b1,#0202a4,#0202b2,#0303b7,#0b16e9,#1023f5,#020294,#010176,#010180,#0303bb,#0404de,#0404cb,#020293,#020292,#0303b6,#0404b9,#0c19ed,#132cfd,#1641ff,#1054fb,#0f57fa,#0d45f7,#084ef3,#14bcfe,#1af9f6,#38fad2,#3efcd0,#21f8f4,#47fcc5,#e2fd2e,#f5a30a,#ee8003,#ef8504,#eb5300)"></i><i style="background:linear-gradient(90deg,#0202c5,#000bea,#000ce8,#0101dd,#002ee5,#0054e4,#0149ec,#0259ed,#0067e0,#0039de,#0004de,#0004e8,#020bec,#0202d6,#0101b1,#0001e0,#0005e8,#000ae9,#0326ee,#053def,#0651f0,#0498ee,#12e6e2,#29f3d3,#1cecdc,#37f7cc,#2cf9db,#25fae5,#44fac6,#5bf8ac,#c4f842,#fffb15,#f5e70a,#ecfb26,#efee15,#f0a705)"></i><i style="background:linear-gradient(90deg,#0101c4,#0713f1,#0918f4,#0303df,#1044fa,#146eff,#0b53f6,#0c63f6,#1b8dff,#185dff,#0911eb,#0509ed,#040dee,#0202d6,#0202b2,#0405e4,#070df0,#0814f3,#0528f0,#063ef0,#0752f1,#10a5fb,#24f8f4,#35ffdf,#2cfbeb,#3dfdd1,#2dfadc,#23f9e3,#43fac5,#5efcaf,#cbff49,#faf50f,#fff619,#e8f722,#f8f71e,#ffb918)"></i><i style="background:linear-gradient(90deg,#0202e8,#0306ee,#0303c5,#0202be,#0303dd,#0404dd,#0303df,#0810f2,#0b20f5,#0833f2,#035ced,#0263ed,#024fed,#0119eb,#0202d1,#0202bc,#0303ba,#0303a9,#0303da,#0544f0,#0675f0,#0b8ff5,#10c1fb,#12f4fd,#11f7fb,#24fae5,#2af9de,#56f9b1,#8bfa7e,#8dfa7c,#c5fc49,#f1fd1e,#fdea12,#ffb815,#feb214,#f9ec0f)"></i><i style="background:linear-gradient(90deg,#0303e9,#0204ec,#0101c3,#0101bd,#0101db,#0101da,#0101dd,#0006e8,#0011e7,#012cec,#0b64f6,#0d6ef7,#0a57f5,#061ff1,#0202d2,#0101ba,#0101b9,#0101a7,#0202d9,#0645f0,#0a7af5,#088cf2,#06b7f1,#0aebf4,#0bf1f6,#23f9e4,#2af9de,#58fbb3,#8dfc80,#8ffc7e,#c4fb48,#f0fc1e,#fbe910,#f3ab08,#f3a609,#fff114)"></i></div>
<svg width="1080" height="628" viewBox="0 0 1080 628">
<defs><linearGradient id="jet"><stop offset="0.000" stop-color="#000080"/><stop offset="0.062" stop-color="#0000bf"/><stop offset="0.125" stop-color="#0000ff"/><stop offset="0.188" stop-color="#0040ff"/><stop offset="0.250" stop-color="#0080ff"/><stop offset="0.312" stop-color="#00bfff"/><stop offset="0.375" stop-color="#00ffff"/><stop offset="0.438" stop-color="#40ffbf"/><stop offset="0.500" stop-color="#80ff80"/><stop offset="0.562" stop-color="#bfff40"/><stop offset="0.625" stop-color="#ffff00"/><stop offset="0.688" stop-color="#ffbf00"/><stop offset="0.750" stop-color="#ff8000"/><stop offset="0.812" stop-color="#ff4000"/><stop offset="0.875" stop-color="#ff0000"/><stop offset="0.938" stop-color="#bf0000"/><stop offset="1.000" stop-color="#800000"/></linearGradient><filter id="gb1" x="-20%" y="-20%" width="140%" height="140%"><feGaussianBlur stdDeviation="1.6"/></filter><filter id="gb2" x="-20%" y="-20%" width="140%" height="140%"><feGaussianBlur stdDeviation="0.7"/></filter><clipPath id="gc00"><rect x="337" y="200.4" width="80" height="80"/></clipPath><clipPath id="gc10"><rect x="337" y="296" width="80" height="80"/></clipPath><clipPath id="gc01"><rect x="421.3" y="200.4" width="80" height="80"/></clipPath><clipPath id="gc11"><rect x="421.3" y="296" width="80" height="80"/></clipPath><clipPath id="gc02"><rect x="507" y="200.4" width="80" height="80"/></clipPath><clipPath id="gc12"><rect x="507" y="296" width="80" height="80"/></clipPath><linearGradient id="hot"><stop offset="0" stop-color="#000"/><stop offset=".375" stop-color="#f00"/><stop offset=".75" stop-color="#ff0"/><stop offset="1" stop-color="#fff"/></linearGradient></defs>
<text x="2" y="25" font-size="18" font-weight="bold" fill="#000" color="#000">A</text>
<rect x="52" y="20" width="209" height="156" fill="none" stroke="#111" stroke-width="1"/>
<rect x="52" y="185" width="209" height="157" fill="none" stroke="#111" stroke-width="1"/>
<text x="44.5" y="73.8" font-size="12.5" text-anchor="end" fill="#262626" color="#262626" >50</text>
<text x="44.5" y="124.3" font-size="12.5" text-anchor="end" fill="#262626" color="#262626" >100</text>
<text x="44.5" y="174.3" font-size="12.5" text-anchor="end" fill="#262626" color="#262626" >150</text>
<text x="44.5" y="217.4" font-size="12.5" text-anchor="end" fill="#262626" color="#262626" >50</text>
<text x="44.5" y="246.3" font-size="12.5" text-anchor="end" fill="#262626" color="#262626" >100</text>
<text x="44.5" y="275.2" font-size="12.5" text-anchor="end" fill="#262626" color="#262626" >150</text>
<text x="44.5" y="304.1" font-size="12.5" text-anchor="end" fill="#262626" color="#262626" >200</text>
<text x="44.5" y="333.0" font-size="12.5" text-anchor="end" fill="#262626" color="#262626" >250</text>
<text transform="translate(14.0,99.0) rotate(-90)" font-size="14.5" text-anchor="middle" fill="#262626" color="#262626">CA1</text>
<text transform="translate(14.0,263.5) rotate(-90)" font-size="14.5" text-anchor="middle" fill="#262626" color="#262626">SUB</text>
<text x="52.0" y="358.0" font-size="12.5" text-anchor="middle" fill="#262626" color="#262626" >&#8722;100</text>
<text x="156.5" y="358.0" font-size="12.5" text-anchor="middle" fill="#262626" color="#262626" >0</text>
<text x="261.0" y="358.0" font-size="12.5" text-anchor="middle" fill="#262626" color="#262626" >100</text>
<text x="156.0" y="377.0" font-size="14.5" text-anchor="middle" fill="#262626" color="#262626" >Position (cm)</text>
<rect x="172.5" y="389.5" width="88" height="9.5" fill="url(#jet)" stroke="#222" stroke-width="1"/>
<text x="171.5" y="411.0" font-size="11.5" text-anchor="middle" fill="#262626" color="#262626" >0</text>
<text x="257.2" y="411.0" font-size="11.5" text-anchor="middle" fill="#262626" color="#262626" >Max</text>
<line x1="337.50" y1="20.30" x2="337.50" y2="125.80" stroke="#333333" stroke-width="1.2" />
<line x1="337.50" y1="125.80" x2="443.50" y2="125.80" stroke="#333333" stroke-width="1.2" />
<line x1="337.50" y1="20.30" x2="340.00" y2="20.30" stroke="#333333" stroke-width="1.2" />
<line x1="337.50" y1="73.05" x2="340.00" y2="73.05" stroke="#333333" stroke-width="1.2" />
<text x="345.5" y="32" font-size="17" font-weight="bold" fill="#000" color="#000">B</text>
<line x1="473.00" y1="20.30" x2="473.00" y2="125.80" stroke="#333333" stroke-width="1.2" />
<line x1="473.00" y1="125.80" x2="579.00" y2="125.80" stroke="#333333" stroke-width="1.2" />
<line x1="473.00" y1="20.30" x2="475.50" y2="20.30" stroke="#333333" stroke-width="1.2" />
<line x1="473.00" y1="73.05" x2="475.50" y2="73.05" stroke="#333333" stroke-width="1.2" />
<text x="481.0" y="32" font-size="17" font-weight="bold" fill="#000" color="#000">C</text>
<line x1="608.70" y1="20.30" x2="608.70" y2="125.80" stroke="#333333" stroke-width="1.2" />
<line x1="608.70" y1="125.80" x2="714.70" y2="125.80" stroke="#333333" stroke-width="1.2" />
<line x1="608.70" y1="20.30" x2="611.20" y2="20.30" stroke="#333333" stroke-width="1.2" />
<line x1="608.70" y1="73.05" x2="611.20" y2="73.05" stroke="#333333" stroke-width="1.2" />
<text x="616.7" y="32" font-size="17" font-weight="bold" fill="#000" color="#000">D</text>
<line x1="744.20" y1="20.30" x2="744.20" y2="125.80" stroke="#333333" stroke-width="1.2" />
<line x1="744.20" y1="125.80" x2="850.20" y2="125.80" stroke="#333333" stroke-width="1.2" />
<line x1="744.20" y1="20.30" x2="746.70" y2="20.30" stroke="#333333" stroke-width="1.2" />
<line x1="744.20" y1="73.05" x2="746.70" y2="73.05" stroke="#333333" stroke-width="1.2" />
<text x="752.2" y="32" font-size="17" font-weight="bold" fill="#000" color="#000">E</text>
<line x1="879.70" y1="20.30" x2="879.70" y2="125.80" stroke="#333333" stroke-width="1.2" />
<line x1="879.70" y1="125.80" x2="985.70" y2="125.80" stroke="#333333" stroke-width="1.2" />
<line x1="879.70" y1="20.30" x2="882.20" y2="20.30" stroke="#333333" stroke-width="1.2" />
<line x1="879.70" y1="73.05" x2="882.20" y2="73.05" stroke="#333333" stroke-width="1.2" />
<text x="887.7" y="32" font-size="17" font-weight="bold" fill="#000" color="#000">F</text>
<text x="331.0" y="24.6" font-size="12.5" text-anchor="end" fill="#262626" color="#262626" >1</text>
<text x="331.0" y="77.3" font-size="12.5" text-anchor="end" fill="#262626" color="#262626" >0.5</text>
<text x="331.0" y="130.1" font-size="12.5" text-anchor="end" fill="#262626" color="#262626" >0</text>
<text transform="translate(301.0,73.0) rotate(-90)" font-size="14.5" text-anchor="middle" fill="#262626" color="#262626">Cumulative prob.</text>
<path d="M337.7 125.4 L340.0 125.4 L340.0 124.9 L342.0 124.9 L342.0 124.4 L344.7 124.4 L344.7 124.0 L346.5 124.0 L346.5 123.5 L348.3 123.5 L348.3 123.0 L351.1 123.0 L351.1 122.5 L354.0 122.5 L354.0 122.1 L355.8 122.1 L355.8 121.3 L356.8 121.3 L356.8 120.5 L358.4 120.5 L358.4 119.6 L361.0 119.6 L361.0 118.8 L363.5 118.8 L363.5 118.0 L364.0 118.0 L364.0 117.1 L367.5 117.1 L367.5 116.3 L368.9 116.3 L368.9 115.5 L371.3 115.5 L371.3 114.5 L373.1 114.5 L373.1 113.1 L374.9 113.1 L374.9 111.6 L377.1 111.6 L377.1 110.1 L379.3 110.1 L379.3 108.6 L379.7 108.6 L379.7 106.8 L381.9 106.8 L381.9 104.9 L381.7 104.9 L381.7 103.0 L383.5 103.0 L383.5 101.0 L385.1 101.0 L385.1 99.1 L385.5 99.1 L385.5 97.1 L385.9 97.1 L385.9 95.1 L386.8 95.1 L386.8 93.1 L388.1 93.1 L388.1 91.1 L389.6 91.1 L389.6 89.1 L389.8 89.1 L389.8 87.1 L391.3 87.1 L391.3 85.1 L392.4 85.1 L392.4 83.0 L393.9 83.0 L393.9 81.0 L394.6 81.0 L394.6 79.0 L395.7 79.0 L395.7 77.0 L395.7 77.0 L395.7 74.9 L396.7 74.9 L396.7 72.7 L398.0 72.7 L398.0 70.6 L399.2 70.6 L399.2 68.4 L398.0 68.4 L398.0 66.3 L400.6 66.3 L400.6 64.2 L401.2 64.2 L401.2 62.1 L401.8 62.1 L401.8 60.1 L402.5 60.1 L402.5 58.0 L403.1 58.0 L403.1 56.0 L405.3 56.0 L405.3 54.0 L406.7 54.0 L406.7 52.0 L407.6 52.0 L407.6 50.0 L408.4 50.0 L408.4 48.1 L409.0 48.1 L409.0 46.3 L409.1 46.3 L409.1 44.4 L411.2 44.4 L411.2 42.5 L412.9 42.5 L412.9 40.6 L412.8 40.6 L412.8 38.8 L415.5 38.8 L415.5 37.1 L417.0 37.1 L417.0 35.4 L418.7 35.4 L418.7 33.8 L418.9 33.8 L418.9 32.1 L420.8 32.1 L420.8 30.4 L422.4 30.4 L422.4 28.8 L423.7 28.8 L423.7 27.5 L427.6 27.5 L427.6 26.2 L427.9 26.2 L427.9 24.9 L430.3 24.9 L430.3 23.6 L431.7 23.6 L431.7 22.3 L435.2 22.3 L435.2 21.7 L437.2 21.7 L437.2 21.1 L438.4 21.1 L438.4 20.5" fill="none" stroke="#de6a36" stroke-width="1.9" stroke-linejoin="round" />
<path d="M337.7 125.7 L340.0 125.7 L340.0 125.5 L342.1 125.5 L342.1 125.4 L344.8 125.4 L344.8 125.2 L346.7 125.2 L346.7 125.1 L348.5 125.1 L348.5 124.9 L351.3 124.9 L351.3 124.7 L354.2 124.7 L354.2 124.6 L356.2 124.6 L356.2 124.4 L357.3 124.4 L357.3 124.2 L359.1 124.2 L359.1 124.1 L361.8 124.1 L361.8 123.9 L364.5 123.9 L364.5 123.6 L365.0 123.6 L365.0 123.3 L368.7 123.3 L368.7 123.0 L370.2 123.0 L370.2 122.7 L372.8 122.7 L372.8 122.4 L375.1 122.4 L375.1 122.1 L377.5 122.1 L377.5 121.8 L380.2 121.8 L380.2 121.5 L382.9 121.5 L382.9 121.2 L383.9 121.2 L383.9 119.9 L386.7 119.9 L386.7 118.5 L387.0 118.5 L387.0 117.1 L389.7 117.1 L389.7 116.2 L392.2 116.2 L392.2 115.5 L393.8 115.5 L393.8 114.9 L395.3 114.9 L395.3 114.2 L397.1 114.2 L397.1 113.2 L398.8 113.2 L398.8 111.4 L400.7 111.4 L400.7 109.7 L401.2 109.7 L401.2 107.9 L403.2 107.9 L403.2 106.2 L404.6 106.2 L404.6 104.4 L406.2 104.4 L406.2 102.5 L407.1 102.5 L407.1 100.5 L408.3 100.5 L408.3 98.6 L408.7 98.6 L408.7 96.7 L410.2 96.7 L410.2 94.7 L411.9 94.7 L411.9 92.8 L413.4 92.8 L413.4 90.8 L412.2 90.8 L412.2 88.7 L414.9 88.7 L414.9 86.6 L415.6 86.6 L415.6 84.5 L416.0 84.5 L416.0 82.4 L416.4 82.4 L416.4 80.3 L416.8 80.3 L416.8 78.2 L418.8 78.2 L418.8 76.1 L419.8 76.1 L419.8 74.0 L420.4 74.0 L420.4 71.8 L420.8 71.8 L420.8 69.7 L420.8 69.7 L420.8 67.6 L420.4 67.6 L420.4 65.5 L422.0 65.5 L422.0 63.4 L423.1 63.4 L423.1 61.2 L422.4 61.2 L422.4 59.1 L424.2 59.1 L424.2 56.9 L424.9 56.9 L424.9 54.8 L425.7 54.8 L425.7 52.7 L425.1 52.7 L425.1 50.5 L426.1 50.5 L426.1 48.4 L426.9 48.4 L426.9 46.2 L427.0 46.2 L427.0 44.1 L429.7 44.1 L429.7 42.0 L428.8 42.0 L428.8 39.8 L430.1 39.8 L430.1 37.7 L430.4 37.7 L430.4 35.6 L432.4 35.6 L432.4 33.5 L432.9 33.5 L432.9 31.4 L433.2 31.4 L433.2 29.2 L431.9 29.2 L431.9 27.1 L434.6 27.1 L434.6 25.2 L436.6 25.2 L436.6 23.7 L438.4 23.7 L438.4 22.1 L439.3 22.1 L439.3 20.5" fill="none" stroke="#2a7ab8" stroke-width="1.9" stroke-linejoin="round" />
<text x="377.0" y="75.3" font-size="14.5" text-anchor="middle" fill="#de6a36" color="#de6a36" >SUB</text>
<text x="437.5" y="80.8" font-size="14.5" text-anchor="middle" fill="#2a7ab8" color="#2a7ab8" >CA1</text>
<text x="457.5" y="121.5" font-size="12" text-anchor="end" fill="#262626"><tspan font-style="italic">P</tspan> &lt; 0.0001</text>
<text x="577.2" y="121.5" font-size="12" text-anchor="end" fill="#262626"><tspan font-style="italic">P</tspan> &lt; 0.0001</text>
<text x="713.1" y="121.5" font-size="12" text-anchor="end" fill="#262626"><tspan font-style="italic">P</tspan> &lt; 0.0001</text>
<text x="848.6" y="121.5" font-size="12" text-anchor="end" fill="#262626"><tspan font-style="italic">P</tspan> = 0.33</text>
<text x="983.1" y="121.5" font-size="12" text-anchor="end" fill="#262626"><tspan font-style="italic">P</tspan> = 0.61</text>
<text x="359.0" y="147.5" font-size="13.5" text-anchor="middle" fill="#262626" color="#262626">10<tspan font-size="9.3" dy="-6.5">&#8722;2</tspan></text>
<text x="390.0" y="147.5" font-size="13.5" text-anchor="middle" fill="#262626" color="#262626">10<tspan font-size="9.3" dy="-6.5">&#8722;1</tspan></text>
<text x="420.5" y="147.5" font-size="13.5" text-anchor="middle" fill="#262626" color="#262626">10<tspan font-size="9.3" dy="-6.5">0</tspan></text>
<text x="390" y="168.3" font-size="14.5" text-anchor="middle" fill="#262626"><tspan font-style="italic">I</tspan><tspan font-size="10" dy="3">spike</tspan><tspan dy="-3"> (bits/spike)</tspan></text>
<path d="M473.7 125.8 L476.0 125.8 L476.0 125.5 L478.1 125.5 L478.1 125.2 L480.9 125.2 L480.9 125.0 L482.8 125.0 L482.8 124.7 L484.6 124.7 L484.6 124.4 L487.4 124.4 L487.4 124.1 L490.1 124.1 L490.1 123.3 L491.6 123.3 L491.6 121.8 L492.1 121.8 L492.1 120.4 L493.3 120.4 L493.3 118.7 L494.7 118.7 L494.7 116.7 L496.2 116.7 L496.2 114.7 L495.5 114.7 L495.5 112.7 L498.0 112.7 L498.0 110.6 L498.3 110.6 L498.3 108.6 L499.8 108.6 L499.8 106.6 L501.0 106.6 L501.0 104.7 L502.3 104.7 L502.3 102.7 L504.0 102.7 L504.0 100.7 L505.5 100.7 L505.5 98.8 L505.8 98.8 L505.8 96.8 L508.0 96.8 L508.0 94.8 L507.7 94.8 L507.7 92.9 L509.6 92.9 L509.6 90.9 L511.1 90.9 L511.1 89.0 L511.6 89.0 L511.6 87.0 L512.2 87.0 L512.2 85.0 L513.2 85.0 L513.2 83.1 L514.7 83.1 L514.7 81.1 L516.3 81.1 L516.3 79.2 L516.6 79.2 L516.6 77.2 L518.3 77.2 L518.3 75.3 L519.6 75.3 L519.6 73.4 L521.8 73.4 L521.8 71.9 L523.3 71.9 L523.3 70.4 L525.1 70.4 L525.1 68.9 L526.1 68.9 L526.1 67.4 L527.6 67.4 L527.6 65.5 L529.3 65.5 L529.3 63.5 L530.9 63.5 L530.9 61.5 L530.0 61.5 L530.0 59.5 L533.0 59.5 L533.0 57.5 L534.0 57.5 L534.0 55.5 L534.6 55.5 L534.6 53.6 L535.0 53.6 L535.0 51.4 L535.3 51.4 L535.3 49.3 L537.2 49.3 L537.2 47.1 L538.3 47.1 L538.3 45.0 L538.9 45.0 L538.9 42.8 L539.3 42.8 L539.3 40.7 L539.3 40.7 L539.3 38.5 L539.1 38.5 L539.1 36.5 L541.4 36.5 L541.4 34.7 L543.2 34.7 L543.2 32.9 L543.2 32.9 L543.2 31.1 L545.8 31.1 L545.8 29.3 L547.4 29.3 L547.4 27.7 L549.2 27.7 L549.2 26.1 L549.5 26.1 L549.5 24.5 L551.8 24.5 L551.8 23.5 L554.1 23.5 L554.1 22.7 L555.7 22.7 L555.7 21.8 L559.8 21.8 L559.8 21.0 L560.7 21.0 L560.7 20.1" fill="none" stroke="#2a7ab8" stroke-width="1.9" stroke-linejoin="round" />
<path d="M493.8 125.8 L495.8 125.8 L495.8 124.6 L497.5 124.6 L497.5 123.4 L499.9 123.4 L499.9 122.2 L501.4 122.2 L501.4 121.0 L502.9 121.0 L502.9 119.8 L505.4 119.8 L505.4 118.5 L507.9 118.5 L507.9 117.3 L509.5 117.3 L509.5 116.0 L510.2 116.0 L510.2 114.7 L511.6 114.7 L511.6 113.4 L513.9 113.4 L513.9 112.1 L516.2 112.1 L516.2 110.8 L516.3 110.8 L516.3 109.5 L519.5 109.5 L519.5 108.1 L519.8 108.1 L519.8 106.1 L521.1 106.1 L521.1 104.1 L522.3 104.1 L522.3 102.1 L523.4 102.1 L523.4 100.1 L525.0 100.1 L525.0 98.1 L526.4 98.1 L526.4 96.1 L526.6 96.1 L526.6 94.1 L528.8 94.1 L528.8 92.2 L528.7 92.2 L528.7 90.3 L530.6 90.3 L530.6 88.4 L532.2 88.4 L532.2 86.6 L532.9 86.6 L532.9 84.7 L533.6 84.7 L533.6 82.8 L534.4 82.8 L534.4 80.8 L535.6 80.8 L535.6 78.7 L537.0 78.7 L537.0 76.7 L537.1 76.7 L537.1 74.6 L538.5 74.6 L538.5 72.6 L539.5 72.6 L539.5 70.5 L540.9 70.5 L540.9 68.5 L541.6 68.5 L541.6 66.5 L542.5 66.5 L542.5 64.4 L542.6 64.4 L542.6 62.3 L543.7 62.3 L543.7 60.2 L545.1 60.2 L545.1 58.1 L546.4 58.1 L546.4 56.0 L545.3 56.0 L545.3 53.9 L548.0 53.9 L548.0 51.8 L548.4 51.8 L548.4 49.6 L548.6 49.6 L548.6 47.4 L548.8 47.4 L548.8 45.2 L548.9 45.2 L548.9 43.1 L550.7 43.1 L550.7 40.9 L551.6 40.9 L551.6 38.7 L552.0 38.7 L552.0 36.5 L552.2 36.5 L552.2 34.3 L552.0 34.3 L552.0 32.2 L551.5 32.2 L551.5 30.0 L554.0 30.0 L554.0 28.5 L556.2 28.5 L556.2 27.2 L556.7 27.2 L556.7 25.9 L559.6 25.9 L559.6 24.5 L561.6 24.5 L561.6 23.4 L563.8 23.4 L563.8 22.4 L564.5 22.4 L564.5 21.4 L566.9 21.4 L566.9 20.5 L569.3 20.5 L569.3 20.5 L571.0 20.5 L571.0 20.5 L575.3 20.5 L575.3 20.5 L576.3 20.5 L576.3 20.5" fill="none" stroke="#de6a36" stroke-width="1.9" stroke-linejoin="round" />
<text x="488.3" y="147.5" font-size="13.5" text-anchor="middle" fill="#262626" color="#262626">10<tspan font-size="9.3" dy="-6.5">&#8722;1</tspan></text>
<text x="515.3" y="147.5" font-size="13.5" text-anchor="middle" fill="#262626" color="#262626">10<tspan font-size="9.3" dy="-6.5">0</tspan></text>
<text x="543.4" y="147.5" font-size="13.5" text-anchor="middle" fill="#262626" color="#262626">10<tspan font-size="9.3" dy="-6.5">1</tspan></text>
<text x="573.1" y="147.5" font-size="13.5" text-anchor="middle" fill="#262626" color="#262626">10<tspan font-size="9.3" dy="-6.5">2</tspan></text>
<text x="525.5" y="168.3" font-size="14.5" text-anchor="middle" fill="#262626" color="#262626" >Mean rate (Hz)</text>
<path d="M608.7 125.8 L610.1 125.8 L610.1 124.0 L611.2 124.0 L611.2 122.2 L613.1 122.2 L613.1 120.4 L614.1 120.4 L614.1 118.6 L614.9 118.6 L614.9 116.8 L616.8 116.8 L616.8 114.9 L618.5 114.9 L618.5 112.9 L619.4 112.9 L619.4 111.0 L619.4 111.0 L619.4 109.1 L620.1 109.1 L620.1 107.1 L621.6 107.1 L621.6 105.2 L623.2 105.2 L623.2 103.2 L622.6 103.2 L622.6 101.2 L625.0 101.2 L625.0 99.2 L625.3 99.2 L625.3 97.2 L626.7 97.2 L626.7 95.2 L627.8 95.2 L627.8 93.2 L629.1 93.2 L629.1 91.3 L631.0 91.3 L631.0 89.6 L632.9 89.6 L632.9 87.8 L633.4 87.8 L633.4 86.1 L635.9 86.1 L635.9 84.3 L635.8 84.3 L635.8 82.5 L637.5 82.5 L637.5 80.5 L638.9 80.5 L638.9 78.5 L639.3 78.5 L639.3 76.5 L639.7 76.5 L639.7 74.5 L641.2 74.5 L641.2 73.1 L643.6 73.1 L643.6 72.2 L646.1 72.2 L646.1 71.3 L647.3 71.3 L647.3 70.4 L649.7 70.4 L649.7 69.2 L651.3 69.2 L651.3 67.6 L653.3 67.6 L653.3 66.0 L654.7 66.0 L654.7 64.4 L655.9 64.4 L655.9 62.5 L656.3 62.5 L656.3 60.5 L657.7 60.5 L657.7 58.6 L659.5 58.6 L659.5 56.7 L661.1 56.7 L661.1 54.7 L660.3 54.7 L660.3 52.8 L663.2 52.8 L663.2 50.8 L663.9 50.8 L663.9 48.7 L664.3 48.7 L664.3 46.6 L664.8 46.6 L664.8 44.5 L665.2 44.5 L665.2 42.4 L667.3 42.4 L667.3 40.4 L668.5 40.4 L668.5 38.3 L669.2 38.3 L669.2 36.2 L669.7 36.2 L669.7 34.1 L670.3 34.1 L670.3 32.4 L670.8 32.4 L670.8 30.8 L673.2 30.8 L673.2 29.2 L675.3 29.2 L675.3 27.6 L675.5 27.6 L675.5 26.1 L678.3 26.1 L678.3 24.5 L680.1 24.5 L680.1 23.2 L682.2 23.2 L682.2 21.9 L682.7 21.9 L682.7 20.7 L685.3 20.7 L685.3 20.5 L687.7 20.5 L687.7 20.5 L690.2 20.5 L690.2 20.5" fill="none" stroke="#2a7ab8" stroke-width="1.9" stroke-linejoin="round" />
<path d="M608.7 125.8 L610.6 125.8 L610.6 124.5 L612.2 124.5 L612.2 123.1 L614.6 123.1 L614.6 121.8 L616.0 121.8 L616.0 120.4 L617.4 120.4 L617.4 119.1 L619.8 119.1 L619.8 117.7 L622.4 117.7 L622.4 116.5 L624.1 116.5 L624.1 115.4 L624.8 115.4 L624.8 114.2 L626.4 114.2 L626.4 113.0 L628.7 113.0 L628.7 111.8 L630.9 111.8 L630.9 110.3 L631.0 110.3 L631.0 108.8 L634.1 108.8 L634.1 107.4 L635.1 107.4 L635.1 105.9 L637.2 105.9 L637.2 104.4 L639.0 104.4 L639.0 103.0 L640.9 103.0 L640.9 101.5 L642.9 101.5 L642.9 99.8 L644.7 99.8 L644.7 98.0 L645.2 98.0 L645.2 96.2 L647.6 96.2 L647.6 94.4 L647.6 94.4 L647.6 92.6 L649.6 92.6 L649.6 90.8 L651.4 90.8 L651.4 89.0 L652.2 89.0 L652.2 87.2 L652.9 87.2 L652.9 85.3 L654.0 85.3 L654.0 83.4 L655.6 83.4 L655.6 81.6 L657.3 81.6 L657.3 79.7 L657.7 79.7 L657.7 77.8 L659.6 77.8 L659.6 76.0 L660.6 76.0 L660.6 73.9 L662.0 73.9 L662.0 71.9 L662.7 71.9 L662.7 69.8 L663.7 69.8 L663.7 67.8 L664.0 67.8 L664.0 65.7 L665.2 65.7 L665.2 63.6 L666.8 63.6 L666.8 61.6 L668.2 61.6 L668.2 59.5 L667.2 59.5 L667.2 57.5 L670.1 57.5 L670.1 55.4 L670.8 55.4 L670.8 53.3 L671.3 53.3 L671.3 51.2 L671.8 51.2 L671.8 49.1 L672.2 49.1 L672.2 47.0 L674.3 47.0 L674.3 45.0 L675.5 45.0 L675.5 42.9 L676.2 42.9 L676.2 40.8 L676.7 40.8 L676.7 38.7 L677.1 38.7 L677.1 36.7 L677.6 36.7 L677.6 35.1 L680.0 35.1 L680.0 33.5 L682.0 33.5 L682.0 31.9 L682.3 31.9 L682.3 30.3 L685.0 30.3 L685.0 28.7 L686.7 28.7 L686.7 27.1 L688.6 27.1 L688.6 25.6 L689.0 25.6 L689.0 24.1 L691.0 24.1 L691.0 22.6 L693.0 22.6 L693.0 21.4 L694.7 21.4 L694.7 21.3 L699.0 21.3 L699.0 21.2 L699.7 21.2 L699.7 21.1 L702.5 21.1 L702.5 20.9 L704.4 20.9 L704.4 20.8 L707.9 20.8 L707.9 20.7 L710.0 20.7 L710.0 20.6 L711.3 20.6 L711.3 20.5" fill="none" stroke="#de6a36" stroke-width="1.9" stroke-linejoin="round" />
<text x="607.5" y="147.5" font-size="13.5" text-anchor="middle" fill="#262626" color="#262626">10<tspan font-size="9.3" dy="-6.5">0</tspan></text>
<text x="654.4" y="147.5" font-size="13.5" text-anchor="middle" fill="#262626" color="#262626">10<tspan font-size="9.3" dy="-6.5">1</tspan></text>
<text x="702.6" y="147.5" font-size="13.5" text-anchor="middle" fill="#262626" color="#262626">10<tspan font-size="9.3" dy="-6.5">2</tspan></text>
<text x="661.0" y="168.3" font-size="14.5" text-anchor="middle" fill="#262626" color="#262626" >Peak rate (Hz)</text>
<path d="M744.1 125.4 C744.9 124.8 747.6 123.1 749.0 121.5 C750.4 119.9 751.3 118.2 752.4 115.9 C753.5 113.7 754.5 110.8 755.5 108.0 C756.5 105.2 757.1 104.2 758.6 99.3 C760.1 94.4 762.7 85.8 764.8 78.6 C766.9 71.4 768.9 62.4 771.0 55.9 C773.1 49.4 775.1 44.0 777.2 39.3 C779.3 34.6 781.4 30.8 783.5 27.9 C785.6 25.0 787.8 23.1 789.7 21.9 C791.6 20.7 792.2 20.8 795.0 20.5 C797.8 20.2 804.3 20.2 806.2 20.2" fill="none" stroke="#808080" stroke-width="1.8" stroke-linejoin="round" />
<line x1="793.40" y1="25.50" x2="793.40" y2="121.00" stroke="#777" stroke-width="1.7" stroke-dasharray="1.7 5.8"/>
<text x="793.3" y="16.0" font-size="12.5" text-anchor="middle" fill="#999999" color="#999999" >0.52</text>
<path d="M744.1 125.4 L746.4 125.4 L746.4 125.4 L748.5 125.4 L748.5 125.4 L751.3 125.4 L751.3 125.3 L753.2 125.3 L753.2 125.3 L755.0 125.3 L755.0 125.3 L757.8 125.3 L757.8 125.3 L760.7 125.3 L760.7 125.3 L762.7 125.3 L762.7 125.2 L763.8 125.2 L763.8 125.2 L765.7 125.2 L765.7 125.2 L768.2 125.2 L768.2 124.3 L770.6 124.3 L770.6 123.3 L771.0 123.3 L771.0 122.3 L774.5 122.3 L774.5 121.3 L775.7 121.3 L775.7 120.3 L777.6 120.3 L777.6 118.7 L778.9 118.7 L778.9 116.8 L780.4 116.8 L780.4 115.0 L782.1 115.0 L782.1 113.1 L783.8 113.1 L783.8 111.2 L784.2 111.2 L784.2 109.4 L786.5 109.4 L786.5 107.5 L785.9 107.5 L785.9 105.4 L787.4 105.4 L787.4 103.3 L788.5 103.3 L788.5 101.2 L788.8 101.2 L788.8 99.1 L789.0 99.1 L789.0 97.0 L789.6 97.0 L789.6 94.9 L790.7 94.9 L790.7 92.8 L792.0 92.8 L792.0 90.7 L791.9 90.7 L791.9 88.5 L793.2 88.5 L793.2 86.4 L794.0 86.4 L794.0 84.3 L795.3 84.3 L795.3 82.2 L795.8 82.2 L795.8 80.1 L796.7 80.1 L796.7 78.0 L796.8 78.0 L796.8 75.9 L797.9 75.9 L797.9 73.8 L799.3 73.8 L799.3 71.7 L800.6 71.7 L800.6 69.6 L799.5 69.6 L799.5 67.5 L802.4 67.5 L802.4 65.4 L803.2 65.4 L803.2 63.4 L803.7 63.4 L803.7 61.3 L804.3 61.3 L804.3 59.3 L804.8 59.3 L804.8 57.3 L806.9 57.3 L806.9 55.2 L808.2 55.2 L808.2 53.2 L809.0 53.2 L809.0 51.1 L809.6 51.1 L809.6 49.1 L809.9 49.1 L809.9 47.0 L809.8 47.0 L809.8 45.0 L811.9 45.0 L811.9 43.2 L813.7 43.2 L813.7 41.4 L813.7 41.4 L813.7 39.6 L816.1 39.6 L816.1 37.7 L817.5 37.7 L817.5 35.9 L819.0 35.9 L819.0 34.1 L819.0 34.1 L819.0 32.3 L820.8 32.3 L820.8 30.5 L822.6 30.5 L822.6 29.0 L823.7 29.0 L823.7 27.5 L827.4 27.5 L827.4 26.0 L827.5 26.0 L827.5 24.5 L829.8 24.5 L829.8 23.0 L831.1 23.0 L831.1 21.7 L834.6 21.7 L834.6 21.3 L836.7 21.3 L836.7 21.0 L838.4 21.0 L838.4 20.7 L838.6 20.7 L838.6 20.4 L842.4 20.4 L842.4 20.1" fill="none" stroke="#2a7ab8" stroke-width="1.9" stroke-linejoin="round" />
<path d="M744.1 125.2 L746.4 125.2 L746.4 125.2 L748.5 125.2 L748.5 125.2 L751.3 125.2 L751.3 125.2 L753.2 125.2 L753.2 125.2 L755.0 125.2 L755.0 125.2 L757.9 125.2 L757.9 125.2 L760.8 125.2 L760.8 125.2 L762.4 125.2 L762.4 124.3 L763.0 124.3 L763.0 122.8 L764.3 122.8 L764.3 121.3 L766.4 121.3 L766.4 119.8 L768.6 119.8 L768.6 118.3 L768.7 118.3 L768.7 116.9 L772.0 116.9 L772.0 115.5 L773.0 115.5 L773.0 114.2 L775.2 114.2 L775.2 112.8 L777.1 112.8 L777.1 111.4 L778.6 111.4 L778.6 109.6 L780.6 109.6 L780.6 107.9 L782.4 107.9 L782.4 106.1 L783.0 106.1 L783.0 104.4 L785.5 104.4 L785.5 102.6 L785.3 102.6 L785.3 100.8 L787.1 100.8 L787.1 98.8 L788.5 98.8 L788.5 96.7 L788.9 96.7 L788.9 94.7 L789.3 94.7 L789.3 92.7 L790.2 92.7 L790.2 90.7 L791.5 90.7 L791.5 88.7 L792.8 88.7 L792.8 86.6 L792.8 86.6 L792.8 84.5 L794.2 84.5 L794.2 82.4 L795.1 82.4 L795.1 80.3 L796.4 80.3 L796.4 78.2 L797.0 78.2 L797.0 76.1 L798.0 76.1 L798.0 74.0 L798.1 74.0 L798.1 71.9 L799.3 71.9 L799.3 69.8 L800.8 69.8 L800.8 67.7 L802.2 67.7 L802.2 65.7 L801.2 65.7 L801.2 63.6 L804.1 63.6 L804.1 61.6 L804.9 61.6 L804.9 59.5 L805.4 59.5 L805.4 57.5 L806.0 57.5 L806.0 55.4 L806.5 55.4 L806.5 53.4 L808.7 53.4 L808.7 51.3 L810.0 51.3 L810.0 49.3 L810.8 49.3 L810.8 47.2 L811.4 47.2 L811.4 45.2 L812.1 45.2 L812.1 43.3 L812.3 43.3 L812.3 41.5 L814.5 41.5 L814.5 39.7 L816.2 39.7 L816.2 37.9 L816.2 37.9 L816.2 36.0 L818.7 36.0 L818.7 34.2 L820.0 34.2 L820.0 32.4 L821.6 32.4 L821.6 30.6 L822.0 30.6 L822.0 29.1 L824.0 29.1 L824.0 27.6 L825.9 27.6 L825.9 26.1 L827.0 26.1 L827.0 24.6 L830.7 24.6 L830.7 23.1 L830.9 23.1 L830.9 21.7 L833.7 21.7 L833.7 21.4 L835.5 21.4 L835.5 21.0 L839.0 21.0 L839.0 20.7 L841.1 20.7 L841.1 20.4 L842.4 20.4 L842.4 20.1" fill="none" stroke="#de6a36" stroke-width="1.9" stroke-linejoin="round" />
<text x="768.7" y="147.5" font-size="13.5" text-anchor="middle" fill="#262626" color="#262626">10<tspan font-size="9.3" dy="-6.5">&#8722;1</tspan></text>
<text x="803.7" y="147.5" font-size="13.5" text-anchor="middle" fill="#262626" color="#262626">10<tspan font-size="9.3" dy="-6.5">0</tspan></text>
<text x="837.5" y="147.5" font-size="13.5" text-anchor="middle" fill="#262626" color="#262626">10<tspan font-size="9.3" dy="-6.5">1</tspan></text>
<text x="797" y="168.3" font-size="14.5" text-anchor="middle" fill="#262626"><tspan font-style="italic">I</tspan><tspan font-size="10" dy="3">sec</tspan><tspan dy="-3"> (bits/s)</tspan></text>
<path d="M886.0 125.8 L888.3 125.8 L888.3 125.8 L890.4 125.8 L890.4 125.8 L893.2 125.8 L893.2 125.8 L895.0 125.8 L895.0 125.8 L896.8 125.8 L896.8 125.8 L899.7 125.8 L899.7 125.8 L902.6 125.8 L902.6 125.8 L904.6 125.8 L904.6 125.8 L905.6 125.8 L905.6 125.8 L907.4 125.8 L907.4 125.6 L909.9 125.6 L909.9 124.6 L912.4 124.6 L912.4 123.6 L912.7 123.6 L912.7 122.6 L916.2 122.6 L916.2 121.6 L917.5 121.6 L917.5 120.6 L919.8 120.6 L919.8 119.6 L921.6 119.6 L921.6 118.2 L923.4 118.2 L923.4 116.6 L925.5 116.6 L925.5 115.1 L927.5 115.1 L927.5 113.5 L928.3 113.5 L928.3 111.9 L930.9 111.9 L930.9 110.3 L930.6 110.3 L930.6 108.4 L932.4 108.4 L932.4 106.5 L933.9 106.5 L933.9 104.5 L934.4 104.5 L934.4 102.6 L935.0 102.6 L935.0 100.6 L935.9 100.6 L935.9 98.7 L937.2 98.7 L937.2 96.7 L938.5 96.7 L938.5 94.6 L938.4 94.6 L938.4 92.5 L939.7 92.5 L939.7 90.4 L940.5 90.4 L940.5 88.3 L941.8 88.3 L941.8 86.2 L942.3 86.2 L942.3 84.1 L943.2 84.1 L943.2 82.0 L943.2 82.0 L943.2 79.8 L944.3 79.8 L944.3 77.7 L945.9 77.7 L945.9 75.7 L947.3 75.7 L947.3 73.7 L946.3 73.7 L946.3 71.6 L949.1 71.6 L949.1 69.6 L949.9 69.6 L949.9 67.5 L950.4 67.5 L950.4 65.5 L951.0 65.5 L951.0 63.4 L951.5 63.4 L951.5 61.4 L953.8 61.4 L953.8 59.4 L955.2 59.4 L955.2 57.5 L956.2 57.5 L956.2 55.5 L956.9 55.5 L956.9 53.6 L957.3 53.6 L957.3 51.6 L957.3 51.6 L957.3 49.6 L959.2 49.6 L959.2 47.7 L960.8 47.7 L960.8 45.7 L960.4 45.7 L960.4 43.7 L962.5 43.7 L962.5 41.7 L963.4 41.7 L963.4 39.6 L964.5 39.6 L964.5 37.6 L964.0 37.6 L964.0 35.5 L965.3 35.5 L965.3 33.5 L966.4 33.5 L966.4 31.4 L967.2 31.4 L967.2 29.6 L970.5 29.6 L970.5 27.8 L970.3 27.8 L970.3 26.0 L972.2 26.0 L972.2 24.2 L973.1 24.2 L973.1 22.4 L976.1 22.4 L976.1 21.2 L978.1 21.2 L978.1 20.9 L979.4 20.9 L979.4 20.5" fill="none" stroke="#2a7ab8" stroke-width="1.9" stroke-linejoin="round" />
<path d="M886.0 125.8 L888.3 125.8 L888.3 125.7 L890.4 125.7 L890.4 125.6 L893.2 125.6 L893.2 125.4 L895.1 125.4 L895.1 125.3 L896.8 125.3 L896.8 125.2 L899.7 125.2 L899.7 125.1 L902.6 125.1 L902.6 124.9 L904.4 124.9 L904.4 124.1 L905.2 124.1 L905.2 123.0 L906.7 123.0 L906.7 121.8 L909.1 121.8 L909.1 120.7 L911.5 120.7 L911.5 119.5 L911.9 119.5 L911.9 118.6 L915.4 118.6 L915.4 117.7 L916.8 117.7 L916.8 116.8 L919.2 116.8 L919.2 115.9 L921.4 115.9 L921.4 115.1 L923.6 115.1 L923.6 114.2 L925.9 114.2 L925.9 112.8 L927.9 112.8 L927.9 111.2 L928.7 111.2 L928.7 109.6 L931.3 109.6 L931.3 108.1 L931.4 108.1 L931.4 106.4 L933.0 106.4 L933.0 104.4 L934.3 104.4 L934.3 102.3 L934.6 102.3 L934.6 100.2 L934.9 100.2 L934.9 98.2 L935.7 98.2 L935.7 96.1 L936.9 96.1 L936.9 94.0 L938.3 94.0 L938.3 92.0 L938.3 92.0 L938.3 89.9 L939.8 89.9 L939.8 87.9 L940.7 87.9 L940.7 85.8 L942.1 85.8 L942.1 83.8 L942.8 83.8 L942.8 81.7 L943.8 81.7 L943.8 79.6 L944.0 79.6 L944.0 77.6 L945.3 77.6 L945.3 75.5 L946.9 75.5 L946.9 73.5 L948.3 73.5 L948.3 71.4 L947.3 71.4 L947.3 69.4 L950.1 69.4 L950.1 67.3 L950.9 67.3 L950.9 65.3 L951.5 65.3 L951.5 63.2 L952.0 63.2 L952.0 61.2 L952.7 61.2 L952.7 59.2 L955.0 59.2 L955.0 57.3 L956.5 57.3 L956.5 55.3 L957.5 55.3 L957.5 53.4 L958.3 53.4 L958.3 51.4 L958.7 51.4 L958.7 49.4 L958.7 49.4 L958.7 47.5 L960.6 47.5 L960.6 45.5 L962.0 45.5 L962.0 43.5 L961.7 43.5 L961.7 41.4 L963.8 41.4 L963.8 39.4 L964.9 39.4 L964.9 37.4 L966.0 37.4 L966.0 35.4 L965.7 35.4 L965.7 33.4 L967.8 33.4 L967.8 32.0 L969.7 32.0 L969.7 30.6 L971.0 30.6 L971.0 29.2 L974.8 29.2 L974.8 27.8 L975.0 27.8 L975.0 26.4 L977.4 26.4 L977.4 25.2 L978.9 25.2 L978.9 24.0 L982.2 24.0 L982.2 22.8 L983.9 22.8 L983.9 21.7 L984.9 21.7 L984.9 20.5" fill="none" stroke="#de6a36" stroke-width="1.9" stroke-linejoin="round" />
<text x="880.0" y="147.5" font-size="13.5" text-anchor="middle" fill="#262626" color="#262626">10<tspan font-size="9.3" dy="-6.5">&#8722;2</tspan></text>
<text x="931.2" y="147.5" font-size="13.5" text-anchor="middle" fill="#262626" color="#262626">10<tspan font-size="9.3" dy="-6.5">&#8722;1</tspan></text>
<text x="982.5" y="147.5" font-size="13.5" text-anchor="middle" fill="#262626" color="#262626">10<tspan font-size="9.3" dy="-6.5">0</tspan></text>
<text x="932.0" y="168.3" font-size="14.5" text-anchor="middle" fill="#262626" color="#262626" >Mutual info. (bits)</text>
<text x="286" y="205" font-size="17" font-weight="bold" fill="#000" color="#000">G</text>
<rect x="337" y="200.4" width="80" height="80" fill="#050000"/>
<rect x="421.3" y="200.4" width="80" height="80" fill="#050000"/>
<rect x="507" y="200.4" width="80" height="80" fill="#050000"/>
<rect x="337" y="296" width="80" height="80" fill="#050000"/>
<rect x="421.3" y="296" width="80" height="80" fill="#050000"/>
<rect x="507" y="296" width="80" height="80" fill="#050000"/>
<g clip-path="url(#gc00)">
<path d="M337.0 279.4 L339.0 278.4 L348.5 272.8 L353.0 264.4 L360.0 257.4 L360.0 253.4 L375.6 251.8 L381.0 243.0 L385.0 229.4 L392.0 226.4 L394.5 216.4 L401.0 217.4 L401.0 208.4 L417.0 205.4" fill="none" stroke="#480000" stroke-width="10" stroke-linejoin="round" filter="url(#gb1)"/>
<path d="M337.0 279.4 L339.0 278.4 L348.5 272.8 L353.0 264.4 L360.0 257.4 L360.0 253.4 L375.6 251.8 L381.0 243.0 L385.0 229.4 L392.0 226.4 L394.5 216.4 L401.0 217.4 L401.0 208.4 L417.0 205.4" fill="none" stroke="#b01000" stroke-width="3.6" stroke-linejoin="round" filter="url(#gb2)"/>
<g filter="url(#gb2)"><ellipse cx="337.0" cy="279.8" rx="1.5" ry="1.1" fill="#e02800"/><ellipse cx="338.5" cy="278.0" rx="2.4" ry="1.2" fill="#e02800"/><ellipse cx="343.4" cy="276.7" rx="1.8" ry="1.2" fill="#ff5000"/><ellipse cx="346.4" cy="272.7" rx="2.1" ry="1.5" fill="#e02800"/><ellipse cx="345.7" cy="272.6" rx="1.2" ry="0.9" fill="#ffb030"/><ellipse cx="349.6" cy="266.7" rx="2.1" ry="1.2" fill="#e02800"/><ellipse cx="349.3" cy="266.6" rx="2.2" ry="1.0" fill="#ff5000"/><ellipse cx="351.8" cy="264.4" rx="1.3" ry="1.1" fill="#e02800"/><ellipse cx="355.4" cy="262.2" rx="2.1" ry="1.3" fill="#e02800"/><ellipse cx="355.4" cy="261.1" rx="2.5" ry="1.1" fill="#ffb030"/><ellipse cx="360.9" cy="255.9" rx="1.6" ry="1.0" fill="#ff8000"/><ellipse cx="361.0" cy="254.3" rx="2.0" ry="1.3" fill="#ffe070"/><ellipse cx="362.6" cy="252.5" rx="1.8" ry="1.0" fill="#ff5000"/><ellipse cx="365.2" cy="254.1" rx="1.4" ry="1.3" fill="#ffe070"/><ellipse cx="369.6" cy="249.7" rx="1.3" ry="1.4" fill="#e02800"/><ellipse cx="372.9" cy="251.7" rx="1.3" ry="1.0" fill="#ffb030"/><ellipse cx="374.6" cy="251.4" rx="2.5" ry="1.3" fill="#ff5000"/><ellipse cx="375.5" cy="249.4" rx="1.5" ry="0.9" fill="#ff8000"/><ellipse cx="378.7" cy="247.6" rx="1.6" ry="1.4" fill="#ffb030"/><ellipse cx="381.3" cy="242.0" rx="1.3" ry="1.5" fill="#ff5000"/><ellipse cx="381.2" cy="239.6" rx="2.5" ry="1.1" fill="#ffb030"/><ellipse cx="381.7" cy="238.0" rx="1.9" ry="1.4" fill="#ff8000"/><ellipse cx="384.5" cy="235.3" rx="1.1" ry="1.4" fill="#ffe070"/><ellipse cx="382.9" cy="231.9" rx="2.4" ry="0.9" fill="#ff8000"/><ellipse cx="386.1" cy="228.2" rx="2.3" ry="1.0" fill="#ffb030"/><ellipse cx="389.5" cy="224.7" rx="1.7" ry="1.5" fill="#ff5000"/><ellipse cx="390.8" cy="227.5" rx="2.6" ry="1.2" fill="#ff5000"/><ellipse cx="394.8" cy="223.2" rx="2.5" ry="1.3" fill="#ffb030"/><ellipse cx="395.1" cy="219.4" rx="1.8" ry="1.5" fill="#e02800"/><ellipse cx="392.6" cy="218.8" rx="2.6" ry="1.1" fill="#ffb030"/><ellipse cx="396.1" cy="216.3" rx="2.1" ry="1.5" fill="#e02800"/><ellipse cx="399.8" cy="216.9" rx="1.2" ry="1.0" fill="#ff5000"/><ellipse cx="400.1" cy="213.4" rx="2.1" ry="1.2" fill="#ff5000"/><ellipse cx="399.0" cy="211.3" rx="2.6" ry="1.2" fill="#ff8000"/><ellipse cx="401.0" cy="208.5" rx="1.2" ry="1.1" fill="#ff5000"/><ellipse cx="404.0" cy="206.2" rx="1.3" ry="1.4" fill="#e02800"/><ellipse cx="407.8" cy="207.1" rx="2.6" ry="0.9" fill="#ffb030"/><ellipse cx="410.2" cy="206.4" rx="1.5" ry="1.0" fill="#ff5000"/><ellipse cx="414.3" cy="205.2" rx="1.4" ry="1.3" fill="#ffb030"/><ellipse cx="416.8" cy="206.2" rx="2.0" ry="1.4" fill="#ffe070"/></g>
<circle cx="353.8" cy="269.2" r="1.1" fill="#f4f0f0"/>
<circle cx="357.9" cy="263.9" r="1.1" fill="#f4f0f0"/>
<circle cx="363.3" cy="259.0" r="1.1" fill="#f4f0f0"/>
<circle cx="368.6" cy="254.4" r="1.1" fill="#f4f0f0"/>
<circle cx="371.6" cy="247.9" r="1.1" fill="#f4f0f0"/>
<circle cx="377.1" cy="243.3" r="1.1" fill="#f4f0f0"/>
<circle cx="381.3" cy="239.4" r="1.1" fill="#f4f0f0"/>
<circle cx="385.0" cy="233.0" r="1.1" fill="#f4f0f0"/>
<circle cx="390.5" cy="229.1" r="1.1" fill="#f4f0f0"/>
<circle cx="394.8" cy="224.2" r="1.1" fill="#f4f0f0"/>
<circle cx="399.0" cy="218.6" r="1.1" fill="#f4f0f0"/>
<circle cx="403.9" cy="213.9" r="1.1" fill="#f4f0f0"/>
</g>
<g clip-path="url(#gc01)">
<path d="M421.3 279.4 L424.3 277.4 L429.3 270.4 L434.3 262.4 L437.3 260.4 L447.3 260.4 L450.3 252.4 L458.3 251.9 L461.3 242.4 L465.3 232.4 L477.3 232.4 L481.3 222.4 L487.3 218.4 L489.3 213.4 L501.3 212.4" fill="none" stroke="#480000" stroke-width="10" stroke-linejoin="round" filter="url(#gb1)"/>
<path d="M421.3 279.4 L424.3 277.4 L429.3 270.4 L434.3 262.4 L437.3 260.4 L447.3 260.4 L450.3 252.4 L458.3 251.9 L461.3 242.4 L465.3 232.4 L477.3 232.4 L481.3 222.4 L487.3 218.4 L489.3 213.4 L501.3 212.4" fill="none" stroke="#b01000" stroke-width="3.6" stroke-linejoin="round" filter="url(#gb2)"/>
<g filter="url(#gb2)"><ellipse cx="419.0" cy="280.1" rx="2.4" ry="1.4" fill="#e02800"/><ellipse cx="422.9" cy="276.3" rx="2.5" ry="1.0" fill="#e02800"/><ellipse cx="426.3" cy="275.8" rx="2.0" ry="1.5" fill="#ff5000"/><ellipse cx="427.4" cy="272.8" rx="2.2" ry="1.0" fill="#ff8000"/><ellipse cx="429.2" cy="270.4" rx="2.4" ry="1.1" fill="#e02800"/><ellipse cx="427.9" cy="266.7" rx="1.5" ry="1.1" fill="#ff5000"/><ellipse cx="431.9" cy="267.0" rx="2.0" ry="1.1" fill="#e02800"/><ellipse cx="435.8" cy="262.7" rx="1.3" ry="1.0" fill="#ff5000"/><ellipse cx="437.9" cy="261.5" rx="1.6" ry="1.4" fill="#ff5000"/><ellipse cx="438.8" cy="261.9" rx="2.5" ry="1.1" fill="#ff8000"/><ellipse cx="441.0" cy="262.8" rx="2.3" ry="1.4" fill="#e02800"/><ellipse cx="446.4" cy="256.7" rx="1.9" ry="1.4" fill="#ff5000"/><ellipse cx="446.4" cy="258.5" rx="2.3" ry="1.4" fill="#ffb030"/><ellipse cx="449.0" cy="258.1" rx="2.1" ry="1.3" fill="#e02800"/><ellipse cx="452.2" cy="254.4" rx="2.3" ry="1.1" fill="#e02800"/><ellipse cx="452.9" cy="251.9" rx="2.3" ry="1.3" fill="#e02800"/><ellipse cx="456.5" cy="252.0" rx="1.2" ry="1.4" fill="#ff8000"/><ellipse cx="459.2" cy="251.5" rx="2.3" ry="1.1" fill="#ffb030"/><ellipse cx="460.6" cy="248.0" rx="1.3" ry="1.4" fill="#ff8000"/><ellipse cx="458.1" cy="245.2" rx="2.4" ry="1.5" fill="#e02800"/><ellipse cx="462.0" cy="244.8" rx="1.4" ry="1.2" fill="#ff5000"/><ellipse cx="462.6" cy="239.8" rx="2.6" ry="1.0" fill="#ff5000"/><ellipse cx="463.1" cy="236.6" rx="1.2" ry="1.1" fill="#ff8000"/><ellipse cx="463.1" cy="235.9" rx="1.2" ry="1.5" fill="#ff8000"/><ellipse cx="466.9" cy="233.2" rx="1.7" ry="1.0" fill="#ff5000"/><ellipse cx="467.8" cy="232.5" rx="1.4" ry="1.4" fill="#ff5000"/><ellipse cx="471.5" cy="231.7" rx="1.5" ry="1.2" fill="#e02800"/><ellipse cx="476.2" cy="232.0" rx="2.0" ry="1.1" fill="#e02800"/><ellipse cx="478.6" cy="233.6" rx="1.3" ry="1.0" fill="#ff5000"/><ellipse cx="479.6" cy="225.4" rx="2.7" ry="1.0" fill="#ff5000"/><ellipse cx="480.0" cy="222.8" rx="1.2" ry="1.1" fill="#e02800"/><ellipse cx="484.5" cy="222.7" rx="1.8" ry="1.4" fill="#ff5000"/><ellipse cx="483.6" cy="219.1" rx="2.2" ry="1.4" fill="#e02800"/><ellipse cx="487.9" cy="220.5" rx="1.4" ry="1.4" fill="#ff8000"/><ellipse cx="487.5" cy="216.0" rx="1.6" ry="1.5" fill="#ffb030"/><ellipse cx="488.9" cy="213.9" rx="2.6" ry="1.2" fill="#ff5000"/><ellipse cx="492.4" cy="213.7" rx="2.2" ry="1.3" fill="#e02800"/><ellipse cx="493.5" cy="211.6" rx="2.2" ry="1.4" fill="#ff8000"/><ellipse cx="500.1" cy="213.5" rx="2.0" ry="1.4" fill="#ff5000"/><ellipse cx="499.7" cy="216.0" rx="2.6" ry="1.2" fill="#ff5000"/></g>
<circle cx="433.3" cy="273.2" r="1.1" fill="#f4f0f0"/>
<circle cx="438.8" cy="268.2" r="1.1" fill="#f4f0f0"/>
<circle cx="444.1" cy="262.0" r="1.1" fill="#f4f0f0"/>
<circle cx="450.6" cy="254.7" r="1.1" fill="#f4f0f0"/>
<circle cx="456.0" cy="248.7" r="1.1" fill="#f4f0f0"/>
<circle cx="461.9" cy="242.4" r="1.1" fill="#f4f0f0"/>
<circle cx="467.3" cy="236.3" r="1.1" fill="#f4f0f0"/>
<circle cx="473.0" cy="229.5" r="1.1" fill="#f4f0f0"/>
<circle cx="479.2" cy="224.3" r="1.1" fill="#f4f0f0"/>
<circle cx="484.2" cy="217.6" r="1.1" fill="#f4f0f0"/>
<circle cx="490.4" cy="210.9" r="1.1" fill="#f4f0f0"/>
<circle cx="496.9" cy="204.8" r="1.1" fill="#f4f0f0"/>
</g>
<g clip-path="url(#gc02)">
<path d="M507.0 279.4 L509.4 277.2 L517.3 266.1 L522.0 257.4 L539.0 257.4 L542.6 242.4 L543.0 231.4 L557.0 231.4 L559.0 218.4 L577.0 215.4 L577.0 207.4 L587.0 207.4" fill="none" stroke="#480000" stroke-width="10" stroke-linejoin="round" filter="url(#gb1)"/>
<path d="M507.0 279.4 L509.4 277.2 L517.3 266.1 L522.0 257.4 L539.0 257.4 L542.6 242.4 L543.0 231.4 L557.0 231.4 L559.0 218.4 L577.0 215.4 L577.0 207.4 L587.0 207.4" fill="none" stroke="#b01000" stroke-width="3.6" stroke-linejoin="round" filter="url(#gb2)"/>
<g filter="url(#gb2)"><ellipse cx="509.1" cy="278.3" rx="2.1" ry="1.1" fill="#e02800"/><ellipse cx="510.3" cy="276.8" rx="1.7" ry="1.2" fill="#e02800"/><ellipse cx="511.3" cy="274.3" rx="2.4" ry="1.1" fill="#ff8000"/><ellipse cx="511.1" cy="272.4" rx="2.2" ry="0.9" fill="#ff8000"/><ellipse cx="515.6" cy="270.2" rx="2.0" ry="1.3" fill="#ffb030"/><ellipse cx="515.8" cy="266.4" rx="1.4" ry="1.1" fill="#ff8000"/><ellipse cx="518.0" cy="263.5" rx="1.7" ry="1.2" fill="#ffe070"/><ellipse cx="518.1" cy="262.5" rx="2.5" ry="1.1" fill="#ffe070"/><ellipse cx="522.9" cy="257.5" rx="2.2" ry="0.9" fill="#ff8000"/><ellipse cx="524.6" cy="255.5" rx="2.4" ry="1.4" fill="#ff8000"/><ellipse cx="527.5" cy="256.9" rx="1.7" ry="1.2" fill="#ff8000"/><ellipse cx="531.4" cy="258.9" rx="2.3" ry="0.9" fill="#e02800"/><ellipse cx="535.0" cy="259.3" rx="1.2" ry="1.3" fill="#ff8000"/><ellipse cx="536.5" cy="256.1" rx="2.1" ry="1.1" fill="#ff8000"/><ellipse cx="538.4" cy="253.2" rx="1.4" ry="1.5" fill="#e02800"/><ellipse cx="540.6" cy="248.9" rx="1.2" ry="1.2" fill="#ff5000"/><ellipse cx="541.5" cy="245.2" rx="1.3" ry="1.1" fill="#ff5000"/><ellipse cx="542.1" cy="242.3" rx="2.2" ry="1.3" fill="#ffe070"/><ellipse cx="543.0" cy="239.9" rx="1.5" ry="1.2" fill="#ff8000"/><ellipse cx="542.0" cy="236.1" rx="2.1" ry="1.0" fill="#ff8000"/><ellipse cx="542.7" cy="232.5" rx="2.6" ry="0.9" fill="#ff5000"/><ellipse cx="544.0" cy="231.5" rx="1.1" ry="1.2" fill="#ff8000"/><ellipse cx="548.8" cy="231.2" rx="1.4" ry="1.3" fill="#e02800"/><ellipse cx="552.2" cy="231.7" rx="1.4" ry="1.5" fill="#e02800"/><ellipse cx="554.7" cy="232.3" rx="2.2" ry="1.3" fill="#ff5000"/><ellipse cx="558.0" cy="231.6" rx="2.5" ry="1.0" fill="#ffe070"/><ellipse cx="559.1" cy="226.4" rx="2.6" ry="1.5" fill="#e02800"/><ellipse cx="556.4" cy="222.3" rx="2.0" ry="1.5" fill="#e02800"/><ellipse cx="561.2" cy="222.0" rx="1.1" ry="1.3" fill="#ffb030"/><ellipse cx="560.0" cy="218.7" rx="2.3" ry="1.1" fill="#e02800"/><ellipse cx="563.3" cy="217.4" rx="1.6" ry="1.2" fill="#ff5000"/><ellipse cx="568.3" cy="216.5" rx="2.2" ry="1.4" fill="#e02800"/><ellipse cx="571.9" cy="216.3" rx="1.5" ry="1.0" fill="#e02800"/><ellipse cx="573.6" cy="214.6" rx="1.5" ry="1.5" fill="#ff5000"/><ellipse cx="577.5" cy="213.7" rx="2.4" ry="1.0" fill="#ff5000"/><ellipse cx="576.8" cy="211.9" rx="2.5" ry="1.0" fill="#ffb030"/><ellipse cx="577.4" cy="208.1" rx="1.6" ry="1.3" fill="#ffb030"/><ellipse cx="581.4" cy="210.1" rx="2.3" ry="1.3" fill="#ff5000"/><ellipse cx="585.5" cy="207.4" rx="2.2" ry="1.1" fill="#e02800"/><ellipse cx="586.7" cy="208.5" rx="1.4" ry="1.3" fill="#e02800"/></g>
<circle cx="523.0" cy="267.4" r="1.1" fill="#f4f0f0"/>
<circle cx="527.0" cy="263.2" r="1.1" fill="#f4f0f0"/>
<circle cx="532.9" cy="257.9" r="1.1" fill="#f4f0f0"/>
<circle cx="537.3" cy="253.1" r="1.1" fill="#f4f0f0"/>
<circle cx="542.4" cy="248.1" r="1.1" fill="#f4f0f0"/>
<circle cx="547.0" cy="242.1" r="1.1" fill="#f4f0f0"/>
<circle cx="552.5" cy="237.2" r="1.1" fill="#f4f0f0"/>
<circle cx="557.6" cy="232.6" r="1.1" fill="#f4f0f0"/>
<circle cx="561.8" cy="227.5" r="1.1" fill="#f4f0f0"/>
<circle cx="567.0" cy="222.9" r="1.1" fill="#f4f0f0"/>
<circle cx="571.8" cy="217.2" r="1.1" fill="#f4f0f0"/>
<circle cx="577.6" cy="213.5" r="1.1" fill="#f4f0f0"/>
</g>
<g clip-path="url(#gc10)">
<path d="M337.0 372.0 L339.4 371.0 L353.5 361.6 L367.7 352.2 L377.1 340.4 L388.9 321.5 L403.1 309.7 L414.9 297.9" fill="none" stroke="#480000" stroke-width="10" stroke-linejoin="round" filter="url(#gb1)"/>
<path d="M337.0 372.0 L339.4 371.0 L353.5 361.6 L367.7 352.2 L377.1 340.4 L388.9 321.5 L403.1 309.7 L414.9 297.9" fill="none" stroke="#b01000" stroke-width="3.6" stroke-linejoin="round" filter="url(#gb2)"/>
<g filter="url(#gb2)"><ellipse cx="339.8" cy="372.1" rx="1.7" ry="1.4" fill="#ffb030"/><ellipse cx="338.2" cy="371.1" rx="1.9" ry="1.2" fill="#e02800"/><ellipse cx="339.9" cy="370.3" rx="1.7" ry="1.0" fill="#ff5000"/><ellipse cx="345.1" cy="367.3" rx="2.0" ry="1.3" fill="#ffe070"/><ellipse cx="345.1" cy="367.8" rx="2.0" ry="1.4" fill="#e02800"/><ellipse cx="348.6" cy="365.7" rx="1.9" ry="1.0" fill="#ffb030"/><ellipse cx="354.7" cy="364.5" rx="2.0" ry="1.3" fill="#ff5000"/><ellipse cx="353.2" cy="361.1" rx="2.0" ry="1.3" fill="#ff8000"/><ellipse cx="355.2" cy="362.7" rx="2.6" ry="1.0" fill="#e02800"/><ellipse cx="355.4" cy="359.4" rx="1.2" ry="1.1" fill="#e02800"/><ellipse cx="360.0" cy="354.6" rx="1.2" ry="1.0" fill="#ffe070"/><ellipse cx="362.0" cy="354.9" rx="1.8" ry="1.0" fill="#e02800"/><ellipse cx="366.7" cy="356.6" rx="1.3" ry="1.4" fill="#e02800"/><ellipse cx="365.8" cy="351.6" rx="2.5" ry="1.0" fill="#ff5000"/><ellipse cx="367.2" cy="350.6" rx="1.4" ry="1.0" fill="#ffb030"/><ellipse cx="370.3" cy="347.1" rx="1.3" ry="1.2" fill="#ff5000"/><ellipse cx="375.6" cy="347.7" rx="1.2" ry="1.1" fill="#ff5000"/><ellipse cx="374.5" cy="343.5" rx="2.3" ry="1.1" fill="#ff8000"/><ellipse cx="376.2" cy="339.9" rx="2.3" ry="1.1" fill="#ff8000"/><ellipse cx="377.6" cy="339.9" rx="2.6" ry="1.0" fill="#ffb030"/><ellipse cx="380.7" cy="337.1" rx="2.7" ry="1.3" fill="#ff5000"/><ellipse cx="381.0" cy="333.7" rx="1.2" ry="1.1" fill="#ff5000"/><ellipse cx="381.6" cy="332.9" rx="2.1" ry="0.9" fill="#e02800"/><ellipse cx="384.9" cy="329.2" rx="2.3" ry="1.3" fill="#ffb030"/><ellipse cx="382.4" cy="326.8" rx="1.8" ry="1.4" fill="#e02800"/><ellipse cx="387.2" cy="327.1" rx="1.8" ry="1.5" fill="#ff5000"/><ellipse cx="387.0" cy="320.8" rx="1.7" ry="1.1" fill="#ffe070"/><ellipse cx="390.0" cy="317.7" rx="1.7" ry="1.2" fill="#ff8000"/><ellipse cx="392.4" cy="319.6" rx="2.0" ry="1.3" fill="#e02800"/><ellipse cx="395.0" cy="317.5" rx="1.5" ry="1.1" fill="#ff5000"/><ellipse cx="396.9" cy="313.2" rx="2.1" ry="1.0" fill="#ff8000"/><ellipse cx="396.3" cy="312.9" rx="1.6" ry="1.3" fill="#e02800"/><ellipse cx="400.0" cy="312.3" rx="1.5" ry="1.1" fill="#ffb030"/><ellipse cx="406.6" cy="308.4" rx="2.2" ry="0.9" fill="#ff5000"/><ellipse cx="403.4" cy="307.1" rx="1.4" ry="1.5" fill="#ff5000"/><ellipse cx="406.3" cy="302.9" rx="2.6" ry="0.9" fill="#ffe070"/><ellipse cx="408.7" cy="301.4" rx="1.6" ry="1.1" fill="#e02800"/><ellipse cx="410.8" cy="300.6" rx="1.2" ry="1.0" fill="#ffb030"/><ellipse cx="411.8" cy="301.9" rx="2.6" ry="1.2" fill="#ff5000"/><ellipse cx="416.2" cy="297.1" rx="1.5" ry="1.5" fill="#ff5000"/></g>
<circle cx="348.7" cy="368.0" r="1.1" fill="#f4f0f0"/>
<circle cx="355.2" cy="362.3" r="1.1" fill="#f4f0f0"/>
<circle cx="360.8" cy="354.6" r="1.1" fill="#f4f0f0"/>
<circle cx="366.9" cy="349.2" r="1.1" fill="#f4f0f0"/>
<circle cx="373.1" cy="343.6" r="1.1" fill="#f4f0f0"/>
<circle cx="379.2" cy="337.0" r="1.1" fill="#f4f0f0"/>
<circle cx="384.4" cy="330.8" r="1.1" fill="#f4f0f0"/>
<circle cx="392.0" cy="324.5" r="1.1" fill="#f4f0f0"/>
<circle cx="397.1" cy="317.9" r="1.1" fill="#f4f0f0"/>
<circle cx="403.9" cy="311.1" r="1.1" fill="#f4f0f0"/>
<circle cx="408.9" cy="305.5" r="1.1" fill="#f4f0f0"/>
<circle cx="415.4" cy="298.8" r="1.1" fill="#f4f0f0"/>
</g>
<g clip-path="url(#gc11)">
<path d="M421.3 375.0 L423.9 373.4 L433.3 368.0 L444.3 364.0 L451.3 356.0 L459.3 348.0 L469.3 339.0 L479.3 327.0 L488.3 316.0 L494.8 309.0 L502.3 296.0" fill="none" stroke="#480000" stroke-width="10" stroke-linejoin="round" filter="url(#gb1)"/>
<path d="M421.3 375.0 L423.9 373.4 L433.3 368.0 L444.3 364.0 L451.3 356.0 L459.3 348.0 L469.3 339.0 L479.3 327.0 L488.3 316.0 L494.8 309.0 L502.3 296.0" fill="none" stroke="#b01000" stroke-width="3.6" stroke-linejoin="round" filter="url(#gb2)"/>
<g filter="url(#gb2)"><ellipse cx="421.7" cy="374.6" rx="2.5" ry="0.9" fill="#ff5000"/><ellipse cx="423.8" cy="374.7" rx="2.4" ry="1.2" fill="#e02800"/><ellipse cx="424.9" cy="372.2" rx="2.7" ry="1.0" fill="#e02800"/><ellipse cx="431.8" cy="370.2" rx="1.9" ry="0.9" fill="#ff8000"/><ellipse cx="433.7" cy="367.2" rx="1.9" ry="1.4" fill="#e02800"/><ellipse cx="434.4" cy="366.8" rx="2.6" ry="1.2" fill="#ff5000"/><ellipse cx="437.6" cy="366.0" rx="2.0" ry="0.9" fill="#ffe070"/><ellipse cx="439.9" cy="365.8" rx="2.6" ry="1.5" fill="#ff8000"/><ellipse cx="442.2" cy="366.3" rx="2.3" ry="1.2" fill="#e02800"/><ellipse cx="443.4" cy="365.0" rx="2.2" ry="1.0" fill="#ff5000"/><ellipse cx="448.2" cy="362.7" rx="1.2" ry="1.2" fill="#ffb030"/><ellipse cx="448.0" cy="359.3" rx="1.1" ry="1.2" fill="#ff5000"/><ellipse cx="450.9" cy="356.6" rx="2.2" ry="1.0" fill="#ff5000"/><ellipse cx="453.2" cy="355.7" rx="1.8" ry="1.4" fill="#ff8000"/><ellipse cx="453.8" cy="353.5" rx="2.3" ry="1.1" fill="#ff5000"/><ellipse cx="454.3" cy="348.9" rx="2.4" ry="1.2" fill="#ff5000"/><ellipse cx="459.1" cy="348.8" rx="1.5" ry="1.3" fill="#ff5000"/><ellipse cx="458.2" cy="347.0" rx="2.7" ry="1.4" fill="#ffe070"/><ellipse cx="462.3" cy="344.7" rx="1.4" ry="1.4" fill="#ffe070"/><ellipse cx="465.7" cy="342.9" rx="1.9" ry="1.1" fill="#ff5000"/><ellipse cx="468.0" cy="340.1" rx="2.6" ry="1.0" fill="#e02800"/><ellipse cx="469.7" cy="337.9" rx="1.4" ry="1.2" fill="#ff5000"/><ellipse cx="471.4" cy="336.5" rx="2.2" ry="1.1" fill="#ff5000"/><ellipse cx="473.2" cy="336.4" rx="1.5" ry="1.3" fill="#e02800"/><ellipse cx="474.8" cy="330.8" rx="1.9" ry="1.4" fill="#ff8000"/><ellipse cx="477.2" cy="326.5" rx="2.7" ry="0.9" fill="#ff5000"/><ellipse cx="478.5" cy="325.8" rx="1.4" ry="1.0" fill="#ff5000"/><ellipse cx="478.9" cy="323.0" rx="1.6" ry="1.0" fill="#ffb030"/><ellipse cx="481.8" cy="323.1" rx="1.3" ry="1.2" fill="#ffb030"/><ellipse cx="485.0" cy="320.7" rx="1.7" ry="1.2" fill="#e02800"/><ellipse cx="485.6" cy="318.4" rx="2.3" ry="1.1" fill="#e02800"/><ellipse cx="491.3" cy="312.6" rx="1.8" ry="1.4" fill="#ff8000"/><ellipse cx="489.8" cy="312.8" rx="1.9" ry="1.4" fill="#e02800"/><ellipse cx="494.5" cy="309.5" rx="2.6" ry="1.1" fill="#ff5000"/><ellipse cx="493.8" cy="307.8" rx="2.6" ry="0.9" fill="#ffe070"/><ellipse cx="494.8" cy="304.1" rx="1.9" ry="0.9" fill="#ff5000"/><ellipse cx="497.0" cy="304.4" rx="1.6" ry="1.3" fill="#ff8000"/><ellipse cx="500.6" cy="302.7" rx="2.0" ry="0.9" fill="#ff8000"/><ellipse cx="498.6" cy="300.6" rx="2.5" ry="1.3" fill="#ff5000"/><ellipse cx="502.0" cy="296.2" rx="2.5" ry="0.9" fill="#ff5000"/></g>
<circle cx="435.5" cy="361.6" r="1.1" fill="#f4f0f0"/>
<circle cx="441.8" cy="356.1" r="1.1" fill="#f4f0f0"/>
<circle cx="447.9" cy="350.0" r="1.1" fill="#f4f0f0"/>
<circle cx="453.0" cy="345.3" r="1.1" fill="#f4f0f0"/>
<circle cx="459.1" cy="339.0" r="1.1" fill="#f4f0f0"/>
<circle cx="465.5" cy="334.9" r="1.1" fill="#f4f0f0"/>
<circle cx="469.4" cy="328.3" r="1.1" fill="#f4f0f0"/>
<circle cx="476.9" cy="323.0" r="1.1" fill="#f4f0f0"/>
<circle cx="481.4" cy="316.9" r="1.1" fill="#f4f0f0"/>
<circle cx="486.6" cy="311.3" r="1.1" fill="#f4f0f0"/>
<circle cx="492.1" cy="306.2" r="1.1" fill="#f4f0f0"/>
<circle cx="497.8" cy="300.1" r="1.1" fill="#f4f0f0"/>
</g>
<g clip-path="url(#gc12)">
<path d="M507.0 367.0 L522.0 366.5 L524.7 361.6 L538.9 349.8 L543.6 335.7 L560.1 324.0 L569.6 312.0 L586.1 300.3 L587.0 299.0" fill="none" stroke="#480000" stroke-width="10" stroke-linejoin="round" filter="url(#gb1)"/>
<path d="M507.0 367.0 L522.0 366.5 L524.7 361.6 L538.9 349.8 L543.6 335.7 L560.1 324.0 L569.6 312.0 L586.1 300.3 L587.0 299.0" fill="none" stroke="#b01000" stroke-width="3.6" stroke-linejoin="round" filter="url(#gb2)"/>
<g filter="url(#gb2)"><ellipse cx="505.3" cy="366.9" rx="1.1" ry="1.0" fill="#ffe070"/><ellipse cx="510.4" cy="367.6" rx="1.9" ry="1.4" fill="#ffb030"/><ellipse cx="512.3" cy="367.9" rx="1.8" ry="1.4" fill="#ff5000"/><ellipse cx="514.5" cy="366.0" rx="1.7" ry="1.2" fill="#ff8000"/><ellipse cx="520.0" cy="365.5" rx="1.8" ry="1.3" fill="#ff8000"/><ellipse cx="521.2" cy="368.0" rx="2.4" ry="1.2" fill="#ff8000"/><ellipse cx="525.5" cy="365.1" rx="2.4" ry="1.1" fill="#ff5000"/><ellipse cx="527.8" cy="364.0" rx="1.2" ry="1.4" fill="#ffb030"/><ellipse cx="525.6" cy="358.7" rx="1.6" ry="1.0" fill="#e02800"/><ellipse cx="528.7" cy="361.6" rx="1.9" ry="1.0" fill="#ff5000"/><ellipse cx="530.6" cy="356.3" rx="2.4" ry="1.0" fill="#e02800"/><ellipse cx="531.8" cy="352.4" rx="1.2" ry="1.2" fill="#ffe070"/><ellipse cx="533.8" cy="352.4" rx="2.0" ry="1.1" fill="#ff5000"/><ellipse cx="537.0" cy="348.5" rx="1.2" ry="1.3" fill="#ff5000"/><ellipse cx="538.7" cy="349.3" rx="2.6" ry="1.1" fill="#e02800"/><ellipse cx="540.1" cy="346.1" rx="2.3" ry="0.9" fill="#ffe070"/><ellipse cx="540.2" cy="343.9" rx="2.2" ry="1.4" fill="#ffe070"/><ellipse cx="543.2" cy="342.5" rx="2.3" ry="1.0" fill="#ff5000"/><ellipse cx="542.5" cy="339.3" rx="1.9" ry="1.5" fill="#ffb030"/><ellipse cx="543.3" cy="333.1" rx="1.3" ry="1.4" fill="#ff8000"/><ellipse cx="547.5" cy="333.8" rx="2.1" ry="1.3" fill="#e02800"/><ellipse cx="548.1" cy="333.1" rx="1.2" ry="1.2" fill="#ff8000"/><ellipse cx="548.7" cy="329.4" rx="1.2" ry="1.0" fill="#ffb030"/><ellipse cx="553.5" cy="326.8" rx="1.2" ry="1.5" fill="#ffb030"/><ellipse cx="554.5" cy="326.8" rx="2.2" ry="1.5" fill="#ffb030"/><ellipse cx="559.5" cy="327.3" rx="2.2" ry="1.5" fill="#ff5000"/><ellipse cx="559.9" cy="324.4" rx="1.8" ry="1.2" fill="#ff5000"/><ellipse cx="560.6" cy="323.8" rx="1.7" ry="1.3" fill="#e02800"/><ellipse cx="565.1" cy="320.0" rx="1.9" ry="1.1" fill="#ff8000"/><ellipse cx="564.0" cy="317.5" rx="1.6" ry="1.4" fill="#ff8000"/><ellipse cx="570.0" cy="314.4" rx="2.5" ry="1.1" fill="#ffb030"/><ellipse cx="568.0" cy="313.9" rx="2.6" ry="1.0" fill="#e02800"/><ellipse cx="572.2" cy="310.1" rx="2.1" ry="1.4" fill="#e02800"/><ellipse cx="572.4" cy="311.2" rx="1.9" ry="1.3" fill="#ff5000"/><ellipse cx="577.0" cy="309.4" rx="2.4" ry="1.3" fill="#e02800"/><ellipse cx="578.8" cy="306.8" rx="2.2" ry="1.2" fill="#ff5000"/><ellipse cx="582.5" cy="304.6" rx="2.3" ry="1.2" fill="#ff5000"/><ellipse cx="585.0" cy="301.5" rx="2.0" ry="1.3" fill="#ff5000"/><ellipse cx="586.5" cy="300.9" rx="2.3" ry="1.1" fill="#ff5000"/><ellipse cx="586.3" cy="299.0" rx="1.9" ry="1.2" fill="#ff8000"/></g>
<circle cx="521.5" cy="362.1" r="1.1" fill="#f4f0f0"/>
<circle cx="527.9" cy="356.3" r="1.1" fill="#f4f0f0"/>
<circle cx="533.3" cy="349.9" r="1.1" fill="#f4f0f0"/>
<circle cx="538.9" cy="344.8" r="1.1" fill="#f4f0f0"/>
<circle cx="544.1" cy="339.5" r="1.1" fill="#f4f0f0"/>
<circle cx="548.0" cy="333.4" r="1.1" fill="#f4f0f0"/>
<circle cx="554.8" cy="329.0" r="1.1" fill="#f4f0f0"/>
<circle cx="560.3" cy="322.7" r="1.1" fill="#f4f0f0"/>
<circle cx="564.9" cy="317.6" r="1.1" fill="#f4f0f0"/>
<circle cx="572.0" cy="311.3" r="1.1" fill="#f4f0f0"/>
<circle cx="576.4" cy="304.8" r="1.1" fill="#f4f0f0"/>
<circle cx="582.4" cy="301.4" r="1.1" fill="#f4f0f0"/>
</g>
<g clip-path="url(#gc11)"><path d="M452.3 333.5 L466.3 334.5 L473.3 327.0 L479.3 322.0" fill="none" stroke="#480000" stroke-width="9" filter="url(#gb1)"/><path d="M452.3 333.5 L466.3 334.5 L473.3 327.0 L479.3 322.0" fill="none" stroke="#c02000" stroke-width="3" filter="url(#gb2)"/><ellipse cx="457.3" cy="334.0" rx="4" ry="1.4" fill="#ff9020" filter="url(#gb2)"/><ellipse cx="464.3" cy="334.5" rx="3" ry="1.3" fill="#ffb040" filter="url(#gb2)"/></g>
<text x="413.0" y="277.4" font-size="12" text-anchor="end" fill="#d8d8d8" color="#d8d8d8" >9.7 cm</text>
<text x="497.3" y="277.4" font-size="12" text-anchor="end" fill="#d8d8d8" color="#d8d8d8" >11.8 cm</text>
<text x="583.0" y="277.4" font-size="12" text-anchor="end" fill="#d8d8d8" color="#d8d8d8" >12.9 cm</text>
<text x="413.0" y="373.0" font-size="12" text-anchor="end" fill="#d8d8d8" color="#d8d8d8" >10.3 cm</text>
<text x="497.3" y="373.0" font-size="12" text-anchor="end" fill="#d8d8d8" color="#d8d8d8" >10.6 cm</text>
<text x="583.0" y="373.0" font-size="12" text-anchor="end" fill="#d8d8d8" color="#d8d8d8" >8.8 cm</text>
<text x="341.0" y="215.9" font-size="13" text-anchor="start" fill="#d8d8d8" color="#d8d8d8" >CA1</text>
<text x="341.0" y="311.5" font-size="13" text-anchor="start" fill="#d8d8d8" color="#d8d8d8" >SUB</text>
<text x="331.0" y="204.5" font-size="12.5" text-anchor="end" fill="#262626" color="#262626" >100</text>
<text x="331.0" y="244.5" font-size="12.5" text-anchor="end" fill="#262626" color="#262626" >0</text>
<text x="331.0" y="284.5" font-size="12.5" text-anchor="end" fill="#262626" color="#262626" >&#8722;100</text>
<text x="331.0" y="300.0" font-size="12.5" text-anchor="end" fill="#262626" color="#262626" >100</text>
<text x="331.0" y="340.0" font-size="12.5" text-anchor="end" fill="#262626" color="#262626" >0</text>
<text x="331.0" y="380.0" font-size="12.5" text-anchor="end" fill="#262626" color="#262626" >&#8722;100</text>
<text transform="translate(297.0,288.0) rotate(-90)" font-size="14.5" text-anchor="middle" fill="#262626" color="#262626">Position (cm)</text>
<text x="361.3" y="393.2" font-size="12.5" text-anchor="middle" fill="#262626" color="#262626" >571</text>
<text x="399.3" y="393.2" font-size="12.5" text-anchor="middle" fill="#262626" color="#262626" >572</text>
<text x="453.0" y="393.2" font-size="12.5" text-anchor="middle" fill="#262626" color="#262626" >589</text>
<text x="492.0" y="393.2" font-size="12.5" text-anchor="middle" fill="#262626" color="#262626" >590</text>
<text x="532.5" y="393.2" font-size="12.5" text-anchor="middle" fill="#262626" color="#262626" >614</text>
<text x="575.0" y="393.2" font-size="12.5" text-anchor="middle" fill="#262626" color="#262626" >615</text>
<text x="464.5" y="410.0" font-size="14.5" text-anchor="middle" fill="#262626" color="#262626" >Time (s)</text>
<rect x="545.5" y="401" width="42" height="6" fill="url(#hot)" stroke="#1a1a1a" stroke-width="1.2"/>
<text x="545.5" y="420.0" font-size="12.5" text-anchor="middle" fill="#262626" color="#262626" >0</text>
<text x="586.5" y="420.0" font-size="12.5" text-anchor="middle" fill="#262626" color="#262626" >Max</text>
<text x="605" y="205" font-size="17" font-weight="bold" fill="#000" color="#000">H</text>
<line x1="644.50" y1="200.40" x2="644.50" y2="375.20" stroke="#333333" stroke-width="1.2" />
<line x1="644.50" y1="375.20" x2="829.90" y2="375.20" stroke="#333333" stroke-width="1.2" />
<line x1="644.50" y1="375.20" x2="647.00" y2="375.20" stroke="#333333" stroke-width="1.2" />
<text x="638.0" y="379.5" font-size="12.5" text-anchor="end" fill="#262626" color="#262626" >0</text>
<line x1="644.50" y1="331.50" x2="647.00" y2="331.50" stroke="#333333" stroke-width="1.2" />
<text x="638.0" y="335.8" font-size="12.5" text-anchor="end" fill="#262626" color="#262626" >20</text>
<line x1="644.50" y1="287.80" x2="647.00" y2="287.80" stroke="#333333" stroke-width="1.2" />
<text x="638.0" y="292.1" font-size="12.5" text-anchor="end" fill="#262626" color="#262626" >40</text>
<line x1="644.50" y1="244.10" x2="647.00" y2="244.10" stroke="#333333" stroke-width="1.2" />
<text x="638.0" y="248.4" font-size="12.5" text-anchor="end" fill="#262626" color="#262626" >60</text>
<line x1="644.50" y1="200.40" x2="647.00" y2="200.40" stroke="#333333" stroke-width="1.2" />
<text x="638.0" y="204.7" font-size="12.5" text-anchor="end" fill="#262626" color="#262626" >80</text>
<line x1="644.50" y1="375.20" x2="644.50" y2="372.70" stroke="#333333" stroke-width="1.2" />
<text x="644.5" y="392.5" font-size="12.5" text-anchor="middle" fill="#262626" color="#262626" >0</text>
<line x1="690.85" y1="375.20" x2="690.85" y2="372.70" stroke="#333333" stroke-width="1.2" />
<text x="690.9" y="392.5" font-size="12.5" text-anchor="middle" fill="#262626" color="#262626" >5</text>
<line x1="737.20" y1="375.20" x2="737.20" y2="372.70" stroke="#333333" stroke-width="1.2" />
<text x="737.2" y="392.5" font-size="12.5" text-anchor="middle" fill="#262626" color="#262626" >10</text>
<line x1="783.55" y1="375.20" x2="783.55" y2="372.70" stroke="#333333" stroke-width="1.2" />
<text x="783.5" y="392.5" font-size="12.5" text-anchor="middle" fill="#262626" color="#262626" >15</text>
<line x1="829.90" y1="375.20" x2="829.90" y2="372.70" stroke="#333333" stroke-width="1.2" />
<text x="829.9" y="392.5" font-size="12.5" text-anchor="middle" fill="#262626" color="#262626" >20</text>
<text transform="translate(618.5,287.0) rotate(-90)" font-size="14.5" text-anchor="middle" fill="#262626" color="#262626">Error (cm)</text>
<text x="737.0" y="410.5" font-size="14.5" text-anchor="middle" fill="#262626" color="#262626" ># of units used for decoding</text>
<path d="M653.8 226.6 L663.0 239.7 L672.3 252.8 L681.6 261.6 L690.9 269.2 L700.1 275.8 L709.4 281.2 L718.7 285.6 L727.9 290.0 L737.2 293.3 L746.5 296.5 L755.7 298.7 L765.0 300.9 L774.3 303.1 L783.5 304.2 L792.8 305.3 L802.1 306.4 L811.4 307.5 L820.6 307.5 L829.9 308.6 L829.9 343.5 L820.6 343.5 L811.4 344.6 L802.1 342.4 L792.8 339.1 L783.5 337.0 L774.3 334.8 L765.0 332.6 L755.7 330.4 L746.5 328.2 L737.2 327.1 L727.9 324.9 L718.7 322.8 L709.4 319.5 L700.1 315.1 L690.9 310.7 L681.6 305.3 L672.3 298.7 L663.0 290.0 L653.8 279.1Z" fill="#f8dacd" stroke="none" />
<path d="M653.8 226.6 L663.0 239.7 L672.3 251.7 L681.6 262.7 L690.9 270.3 L700.1 278.0 L709.4 284.5 L718.7 290.0 L727.9 294.4 L737.2 298.7 L746.5 302.0 L755.7 304.2 L765.0 306.4 L774.3 308.6 L783.5 309.6 L792.8 311.8 L802.1 312.9 L811.4 315.1 L820.6 317.3 L829.9 319.5 L829.9 329.3 L820.6 328.2 L811.4 327.1 L802.1 324.9 L792.8 323.9 L783.5 322.8 L774.3 321.7 L765.0 320.6 L755.7 318.4 L746.5 317.3 L737.2 315.1 L727.9 310.7 L718.7 307.5 L709.4 303.1 L700.1 298.7 L690.9 292.2 L681.6 285.6 L672.3 276.9 L663.0 265.9 L653.8 255.0Z" fill="#c8c8cc" stroke="none" opacity="0.6"/>
<path d="M653.8 201.7 L663.0 211.8 L672.3 214.6 L681.6 216.8 L690.9 217.9 L700.1 218.3 L709.4 218.8 L718.7 219.0 L727.9 219.2 L737.2 219.4 L746.5 219.4 L755.7 219.4 L765.0 219.6 L774.3 219.6 L783.5 219.6 L792.8 219.6 L802.1 219.6 L811.4 219.6 L820.6 219.6 L829.9 219.6 L829.9 223.1 L820.6 223.1 L811.4 223.1 L802.1 223.1 L792.8 223.1 L783.5 223.1 L774.3 223.1 L765.0 223.1 L755.7 223.1 L746.5 223.1 L737.2 223.1 L727.9 223.1 L718.7 223.1 L709.4 223.1 L700.1 223.3 L690.9 223.6 L681.6 224.0 L672.3 224.4 L663.0 225.1 L653.8 231.0Z" fill="#c8c8c8" stroke="none" />
<path d="M653.8 238.6 L663.0 251.7 L672.3 263.8 L681.6 274.7 L690.9 282.3 L700.1 289.3 L709.4 294.8 L718.7 299.2 L727.9 304.6 L737.2 311.2 L746.5 310.7 L755.7 313.4 L765.0 315.1 L774.3 317.3 L783.5 320.4 L792.8 328.7 L802.1 330.0 L811.4 330.8 L820.6 326.7 L829.9 328.2" fill="none" stroke="#de6a36" stroke-width="1.8" stroke-linejoin="round" />
<path d="M653.8 234.3 L663.0 248.5 L672.3 261.6 L681.6 272.5 L690.9 280.2 L700.1 287.8 L709.4 293.3 L718.7 297.6 L727.9 303.1 L737.2 308.6 L746.5 309.0 L755.7 313.4 L765.0 312.1 L774.3 315.1 L783.5 317.3 L792.8 318.4 L802.1 320.4 L811.4 322.1 L820.6 323.9 L829.9 325.6" fill="none" stroke="#2a7ab8" stroke-width="1.8" stroke-linejoin="round" />
<path d="M653.8 227.1 L663.0 239.7 L672.3 253.9 L681.6 261.6 L690.9 265.9 L700.1 270.8 L709.4 275.1 L718.7 279.3 L727.9 283.4 L737.2 286.7 L746.5 289.3 L755.7 292.2 L765.0 295.0 L774.3 298.7 L783.5 301.8 L792.8 304.2 L802.1 306.8 L811.4 309.2 L820.6 311.2 L829.9 313.1" fill="none" stroke="#de6a36" stroke-width="2.1" stroke-linejoin="round" stroke-dasharray="9 3.5 2 3.5"/>
<path d="M653.8 266.8 L663.0 271.8 L672.3 276.9 L681.6 280.2 L690.9 283.4 L700.1 288.9 L709.4 293.7 L718.7 298.1 L727.9 303.1 L737.2 307.9 L746.5 309.6 L755.7 311.8 L765.0 312.9 L774.3 314.9 L783.5 316.6 L792.8 318.4 L802.1 320.1 L811.4 321.9 L820.6 323.6 L829.9 325.4" fill="none" stroke="#2a7ab8" stroke-width="1.6" stroke-linejoin="round" stroke-dasharray="1.5 3"/>
<path d="M653.8 250.7 L663.0 261.6 L672.3 271.4 L681.6 280.2 L690.9 286.7 L700.1 292.2 L709.4 297.0 L718.7 300.9 L727.9 305.7 L737.2 310.7 L746.5 312.3 L755.7 315.1 L765.0 316.2 L774.3 318.0 L783.5 319.5 L792.8 320.6 L802.1 321.7 L811.4 322.8 L820.6 323.9 L829.9 324.9" fill="none" stroke="#de6a36" stroke-width="1.5" stroke-linejoin="round" stroke-dasharray="1.5 3" opacity="0.8"/>
<path d="M653.8 215.9 L663.0 218.3 L672.3 219.6 L681.6 220.5 L690.9 220.9 L700.1 221.2 L709.4 221.4 L718.7 221.4 L727.9 221.6 L737.2 221.6 L746.5 221.6 L755.7 221.6 L765.0 221.6 L774.3 221.6 L783.5 221.6 L792.8 221.6 L802.1 221.6 L811.4 221.6 L820.6 221.6 L829.9 221.6" fill="none" stroke="#111" stroke-width="2.6" stroke-linejoin="round" />
<path d="M653.8 231.0 L663.0 226.8 L672.3 223.3 L681.6 222.0 L690.9 221.6 L700.1 221.6 L709.4 221.6 L718.7 221.6 L727.9 221.6 L737.2 221.6 L746.5 221.6 L755.7 221.6 L765.0 221.6 L774.3 221.6 L783.5 221.6 L792.8 221.6 L802.1 221.6 L811.4 221.6 L820.6 221.6 L829.9 221.6" fill="none" stroke="#111" stroke-width="1.6" stroke-linejoin="round" stroke-dasharray="1.5 3"/>
<line x1="650.00" y1="329.40" x2="668.00" y2="329.40" stroke="#2a7ab8" stroke-width="2" />
<line x1="673.50" y1="329.40" x2="691.00" y2="329.40" stroke="#2a7ab8" stroke-width="1.8" stroke-dasharray="1.8 3.5"/>
<text x="695.5" y="333.4" font-size="14.5" text-anchor="start" fill="#262626" color="#262626" >CA1</text>
<line x1="650.00" y1="345.80" x2="668.00" y2="345.80" stroke="#de6a36" stroke-width="2" />
<line x1="673.50" y1="345.80" x2="691.00" y2="345.80" stroke="#de6a36" stroke-width="1.8" stroke-dasharray="1.8 3.5"/>
<text x="695.5" y="349.8" font-size="14.5" text-anchor="start" fill="#262626" color="#262626" >SUB</text>
<line x1="650.00" y1="362.20" x2="668.00" y2="362.20" stroke="#111" stroke-width="2" />
<line x1="673.50" y1="362.20" x2="691.00" y2="362.20" stroke="#111" stroke-width="1.8" stroke-dasharray="1.8 3.5"/>
<text x="695.5" y="366.2" font-size="14.5" text-anchor="start" fill="#262626" color="#262626" >Shuffled</text>
<text x="843" y="205" font-size="17" font-weight="bold" fill="#000" color="#000">I</text>
<line x1="881.40" y1="200.40" x2="881.40" y2="375.00" stroke="#333333" stroke-width="1.2" />
<line x1="881.40" y1="375.00" x2="1066.05" y2="375.00" stroke="#333333" stroke-width="1.2" />
<line x1="881.40" y1="375.00" x2="883.90" y2="375.00" stroke="#333333" stroke-width="1.2" />
<text x="876.3" y="379.3" font-size="12.5" text-anchor="end" fill="#262626" color="#262626" >0</text>
<line x1="881.40" y1="340.00" x2="883.90" y2="340.00" stroke="#333333" stroke-width="1.2" />
<text x="876.3" y="344.3" font-size="12.5" text-anchor="end" fill="#262626" color="#262626" >10</text>
<line x1="881.40" y1="305.00" x2="883.90" y2="305.00" stroke="#333333" stroke-width="1.2" />
<text x="876.3" y="309.3" font-size="12.5" text-anchor="end" fill="#262626" color="#262626" >20</text>
<line x1="881.40" y1="270.00" x2="883.90" y2="270.00" stroke="#333333" stroke-width="1.2" />
<text x="876.3" y="274.3" font-size="12.5" text-anchor="end" fill="#262626" color="#262626" >30</text>
<line x1="881.40" y1="235.00" x2="883.90" y2="235.00" stroke="#333333" stroke-width="1.2" />
<text x="876.3" y="239.3" font-size="12.5" text-anchor="end" fill="#262626" color="#262626" >40</text>
<line x1="881.40" y1="200.00" x2="883.90" y2="200.00" stroke="#333333" stroke-width="1.2" />
<text x="876.3" y="204.3" font-size="12.5" text-anchor="end" fill="#262626" color="#262626" >50</text>
<line x1="881.35" y1="375.00" x2="881.35" y2="372.50" stroke="#333333" stroke-width="1.2" />
<text x="881.4" y="392.5" font-size="12.5" text-anchor="middle" fill="#262626" color="#262626" >&#8722;5</text>
<line x1="973.70" y1="375.00" x2="973.70" y2="372.50" stroke="#333333" stroke-width="1.2" />
<text x="973.7" y="392.5" font-size="12.5" text-anchor="middle" fill="#262626" color="#262626" >0</text>
<line x1="1066.05" y1="375.00" x2="1066.05" y2="372.50" stroke="#333333" stroke-width="1.2" />
<text x="1066.0" y="392.5" font-size="12.5" text-anchor="middle" fill="#262626" color="#262626" >5</text>
<text transform="translate(855.0,282.5) rotate(-90)" font-size="14.5" text-anchor="middle" fill="#262626" color="#262626">&#916; Error (cm)</text>
<text x="974.0" y="410.0" font-size="14.5" text-anchor="middle" fill="#262626" color="#262626" >Removed or added spikes (Hz)</text>
<path d="M881.4 238.8 L933.1 291.0 L955.2 319.4 L973.7 375.0 L992.2 348.4 L1066.0 318.6 L1066.0 350.5 L992.2 368.0 L973.7 375.0 L955.2 368.0 L881.4 329.5Z" fill="#c9dff0" stroke="none" />
<path d="M881.4 314.4 L955.2 361.0 L973.7 375.0 L992.2 365.9 L1066.0 340.7 L1066.0 359.9 L992.2 372.2 L973.7 375.0 L955.2 373.2 L881.4 358.9Z" fill="#f2c9b6" stroke="none" opacity="0.7"/>
<path d="M881.4 275.6 L933.1 333.0 L955.2 346.3 L973.7 375.0 L992.2 359.6 L1066.0 334.8" fill="none" stroke="#2a7ab8" stroke-width="1.8" stroke-linejoin="round" />
<path d="M881.4 335.1 L973.7 375.0 L992.2 366.9 L1066.0 350.5" fill="none" stroke="#de6a36" stroke-width="1.8" stroke-linejoin="round" />
<line x1="881.40" y1="230.30" x2="964.30" y2="230.30" stroke="#333" stroke-width="1.3" />
<line x1="983.20" y1="312.60" x2="1065.70" y2="312.60" stroke="#333" stroke-width="1.3" />
<text x="923" y="226" font-size="12" text-anchor="middle" fill="#262626"><tspan font-style="italic">P</tspan> &lt; 0.01</text>
<text x="1024.5" y="308.5" font-size="12" text-anchor="middle" fill="#262626"><tspan font-style="italic">P</tspan> &lt; 0.01</text>
<line x1="991.00" y1="244.50" x2="1019.80" y2="244.50" stroke="#2a7ab8" stroke-width="2" />
<line x1="991.00" y1="260.50" x2="1019.80" y2="260.50" stroke="#de6a36" stroke-width="2" />
<text x="1024.4" y="248.2" font-size="14.5" text-anchor="start" fill="#262626" color="#262626" >CA1</text>
<text x="1024.4" y="264.4" font-size="14.5" text-anchor="start" fill="#262626" color="#262626" >SUB</text>
<text x="2" y="441" font-size="17" font-weight="bold" fill="#000" color="#000">J</text>
<rect x="52" y="434.3" width="209" height="33.7" fill="none" stroke="#111" stroke-width="1"/>
<text transform="translate(42.0,451.2) rotate(-90)" font-size="14.5" text-anchor="middle" fill="#262626" color="#262626">AV</text>
<rect x="52" y="473.6" width="209" height="33.7" fill="none" stroke="#111" stroke-width="1"/>
<text transform="translate(42.0,490.5) rotate(-90)" font-size="14.5" text-anchor="middle" fill="#262626" color="#262626">MMB</text>
<rect x="52" y="512.6" width="209" height="33.7" fill="none" stroke="#111" stroke-width="1"/>
<text transform="translate(42.0,529.5) rotate(-90)" font-size="14.5" text-anchor="middle" fill="#262626" color="#262626">NAC</text>
<rect x="52" y="550.5" width="209" height="33.7" fill="none" stroke="#111" stroke-width="1"/>
<text transform="translate(42.0,567.4) rotate(-90)" font-size="14.5" text-anchor="middle" fill="#262626" color="#262626">RSC</text>
<text transform="translate(14.0,509.0) rotate(-90)" font-size="14.5" text-anchor="middle" fill="#262626" color="#262626">Projection target</text>
<text x="52.0" y="602.0" font-size="12.5" text-anchor="middle" fill="#262626" color="#262626" >&#8722;100</text>
<text x="155.6" y="602.0" font-size="12.5" text-anchor="middle" fill="#262626" color="#262626" >0</text>
<text x="261.0" y="602.0" font-size="12.5" text-anchor="middle" fill="#262626" color="#262626" >100</text>
<text x="160.5" y="620.5" font-size="14.5" text-anchor="middle" fill="#262626" color="#262626" >Position (cm)</text>
<text x="344" y="447.5" font-size="17" font-weight="bold" fill="#000" color="#000">K</text>
<line x1="337.30" y1="435.50" x2="337.30" y2="583.50" stroke="#333333" stroke-width="1.2" />
<line x1="337.30" y1="583.50" x2="454.00" y2="583.50" stroke="#333333" stroke-width="1.2" />
<line x1="337.30" y1="583.50" x2="339.80" y2="583.50" stroke="#333333" stroke-width="1.2" />
<text x="331.0" y="587.8" font-size="12.5" text-anchor="end" fill="#262626" color="#262626" >0</text>
<line x1="337.30" y1="553.90" x2="339.80" y2="553.90" stroke="#333333" stroke-width="1.2" />
<text x="331.0" y="558.2" font-size="12.5" text-anchor="end" fill="#262626" color="#262626" >20</text>
<line x1="337.30" y1="524.30" x2="339.80" y2="524.30" stroke="#333333" stroke-width="1.2" />
<text x="331.0" y="528.6" font-size="12.5" text-anchor="end" fill="#262626" color="#262626" >40</text>
<line x1="337.30" y1="494.70" x2="339.80" y2="494.70" stroke="#333333" stroke-width="1.2" />
<text x="331.0" y="499.0" font-size="12.5" text-anchor="end" fill="#262626" color="#262626" >60</text>
<line x1="337.30" y1="465.10" x2="339.80" y2="465.10" stroke="#333333" stroke-width="1.2" />
<text x="331.0" y="469.4" font-size="12.5" text-anchor="end" fill="#262626" color="#262626" >80</text>
<line x1="337.30" y1="435.50" x2="339.80" y2="435.50" stroke="#333333" stroke-width="1.2" />
<text x="331.0" y="439.8" font-size="12.5" text-anchor="end" fill="#262626" color="#262626" >100</text>
<text transform="translate(301.0,509.0) rotate(-90)" font-size="14.5" text-anchor="middle" fill="#262626" color="#262626">Place cells (%)</text>
<rect x="364.4" y="491.9" width="28.2" height="91.6" fill="#0072bd" stroke="#1a1a1a" stroke-width="1.2"/>
<rect x="398.6" y="492.9" width="27.9" height="90.6" fill="#d95319" stroke="#1a1a1a" stroke-width="1.2"/>
<text x="371.6" y="481.3" font-size="12.5" text-anchor="middle" fill="#262626" color="#262626" >96/155</text>
<text x="418.6" y="481.3" font-size="12.5" text-anchor="middle" fill="#262626" color="#262626" >164/268</text>
<text x="378.5" y="601.8" font-size="12.5" text-anchor="middle" fill="#262626" color="#262626" >CA1</text>
<text x="412.5" y="601.8" font-size="12.5" text-anchor="middle" fill="#262626" color="#262626" >SUB</text>
<line x1="378.50" y1="583.50" x2="378.50" y2="581.00" stroke="#111" stroke-width="1.3" />
<line x1="412.50" y1="583.50" x2="412.50" y2="581.00" stroke="#111" stroke-width="1.3" />
<text x="491" y="447.5" font-size="17" font-weight="bold" fill="#000" color="#000">L</text>
<line x1="484.00" y1="435.50" x2="484.00" y2="583.50" stroke="#333333" stroke-width="1.2" />
<line x1="484.00" y1="583.50" x2="672.00" y2="583.50" stroke="#333333" stroke-width="1.2" />
<line x1="484.00" y1="583.50" x2="486.50" y2="583.50" stroke="#333333" stroke-width="1.2" />
<text x="478.0" y="587.8" font-size="12.5" text-anchor="end" fill="#262626" color="#262626" >0</text>
<line x1="484.00" y1="553.90" x2="486.50" y2="553.90" stroke="#333333" stroke-width="1.2" />
<text x="478.0" y="558.2" font-size="12.5" text-anchor="end" fill="#262626" color="#262626" >20</text>
<line x1="484.00" y1="524.30" x2="486.50" y2="524.30" stroke="#333333" stroke-width="1.2" />
<text x="478.0" y="528.6" font-size="12.5" text-anchor="end" fill="#262626" color="#262626" >40</text>
<line x1="484.00" y1="494.70" x2="486.50" y2="494.70" stroke="#333333" stroke-width="1.2" />
<text x="478.0" y="499.0" font-size="12.5" text-anchor="end" fill="#262626" color="#262626" >60</text>
<line x1="484.00" y1="465.10" x2="486.50" y2="465.10" stroke="#333333" stroke-width="1.2" />
<text x="478.0" y="469.4" font-size="12.5" text-anchor="end" fill="#262626" color="#262626" >80</text>
<line x1="484.00" y1="435.50" x2="486.50" y2="435.50" stroke="#333333" stroke-width="1.2" />
<text x="478.0" y="439.8" font-size="12.5" text-anchor="end" fill="#262626" color="#262626" >100</text>
<line x1="486.50" y1="492.50" x2="662.00" y2="492.50" stroke="#8a8a8a" stroke-width="1.6" stroke-dasharray="1.6 4.6"/>
<rect x="511.3" y="516.2" width="28.1" height="67.3" fill="#edb120" stroke="#1a1a1a" stroke-width="1.2"/>
<text x="525.4" y="506.4" font-size="12.5" text-anchor="middle" fill="#262626" color="#262626" >5/11</text>
<text x="525.4" y="601.8" font-size="12.5" text-anchor="middle" fill="#262626" color="#262626" >AV</text>
<line x1="525.35" y1="583.50" x2="525.35" y2="581.00" stroke="#111" stroke-width="1.3" />
<rect x="546.2" y="480.5" width="28.3" height="103.0" fill="#7e2f8e" stroke="#1a1a1a" stroke-width="1.2"/>
<text x="560.4" y="470.7" font-size="12.5" text-anchor="middle" fill="#262626" color="#262626" >16/23</text>
<text x="560.4" y="601.8" font-size="12.5" text-anchor="middle" fill="#262626" color="#262626" >MMB</text>
<line x1="560.35" y1="583.50" x2="560.35" y2="581.00" stroke="#111" stroke-width="1.3" />
<rect x="580.8" y="487.7" width="28.9" height="95.8" fill="#77ac30" stroke="#1a1a1a" stroke-width="1.2"/>
<text x="595.2" y="477.9" font-size="12.5" text-anchor="middle" fill="#262626" color="#262626" >11/17</text>
<text x="595.2" y="601.8" font-size="12.5" text-anchor="middle" fill="#262626" color="#262626" >NAC</text>
<line x1="595.25" y1="583.50" x2="595.25" y2="581.00" stroke="#111" stroke-width="1.3" />
<rect x="615.8" y="484.8" width="28.6" height="98.7" fill="#4dbeee" stroke="#1a1a1a" stroke-width="1.2"/>
<text x="630.1" y="475.0" font-size="12.5" text-anchor="middle" fill="#262626" color="#262626" >10/15</text>
<text x="630.1" y="601.8" font-size="12.5" text-anchor="middle" fill="#262626" color="#262626" >RSC</text>
<line x1="630.10" y1="583.50" x2="630.10" y2="581.00" stroke="#111" stroke-width="1.3" />
<text x="577.5" y="620.5" font-size="14.5" text-anchor="middle" fill="#262626" color="#262626" >Projection target</text>
</svg></body></html>
